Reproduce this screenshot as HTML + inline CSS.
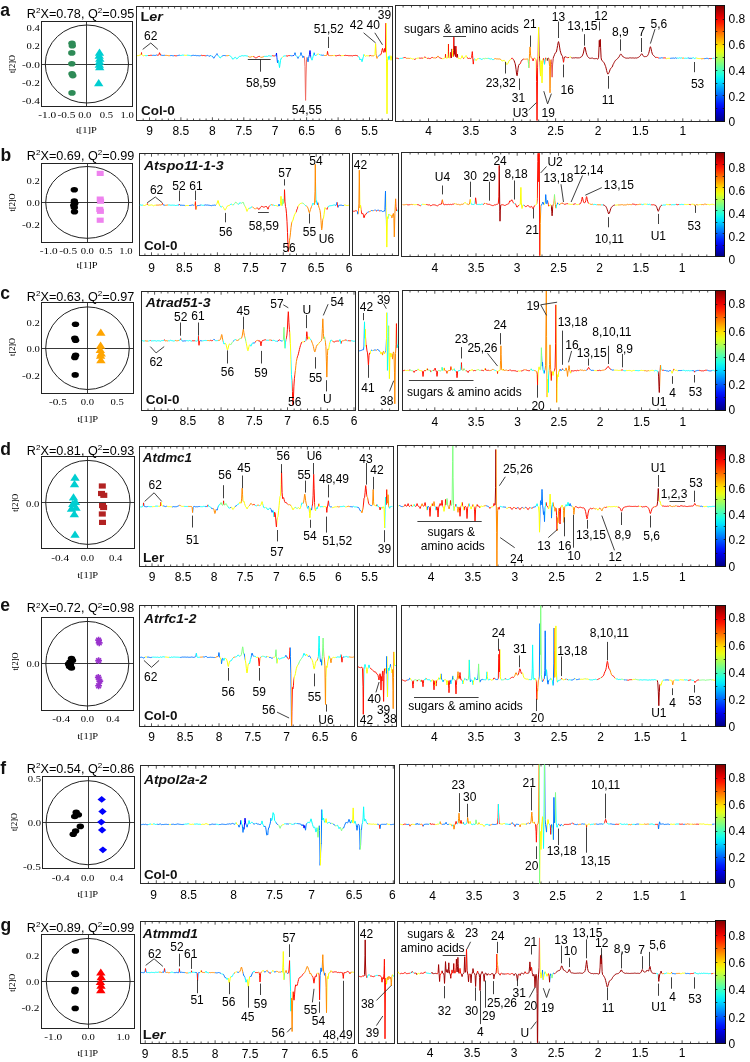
<!DOCTYPE html>
<html><head><meta charset="utf-8"><style>
html,body{margin:0;padding:0;background:#fff;width:750px;height:1062px;overflow:hidden}
svg{display:block;font-family:"Liberation Sans",sans-serif;font-size:12px;will-change:transform}
</style></head><body>
<svg width="750" height="1062" viewBox="0 0 750 1062">
<defs><linearGradient id="jetv" x1="0" y1="0" x2="0" y2="1"><stop offset="0.000" stop-color="#800000"/><stop offset="0.050" stop-color="#b30000"/><stop offset="0.100" stop-color="#e50000"/><stop offset="0.150" stop-color="#ff1a00"/><stop offset="0.200" stop-color="#ff4c00"/><stop offset="0.250" stop-color="#ff8000"/><stop offset="0.300" stop-color="#ffb300"/><stop offset="0.350" stop-color="#ffe500"/><stop offset="0.400" stop-color="#e5ff1a"/><stop offset="0.450" stop-color="#b3ff4c"/><stop offset="0.500" stop-color="#80ff80"/><stop offset="0.550" stop-color="#4cffb3"/><stop offset="0.600" stop-color="#1affe5"/><stop offset="0.650" stop-color="#00e5ff"/><stop offset="0.700" stop-color="#00b3ff"/><stop offset="0.750" stop-color="#0080ff"/><stop offset="0.800" stop-color="#004cff"/><stop offset="0.850" stop-color="#001aff"/><stop offset="0.900" stop-color="#0000e5"/><stop offset="0.950" stop-color="#0000b3"/><stop offset="1.000" stop-color="#000080"/></linearGradient><linearGradient id="g1" gradientUnits="userSpaceOnUse" x1="136.5" y1="0" x2="392.7" y2="0"><stop offset="0.10%" stop-color="#faff05"/><stop offset="1.66%" stop-color="#faff05"/><stop offset="1.66%" stop-color="#ff0f00"/><stop offset="2.24%" stop-color="#ff0f00"/><stop offset="2.24%" stop-color="#faff05"/><stop offset="3.42%" stop-color="#faff05"/><stop offset="3.42%" stop-color="#05fffa"/><stop offset="4.59%" stop-color="#05fffa"/><stop offset="4.59%" stop-color="#ff0f00"/><stop offset="5.95%" stop-color="#ff0f00"/><stop offset="5.95%" stop-color="#0075ff"/><stop offset="7.90%" stop-color="#0075ff"/><stop offset="7.90%" stop-color="#ff0f00"/><stop offset="9.66%" stop-color="#ff0f00"/><stop offset="9.66%" stop-color="#0075ff"/><stop offset="11.22%" stop-color="#0075ff"/><stop offset="11.22%" stop-color="#ff8a00"/><stop offset="13.17%" stop-color="#ff8a00"/><stop offset="13.17%" stop-color="#0075ff"/><stop offset="14.73%" stop-color="#0075ff"/><stop offset="14.73%" stop-color="#ff0f00"/><stop offset="15.71%" stop-color="#ff0f00"/><stop offset="15.71%" stop-color="#0075ff"/><stop offset="16.88%" stop-color="#0075ff"/><stop offset="16.88%" stop-color="#05fffa"/><stop offset="18.44%" stop-color="#05fffa"/><stop offset="18.44%" stop-color="#faff05"/><stop offset="19.61%" stop-color="#faff05"/><stop offset="19.61%" stop-color="#05fffa"/><stop offset="21.17%" stop-color="#05fffa"/><stop offset="21.17%" stop-color="#0075ff"/><stop offset="25.27%" stop-color="#0075ff"/><stop offset="25.27%" stop-color="#ff0f00"/><stop offset="27.22%" stop-color="#ff0f00"/><stop offset="27.22%" stop-color="#0075ff"/><stop offset="28.98%" stop-color="#0075ff"/><stop offset="28.98%" stop-color="#05fffa"/><stop offset="29.57%" stop-color="#05fffa"/><stop offset="29.57%" stop-color="#0075ff"/><stop offset="31.91%" stop-color="#0075ff"/><stop offset="31.91%" stop-color="#05fffa"/><stop offset="33.27%" stop-color="#05fffa"/><stop offset="33.27%" stop-color="#0075ff"/><stop offset="34.84%" stop-color="#0075ff"/><stop offset="34.84%" stop-color="#ff8a00"/><stop offset="36.20%" stop-color="#ff8a00"/><stop offset="36.20%" stop-color="#05fffa"/><stop offset="43.42%" stop-color="#05fffa"/><stop offset="43.42%" stop-color="#ff8a00"/><stop offset="45.18%" stop-color="#ff8a00"/><stop offset="45.18%" stop-color="#faff05"/><stop offset="45.37%" stop-color="#faff05"/><stop offset="45.37%" stop-color="#ff8a00"/><stop offset="45.57%" stop-color="#ff8a00"/><stop offset="45.57%" stop-color="#ff0f00"/><stop offset="47.72%" stop-color="#ff0f00"/><stop offset="47.72%" stop-color="#ff8a00"/><stop offset="47.91%" stop-color="#ff8a00"/><stop offset="47.91%" stop-color="#ff0f00"/><stop offset="48.11%" stop-color="#ff0f00"/><stop offset="48.11%" stop-color="#ff8a00"/><stop offset="49.86%" stop-color="#ff8a00"/><stop offset="49.86%" stop-color="#05fffa"/><stop offset="52.99%" stop-color="#05fffa"/><stop offset="52.99%" stop-color="#ff0f00"/><stop offset="54.16%" stop-color="#ff0f00"/><stop offset="54.16%" stop-color="#0075ff"/><stop offset="54.35%" stop-color="#0075ff"/><stop offset="54.35%" stop-color="#0000fa"/><stop offset="54.74%" stop-color="#0000fa"/><stop offset="54.74%" stop-color="#0075ff"/><stop offset="55.13%" stop-color="#0075ff"/><stop offset="55.13%" stop-color="#05fffa"/><stop offset="56.89%" stop-color="#05fffa"/><stop offset="56.89%" stop-color="#faff05"/><stop offset="57.08%" stop-color="#faff05"/><stop offset="57.08%" stop-color="#05fffa"/><stop offset="58.26%" stop-color="#05fffa"/><stop offset="58.26%" stop-color="#ff0f00"/><stop offset="59.82%" stop-color="#ff0f00"/><stop offset="59.82%" stop-color="#0075ff"/><stop offset="61.18%" stop-color="#0075ff"/><stop offset="61.18%" stop-color="#0000fa"/><stop offset="61.57%" stop-color="#0000fa"/><stop offset="61.57%" stop-color="#0075ff"/><stop offset="62.16%" stop-color="#0075ff"/><stop offset="62.16%" stop-color="#05fffa"/><stop offset="62.55%" stop-color="#05fffa"/><stop offset="62.55%" stop-color="#0075ff"/><stop offset="63.52%" stop-color="#0075ff"/><stop offset="63.52%" stop-color="#05fffa"/><stop offset="63.91%" stop-color="#05fffa"/><stop offset="63.91%" stop-color="#0075ff"/><stop offset="65.48%" stop-color="#0075ff"/><stop offset="65.48%" stop-color="#f06a60"/><stop offset="66.65%" stop-color="#f06a60"/><stop offset="66.65%" stop-color="#0075ff"/><stop offset="67.43%" stop-color="#0075ff"/><stop offset="67.43%" stop-color="#0000fa"/><stop offset="68.01%" stop-color="#0000fa"/><stop offset="68.01%" stop-color="#05fffa"/><stop offset="69.18%" stop-color="#05fffa"/><stop offset="69.18%" stop-color="#0075ff"/><stop offset="69.57%" stop-color="#0075ff"/><stop offset="69.57%" stop-color="#05fffa"/><stop offset="70.36%" stop-color="#05fffa"/><stop offset="70.36%" stop-color="#faff05"/><stop offset="71.33%" stop-color="#faff05"/><stop offset="71.33%" stop-color="#05fffa"/><stop offset="72.11%" stop-color="#05fffa"/><stop offset="72.11%" stop-color="#0075ff"/><stop offset="73.09%" stop-color="#0075ff"/><stop offset="73.09%" stop-color="#ff8a00"/><stop offset="74.26%" stop-color="#ff8a00"/><stop offset="74.26%" stop-color="#ff0f00"/><stop offset="75.23%" stop-color="#ff0f00"/><stop offset="75.23%" stop-color="#ff8a00"/><stop offset="76.60%" stop-color="#ff8a00"/><stop offset="76.60%" stop-color="#faff05"/><stop offset="77.58%" stop-color="#faff05"/><stop offset="77.58%" stop-color="#ff0f00"/><stop offset="79.92%" stop-color="#ff0f00"/><stop offset="79.92%" stop-color="#faff05"/><stop offset="81.09%" stop-color="#faff05"/><stop offset="81.09%" stop-color="#ff0f00"/><stop offset="86.55%" stop-color="#ff0f00"/><stop offset="86.55%" stop-color="#05fffa"/><stop offset="88.70%" stop-color="#05fffa"/><stop offset="88.70%" stop-color="#0075ff"/><stop offset="88.90%" stop-color="#0075ff"/><stop offset="88.90%" stop-color="#faff05"/><stop offset="90.65%" stop-color="#faff05"/><stop offset="90.65%" stop-color="#ff0f00"/><stop offset="91.63%" stop-color="#ff0f00"/><stop offset="91.63%" stop-color="#ff8a00"/><stop offset="92.60%" stop-color="#ff8a00"/><stop offset="92.60%" stop-color="#faff05"/><stop offset="93.58%" stop-color="#faff05"/><stop offset="93.58%" stop-color="#ff8a00"/><stop offset="94.36%" stop-color="#ff8a00"/><stop offset="94.36%" stop-color="#0075ff"/><stop offset="95.14%" stop-color="#0075ff"/><stop offset="95.14%" stop-color="#ff0f00"/><stop offset="97.48%" stop-color="#ff0f00"/><stop offset="97.48%" stop-color="#faff05"/><stop offset="98.26%" stop-color="#faff05"/><stop offset="98.26%" stop-color="#05fffa"/><stop offset="99.04%" stop-color="#05fffa"/><stop offset="99.04%" stop-color="#faff05"/></linearGradient>
<clipPath id="k1"><rect x="137" y="7" width="255.2" height="113.3"/></clipPath>
<linearGradient id="g2" gradientUnits="userSpaceOnUse" x1="395.6" y1="0" x2="715.3" y2="0"><stop offset="0.08%" stop-color="#ff0f00"/><stop offset="1.02%" stop-color="#ff0f00"/><stop offset="1.02%" stop-color="#05fffa"/><stop offset="2.27%" stop-color="#05fffa"/><stop offset="2.27%" stop-color="#ff0f00"/><stop offset="3.36%" stop-color="#ff0f00"/><stop offset="3.36%" stop-color="#ff8a00"/><stop offset="4.46%" stop-color="#ff8a00"/><stop offset="4.46%" stop-color="#faff05"/><stop offset="5.86%" stop-color="#faff05"/><stop offset="5.86%" stop-color="#ff0f00"/><stop offset="6.33%" stop-color="#ff0f00"/><stop offset="6.33%" stop-color="#faff05"/><stop offset="7.43%" stop-color="#faff05"/><stop offset="7.43%" stop-color="#ff0f00"/><stop offset="8.68%" stop-color="#ff0f00"/><stop offset="8.68%" stop-color="#faff05"/><stop offset="8.84%" stop-color="#faff05"/><stop offset="8.84%" stop-color="#ff0f00"/><stop offset="9.46%" stop-color="#ff0f00"/><stop offset="9.46%" stop-color="#faff05"/><stop offset="9.93%" stop-color="#faff05"/><stop offset="9.93%" stop-color="#ff0f00"/><stop offset="11.03%" stop-color="#ff0f00"/><stop offset="11.03%" stop-color="#ff8a00"/><stop offset="11.18%" stop-color="#ff8a00"/><stop offset="11.18%" stop-color="#ff0f00"/><stop offset="11.65%" stop-color="#ff0f00"/><stop offset="11.65%" stop-color="#ff8a00"/><stop offset="12.59%" stop-color="#ff8a00"/><stop offset="12.59%" stop-color="#ff0f00"/><stop offset="12.90%" stop-color="#ff0f00"/><stop offset="12.90%" stop-color="#ff8a00"/><stop offset="13.53%" stop-color="#ff8a00"/><stop offset="13.53%" stop-color="#ff0f00"/><stop offset="14.62%" stop-color="#ff0f00"/><stop offset="14.62%" stop-color="#faff05"/><stop offset="15.41%" stop-color="#faff05"/><stop offset="15.41%" stop-color="#ff0f00"/><stop offset="15.72%" stop-color="#ff0f00"/><stop offset="15.72%" stop-color="#faff05"/><stop offset="16.34%" stop-color="#faff05"/><stop offset="16.34%" stop-color="#ff0f00"/><stop offset="16.66%" stop-color="#ff0f00"/><stop offset="16.66%" stop-color="#faff05"/><stop offset="16.97%" stop-color="#faff05"/><stop offset="16.97%" stop-color="#ff0f00"/><stop offset="17.44%" stop-color="#ff0f00"/><stop offset="17.44%" stop-color="#9e0000"/><stop offset="17.75%" stop-color="#9e0000"/><stop offset="17.75%" stop-color="#faff05"/><stop offset="18.06%" stop-color="#faff05"/><stop offset="18.06%" stop-color="#ff0f00"/><stop offset="18.38%" stop-color="#ff0f00"/><stop offset="18.38%" stop-color="#9e0000"/><stop offset="19.00%" stop-color="#9e0000"/><stop offset="19.00%" stop-color="#ff0f00"/><stop offset="19.16%" stop-color="#ff0f00"/><stop offset="19.16%" stop-color="#9e0000"/><stop offset="19.47%" stop-color="#9e0000"/><stop offset="19.47%" stop-color="#faff05"/><stop offset="20.41%" stop-color="#faff05"/><stop offset="20.41%" stop-color="#ff0f00"/><stop offset="20.57%" stop-color="#ff0f00"/><stop offset="20.57%" stop-color="#faff05"/><stop offset="21.04%" stop-color="#faff05"/><stop offset="21.04%" stop-color="#ff0f00"/><stop offset="21.50%" stop-color="#ff0f00"/><stop offset="21.50%" stop-color="#faff05"/><stop offset="22.44%" stop-color="#faff05"/><stop offset="22.44%" stop-color="#ff0f00"/><stop offset="23.54%" stop-color="#ff0f00"/><stop offset="23.54%" stop-color="#05fffa"/><stop offset="23.69%" stop-color="#05fffa"/><stop offset="23.69%" stop-color="#ff0f00"/><stop offset="24.48%" stop-color="#ff0f00"/><stop offset="24.48%" stop-color="#05fffa"/><stop offset="24.79%" stop-color="#05fffa"/><stop offset="24.79%" stop-color="#faff05"/><stop offset="26.04%" stop-color="#faff05"/><stop offset="26.04%" stop-color="#05fffa"/><stop offset="27.29%" stop-color="#05fffa"/><stop offset="27.29%" stop-color="#80ff80"/><stop offset="28.86%" stop-color="#80ff80"/><stop offset="28.86%" stop-color="#05fffa"/><stop offset="30.89%" stop-color="#05fffa"/><stop offset="30.89%" stop-color="#ff8a00"/><stop offset="32.92%" stop-color="#ff8a00"/><stop offset="32.92%" stop-color="#faff05"/><stop offset="36.05%" stop-color="#faff05"/><stop offset="36.05%" stop-color="#ff0f00"/><stop offset="36.68%" stop-color="#ff0f00"/><stop offset="36.68%" stop-color="#9e0000"/><stop offset="38.86%" stop-color="#9e0000"/><stop offset="38.86%" stop-color="#ff0f00"/><stop offset="39.33%" stop-color="#ff0f00"/><stop offset="39.33%" stop-color="#9e0000"/><stop offset="39.80%" stop-color="#9e0000"/><stop offset="39.80%" stop-color="#ff0f00"/><stop offset="40.12%" stop-color="#ff0f00"/><stop offset="40.12%" stop-color="#ff8a00"/><stop offset="41.52%" stop-color="#ff8a00"/><stop offset="41.52%" stop-color="#80ff80"/><stop offset="41.84%" stop-color="#80ff80"/><stop offset="41.84%" stop-color="#ff8a00"/><stop offset="42.31%" stop-color="#ff8a00"/><stop offset="42.31%" stop-color="#05fffa"/><stop offset="42.46%" stop-color="#05fffa"/><stop offset="42.46%" stop-color="#ff8a00"/><stop offset="42.77%" stop-color="#ff8a00"/><stop offset="42.77%" stop-color="#ff0f00"/><stop offset="43.24%" stop-color="#ff0f00"/><stop offset="43.24%" stop-color="#ff8a00"/><stop offset="43.56%" stop-color="#ff8a00"/><stop offset="43.56%" stop-color="#faff05"/><stop offset="43.87%" stop-color="#faff05"/><stop offset="43.87%" stop-color="#ff0f00"/><stop offset="44.49%" stop-color="#ff0f00"/><stop offset="44.49%" stop-color="#faff05"/><stop offset="44.96%" stop-color="#faff05"/><stop offset="44.96%" stop-color="#9e0000"/><stop offset="45.12%" stop-color="#9e0000"/><stop offset="45.12%" stop-color="#faff05"/><stop offset="46.06%" stop-color="#faff05"/><stop offset="46.06%" stop-color="#ff0f00"/><stop offset="46.37%" stop-color="#ff0f00"/><stop offset="46.37%" stop-color="#05fffa"/><stop offset="46.84%" stop-color="#05fffa"/><stop offset="46.84%" stop-color="#ff0f00"/><stop offset="47.15%" stop-color="#ff0f00"/><stop offset="47.15%" stop-color="#80ff80"/><stop offset="47.47%" stop-color="#80ff80"/><stop offset="47.47%" stop-color="#9e0000"/><stop offset="47.94%" stop-color="#9e0000"/><stop offset="47.94%" stop-color="#ff8a00"/><stop offset="48.56%" stop-color="#ff8a00"/><stop offset="48.56%" stop-color="#e05050"/><stop offset="49.34%" stop-color="#e05050"/><stop offset="49.34%" stop-color="#9e0000"/><stop offset="52.31%" stop-color="#9e0000"/><stop offset="52.31%" stop-color="#ff0f00"/><stop offset="52.78%" stop-color="#ff0f00"/><stop offset="52.78%" stop-color="#9e0000"/><stop offset="53.41%" stop-color="#9e0000"/><stop offset="53.41%" stop-color="#ff0f00"/><stop offset="54.04%" stop-color="#ff0f00"/><stop offset="54.04%" stop-color="#9e0000"/><stop offset="54.35%" stop-color="#9e0000"/><stop offset="54.35%" stop-color="#faff05"/><stop offset="54.82%" stop-color="#faff05"/><stop offset="54.82%" stop-color="#9e0000"/><stop offset="81.40%" stop-color="#9e0000"/><stop offset="81.40%" stop-color="#ff0f00"/><stop offset="82.50%" stop-color="#ff0f00"/><stop offset="82.50%" stop-color="#0075ff"/><stop offset="83.59%" stop-color="#0075ff"/><stop offset="83.59%" stop-color="#ff0f00"/><stop offset="84.53%" stop-color="#ff0f00"/><stop offset="84.53%" stop-color="#faff05"/><stop offset="85.78%" stop-color="#faff05"/><stop offset="85.78%" stop-color="#0075ff"/><stop offset="87.97%" stop-color="#0075ff"/><stop offset="87.97%" stop-color="#05fffa"/><stop offset="89.54%" stop-color="#05fffa"/><stop offset="89.54%" stop-color="#ff8a00"/><stop offset="90.32%" stop-color="#ff8a00"/><stop offset="90.32%" stop-color="#05fffa"/><stop offset="91.41%" stop-color="#05fffa"/><stop offset="91.41%" stop-color="#0075ff"/><stop offset="92.66%" stop-color="#0075ff"/><stop offset="92.66%" stop-color="#05fffa"/><stop offset="94.07%" stop-color="#05fffa"/><stop offset="94.07%" stop-color="#faff05"/><stop offset="95.48%" stop-color="#faff05"/><stop offset="95.48%" stop-color="#ff8a00"/><stop offset="96.57%" stop-color="#ff8a00"/><stop offset="96.57%" stop-color="#0075ff"/><stop offset="98.14%" stop-color="#0075ff"/><stop offset="98.14%" stop-color="#ff0f00"/><stop offset="99.08%" stop-color="#ff0f00"/><stop offset="99.08%" stop-color="#05fffa"/></linearGradient>
<clipPath id="k2"><rect x="396.1" y="6.3" width="318.7" height="114.2"/></clipPath>
<linearGradient id="g3" gradientUnits="userSpaceOnUse" x1="139" y1="0" x2="349.5" y2="0"><stop offset="0.12%" stop-color="#05fffa"/><stop offset="1.78%" stop-color="#05fffa"/><stop offset="1.78%" stop-color="#faff05"/><stop offset="3.68%" stop-color="#faff05"/><stop offset="3.68%" stop-color="#ff0f00"/><stop offset="4.16%" stop-color="#ff0f00"/><stop offset="4.16%" stop-color="#faff05"/><stop offset="8.19%" stop-color="#faff05"/><stop offset="8.19%" stop-color="#ff8a00"/><stop offset="10.81%" stop-color="#ff8a00"/><stop offset="10.81%" stop-color="#ff0f00"/><stop offset="11.28%" stop-color="#ff0f00"/><stop offset="11.28%" stop-color="#0075ff"/><stop offset="12.23%" stop-color="#0075ff"/><stop offset="12.23%" stop-color="#ff8a00"/><stop offset="13.90%" stop-color="#ff8a00"/><stop offset="13.90%" stop-color="#05fffa"/><stop offset="18.41%" stop-color="#05fffa"/><stop offset="18.41%" stop-color="#0075ff"/><stop offset="18.88%" stop-color="#0075ff"/><stop offset="18.88%" stop-color="#ff0f00"/><stop offset="19.36%" stop-color="#ff0f00"/><stop offset="19.36%" stop-color="#0075ff"/><stop offset="21.73%" stop-color="#0075ff"/><stop offset="21.73%" stop-color="#faff05"/><stop offset="23.63%" stop-color="#faff05"/><stop offset="23.63%" stop-color="#0075ff"/><stop offset="26.01%" stop-color="#0075ff"/><stop offset="26.01%" stop-color="#ff8a00"/><stop offset="26.48%" stop-color="#ff8a00"/><stop offset="26.48%" stop-color="#ff0f00"/><stop offset="27.20%" stop-color="#ff0f00"/><stop offset="27.20%" stop-color="#ff8a00"/><stop offset="27.67%" stop-color="#ff8a00"/><stop offset="27.67%" stop-color="#0075ff"/><stop offset="29.57%" stop-color="#0075ff"/><stop offset="29.57%" stop-color="#05fffa"/><stop offset="30.76%" stop-color="#05fffa"/><stop offset="30.76%" stop-color="#0075ff"/><stop offset="36.70%" stop-color="#0075ff"/><stop offset="36.70%" stop-color="#faff05"/><stop offset="38.36%" stop-color="#faff05"/><stop offset="38.36%" stop-color="#05fffa"/><stop offset="39.55%" stop-color="#05fffa"/><stop offset="39.55%" stop-color="#faff05"/><stop offset="43.35%" stop-color="#faff05"/><stop offset="43.35%" stop-color="#05fffa"/><stop offset="44.06%" stop-color="#05fffa"/><stop offset="44.06%" stop-color="#faff05"/><stop offset="44.77%" stop-color="#faff05"/><stop offset="44.77%" stop-color="#05fffa"/><stop offset="45.01%" stop-color="#05fffa"/><stop offset="45.01%" stop-color="#80ff80"/><stop offset="47.15%" stop-color="#80ff80"/><stop offset="47.15%" stop-color="#05fffa"/><stop offset="48.57%" stop-color="#05fffa"/><stop offset="48.57%" stop-color="#80ff80"/><stop offset="50.24%" stop-color="#80ff80"/><stop offset="50.24%" stop-color="#faff05"/><stop offset="52.14%" stop-color="#faff05"/><stop offset="52.14%" stop-color="#05fffa"/><stop offset="53.80%" stop-color="#05fffa"/><stop offset="53.80%" stop-color="#ff8a00"/><stop offset="56.18%" stop-color="#ff8a00"/><stop offset="56.18%" stop-color="#ff0f00"/><stop offset="62.11%" stop-color="#ff0f00"/><stop offset="62.11%" stop-color="#05fffa"/><stop offset="62.83%" stop-color="#05fffa"/><stop offset="62.83%" stop-color="#ff8a00"/><stop offset="63.54%" stop-color="#ff8a00"/><stop offset="63.54%" stop-color="#05fffa"/><stop offset="64.49%" stop-color="#05fffa"/><stop offset="64.49%" stop-color="#faff05"/><stop offset="65.91%" stop-color="#faff05"/><stop offset="65.91%" stop-color="#0075ff"/><stop offset="66.39%" stop-color="#0075ff"/><stop offset="66.39%" stop-color="#ff0f00"/><stop offset="66.63%" stop-color="#ff0f00"/><stop offset="66.63%" stop-color="#0075ff"/><stop offset="67.10%" stop-color="#0075ff"/><stop offset="67.10%" stop-color="#faff05"/><stop offset="67.81%" stop-color="#faff05"/><stop offset="67.81%" stop-color="#ff0f00"/><stop offset="68.05%" stop-color="#ff0f00"/><stop offset="68.05%" stop-color="#80ff80"/><stop offset="68.76%" stop-color="#80ff80"/><stop offset="68.76%" stop-color="#ff0f00"/><stop offset="71.38%" stop-color="#ff0f00"/><stop offset="71.38%" stop-color="#ff8a00"/><stop offset="72.80%" stop-color="#ff8a00"/><stop offset="72.80%" stop-color="#faff05"/><stop offset="74.47%" stop-color="#faff05"/><stop offset="74.47%" stop-color="#ff0f00"/><stop offset="75.42%" stop-color="#ff0f00"/><stop offset="75.42%" stop-color="#faff05"/><stop offset="77.55%" stop-color="#faff05"/><stop offset="77.55%" stop-color="#80ff80"/><stop offset="78.98%" stop-color="#80ff80"/><stop offset="78.98%" stop-color="#05fffa"/><stop offset="79.22%" stop-color="#05fffa"/><stop offset="79.22%" stop-color="#ff8a00"/><stop offset="82.30%" stop-color="#ff8a00"/><stop offset="82.30%" stop-color="#05fffa"/><stop offset="83.25%" stop-color="#05fffa"/><stop offset="83.25%" stop-color="#ff8a00"/><stop offset="83.97%" stop-color="#ff8a00"/><stop offset="83.97%" stop-color="#05fffa"/><stop offset="84.68%" stop-color="#05fffa"/><stop offset="84.68%" stop-color="#0075ff"/><stop offset="85.15%" stop-color="#0075ff"/><stop offset="85.15%" stop-color="#ff8a00"/><stop offset="87.53%" stop-color="#ff8a00"/><stop offset="87.53%" stop-color="#faff05"/><stop offset="88.72%" stop-color="#faff05"/><stop offset="88.72%" stop-color="#ff0f00"/><stop offset="89.90%" stop-color="#ff0f00"/><stop offset="89.90%" stop-color="#05fffa"/><stop offset="92.99%" stop-color="#05fffa"/><stop offset="92.99%" stop-color="#0075ff"/><stop offset="93.94%" stop-color="#0075ff"/><stop offset="93.94%" stop-color="#ff0f00"/><stop offset="94.66%" stop-color="#ff0f00"/><stop offset="94.66%" stop-color="#0075ff"/><stop offset="97.51%" stop-color="#0075ff"/><stop offset="97.51%" stop-color="#faff05"/></linearGradient>
<clipPath id="k3"><rect x="139.5" y="154.3" width="209.5" height="101"/></clipPath>
<linearGradient id="g4" gradientUnits="userSpaceOnUse" x1="352.4" y1="0" x2="398.5" y2="0"><stop offset="0.54%" stop-color="#ff0f00"/><stop offset="9.22%" stop-color="#ff0f00"/><stop offset="9.22%" stop-color="#0075ff"/><stop offset="11.39%" stop-color="#0075ff"/><stop offset="11.39%" stop-color="#ff8a00"/><stop offset="16.81%" stop-color="#ff8a00"/><stop offset="16.81%" stop-color="#faff05"/><stop offset="18.98%" stop-color="#faff05"/><stop offset="18.98%" stop-color="#ff0f00"/><stop offset="20.07%" stop-color="#ff0f00"/><stop offset="20.07%" stop-color="#05fffa"/><stop offset="21.15%" stop-color="#05fffa"/><stop offset="21.15%" stop-color="#ff0f00"/><stop offset="32.00%" stop-color="#ff0f00"/><stop offset="32.00%" stop-color="#0075ff"/><stop offset="36.33%" stop-color="#0075ff"/><stop offset="36.33%" stop-color="#ff8a00"/><stop offset="40.67%" stop-color="#ff8a00"/><stop offset="40.67%" stop-color="#0075ff"/><stop offset="43.93%" stop-color="#0075ff"/><stop offset="43.93%" stop-color="#ff8a00"/><stop offset="46.10%" stop-color="#ff8a00"/><stop offset="46.10%" stop-color="#ff0f00"/><stop offset="47.18%" stop-color="#ff0f00"/><stop offset="47.18%" stop-color="#0075ff"/><stop offset="50.43%" stop-color="#0075ff"/><stop offset="50.43%" stop-color="#ff0f00"/><stop offset="53.69%" stop-color="#ff0f00"/><stop offset="53.69%" stop-color="#0075ff"/><stop offset="56.94%" stop-color="#0075ff"/><stop offset="56.94%" stop-color="#ff0f00"/><stop offset="59.11%" stop-color="#ff0f00"/><stop offset="59.11%" stop-color="#0075ff"/><stop offset="73.21%" stop-color="#0075ff"/><stop offset="73.21%" stop-color="#faff05"/><stop offset="76.46%" stop-color="#faff05"/><stop offset="76.46%" stop-color="#80ff80"/><stop offset="78.63%" stop-color="#80ff80"/><stop offset="78.63%" stop-color="#faff05"/><stop offset="82.97%" stop-color="#faff05"/><stop offset="82.97%" stop-color="#ff8a00"/><stop offset="94.90%" stop-color="#ff8a00"/><stop offset="94.90%" stop-color="#ff0f00"/><stop offset="95.99%" stop-color="#ff0f00"/><stop offset="95.99%" stop-color="#05fffa"/><stop offset="98.16%" stop-color="#05fffa"/><stop offset="98.16%" stop-color="#ff0f00"/></linearGradient>
<clipPath id="k4"><rect x="352.9" y="153.8" width="45.1" height="100.8"/></clipPath>
<linearGradient id="g5" gradientUnits="userSpaceOnUse" x1="401.8" y1="0" x2="715.3" y2="0"><stop offset="0.08%" stop-color="#ff8a00"/><stop offset="1.67%" stop-color="#ff8a00"/><stop offset="1.67%" stop-color="#ff0f00"/><stop offset="2.47%" stop-color="#ff0f00"/><stop offset="2.47%" stop-color="#ff8a00"/><stop offset="3.59%" stop-color="#ff8a00"/><stop offset="3.59%" stop-color="#faff05"/><stop offset="4.70%" stop-color="#faff05"/><stop offset="4.70%" stop-color="#ff0f00"/><stop offset="6.14%" stop-color="#ff0f00"/><stop offset="6.14%" stop-color="#05fffa"/><stop offset="6.46%" stop-color="#05fffa"/><stop offset="6.46%" stop-color="#faff05"/><stop offset="7.58%" stop-color="#faff05"/><stop offset="7.58%" stop-color="#ff0f00"/><stop offset="12.68%" stop-color="#ff0f00"/><stop offset="12.68%" stop-color="#ff8a00"/><stop offset="13.16%" stop-color="#ff8a00"/><stop offset="13.16%" stop-color="#ff0f00"/><stop offset="16.67%" stop-color="#ff0f00"/><stop offset="16.67%" stop-color="#ff8a00"/><stop offset="16.83%" stop-color="#ff8a00"/><stop offset="16.83%" stop-color="#faff05"/><stop offset="17.15%" stop-color="#faff05"/><stop offset="17.15%" stop-color="#ff8a00"/><stop offset="19.70%" stop-color="#ff8a00"/><stop offset="19.70%" stop-color="#faff05"/><stop offset="20.65%" stop-color="#faff05"/><stop offset="20.65%" stop-color="#ff8a00"/><stop offset="21.61%" stop-color="#ff8a00"/><stop offset="21.61%" stop-color="#faff05"/><stop offset="22.09%" stop-color="#faff05"/><stop offset="22.09%" stop-color="#05fffa"/><stop offset="23.21%" stop-color="#05fffa"/><stop offset="23.21%" stop-color="#ff0f00"/><stop offset="23.84%" stop-color="#ff0f00"/><stop offset="23.84%" stop-color="#05fffa"/><stop offset="25.76%" stop-color="#05fffa"/><stop offset="25.76%" stop-color="#ff0f00"/><stop offset="26.40%" stop-color="#ff0f00"/><stop offset="26.40%" stop-color="#faff05"/><stop offset="26.71%" stop-color="#faff05"/><stop offset="26.71%" stop-color="#ff0f00"/><stop offset="30.86%" stop-color="#ff0f00"/><stop offset="30.86%" stop-color="#9e0000"/><stop offset="31.50%" stop-color="#9e0000"/><stop offset="31.50%" stop-color="#ff0f00"/><stop offset="35.81%" stop-color="#ff0f00"/><stop offset="35.81%" stop-color="#05fffa"/><stop offset="35.96%" stop-color="#05fffa"/><stop offset="35.96%" stop-color="#ff0f00"/><stop offset="37.24%" stop-color="#ff0f00"/><stop offset="37.24%" stop-color="#faff05"/><stop offset="38.52%" stop-color="#faff05"/><stop offset="38.52%" stop-color="#05fffa"/><stop offset="39.00%" stop-color="#05fffa"/><stop offset="39.00%" stop-color="#ff0f00"/><stop offset="42.50%" stop-color="#ff0f00"/><stop offset="42.50%" stop-color="#faff05"/><stop offset="42.98%" stop-color="#faff05"/><stop offset="42.98%" stop-color="#ff0f00"/><stop offset="43.94%" stop-color="#ff0f00"/><stop offset="43.94%" stop-color="#ff8a00"/><stop offset="44.42%" stop-color="#ff8a00"/><stop offset="44.42%" stop-color="#0075ff"/><stop offset="45.22%" stop-color="#0075ff"/><stop offset="45.22%" stop-color="#faff05"/><stop offset="45.69%" stop-color="#faff05"/><stop offset="45.69%" stop-color="#0075ff"/><stop offset="46.65%" stop-color="#0075ff"/><stop offset="46.65%" stop-color="#ff0f00"/><stop offset="46.81%" stop-color="#ff0f00"/><stop offset="46.81%" stop-color="#faff05"/><stop offset="47.61%" stop-color="#faff05"/><stop offset="47.61%" stop-color="#9e0000"/><stop offset="48.25%" stop-color="#9e0000"/><stop offset="48.25%" stop-color="#ff8a00"/><stop offset="48.56%" stop-color="#ff8a00"/><stop offset="48.56%" stop-color="#80ff80"/><stop offset="48.88%" stop-color="#80ff80"/><stop offset="48.88%" stop-color="#ff8a00"/><stop offset="49.04%" stop-color="#ff8a00"/><stop offset="49.04%" stop-color="#05fffa"/><stop offset="49.36%" stop-color="#05fffa"/><stop offset="49.36%" stop-color="#ff8a00"/><stop offset="49.52%" stop-color="#ff8a00"/><stop offset="49.52%" stop-color="#0075ff"/><stop offset="49.68%" stop-color="#0075ff"/><stop offset="49.68%" stop-color="#faff05"/><stop offset="50.00%" stop-color="#faff05"/><stop offset="50.00%" stop-color="#0075ff"/><stop offset="50.32%" stop-color="#0075ff"/><stop offset="50.32%" stop-color="#ff8a00"/><stop offset="50.96%" stop-color="#ff8a00"/><stop offset="50.96%" stop-color="#ff0f00"/><stop offset="51.28%" stop-color="#ff0f00"/><stop offset="51.28%" stop-color="#ff8a00"/><stop offset="51.75%" stop-color="#ff8a00"/><stop offset="51.75%" stop-color="#ff0f00"/><stop offset="53.03%" stop-color="#ff0f00"/><stop offset="53.03%" stop-color="#faff05"/><stop offset="54.47%" stop-color="#faff05"/><stop offset="54.47%" stop-color="#ff0f00"/><stop offset="55.42%" stop-color="#ff0f00"/><stop offset="55.42%" stop-color="#faff05"/><stop offset="56.38%" stop-color="#faff05"/><stop offset="56.38%" stop-color="#ff0f00"/><stop offset="59.73%" stop-color="#ff0f00"/><stop offset="59.73%" stop-color="#faff05"/><stop offset="60.05%" stop-color="#faff05"/><stop offset="60.05%" stop-color="#ff8a00"/><stop offset="60.85%" stop-color="#ff8a00"/><stop offset="60.85%" stop-color="#05fffa"/><stop offset="62.12%" stop-color="#05fffa"/><stop offset="62.12%" stop-color="#ff8a00"/><stop offset="63.56%" stop-color="#ff8a00"/><stop offset="63.56%" stop-color="#05fffa"/><stop offset="64.04%" stop-color="#05fffa"/><stop offset="64.04%" stop-color="#9e0000"/><stop offset="68.02%" stop-color="#9e0000"/><stop offset="68.02%" stop-color="#faff05"/><stop offset="68.82%" stop-color="#faff05"/><stop offset="68.82%" stop-color="#ff8a00"/><stop offset="73.44%" stop-color="#ff8a00"/><stop offset="73.44%" stop-color="#ff0f00"/><stop offset="74.88%" stop-color="#ff0f00"/><stop offset="74.88%" stop-color="#ff8a00"/><stop offset="76.32%" stop-color="#ff8a00"/><stop offset="76.32%" stop-color="#05fffa"/><stop offset="77.27%" stop-color="#05fffa"/><stop offset="77.27%" stop-color="#faff05"/><stop offset="78.23%" stop-color="#faff05"/><stop offset="78.23%" stop-color="#05fffa"/><stop offset="79.51%" stop-color="#05fffa"/><stop offset="79.51%" stop-color="#ff0f00"/><stop offset="80.62%" stop-color="#ff0f00"/><stop offset="80.62%" stop-color="#9e0000"/><stop offset="83.01%" stop-color="#9e0000"/><stop offset="83.01%" stop-color="#05fffa"/><stop offset="84.13%" stop-color="#05fffa"/><stop offset="84.13%" stop-color="#faff05"/><stop offset="85.09%" stop-color="#faff05"/><stop offset="85.09%" stop-color="#ff8a00"/><stop offset="85.89%" stop-color="#ff8a00"/><stop offset="85.89%" stop-color="#05fffa"/><stop offset="87.32%" stop-color="#05fffa"/><stop offset="87.32%" stop-color="#ff0f00"/><stop offset="88.28%" stop-color="#ff0f00"/><stop offset="88.28%" stop-color="#05fffa"/><stop offset="89.87%" stop-color="#05fffa"/><stop offset="89.87%" stop-color="#faff05"/><stop offset="91.47%" stop-color="#faff05"/><stop offset="91.47%" stop-color="#ff0f00"/><stop offset="92.26%" stop-color="#ff0f00"/><stop offset="92.26%" stop-color="#faff05"/><stop offset="93.06%" stop-color="#faff05"/><stop offset="93.06%" stop-color="#ff8a00"/><stop offset="93.38%" stop-color="#ff8a00"/><stop offset="93.38%" stop-color="#faff05"/><stop offset="93.70%" stop-color="#faff05"/><stop offset="93.70%" stop-color="#ff8a00"/><stop offset="94.50%" stop-color="#ff8a00"/><stop offset="94.50%" stop-color="#faff05"/><stop offset="95.45%" stop-color="#faff05"/><stop offset="95.45%" stop-color="#ff8a00"/><stop offset="97.37%" stop-color="#ff8a00"/><stop offset="97.37%" stop-color="#faff05"/></linearGradient>
<clipPath id="k5"><rect x="402.3" y="153.3" width="312.5" height="102.4"/></clipPath>
<linearGradient id="g6" gradientUnits="userSpaceOnUse" x1="141.4" y1="0" x2="355.6" y2="0"><stop offset="0.12%" stop-color="#05fffa"/><stop offset="1.75%" stop-color="#05fffa"/><stop offset="1.75%" stop-color="#ff8a00"/><stop offset="2.92%" stop-color="#ff8a00"/><stop offset="2.92%" stop-color="#05fffa"/><stop offset="4.08%" stop-color="#05fffa"/><stop offset="4.08%" stop-color="#ff0f00"/><stop offset="4.32%" stop-color="#ff0f00"/><stop offset="4.32%" stop-color="#05fffa"/><stop offset="10.39%" stop-color="#05fffa"/><stop offset="10.39%" stop-color="#ff0f00"/><stop offset="10.85%" stop-color="#ff0f00"/><stop offset="10.85%" stop-color="#ff8a00"/><stop offset="12.25%" stop-color="#ff8a00"/><stop offset="12.25%" stop-color="#05fffa"/><stop offset="15.76%" stop-color="#05fffa"/><stop offset="15.76%" stop-color="#ff8a00"/><stop offset="17.39%" stop-color="#ff8a00"/><stop offset="17.39%" stop-color="#05fffa"/><stop offset="18.09%" stop-color="#05fffa"/><stop offset="18.09%" stop-color="#ff0f00"/><stop offset="18.56%" stop-color="#ff0f00"/><stop offset="18.56%" stop-color="#05fffa"/><stop offset="18.79%" stop-color="#05fffa"/><stop offset="18.79%" stop-color="#0075ff"/><stop offset="20.66%" stop-color="#0075ff"/><stop offset="20.66%" stop-color="#05fffa"/><stop offset="23.69%" stop-color="#05fffa"/><stop offset="23.69%" stop-color="#ff0f00"/><stop offset="24.86%" stop-color="#ff0f00"/><stop offset="24.86%" stop-color="#05fffa"/><stop offset="26.26%" stop-color="#05fffa"/><stop offset="26.26%" stop-color="#ff0f00"/><stop offset="27.19%" stop-color="#ff0f00"/><stop offset="27.19%" stop-color="#0075ff"/><stop offset="28.36%" stop-color="#0075ff"/><stop offset="28.36%" stop-color="#05fffa"/><stop offset="30.70%" stop-color="#05fffa"/><stop offset="30.70%" stop-color="#ff8a00"/><stop offset="31.86%" stop-color="#ff8a00"/><stop offset="31.86%" stop-color="#ff0f00"/><stop offset="33.50%" stop-color="#ff0f00"/><stop offset="33.50%" stop-color="#0075ff"/><stop offset="34.20%" stop-color="#0075ff"/><stop offset="34.20%" stop-color="#05fffa"/><stop offset="35.60%" stop-color="#05fffa"/><stop offset="35.60%" stop-color="#ff8a00"/><stop offset="38.17%" stop-color="#ff8a00"/><stop offset="38.17%" stop-color="#05fffa"/><stop offset="38.87%" stop-color="#05fffa"/><stop offset="38.87%" stop-color="#faff05"/><stop offset="41.43%" stop-color="#faff05"/><stop offset="41.43%" stop-color="#80ff80"/><stop offset="42.60%" stop-color="#80ff80"/><stop offset="42.60%" stop-color="#0075ff"/><stop offset="43.30%" stop-color="#0075ff"/><stop offset="43.30%" stop-color="#05fffa"/><stop offset="44.23%" stop-color="#05fffa"/><stop offset="44.23%" stop-color="#ff8a00"/><stop offset="45.40%" stop-color="#ff8a00"/><stop offset="45.40%" stop-color="#80ff80"/><stop offset="46.34%" stop-color="#80ff80"/><stop offset="46.34%" stop-color="#ff8a00"/><stop offset="48.20%" stop-color="#ff8a00"/><stop offset="48.20%" stop-color="#80ff80"/><stop offset="48.67%" stop-color="#80ff80"/><stop offset="48.67%" stop-color="#faff05"/><stop offset="50.77%" stop-color="#faff05"/><stop offset="50.77%" stop-color="#05fffa"/><stop offset="51.94%" stop-color="#05fffa"/><stop offset="51.94%" stop-color="#0075ff"/><stop offset="53.10%" stop-color="#0075ff"/><stop offset="53.10%" stop-color="#ff0f00"/><stop offset="53.57%" stop-color="#ff0f00"/><stop offset="53.57%" stop-color="#ff8a00"/><stop offset="54.27%" stop-color="#ff8a00"/><stop offset="54.27%" stop-color="#ff0f00"/><stop offset="57.07%" stop-color="#ff0f00"/><stop offset="57.07%" stop-color="#0075ff"/><stop offset="57.31%" stop-color="#0075ff"/><stop offset="57.31%" stop-color="#ff0f00"/><stop offset="58.01%" stop-color="#ff0f00"/><stop offset="58.01%" stop-color="#0075ff"/><stop offset="58.24%" stop-color="#0075ff"/><stop offset="58.24%" stop-color="#05fffa"/><stop offset="59.41%" stop-color="#05fffa"/><stop offset="59.41%" stop-color="#ff0f00"/><stop offset="59.64%" stop-color="#ff0f00"/><stop offset="59.64%" stop-color="#ff8a00"/><stop offset="60.34%" stop-color="#ff8a00"/><stop offset="60.34%" stop-color="#ff0f00"/><stop offset="61.04%" stop-color="#ff0f00"/><stop offset="61.04%" stop-color="#05fffa"/><stop offset="63.14%" stop-color="#05fffa"/><stop offset="63.14%" stop-color="#0075ff"/><stop offset="63.84%" stop-color="#0075ff"/><stop offset="63.84%" stop-color="#ff0f00"/><stop offset="64.54%" stop-color="#ff0f00"/><stop offset="64.54%" stop-color="#0075ff"/><stop offset="65.48%" stop-color="#0075ff"/><stop offset="65.48%" stop-color="#05fffa"/><stop offset="66.18%" stop-color="#05fffa"/><stop offset="66.18%" stop-color="#80ff80"/><stop offset="66.88%" stop-color="#80ff80"/><stop offset="66.88%" stop-color="#05fffa"/><stop offset="67.34%" stop-color="#05fffa"/><stop offset="67.34%" stop-color="#ff0f00"/><stop offset="69.21%" stop-color="#ff0f00"/><stop offset="69.21%" stop-color="#faff05"/><stop offset="69.68%" stop-color="#faff05"/><stop offset="69.68%" stop-color="#05fffa"/><stop offset="70.14%" stop-color="#05fffa"/><stop offset="70.14%" stop-color="#ff0f00"/><stop offset="71.55%" stop-color="#ff0f00"/><stop offset="71.55%" stop-color="#ff8a00"/><stop offset="72.71%" stop-color="#ff8a00"/><stop offset="72.71%" stop-color="#ff0f00"/><stop offset="74.81%" stop-color="#ff0f00"/><stop offset="74.81%" stop-color="#faff05"/><stop offset="75.75%" stop-color="#faff05"/><stop offset="75.75%" stop-color="#ff0f00"/><stop offset="76.21%" stop-color="#ff0f00"/><stop offset="76.21%" stop-color="#05fffa"/><stop offset="76.68%" stop-color="#05fffa"/><stop offset="76.68%" stop-color="#ff0f00"/><stop offset="77.61%" stop-color="#ff0f00"/><stop offset="77.61%" stop-color="#faff05"/><stop offset="78.78%" stop-color="#faff05"/><stop offset="78.78%" stop-color="#05fffa"/><stop offset="79.25%" stop-color="#05fffa"/><stop offset="79.25%" stop-color="#ff8a00"/><stop offset="82.52%" stop-color="#ff8a00"/><stop offset="82.52%" stop-color="#faff05"/><stop offset="82.75%" stop-color="#faff05"/><stop offset="82.75%" stop-color="#ff8a00"/><stop offset="83.68%" stop-color="#ff8a00"/><stop offset="83.68%" stop-color="#0075ff"/><stop offset="83.92%" stop-color="#0075ff"/><stop offset="83.92%" stop-color="#ff8a00"/><stop offset="85.32%" stop-color="#ff8a00"/><stop offset="85.32%" stop-color="#80ff80"/><stop offset="85.78%" stop-color="#80ff80"/><stop offset="85.78%" stop-color="#ff8a00"/><stop offset="86.95%" stop-color="#ff8a00"/><stop offset="86.95%" stop-color="#faff05"/><stop offset="88.12%" stop-color="#faff05"/><stop offset="88.12%" stop-color="#05fffa"/><stop offset="89.05%" stop-color="#05fffa"/><stop offset="89.05%" stop-color="#ff8a00"/><stop offset="89.52%" stop-color="#ff8a00"/><stop offset="89.52%" stop-color="#ff0f00"/><stop offset="92.32%" stop-color="#ff0f00"/><stop offset="92.32%" stop-color="#05fffa"/><stop offset="92.55%" stop-color="#05fffa"/><stop offset="92.55%" stop-color="#ff0f00"/><stop offset="92.79%" stop-color="#ff0f00"/><stop offset="92.79%" stop-color="#05fffa"/><stop offset="93.02%" stop-color="#05fffa"/><stop offset="93.02%" stop-color="#ff0f00"/><stop offset="93.49%" stop-color="#ff0f00"/><stop offset="93.49%" stop-color="#05fffa"/><stop offset="93.72%" stop-color="#05fffa"/><stop offset="93.72%" stop-color="#ff8a00"/><stop offset="95.12%" stop-color="#ff8a00"/><stop offset="95.12%" stop-color="#ff0f00"/><stop offset="95.82%" stop-color="#ff0f00"/><stop offset="95.82%" stop-color="#05fffa"/><stop offset="96.52%" stop-color="#05fffa"/><stop offset="96.52%" stop-color="#ff0f00"/><stop offset="97.92%" stop-color="#ff0f00"/><stop offset="97.92%" stop-color="#05fffa"/></linearGradient>
<clipPath id="k6"><rect x="141.9" y="292.1" width="213.2" height="117.4"/></clipPath>
<linearGradient id="g7" gradientUnits="userSpaceOnUse" x1="358.5" y1="0" x2="398.8" y2="0"><stop offset="0.62%" stop-color="#0075ff"/><stop offset="13.03%" stop-color="#0075ff"/><stop offset="13.03%" stop-color="#05fffa"/><stop offset="15.51%" stop-color="#05fffa"/><stop offset="15.51%" stop-color="#faff05"/><stop offset="17.99%" stop-color="#faff05"/><stop offset="17.99%" stop-color="#ff0f00"/><stop offset="20.47%" stop-color="#ff0f00"/><stop offset="20.47%" stop-color="#0075ff"/><stop offset="21.71%" stop-color="#0075ff"/><stop offset="21.71%" stop-color="#ff0f00"/><stop offset="27.92%" stop-color="#ff0f00"/><stop offset="27.92%" stop-color="#faff05"/><stop offset="30.40%" stop-color="#faff05"/><stop offset="30.40%" stop-color="#0075ff"/><stop offset="34.12%" stop-color="#0075ff"/><stop offset="34.12%" stop-color="#05fffa"/><stop offset="35.36%" stop-color="#05fffa"/><stop offset="35.36%" stop-color="#ff8a00"/><stop offset="39.08%" stop-color="#ff8a00"/><stop offset="39.08%" stop-color="#0075ff"/><stop offset="42.80%" stop-color="#0075ff"/><stop offset="42.80%" stop-color="#ff8a00"/><stop offset="45.29%" stop-color="#ff8a00"/><stop offset="45.29%" stop-color="#0075ff"/><stop offset="53.97%" stop-color="#0075ff"/><stop offset="53.97%" stop-color="#faff05"/><stop offset="57.69%" stop-color="#faff05"/><stop offset="57.69%" stop-color="#ff8a00"/><stop offset="62.66%" stop-color="#ff8a00"/><stop offset="62.66%" stop-color="#faff05"/><stop offset="66.38%" stop-color="#faff05"/><stop offset="66.38%" stop-color="#0075ff"/><stop offset="67.62%" stop-color="#0075ff"/><stop offset="67.62%" stop-color="#faff05"/><stop offset="71.09%" stop-color="#faff05"/><stop offset="71.09%" stop-color="#05fffa"/><stop offset="73.82%" stop-color="#05fffa"/><stop offset="73.82%" stop-color="#80ff80"/><stop offset="76.05%" stop-color="#80ff80"/><stop offset="76.05%" stop-color="#faff05"/><stop offset="82.51%" stop-color="#faff05"/><stop offset="82.51%" stop-color="#ff8a00"/><stop offset="92.43%" stop-color="#ff8a00"/><stop offset="92.43%" stop-color="#ff0f00"/><stop offset="96.15%" stop-color="#ff0f00"/><stop offset="96.15%" stop-color="#05fffa"/></linearGradient>
<clipPath id="k7"><rect x="359" y="291.9" width="39.3" height="117.7"/></clipPath>
<linearGradient id="g8" gradientUnits="userSpaceOnUse" x1="402.1" y1="0" x2="715.8" y2="0"><stop offset="0.08%" stop-color="#ff0f00"/><stop offset="1.04%" stop-color="#ff0f00"/><stop offset="1.04%" stop-color="#faff05"/><stop offset="2.31%" stop-color="#faff05"/><stop offset="2.31%" stop-color="#ff0f00"/><stop offset="2.63%" stop-color="#ff0f00"/><stop offset="2.63%" stop-color="#80ff80"/><stop offset="3.59%" stop-color="#80ff80"/><stop offset="3.59%" stop-color="#ff0f00"/><stop offset="4.86%" stop-color="#ff0f00"/><stop offset="4.86%" stop-color="#80ff80"/><stop offset="5.18%" stop-color="#80ff80"/><stop offset="5.18%" stop-color="#faff05"/><stop offset="6.46%" stop-color="#faff05"/><stop offset="6.46%" stop-color="#ff0f00"/><stop offset="7.73%" stop-color="#ff0f00"/><stop offset="7.73%" stop-color="#faff05"/><stop offset="8.05%" stop-color="#faff05"/><stop offset="8.05%" stop-color="#ff0f00"/><stop offset="8.37%" stop-color="#ff0f00"/><stop offset="8.37%" stop-color="#80ff80"/><stop offset="9.01%" stop-color="#80ff80"/><stop offset="9.01%" stop-color="#ff0f00"/><stop offset="9.32%" stop-color="#ff0f00"/><stop offset="9.32%" stop-color="#80ff80"/><stop offset="9.96%" stop-color="#80ff80"/><stop offset="9.96%" stop-color="#ff0f00"/><stop offset="11.40%" stop-color="#ff0f00"/><stop offset="11.40%" stop-color="#80ff80"/><stop offset="12.83%" stop-color="#80ff80"/><stop offset="12.83%" stop-color="#05fffa"/><stop offset="13.15%" stop-color="#05fffa"/><stop offset="13.15%" stop-color="#faff05"/><stop offset="13.47%" stop-color="#faff05"/><stop offset="13.47%" stop-color="#ff8a00"/><stop offset="14.11%" stop-color="#ff8a00"/><stop offset="14.11%" stop-color="#ff0f00"/><stop offset="14.42%" stop-color="#ff0f00"/><stop offset="14.42%" stop-color="#ff8a00"/><stop offset="15.38%" stop-color="#ff8a00"/><stop offset="15.38%" stop-color="#ff0f00"/><stop offset="15.70%" stop-color="#ff0f00"/><stop offset="15.70%" stop-color="#ff8a00"/><stop offset="16.02%" stop-color="#ff8a00"/><stop offset="16.02%" stop-color="#05fffa"/><stop offset="16.34%" stop-color="#05fffa"/><stop offset="16.34%" stop-color="#faff05"/><stop offset="16.66%" stop-color="#faff05"/><stop offset="16.66%" stop-color="#05fffa"/><stop offset="17.29%" stop-color="#05fffa"/><stop offset="17.29%" stop-color="#ff0f00"/><stop offset="17.77%" stop-color="#ff0f00"/><stop offset="17.77%" stop-color="#05fffa"/><stop offset="18.73%" stop-color="#05fffa"/><stop offset="18.73%" stop-color="#ff0f00"/><stop offset="19.21%" stop-color="#ff0f00"/><stop offset="19.21%" stop-color="#80ff80"/><stop offset="19.53%" stop-color="#80ff80"/><stop offset="19.53%" stop-color="#ff8a00"/><stop offset="19.84%" stop-color="#ff8a00"/><stop offset="19.84%" stop-color="#80ff80"/><stop offset="20.32%" stop-color="#80ff80"/><stop offset="20.32%" stop-color="#ff0f00"/><stop offset="21.76%" stop-color="#ff0f00"/><stop offset="21.76%" stop-color="#faff05"/><stop offset="22.55%" stop-color="#faff05"/><stop offset="22.55%" stop-color="#ff0f00"/><stop offset="23.51%" stop-color="#ff0f00"/><stop offset="23.51%" stop-color="#80ff80"/><stop offset="23.99%" stop-color="#80ff80"/><stop offset="23.99%" stop-color="#faff05"/><stop offset="24.31%" stop-color="#faff05"/><stop offset="24.31%" stop-color="#80ff80"/><stop offset="25.10%" stop-color="#80ff80"/><stop offset="25.10%" stop-color="#ff0f00"/><stop offset="26.22%" stop-color="#ff0f00"/><stop offset="26.22%" stop-color="#faff05"/><stop offset="26.54%" stop-color="#faff05"/><stop offset="26.54%" stop-color="#ff0f00"/><stop offset="27.81%" stop-color="#ff0f00"/><stop offset="27.81%" stop-color="#ff8a00"/><stop offset="29.25%" stop-color="#ff8a00"/><stop offset="29.25%" stop-color="#05fffa"/><stop offset="29.89%" stop-color="#05fffa"/><stop offset="29.89%" stop-color="#faff05"/><stop offset="30.20%" stop-color="#faff05"/><stop offset="30.20%" stop-color="#ff0f00"/><stop offset="30.68%" stop-color="#ff0f00"/><stop offset="30.68%" stop-color="#faff05"/><stop offset="31.16%" stop-color="#faff05"/><stop offset="31.16%" stop-color="#ff8a00"/><stop offset="31.80%" stop-color="#ff8a00"/><stop offset="31.80%" stop-color="#faff05"/><stop offset="32.28%" stop-color="#faff05"/><stop offset="32.28%" stop-color="#ff8a00"/><stop offset="33.71%" stop-color="#ff8a00"/><stop offset="33.71%" stop-color="#ff0f00"/><stop offset="36.26%" stop-color="#ff0f00"/><stop offset="36.26%" stop-color="#faff05"/><stop offset="36.42%" stop-color="#faff05"/><stop offset="36.42%" stop-color="#ff0f00"/><stop offset="36.90%" stop-color="#ff0f00"/><stop offset="36.90%" stop-color="#faff05"/><stop offset="37.85%" stop-color="#faff05"/><stop offset="37.85%" stop-color="#ff0f00"/><stop offset="38.97%" stop-color="#ff0f00"/><stop offset="38.97%" stop-color="#ff8a00"/><stop offset="39.45%" stop-color="#ff8a00"/><stop offset="39.45%" stop-color="#ff0f00"/><stop offset="40.88%" stop-color="#ff0f00"/><stop offset="40.88%" stop-color="#80ff80"/><stop offset="41.20%" stop-color="#80ff80"/><stop offset="41.20%" stop-color="#05fffa"/><stop offset="42.00%" stop-color="#05fffa"/><stop offset="42.00%" stop-color="#ff8a00"/><stop offset="42.96%" stop-color="#ff8a00"/><stop offset="42.96%" stop-color="#ff0f00"/><stop offset="43.43%" stop-color="#ff0f00"/><stop offset="43.43%" stop-color="#faff05"/><stop offset="43.91%" stop-color="#faff05"/><stop offset="43.91%" stop-color="#0075ff"/><stop offset="44.07%" stop-color="#0075ff"/><stop offset="44.07%" stop-color="#80ff80"/><stop offset="44.55%" stop-color="#80ff80"/><stop offset="44.55%" stop-color="#0075ff"/><stop offset="45.03%" stop-color="#0075ff"/><stop offset="45.03%" stop-color="#05fffa"/><stop offset="45.35%" stop-color="#05fffa"/><stop offset="45.35%" stop-color="#0075ff"/><stop offset="45.51%" stop-color="#0075ff"/><stop offset="45.51%" stop-color="#ff8a00"/><stop offset="46.14%" stop-color="#ff8a00"/><stop offset="46.14%" stop-color="#faff05"/><stop offset="46.46%" stop-color="#faff05"/><stop offset="46.46%" stop-color="#05fffa"/><stop offset="46.78%" stop-color="#05fffa"/><stop offset="46.78%" stop-color="#ff8a00"/><stop offset="47.42%" stop-color="#ff8a00"/><stop offset="47.42%" stop-color="#ff0f00"/><stop offset="47.74%" stop-color="#ff0f00"/><stop offset="47.74%" stop-color="#05fffa"/><stop offset="47.90%" stop-color="#05fffa"/><stop offset="47.90%" stop-color="#faff05"/><stop offset="48.37%" stop-color="#faff05"/><stop offset="48.37%" stop-color="#ff0f00"/><stop offset="49.17%" stop-color="#ff0f00"/><stop offset="49.17%" stop-color="#ff8a00"/><stop offset="49.49%" stop-color="#ff8a00"/><stop offset="49.49%" stop-color="#faff05"/><stop offset="49.97%" stop-color="#faff05"/><stop offset="49.97%" stop-color="#0075ff"/><stop offset="50.13%" stop-color="#0075ff"/><stop offset="50.13%" stop-color="#ff8a00"/><stop offset="50.45%" stop-color="#ff8a00"/><stop offset="50.45%" stop-color="#0075ff"/><stop offset="50.92%" stop-color="#0075ff"/><stop offset="50.92%" stop-color="#05fffa"/><stop offset="51.08%" stop-color="#05fffa"/><stop offset="51.08%" stop-color="#ff0f00"/><stop offset="51.40%" stop-color="#ff0f00"/><stop offset="51.40%" stop-color="#05fffa"/><stop offset="51.72%" stop-color="#05fffa"/><stop offset="51.72%" stop-color="#ff8a00"/><stop offset="52.84%" stop-color="#ff8a00"/><stop offset="52.84%" stop-color="#faff05"/><stop offset="53.00%" stop-color="#faff05"/><stop offset="53.00%" stop-color="#ff8a00"/><stop offset="53.47%" stop-color="#ff8a00"/><stop offset="53.47%" stop-color="#faff05"/><stop offset="53.79%" stop-color="#faff05"/><stop offset="53.79%" stop-color="#ff0f00"/><stop offset="56.34%" stop-color="#ff0f00"/><stop offset="56.34%" stop-color="#ff8a00"/><stop offset="58.58%" stop-color="#ff8a00"/><stop offset="58.58%" stop-color="#0075ff"/><stop offset="59.05%" stop-color="#0075ff"/><stop offset="59.05%" stop-color="#ff0f00"/><stop offset="59.85%" stop-color="#ff0f00"/><stop offset="59.85%" stop-color="#0075ff"/><stop offset="61.13%" stop-color="#0075ff"/><stop offset="61.13%" stop-color="#faff05"/><stop offset="62.24%" stop-color="#faff05"/><stop offset="62.24%" stop-color="#ff0f00"/><stop offset="63.36%" stop-color="#ff0f00"/><stop offset="63.36%" stop-color="#ff8a00"/><stop offset="64.63%" stop-color="#ff8a00"/><stop offset="64.63%" stop-color="#ff0f00"/><stop offset="66.70%" stop-color="#ff0f00"/><stop offset="66.70%" stop-color="#0075ff"/><stop offset="67.50%" stop-color="#0075ff"/><stop offset="67.50%" stop-color="#faff05"/><stop offset="69.89%" stop-color="#faff05"/><stop offset="69.89%" stop-color="#ff0f00"/><stop offset="70.37%" stop-color="#ff0f00"/><stop offset="70.37%" stop-color="#05fffa"/><stop offset="71.49%" stop-color="#05fffa"/><stop offset="71.49%" stop-color="#faff05"/><stop offset="74.35%" stop-color="#faff05"/><stop offset="74.35%" stop-color="#05fffa"/><stop offset="75.79%" stop-color="#05fffa"/><stop offset="75.79%" stop-color="#faff05"/><stop offset="77.22%" stop-color="#faff05"/><stop offset="77.22%" stop-color="#ff8a00"/><stop offset="78.82%" stop-color="#ff8a00"/><stop offset="78.82%" stop-color="#faff05"/><stop offset="80.41%" stop-color="#faff05"/><stop offset="80.41%" stop-color="#05fffa"/><stop offset="81.53%" stop-color="#05fffa"/><stop offset="81.53%" stop-color="#9e0000"/><stop offset="82.29%" stop-color="#9e0000"/><stop offset="82.29%" stop-color="#ff8a00"/><stop offset="82.64%" stop-color="#ff8a00"/><stop offset="82.64%" stop-color="#05fffa"/><stop offset="82.80%" stop-color="#05fffa"/><stop offset="82.80%" stop-color="#ff0f00"/><stop offset="83.60%" stop-color="#ff0f00"/><stop offset="83.60%" stop-color="#0075ff"/><stop offset="85.67%" stop-color="#0075ff"/><stop offset="85.67%" stop-color="#ff8a00"/><stop offset="85.83%" stop-color="#ff8a00"/><stop offset="85.83%" stop-color="#faff05"/><stop offset="86.31%" stop-color="#faff05"/><stop offset="86.31%" stop-color="#ff8a00"/><stop offset="86.47%" stop-color="#ff8a00"/><stop offset="86.47%" stop-color="#ff0f00"/><stop offset="86.79%" stop-color="#ff0f00"/><stop offset="86.79%" stop-color="#faff05"/><stop offset="88.06%" stop-color="#faff05"/><stop offset="88.06%" stop-color="#0075ff"/><stop offset="89.34%" stop-color="#0075ff"/><stop offset="89.34%" stop-color="#05fffa"/><stop offset="92.52%" stop-color="#05fffa"/><stop offset="92.52%" stop-color="#0075ff"/><stop offset="93.16%" stop-color="#0075ff"/><stop offset="93.16%" stop-color="#ff0f00"/><stop offset="93.48%" stop-color="#ff0f00"/><stop offset="93.48%" stop-color="#0075ff"/><stop offset="94.76%" stop-color="#0075ff"/><stop offset="94.76%" stop-color="#ff0f00"/><stop offset="97.31%" stop-color="#ff0f00"/><stop offset="97.31%" stop-color="#0075ff"/><stop offset="98.90%" stop-color="#0075ff"/><stop offset="98.90%" stop-color="#05fffa"/></linearGradient>
<clipPath id="k8"><rect x="402.6" y="291.1" width="312.7" height="118.6"/></clipPath>
<linearGradient id="g9" gradientUnits="userSpaceOnUse" x1="139.6" y1="0" x2="393.2" y2="0"><stop offset="0.10%" stop-color="#05fffa"/><stop offset="1.28%" stop-color="#05fffa"/><stop offset="1.28%" stop-color="#ff0f00"/><stop offset="1.68%" stop-color="#ff0f00"/><stop offset="1.68%" stop-color="#0075ff"/><stop offset="3.25%" stop-color="#0075ff"/><stop offset="3.25%" stop-color="#05fffa"/><stop offset="4.83%" stop-color="#05fffa"/><stop offset="4.83%" stop-color="#faff05"/><stop offset="6.01%" stop-color="#faff05"/><stop offset="6.01%" stop-color="#05fffa"/><stop offset="7.39%" stop-color="#05fffa"/><stop offset="7.39%" stop-color="#faff05"/><stop offset="8.18%" stop-color="#faff05"/><stop offset="8.18%" stop-color="#ff0f00"/><stop offset="8.58%" stop-color="#ff0f00"/><stop offset="8.58%" stop-color="#faff05"/><stop offset="9.17%" stop-color="#faff05"/><stop offset="9.17%" stop-color="#0075ff"/><stop offset="10.94%" stop-color="#0075ff"/><stop offset="10.94%" stop-color="#faff05"/><stop offset="12.91%" stop-color="#faff05"/><stop offset="12.91%" stop-color="#0075ff"/><stop offset="15.67%" stop-color="#0075ff"/><stop offset="15.67%" stop-color="#ff8a00"/><stop offset="16.27%" stop-color="#ff8a00"/><stop offset="16.27%" stop-color="#faff05"/><stop offset="17.45%" stop-color="#faff05"/><stop offset="17.45%" stop-color="#05fffa"/><stop offset="19.03%" stop-color="#05fffa"/><stop offset="19.03%" stop-color="#ff8a00"/><stop offset="21.19%" stop-color="#ff8a00"/><stop offset="21.19%" stop-color="#0075ff"/><stop offset="23.76%" stop-color="#0075ff"/><stop offset="23.76%" stop-color="#05fffa"/><stop offset="25.73%" stop-color="#05fffa"/><stop offset="25.73%" stop-color="#0075ff"/><stop offset="26.72%" stop-color="#0075ff"/><stop offset="26.72%" stop-color="#ff0f00"/><stop offset="27.11%" stop-color="#ff0f00"/><stop offset="27.11%" stop-color="#05fffa"/><stop offset="28.10%" stop-color="#05fffa"/><stop offset="28.10%" stop-color="#0075ff"/><stop offset="28.88%" stop-color="#0075ff"/><stop offset="28.88%" stop-color="#ff8a00"/><stop offset="30.26%" stop-color="#ff8a00"/><stop offset="30.26%" stop-color="#0075ff"/><stop offset="31.05%" stop-color="#0075ff"/><stop offset="31.05%" stop-color="#05fffa"/><stop offset="31.64%" stop-color="#05fffa"/><stop offset="31.64%" stop-color="#80ff80"/><stop offset="32.83%" stop-color="#80ff80"/><stop offset="32.83%" stop-color="#ff0f00"/><stop offset="33.42%" stop-color="#ff0f00"/><stop offset="33.42%" stop-color="#80ff80"/><stop offset="34.80%" stop-color="#80ff80"/><stop offset="34.80%" stop-color="#05fffa"/><stop offset="35.78%" stop-color="#05fffa"/><stop offset="35.78%" stop-color="#0075ff"/><stop offset="36.18%" stop-color="#0075ff"/><stop offset="36.18%" stop-color="#faff05"/><stop offset="37.56%" stop-color="#faff05"/><stop offset="37.56%" stop-color="#0075ff"/><stop offset="38.35%" stop-color="#0075ff"/><stop offset="38.35%" stop-color="#05fffa"/><stop offset="39.14%" stop-color="#05fffa"/><stop offset="39.14%" stop-color="#faff05"/><stop offset="39.93%" stop-color="#faff05"/><stop offset="39.93%" stop-color="#ff8a00"/><stop offset="40.91%" stop-color="#ff8a00"/><stop offset="40.91%" stop-color="#faff05"/><stop offset="43.08%" stop-color="#faff05"/><stop offset="43.08%" stop-color="#05fffa"/><stop offset="43.28%" stop-color="#05fffa"/><stop offset="43.28%" stop-color="#ff8a00"/><stop offset="44.66%" stop-color="#ff8a00"/><stop offset="44.66%" stop-color="#ff0f00"/><stop offset="45.64%" stop-color="#ff0f00"/><stop offset="45.64%" stop-color="#05fffa"/><stop offset="46.43%" stop-color="#05fffa"/><stop offset="46.43%" stop-color="#ff8a00"/><stop offset="47.02%" stop-color="#ff8a00"/><stop offset="47.02%" stop-color="#05fffa"/><stop offset="47.42%" stop-color="#05fffa"/><stop offset="47.42%" stop-color="#faff05"/><stop offset="48.80%" stop-color="#faff05"/><stop offset="48.80%" stop-color="#05fffa"/><stop offset="49.39%" stop-color="#05fffa"/><stop offset="49.39%" stop-color="#faff05"/><stop offset="49.78%" stop-color="#faff05"/><stop offset="49.78%" stop-color="#0075ff"/><stop offset="49.98%" stop-color="#0075ff"/><stop offset="49.98%" stop-color="#05fffa"/><stop offset="51.36%" stop-color="#05fffa"/><stop offset="51.36%" stop-color="#0075ff"/><stop offset="52.74%" stop-color="#0075ff"/><stop offset="52.74%" stop-color="#05fffa"/><stop offset="53.13%" stop-color="#05fffa"/><stop offset="53.13%" stop-color="#ff0f00"/><stop offset="54.32%" stop-color="#ff0f00"/><stop offset="54.32%" stop-color="#faff05"/><stop offset="55.70%" stop-color="#faff05"/><stop offset="55.70%" stop-color="#ff0f00"/><stop offset="58.46%" stop-color="#ff0f00"/><stop offset="58.46%" stop-color="#ff8a00"/><stop offset="59.84%" stop-color="#ff8a00"/><stop offset="59.84%" stop-color="#faff05"/><stop offset="61.42%" stop-color="#faff05"/><stop offset="61.42%" stop-color="#05fffa"/><stop offset="61.61%" stop-color="#05fffa"/><stop offset="61.61%" stop-color="#80ff80"/><stop offset="62.60%" stop-color="#80ff80"/><stop offset="62.60%" stop-color="#faff05"/><stop offset="63.58%" stop-color="#faff05"/><stop offset="63.58%" stop-color="#05fffa"/><stop offset="64.37%" stop-color="#05fffa"/><stop offset="64.37%" stop-color="#ff8a00"/><stop offset="65.95%" stop-color="#ff8a00"/><stop offset="65.95%" stop-color="#05fffa"/><stop offset="66.54%" stop-color="#05fffa"/><stop offset="66.54%" stop-color="#0075ff"/><stop offset="66.74%" stop-color="#0075ff"/><stop offset="66.74%" stop-color="#faff05"/><stop offset="67.53%" stop-color="#faff05"/><stop offset="67.53%" stop-color="#0075ff"/><stop offset="68.12%" stop-color="#0075ff"/><stop offset="68.12%" stop-color="#ff0f00"/><stop offset="69.10%" stop-color="#ff0f00"/><stop offset="69.10%" stop-color="#faff05"/><stop offset="69.70%" stop-color="#faff05"/><stop offset="69.70%" stop-color="#05fffa"/><stop offset="70.29%" stop-color="#05fffa"/><stop offset="70.29%" stop-color="#faff05"/><stop offset="70.49%" stop-color="#faff05"/><stop offset="70.49%" stop-color="#ff0f00"/><stop offset="70.88%" stop-color="#ff0f00"/><stop offset="70.88%" stop-color="#faff05"/><stop offset="71.27%" stop-color="#faff05"/><stop offset="71.27%" stop-color="#05fffa"/><stop offset="72.26%" stop-color="#05fffa"/><stop offset="72.26%" stop-color="#faff05"/><stop offset="73.44%" stop-color="#faff05"/><stop offset="73.44%" stop-color="#0075ff"/><stop offset="73.64%" stop-color="#0075ff"/><stop offset="73.64%" stop-color="#ff0f00"/><stop offset="74.82%" stop-color="#ff0f00"/><stop offset="74.82%" stop-color="#0075ff"/><stop offset="76.01%" stop-color="#0075ff"/><stop offset="76.01%" stop-color="#faff05"/><stop offset="77.78%" stop-color="#faff05"/><stop offset="77.78%" stop-color="#ff8a00"/><stop offset="79.16%" stop-color="#ff8a00"/><stop offset="79.16%" stop-color="#05fffa"/><stop offset="80.93%" stop-color="#05fffa"/><stop offset="80.93%" stop-color="#faff05"/><stop offset="81.92%" stop-color="#faff05"/><stop offset="81.92%" stop-color="#ff8a00"/><stop offset="82.91%" stop-color="#ff8a00"/><stop offset="82.91%" stop-color="#0075ff"/><stop offset="84.09%" stop-color="#0075ff"/><stop offset="84.09%" stop-color="#05fffa"/><stop offset="85.67%" stop-color="#05fffa"/><stop offset="85.67%" stop-color="#0075ff"/><stop offset="87.24%" stop-color="#0075ff"/><stop offset="87.24%" stop-color="#ff8a00"/><stop offset="88.23%" stop-color="#ff8a00"/><stop offset="88.23%" stop-color="#ff0f00"/><stop offset="88.39%" stop-color="#ff0f00"/><stop offset="88.39%" stop-color="#0075ff"/><stop offset="88.43%" stop-color="#0075ff"/><stop offset="88.43%" stop-color="#ff0f00"/><stop offset="89.77%" stop-color="#ff0f00"/><stop offset="89.77%" stop-color="#ff8a00"/><stop offset="90.20%" stop-color="#ff8a00"/><stop offset="90.20%" stop-color="#ff0f00"/><stop offset="90.99%" stop-color="#ff0f00"/><stop offset="90.99%" stop-color="#0075ff"/><stop offset="91.78%" stop-color="#0075ff"/><stop offset="91.78%" stop-color="#ff8a00"/><stop offset="92.37%" stop-color="#ff8a00"/><stop offset="92.37%" stop-color="#faff05"/><stop offset="93.36%" stop-color="#faff05"/><stop offset="93.36%" stop-color="#ff0f00"/><stop offset="93.75%" stop-color="#ff0f00"/><stop offset="93.75%" stop-color="#05fffa"/><stop offset="94.54%" stop-color="#05fffa"/><stop offset="94.54%" stop-color="#ff0f00"/><stop offset="95.13%" stop-color="#ff0f00"/><stop offset="95.13%" stop-color="#faff05"/><stop offset="95.33%" stop-color="#faff05"/><stop offset="95.33%" stop-color="#05fffa"/><stop offset="95.72%" stop-color="#05fffa"/><stop offset="95.72%" stop-color="#faff05"/><stop offset="96.87%" stop-color="#faff05"/><stop offset="96.87%" stop-color="#05fffa"/><stop offset="97.10%" stop-color="#05fffa"/><stop offset="97.10%" stop-color="#ff0f00"/><stop offset="97.69%" stop-color="#ff0f00"/><stop offset="97.69%" stop-color="#ff8a00"/><stop offset="98.28%" stop-color="#ff8a00"/><stop offset="98.28%" stop-color="#05fffa"/></linearGradient>
<clipPath id="k9"><rect x="140.1" y="446.9" width="252.6" height="119.2"/></clipPath>
<linearGradient id="g10" gradientUnits="userSpaceOnUse" x1="397.1" y1="0" x2="715.8" y2="0"><stop offset="0.08%" stop-color="#0075ff"/><stop offset="0.39%" stop-color="#0075ff"/><stop offset="0.39%" stop-color="#faff05"/><stop offset="0.71%" stop-color="#faff05"/><stop offset="0.71%" stop-color="#0075ff"/><stop offset="1.80%" stop-color="#0075ff"/><stop offset="1.80%" stop-color="#ff8a00"/><stop offset="2.27%" stop-color="#ff8a00"/><stop offset="2.27%" stop-color="#ff0f00"/><stop offset="4.16%" stop-color="#ff0f00"/><stop offset="4.16%" stop-color="#ff8a00"/><stop offset="4.47%" stop-color="#ff8a00"/><stop offset="4.47%" stop-color="#ff0f00"/><stop offset="4.79%" stop-color="#ff0f00"/><stop offset="4.79%" stop-color="#05fffa"/><stop offset="5.10%" stop-color="#05fffa"/><stop offset="5.10%" stop-color="#faff05"/><stop offset="5.41%" stop-color="#faff05"/><stop offset="5.41%" stop-color="#05fffa"/><stop offset="5.57%" stop-color="#05fffa"/><stop offset="5.57%" stop-color="#ff0f00"/><stop offset="7.61%" stop-color="#ff0f00"/><stop offset="7.61%" stop-color="#ff8a00"/><stop offset="8.08%" stop-color="#ff8a00"/><stop offset="8.08%" stop-color="#ff0f00"/><stop offset="9.02%" stop-color="#ff0f00"/><stop offset="9.02%" stop-color="#0075ff"/><stop offset="9.18%" stop-color="#0075ff"/><stop offset="9.18%" stop-color="#faff05"/><stop offset="9.49%" stop-color="#faff05"/><stop offset="9.49%" stop-color="#0075ff"/><stop offset="10.12%" stop-color="#0075ff"/><stop offset="10.12%" stop-color="#ff0f00"/><stop offset="10.59%" stop-color="#ff0f00"/><stop offset="10.59%" stop-color="#05fffa"/><stop offset="10.75%" stop-color="#05fffa"/><stop offset="10.75%" stop-color="#faff05"/><stop offset="11.06%" stop-color="#faff05"/><stop offset="11.06%" stop-color="#ff0f00"/><stop offset="11.37%" stop-color="#ff0f00"/><stop offset="11.37%" stop-color="#ff8a00"/><stop offset="11.84%" stop-color="#ff8a00"/><stop offset="11.84%" stop-color="#ff0f00"/><stop offset="12.00%" stop-color="#ff0f00"/><stop offset="12.00%" stop-color="#05fffa"/><stop offset="12.32%" stop-color="#05fffa"/><stop offset="12.32%" stop-color="#ff0f00"/><stop offset="13.73%" stop-color="#ff0f00"/><stop offset="13.73%" stop-color="#ff8a00"/><stop offset="13.88%" stop-color="#ff8a00"/><stop offset="13.88%" stop-color="#ff0f00"/><stop offset="14.36%" stop-color="#ff0f00"/><stop offset="14.36%" stop-color="#ff8a00"/><stop offset="14.51%" stop-color="#ff8a00"/><stop offset="14.51%" stop-color="#faff05"/><stop offset="14.98%" stop-color="#faff05"/><stop offset="14.98%" stop-color="#ff0f00"/><stop offset="15.45%" stop-color="#ff0f00"/><stop offset="15.45%" stop-color="#80ff80"/><stop offset="15.92%" stop-color="#80ff80"/><stop offset="15.92%" stop-color="#ff8a00"/><stop offset="16.55%" stop-color="#ff8a00"/><stop offset="16.55%" stop-color="#ff0f00"/><stop offset="17.02%" stop-color="#ff0f00"/><stop offset="17.02%" stop-color="#80ff80"/><stop offset="17.78%" stop-color="#80ff80"/><stop offset="17.78%" stop-color="#faff05"/><stop offset="18.12%" stop-color="#faff05"/><stop offset="18.12%" stop-color="#05fffa"/><stop offset="18.28%" stop-color="#05fffa"/><stop offset="18.28%" stop-color="#ff0f00"/><stop offset="18.59%" stop-color="#ff0f00"/><stop offset="18.59%" stop-color="#05fffa"/><stop offset="18.90%" stop-color="#05fffa"/><stop offset="18.90%" stop-color="#ff8a00"/><stop offset="19.38%" stop-color="#ff8a00"/><stop offset="19.38%" stop-color="#faff05"/><stop offset="19.53%" stop-color="#faff05"/><stop offset="19.53%" stop-color="#ff0f00"/><stop offset="20.00%" stop-color="#ff0f00"/><stop offset="20.00%" stop-color="#faff05"/><stop offset="20.47%" stop-color="#faff05"/><stop offset="20.47%" stop-color="#ff0f00"/><stop offset="20.79%" stop-color="#ff0f00"/><stop offset="20.79%" stop-color="#faff05"/><stop offset="21.10%" stop-color="#faff05"/><stop offset="21.10%" stop-color="#ff0f00"/><stop offset="22.36%" stop-color="#ff0f00"/><stop offset="22.36%" stop-color="#ff8a00"/><stop offset="22.67%" stop-color="#ff8a00"/><stop offset="22.67%" stop-color="#05fffa"/><stop offset="22.98%" stop-color="#05fffa"/><stop offset="22.98%" stop-color="#faff05"/><stop offset="23.61%" stop-color="#faff05"/><stop offset="23.61%" stop-color="#ff0f00"/><stop offset="23.93%" stop-color="#ff0f00"/><stop offset="23.93%" stop-color="#faff05"/><stop offset="24.08%" stop-color="#faff05"/><stop offset="24.08%" stop-color="#ff0f00"/><stop offset="24.87%" stop-color="#ff0f00"/><stop offset="24.87%" stop-color="#ff8a00"/><stop offset="25.18%" stop-color="#ff8a00"/><stop offset="25.18%" stop-color="#ff0f00"/><stop offset="26.12%" stop-color="#ff0f00"/><stop offset="26.12%" stop-color="#faff05"/><stop offset="27.38%" stop-color="#faff05"/><stop offset="27.38%" stop-color="#ff8a00"/><stop offset="27.85%" stop-color="#ff8a00"/><stop offset="27.85%" stop-color="#0075ff"/><stop offset="28.79%" stop-color="#0075ff"/><stop offset="28.79%" stop-color="#ff0f00"/><stop offset="29.42%" stop-color="#ff0f00"/><stop offset="29.42%" stop-color="#faff05"/><stop offset="30.20%" stop-color="#faff05"/><stop offset="30.20%" stop-color="#ff0f00"/><stop offset="30.67%" stop-color="#ff0f00"/><stop offset="30.67%" stop-color="#9e0000"/><stop offset="31.14%" stop-color="#9e0000"/><stop offset="31.14%" stop-color="#ff8a00"/><stop offset="31.77%" stop-color="#ff8a00"/><stop offset="31.77%" stop-color="#ff0f00"/><stop offset="32.24%" stop-color="#ff0f00"/><stop offset="32.24%" stop-color="#05fffa"/><stop offset="33.18%" stop-color="#05fffa"/><stop offset="33.18%" stop-color="#0075ff"/><stop offset="34.12%" stop-color="#0075ff"/><stop offset="34.12%" stop-color="#faff05"/><stop offset="34.91%" stop-color="#faff05"/><stop offset="34.91%" stop-color="#ff8a00"/><stop offset="35.53%" stop-color="#ff8a00"/><stop offset="35.53%" stop-color="#ff0f00"/><stop offset="36.63%" stop-color="#ff0f00"/><stop offset="36.63%" stop-color="#ff8a00"/><stop offset="36.95%" stop-color="#ff8a00"/><stop offset="36.95%" stop-color="#ff0f00"/><stop offset="37.73%" stop-color="#ff0f00"/><stop offset="37.73%" stop-color="#0075ff"/><stop offset="38.05%" stop-color="#0075ff"/><stop offset="38.05%" stop-color="#ff0f00"/><stop offset="39.14%" stop-color="#ff0f00"/><stop offset="39.14%" stop-color="#0075ff"/><stop offset="39.46%" stop-color="#0075ff"/><stop offset="39.46%" stop-color="#ff8a00"/><stop offset="40.24%" stop-color="#ff8a00"/><stop offset="40.24%" stop-color="#0075ff"/><stop offset="40.56%" stop-color="#0075ff"/><stop offset="40.56%" stop-color="#ff0f00"/><stop offset="41.65%" stop-color="#ff0f00"/><stop offset="41.65%" stop-color="#05fffa"/><stop offset="41.97%" stop-color="#05fffa"/><stop offset="41.97%" stop-color="#ff0f00"/><stop offset="42.59%" stop-color="#ff0f00"/><stop offset="42.59%" stop-color="#0075ff"/><stop offset="43.69%" stop-color="#0075ff"/><stop offset="43.69%" stop-color="#05fffa"/><stop offset="44.16%" stop-color="#05fffa"/><stop offset="44.16%" stop-color="#ff8a00"/><stop offset="44.32%" stop-color="#ff8a00"/><stop offset="44.32%" stop-color="#faff05"/><stop offset="44.92%" stop-color="#faff05"/><stop offset="44.92%" stop-color="#0075ff"/><stop offset="46.52%" stop-color="#0075ff"/><stop offset="46.52%" stop-color="#05fffa"/><stop offset="46.83%" stop-color="#05fffa"/><stop offset="46.83%" stop-color="#ff0f00"/><stop offset="47.30%" stop-color="#ff0f00"/><stop offset="47.30%" stop-color="#faff05"/><stop offset="47.62%" stop-color="#faff05"/><stop offset="47.62%" stop-color="#ff0f00"/><stop offset="47.77%" stop-color="#ff0f00"/><stop offset="47.77%" stop-color="#faff05"/><stop offset="48.24%" stop-color="#faff05"/><stop offset="48.24%" stop-color="#0075ff"/><stop offset="48.71%" stop-color="#0075ff"/><stop offset="48.71%" stop-color="#05fffa"/><stop offset="49.03%" stop-color="#05fffa"/><stop offset="49.03%" stop-color="#ff8a00"/><stop offset="49.81%" stop-color="#ff8a00"/><stop offset="49.81%" stop-color="#ff0f00"/><stop offset="50.28%" stop-color="#ff0f00"/><stop offset="50.28%" stop-color="#ff8a00"/><stop offset="50.91%" stop-color="#ff8a00"/><stop offset="50.91%" stop-color="#ff0f00"/><stop offset="51.54%" stop-color="#ff0f00"/><stop offset="51.54%" stop-color="#faff05"/><stop offset="52.17%" stop-color="#faff05"/><stop offset="52.17%" stop-color="#ff8a00"/><stop offset="52.64%" stop-color="#ff8a00"/><stop offset="52.64%" stop-color="#faff05"/><stop offset="52.79%" stop-color="#faff05"/><stop offset="52.79%" stop-color="#05fffa"/><stop offset="53.89%" stop-color="#05fffa"/><stop offset="53.89%" stop-color="#0075ff"/><stop offset="54.99%" stop-color="#0075ff"/><stop offset="54.99%" stop-color="#faff05"/><stop offset="55.30%" stop-color="#faff05"/><stop offset="55.30%" stop-color="#ff8a00"/><stop offset="55.77%" stop-color="#ff8a00"/><stop offset="55.77%" stop-color="#ff0f00"/><stop offset="61.42%" stop-color="#ff0f00"/><stop offset="61.42%" stop-color="#ff8a00"/><stop offset="62.52%" stop-color="#ff8a00"/><stop offset="62.52%" stop-color="#faff05"/><stop offset="63.46%" stop-color="#faff05"/><stop offset="63.46%" stop-color="#ff0f00"/><stop offset="63.62%" stop-color="#ff0f00"/><stop offset="63.62%" stop-color="#ff8a00"/><stop offset="65.34%" stop-color="#ff8a00"/><stop offset="65.34%" stop-color="#ff0f00"/><stop offset="65.81%" stop-color="#ff0f00"/><stop offset="65.81%" stop-color="#faff05"/><stop offset="69.27%" stop-color="#faff05"/><stop offset="69.27%" stop-color="#ff0f00"/><stop offset="75.86%" stop-color="#ff0f00"/><stop offset="75.86%" stop-color="#faff05"/><stop offset="76.64%" stop-color="#faff05"/><stop offset="76.64%" stop-color="#ff0f00"/><stop offset="80.56%" stop-color="#ff0f00"/><stop offset="80.56%" stop-color="#ff8a00"/><stop offset="81.03%" stop-color="#ff8a00"/><stop offset="81.03%" stop-color="#ff0f00"/><stop offset="81.50%" stop-color="#ff0f00"/><stop offset="81.50%" stop-color="#9e0000"/><stop offset="82.29%" stop-color="#9e0000"/><stop offset="82.29%" stop-color="#faff05"/><stop offset="83.07%" stop-color="#faff05"/><stop offset="83.07%" stop-color="#ff0f00"/><stop offset="85.43%" stop-color="#ff0f00"/><stop offset="85.43%" stop-color="#ff8a00"/><stop offset="85.58%" stop-color="#ff8a00"/><stop offset="85.58%" stop-color="#ff0f00"/><stop offset="85.74%" stop-color="#ff0f00"/><stop offset="85.74%" stop-color="#ff8a00"/><stop offset="87.46%" stop-color="#ff8a00"/><stop offset="87.46%" stop-color="#ff0f00"/><stop offset="87.62%" stop-color="#ff0f00"/><stop offset="87.62%" stop-color="#ff8a00"/><stop offset="87.78%" stop-color="#ff8a00"/><stop offset="87.78%" stop-color="#ff0f00"/><stop offset="89.03%" stop-color="#ff0f00"/><stop offset="89.03%" stop-color="#ff8a00"/><stop offset="89.19%" stop-color="#ff8a00"/><stop offset="89.19%" stop-color="#ff0f00"/><stop offset="93.90%" stop-color="#ff0f00"/><stop offset="93.90%" stop-color="#ff8a00"/><stop offset="95.15%" stop-color="#ff8a00"/><stop offset="95.15%" stop-color="#0075ff"/><stop offset="95.94%" stop-color="#0075ff"/><stop offset="95.94%" stop-color="#faff05"/><stop offset="97.35%" stop-color="#faff05"/><stop offset="97.35%" stop-color="#05fffa"/></linearGradient>
<clipPath id="k10"><rect x="397.6" y="446.1" width="317.7" height="119.8"/></clipPath>
<linearGradient id="g11" gradientUnits="userSpaceOnUse" x1="139.4" y1="0" x2="354.8" y2="0"><stop offset="0.12%" stop-color="#0075ff"/><stop offset="1.97%" stop-color="#0075ff"/><stop offset="1.97%" stop-color="#ff0f00"/><stop offset="2.21%" stop-color="#ff0f00"/><stop offset="2.21%" stop-color="#0075ff"/><stop offset="2.44%" stop-color="#0075ff"/><stop offset="2.44%" stop-color="#faff05"/><stop offset="3.60%" stop-color="#faff05"/><stop offset="3.60%" stop-color="#0075ff"/><stop offset="5.69%" stop-color="#0075ff"/><stop offset="5.69%" stop-color="#05fffa"/><stop offset="8.94%" stop-color="#05fffa"/><stop offset="8.94%" stop-color="#ff0f00"/><stop offset="9.17%" stop-color="#ff0f00"/><stop offset="9.17%" stop-color="#05fffa"/><stop offset="11.95%" stop-color="#05fffa"/><stop offset="11.95%" stop-color="#faff05"/><stop offset="13.81%" stop-color="#faff05"/><stop offset="13.81%" stop-color="#05fffa"/><stop offset="18.92%" stop-color="#05fffa"/><stop offset="18.92%" stop-color="#0075ff"/><stop offset="26.35%" stop-color="#0075ff"/><stop offset="26.35%" stop-color="#05fffa"/><stop offset="27.97%" stop-color="#05fffa"/><stop offset="27.97%" stop-color="#ff8a00"/><stop offset="29.36%" stop-color="#ff8a00"/><stop offset="29.36%" stop-color="#0075ff"/><stop offset="30.76%" stop-color="#0075ff"/><stop offset="30.76%" stop-color="#faff05"/><stop offset="30.99%" stop-color="#faff05"/><stop offset="30.99%" stop-color="#0075ff"/><stop offset="34.94%" stop-color="#0075ff"/><stop offset="34.94%" stop-color="#ff8a00"/><stop offset="35.86%" stop-color="#ff8a00"/><stop offset="35.86%" stop-color="#0075ff"/><stop offset="36.10%" stop-color="#0075ff"/><stop offset="36.10%" stop-color="#ff8a00"/><stop offset="36.56%" stop-color="#ff8a00"/><stop offset="36.56%" stop-color="#0075ff"/><stop offset="37.26%" stop-color="#0075ff"/><stop offset="37.26%" stop-color="#faff05"/><stop offset="37.72%" stop-color="#faff05"/><stop offset="37.72%" stop-color="#0075ff"/><stop offset="38.65%" stop-color="#0075ff"/><stop offset="38.65%" stop-color="#faff05"/><stop offset="38.88%" stop-color="#faff05"/><stop offset="38.88%" stop-color="#05fffa"/><stop offset="39.58%" stop-color="#05fffa"/><stop offset="39.58%" stop-color="#faff05"/><stop offset="42.13%" stop-color="#faff05"/><stop offset="42.13%" stop-color="#05fffa"/><stop offset="43.29%" stop-color="#05fffa"/><stop offset="43.29%" stop-color="#ff8a00"/><stop offset="44.45%" stop-color="#ff8a00"/><stop offset="44.45%" stop-color="#05fffa"/><stop offset="46.54%" stop-color="#05fffa"/><stop offset="46.54%" stop-color="#80ff80"/><stop offset="48.63%" stop-color="#80ff80"/><stop offset="48.63%" stop-color="#0075ff"/><stop offset="48.86%" stop-color="#0075ff"/><stop offset="48.86%" stop-color="#faff05"/><stop offset="50.95%" stop-color="#faff05"/><stop offset="50.95%" stop-color="#05fffa"/><stop offset="51.65%" stop-color="#05fffa"/><stop offset="51.65%" stop-color="#0075ff"/><stop offset="53.27%" stop-color="#0075ff"/><stop offset="53.27%" stop-color="#05fffa"/><stop offset="53.97%" stop-color="#05fffa"/><stop offset="53.97%" stop-color="#faff05"/><stop offset="55.13%" stop-color="#faff05"/><stop offset="55.13%" stop-color="#ff0f00"/><stop offset="56.06%" stop-color="#ff0f00"/><stop offset="56.06%" stop-color="#ff8a00"/><stop offset="56.52%" stop-color="#ff8a00"/><stop offset="56.52%" stop-color="#05fffa"/><stop offset="56.99%" stop-color="#05fffa"/><stop offset="56.99%" stop-color="#80ff80"/><stop offset="57.68%" stop-color="#80ff80"/><stop offset="57.68%" stop-color="#05fffa"/><stop offset="58.61%" stop-color="#05fffa"/><stop offset="58.61%" stop-color="#0075ff"/><stop offset="59.31%" stop-color="#0075ff"/><stop offset="59.31%" stop-color="#faff05"/><stop offset="60.00%" stop-color="#faff05"/><stop offset="60.00%" stop-color="#0075ff"/><stop offset="60.93%" stop-color="#0075ff"/><stop offset="60.93%" stop-color="#faff05"/><stop offset="61.17%" stop-color="#faff05"/><stop offset="61.17%" stop-color="#0075ff"/><stop offset="61.86%" stop-color="#0075ff"/><stop offset="61.86%" stop-color="#faff05"/><stop offset="63.02%" stop-color="#faff05"/><stop offset="63.02%" stop-color="#80ff80"/><stop offset="63.72%" stop-color="#80ff80"/><stop offset="63.72%" stop-color="#faff05"/><stop offset="64.18%" stop-color="#faff05"/><stop offset="64.18%" stop-color="#05fffa"/><stop offset="67.43%" stop-color="#05fffa"/><stop offset="67.43%" stop-color="#0075ff"/><stop offset="68.59%" stop-color="#0075ff"/><stop offset="68.59%" stop-color="#ff0f00"/><stop offset="69.75%" stop-color="#ff0f00"/><stop offset="69.75%" stop-color="#0075ff"/><stop offset="70.22%" stop-color="#0075ff"/><stop offset="70.22%" stop-color="#ff8a00"/><stop offset="70.91%" stop-color="#ff8a00"/><stop offset="70.91%" stop-color="#ff0f00"/><stop offset="71.84%" stop-color="#ff0f00"/><stop offset="71.84%" stop-color="#faff05"/><stop offset="73.47%" stop-color="#faff05"/><stop offset="73.47%" stop-color="#80ff80"/><stop offset="75.56%" stop-color="#80ff80"/><stop offset="75.56%" stop-color="#05fffa"/><stop offset="77.18%" stop-color="#05fffa"/><stop offset="77.18%" stop-color="#faff05"/><stop offset="78.34%" stop-color="#faff05"/><stop offset="78.34%" stop-color="#0075ff"/><stop offset="79.50%" stop-color="#0075ff"/><stop offset="79.50%" stop-color="#faff05"/><stop offset="82.52%" stop-color="#faff05"/><stop offset="82.52%" stop-color="#ff8a00"/><stop offset="82.75%" stop-color="#ff8a00"/><stop offset="82.75%" stop-color="#faff05"/><stop offset="82.99%" stop-color="#faff05"/><stop offset="82.99%" stop-color="#05fffa"/><stop offset="83.91%" stop-color="#05fffa"/><stop offset="83.91%" stop-color="#0075ff"/><stop offset="84.84%" stop-color="#0075ff"/><stop offset="84.84%" stop-color="#80ff80"/><stop offset="85.77%" stop-color="#80ff80"/><stop offset="85.77%" stop-color="#ff8a00"/><stop offset="86.70%" stop-color="#ff8a00"/><stop offset="86.70%" stop-color="#faff05"/><stop offset="87.86%" stop-color="#faff05"/><stop offset="87.86%" stop-color="#05fffa"/><stop offset="88.32%" stop-color="#05fffa"/><stop offset="88.32%" stop-color="#faff05"/><stop offset="88.56%" stop-color="#faff05"/><stop offset="88.56%" stop-color="#ff8a00"/><stop offset="89.48%" stop-color="#ff8a00"/><stop offset="89.48%" stop-color="#faff05"/><stop offset="91.34%" stop-color="#faff05"/><stop offset="91.34%" stop-color="#05fffa"/><stop offset="93.43%" stop-color="#05fffa"/><stop offset="93.43%" stop-color="#ff0f00"/><stop offset="94.36%" stop-color="#ff0f00"/><stop offset="94.36%" stop-color="#0075ff"/><stop offset="94.82%" stop-color="#0075ff"/><stop offset="94.82%" stop-color="#05fffa"/><stop offset="97.14%" stop-color="#05fffa"/><stop offset="97.14%" stop-color="#ff8a00"/><stop offset="99.47%" stop-color="#ff8a00"/><stop offset="99.47%" stop-color="#05fffa"/></linearGradient>
<clipPath id="k11"><rect x="139.9" y="606.2" width="214.4" height="119.6"/></clipPath>
<linearGradient id="g12" gradientUnits="userSpaceOnUse" x1="357.5" y1="0" x2="396.7" y2="0"><stop offset="0.64%" stop-color="#ff0f00"/><stop offset="17.22%" stop-color="#ff0f00"/><stop offset="17.22%" stop-color="#05fffa"/><stop offset="21.05%" stop-color="#05fffa"/><stop offset="21.05%" stop-color="#ff0f00"/><stop offset="22.32%" stop-color="#ff0f00"/><stop offset="22.32%" stop-color="#faff05"/><stop offset="26.15%" stop-color="#faff05"/><stop offset="26.15%" stop-color="#ff0f00"/><stop offset="27.42%" stop-color="#ff0f00"/><stop offset="27.42%" stop-color="#05fffa"/><stop offset="31.25%" stop-color="#05fffa"/><stop offset="31.25%" stop-color="#ff0f00"/><stop offset="69.52%" stop-color="#ff0f00"/><stop offset="69.52%" stop-color="#faff05"/><stop offset="72.07%" stop-color="#faff05"/><stop offset="72.07%" stop-color="#0075ff"/><stop offset="75.89%" stop-color="#0075ff"/><stop offset="75.89%" stop-color="#faff05"/><stop offset="78.44%" stop-color="#faff05"/><stop offset="78.44%" stop-color="#05fffa"/><stop offset="82.27%" stop-color="#05fffa"/><stop offset="82.27%" stop-color="#0075ff"/><stop offset="86.10%" stop-color="#0075ff"/><stop offset="86.10%" stop-color="#faff05"/><stop offset="88.65%" stop-color="#faff05"/><stop offset="88.65%" stop-color="#ff8a00"/><stop offset="92.22%" stop-color="#ff8a00"/><stop offset="92.22%" stop-color="#faff05"/><stop offset="95.03%" stop-color="#faff05"/><stop offset="95.03%" stop-color="#ff0f00"/><stop offset="96.30%" stop-color="#ff0f00"/><stop offset="96.30%" stop-color="#05fffa"/><stop offset="97.58%" stop-color="#05fffa"/><stop offset="97.58%" stop-color="#ff0f00"/></linearGradient>
<clipPath id="k12"><rect x="358" y="605.7" width="38.2" height="120.6"/></clipPath>
<linearGradient id="g13" gradientUnits="userSpaceOnUse" x1="401.3" y1="0" x2="715.8" y2="0"><stop offset="0.08%" stop-color="#ff0f00"/><stop offset="1.67%" stop-color="#ff0f00"/><stop offset="1.67%" stop-color="#0075ff"/><stop offset="2.62%" stop-color="#0075ff"/><stop offset="2.62%" stop-color="#faff05"/><stop offset="2.94%" stop-color="#faff05"/><stop offset="2.94%" stop-color="#80ff80"/><stop offset="3.42%" stop-color="#80ff80"/><stop offset="3.42%" stop-color="#ff0f00"/><stop offset="3.90%" stop-color="#ff0f00"/><stop offset="3.90%" stop-color="#80ff80"/><stop offset="4.85%" stop-color="#80ff80"/><stop offset="4.85%" stop-color="#ff0f00"/><stop offset="5.17%" stop-color="#ff0f00"/><stop offset="5.17%" stop-color="#80ff80"/><stop offset="6.12%" stop-color="#80ff80"/><stop offset="6.12%" stop-color="#ff0f00"/><stop offset="6.44%" stop-color="#ff0f00"/><stop offset="6.44%" stop-color="#05fffa"/><stop offset="6.60%" stop-color="#05fffa"/><stop offset="6.60%" stop-color="#ff0f00"/><stop offset="7.07%" stop-color="#ff0f00"/><stop offset="7.07%" stop-color="#05fffa"/><stop offset="7.71%" stop-color="#05fffa"/><stop offset="7.71%" stop-color="#ff8a00"/><stop offset="8.03%" stop-color="#ff8a00"/><stop offset="8.03%" stop-color="#05fffa"/><stop offset="9.30%" stop-color="#05fffa"/><stop offset="9.30%" stop-color="#faff05"/><stop offset="10.10%" stop-color="#faff05"/><stop offset="10.10%" stop-color="#ff0f00"/><stop offset="10.73%" stop-color="#ff0f00"/><stop offset="10.73%" stop-color="#faff05"/><stop offset="10.89%" stop-color="#faff05"/><stop offset="10.89%" stop-color="#ff0f00"/><stop offset="11.21%" stop-color="#ff0f00"/><stop offset="11.21%" stop-color="#faff05"/><stop offset="11.84%" stop-color="#faff05"/><stop offset="11.84%" stop-color="#05fffa"/><stop offset="12.16%" stop-color="#05fffa"/><stop offset="12.16%" stop-color="#faff05"/><stop offset="12.48%" stop-color="#faff05"/><stop offset="12.48%" stop-color="#0075ff"/><stop offset="12.80%" stop-color="#0075ff"/><stop offset="12.80%" stop-color="#05fffa"/><stop offset="13.12%" stop-color="#05fffa"/><stop offset="13.12%" stop-color="#0075ff"/><stop offset="13.43%" stop-color="#0075ff"/><stop offset="13.43%" stop-color="#faff05"/><stop offset="14.71%" stop-color="#faff05"/><stop offset="14.71%" stop-color="#0075ff"/><stop offset="14.86%" stop-color="#0075ff"/><stop offset="14.86%" stop-color="#ff0f00"/><stop offset="15.34%" stop-color="#ff0f00"/><stop offset="15.34%" stop-color="#0075ff"/><stop offset="15.66%" stop-color="#0075ff"/><stop offset="15.66%" stop-color="#05fffa"/><stop offset="15.98%" stop-color="#05fffa"/><stop offset="15.98%" stop-color="#0075ff"/><stop offset="16.30%" stop-color="#0075ff"/><stop offset="16.30%" stop-color="#80ff80"/><stop offset="17.09%" stop-color="#80ff80"/><stop offset="17.09%" stop-color="#ff0f00"/><stop offset="17.57%" stop-color="#ff0f00"/><stop offset="17.57%" stop-color="#80ff80"/><stop offset="17.73%" stop-color="#80ff80"/><stop offset="17.73%" stop-color="#ff8a00"/><stop offset="18.20%" stop-color="#ff8a00"/><stop offset="18.20%" stop-color="#ff0f00"/><stop offset="19.16%" stop-color="#ff0f00"/><stop offset="19.16%" stop-color="#05fffa"/><stop offset="19.48%" stop-color="#05fffa"/><stop offset="19.48%" stop-color="#faff05"/><stop offset="19.79%" stop-color="#faff05"/><stop offset="19.79%" stop-color="#05fffa"/><stop offset="20.11%" stop-color="#05fffa"/><stop offset="20.11%" stop-color="#80ff80"/><stop offset="20.43%" stop-color="#80ff80"/><stop offset="20.43%" stop-color="#0075ff"/><stop offset="20.91%" stop-color="#0075ff"/><stop offset="20.91%" stop-color="#80ff80"/><stop offset="21.38%" stop-color="#80ff80"/><stop offset="21.38%" stop-color="#05fffa"/><stop offset="21.86%" stop-color="#05fffa"/><stop offset="21.86%" stop-color="#0075ff"/><stop offset="22.18%" stop-color="#0075ff"/><stop offset="22.18%" stop-color="#05fffa"/><stop offset="22.66%" stop-color="#05fffa"/><stop offset="22.66%" stop-color="#faff05"/><stop offset="22.97%" stop-color="#faff05"/><stop offset="22.97%" stop-color="#05fffa"/><stop offset="23.29%" stop-color="#05fffa"/><stop offset="23.29%" stop-color="#80ff80"/><stop offset="23.61%" stop-color="#80ff80"/><stop offset="23.61%" stop-color="#0075ff"/><stop offset="24.40%" stop-color="#0075ff"/><stop offset="24.40%" stop-color="#80ff80"/><stop offset="24.88%" stop-color="#80ff80"/><stop offset="24.88%" stop-color="#0075ff"/><stop offset="25.83%" stop-color="#0075ff"/><stop offset="25.83%" stop-color="#ff8a00"/><stop offset="25.99%" stop-color="#ff8a00"/><stop offset="25.99%" stop-color="#05fffa"/><stop offset="27.11%" stop-color="#05fffa"/><stop offset="27.11%" stop-color="#faff05"/><stop offset="27.42%" stop-color="#faff05"/><stop offset="27.42%" stop-color="#05fffa"/><stop offset="28.06%" stop-color="#05fffa"/><stop offset="28.06%" stop-color="#ff8a00"/><stop offset="28.22%" stop-color="#ff8a00"/><stop offset="28.22%" stop-color="#faff05"/><stop offset="29.17%" stop-color="#faff05"/><stop offset="29.17%" stop-color="#ff0f00"/><stop offset="29.81%" stop-color="#ff0f00"/><stop offset="29.81%" stop-color="#0075ff"/><stop offset="30.76%" stop-color="#0075ff"/><stop offset="30.76%" stop-color="#ff0f00"/><stop offset="31.24%" stop-color="#ff0f00"/><stop offset="31.24%" stop-color="#faff05"/><stop offset="31.56%" stop-color="#faff05"/><stop offset="31.56%" stop-color="#05fffa"/><stop offset="31.88%" stop-color="#05fffa"/><stop offset="31.88%" stop-color="#80ff80"/><stop offset="32.67%" stop-color="#80ff80"/><stop offset="32.67%" stop-color="#05fffa"/><stop offset="32.83%" stop-color="#05fffa"/><stop offset="32.83%" stop-color="#ff0f00"/><stop offset="33.15%" stop-color="#ff0f00"/><stop offset="33.15%" stop-color="#05fffa"/><stop offset="34.58%" stop-color="#05fffa"/><stop offset="34.58%" stop-color="#ff0f00"/><stop offset="35.69%" stop-color="#ff0f00"/><stop offset="35.69%" stop-color="#ff8a00"/><stop offset="36.96%" stop-color="#ff8a00"/><stop offset="36.96%" stop-color="#ff0f00"/><stop offset="38.24%" stop-color="#ff0f00"/><stop offset="38.24%" stop-color="#faff05"/><stop offset="40.62%" stop-color="#faff05"/><stop offset="40.62%" stop-color="#05fffa"/><stop offset="42.37%" stop-color="#05fffa"/><stop offset="42.37%" stop-color="#faff05"/><stop offset="42.69%" stop-color="#faff05"/><stop offset="42.69%" stop-color="#05fffa"/><stop offset="42.85%" stop-color="#05fffa"/><stop offset="42.85%" stop-color="#ff0f00"/><stop offset="43.16%" stop-color="#ff0f00"/><stop offset="43.16%" stop-color="#ff8a00"/><stop offset="43.64%" stop-color="#ff8a00"/><stop offset="43.64%" stop-color="#0075ff"/><stop offset="44.12%" stop-color="#0075ff"/><stop offset="44.12%" stop-color="#80ff80"/><stop offset="44.59%" stop-color="#80ff80"/><stop offset="44.59%" stop-color="#ff0f00"/><stop offset="44.75%" stop-color="#ff0f00"/><stop offset="44.75%" stop-color="#0075ff"/><stop offset="45.07%" stop-color="#0075ff"/><stop offset="45.07%" stop-color="#ff0f00"/><stop offset="45.23%" stop-color="#ff0f00"/><stop offset="45.23%" stop-color="#80ff80"/><stop offset="45.39%" stop-color="#80ff80"/><stop offset="45.39%" stop-color="#0075ff"/><stop offset="46.03%" stop-color="#0075ff"/><stop offset="46.03%" stop-color="#05fffa"/><stop offset="46.34%" stop-color="#05fffa"/><stop offset="46.34%" stop-color="#0075ff"/><stop offset="46.82%" stop-color="#0075ff"/><stop offset="46.82%" stop-color="#05fffa"/><stop offset="47.46%" stop-color="#05fffa"/><stop offset="47.46%" stop-color="#faff05"/><stop offset="47.77%" stop-color="#faff05"/><stop offset="47.77%" stop-color="#05fffa"/><stop offset="48.09%" stop-color="#05fffa"/><stop offset="48.09%" stop-color="#0075ff"/><stop offset="48.41%" stop-color="#0075ff"/><stop offset="48.41%" stop-color="#ff8a00"/><stop offset="48.89%" stop-color="#ff8a00"/><stop offset="48.89%" stop-color="#faff05"/><stop offset="49.52%" stop-color="#faff05"/><stop offset="49.52%" stop-color="#05fffa"/><stop offset="50.79%" stop-color="#05fffa"/><stop offset="50.79%" stop-color="#ff0f00"/><stop offset="51.11%" stop-color="#ff0f00"/><stop offset="51.11%" stop-color="#faff05"/><stop offset="51.91%" stop-color="#faff05"/><stop offset="51.91%" stop-color="#ff0f00"/><stop offset="52.23%" stop-color="#ff0f00"/><stop offset="52.23%" stop-color="#05fffa"/><stop offset="52.54%" stop-color="#05fffa"/><stop offset="52.54%" stop-color="#ff0f00"/><stop offset="53.02%" stop-color="#ff0f00"/><stop offset="53.02%" stop-color="#05fffa"/><stop offset="53.97%" stop-color="#05fffa"/><stop offset="53.97%" stop-color="#0075ff"/><stop offset="55.09%" stop-color="#0075ff"/><stop offset="55.09%" stop-color="#faff05"/><stop offset="55.41%" stop-color="#faff05"/><stop offset="55.41%" stop-color="#0075ff"/><stop offset="56.68%" stop-color="#0075ff"/><stop offset="56.68%" stop-color="#faff05"/><stop offset="58.27%" stop-color="#faff05"/><stop offset="58.27%" stop-color="#80ff80"/><stop offset="58.59%" stop-color="#80ff80"/><stop offset="58.59%" stop-color="#faff05"/><stop offset="59.70%" stop-color="#faff05"/><stop offset="59.70%" stop-color="#05fffa"/><stop offset="62.24%" stop-color="#05fffa"/><stop offset="62.24%" stop-color="#ff0f00"/><stop offset="63.04%" stop-color="#ff0f00"/><stop offset="63.04%" stop-color="#80ff80"/><stop offset="63.51%" stop-color="#80ff80"/><stop offset="63.51%" stop-color="#ff0f00"/><stop offset="66.22%" stop-color="#ff0f00"/><stop offset="66.22%" stop-color="#ff8a00"/><stop offset="67.01%" stop-color="#ff8a00"/><stop offset="67.01%" stop-color="#ff0f00"/><stop offset="67.97%" stop-color="#ff0f00"/><stop offset="67.97%" stop-color="#faff05"/><stop offset="68.12%" stop-color="#faff05"/><stop offset="68.12%" stop-color="#05fffa"/><stop offset="69.71%" stop-color="#05fffa"/><stop offset="69.71%" stop-color="#80ff80"/><stop offset="70.83%" stop-color="#80ff80"/><stop offset="70.83%" stop-color="#0075ff"/><stop offset="71.78%" stop-color="#0075ff"/><stop offset="71.78%" stop-color="#ff0f00"/><stop offset="73.37%" stop-color="#ff0f00"/><stop offset="73.37%" stop-color="#faff05"/><stop offset="74.17%" stop-color="#faff05"/><stop offset="74.17%" stop-color="#80ff80"/><stop offset="75.44%" stop-color="#80ff80"/><stop offset="75.44%" stop-color="#05fffa"/><stop offset="81.00%" stop-color="#05fffa"/><stop offset="81.00%" stop-color="#80ff80"/><stop offset="81.32%" stop-color="#80ff80"/><stop offset="81.32%" stop-color="#9e0000"/><stop offset="82.27%" stop-color="#9e0000"/><stop offset="82.27%" stop-color="#faff05"/><stop offset="83.23%" stop-color="#faff05"/><stop offset="83.23%" stop-color="#05fffa"/><stop offset="83.70%" stop-color="#05fffa"/><stop offset="83.70%" stop-color="#0075ff"/><stop offset="84.98%" stop-color="#0075ff"/><stop offset="84.98%" stop-color="#faff05"/><stop offset="85.93%" stop-color="#faff05"/><stop offset="85.93%" stop-color="#ff8a00"/><stop offset="86.57%" stop-color="#ff8a00"/><stop offset="86.57%" stop-color="#faff05"/><stop offset="86.88%" stop-color="#faff05"/><stop offset="86.88%" stop-color="#05fffa"/><stop offset="88.16%" stop-color="#05fffa"/><stop offset="88.16%" stop-color="#faff05"/><stop offset="89.75%" stop-color="#faff05"/><stop offset="89.75%" stop-color="#05fffa"/><stop offset="91.18%" stop-color="#05fffa"/><stop offset="91.18%" stop-color="#ff0f00"/><stop offset="91.97%" stop-color="#ff0f00"/><stop offset="91.97%" stop-color="#05fffa"/><stop offset="92.93%" stop-color="#05fffa"/><stop offset="92.93%" stop-color="#ff0f00"/><stop offset="94.67%" stop-color="#ff0f00"/><stop offset="94.67%" stop-color="#80ff80"/><stop offset="98.81%" stop-color="#80ff80"/><stop offset="98.81%" stop-color="#faff05"/></linearGradient>
<clipPath id="k13"><rect x="401.8" y="605.7" width="313.5" height="120.6"/></clipPath>
<linearGradient id="g14" gradientUnits="userSpaceOnUse" x1="140.1" y1="0" x2="394.8" y2="0"><stop offset="0.10%" stop-color="#0075ff"/><stop offset="3.04%" stop-color="#0075ff"/><stop offset="3.04%" stop-color="#05fffa"/><stop offset="4.22%" stop-color="#05fffa"/><stop offset="4.22%" stop-color="#faff05"/><stop offset="5.20%" stop-color="#faff05"/><stop offset="5.20%" stop-color="#05fffa"/><stop offset="6.58%" stop-color="#05fffa"/><stop offset="6.58%" stop-color="#0075ff"/><stop offset="11.29%" stop-color="#0075ff"/><stop offset="11.29%" stop-color="#faff05"/><stop offset="12.27%" stop-color="#faff05"/><stop offset="12.27%" stop-color="#0075ff"/><stop offset="17.18%" stop-color="#0075ff"/><stop offset="17.18%" stop-color="#05fffa"/><stop offset="19.14%" stop-color="#05fffa"/><stop offset="19.14%" stop-color="#faff05"/><stop offset="21.10%" stop-color="#faff05"/><stop offset="21.10%" stop-color="#05fffa"/><stop offset="24.05%" stop-color="#05fffa"/><stop offset="24.05%" stop-color="#faff05"/><stop offset="25.81%" stop-color="#faff05"/><stop offset="25.81%" stop-color="#05fffa"/><stop offset="26.01%" stop-color="#05fffa"/><stop offset="26.01%" stop-color="#faff05"/><stop offset="27.19%" stop-color="#faff05"/><stop offset="27.19%" stop-color="#0075ff"/><stop offset="29.74%" stop-color="#0075ff"/><stop offset="29.74%" stop-color="#05fffa"/><stop offset="31.12%" stop-color="#05fffa"/><stop offset="31.12%" stop-color="#0075ff"/><stop offset="37.40%" stop-color="#0075ff"/><stop offset="37.40%" stop-color="#05fffa"/><stop offset="37.79%" stop-color="#05fffa"/><stop offset="37.79%" stop-color="#faff05"/><stop offset="38.38%" stop-color="#faff05"/><stop offset="38.38%" stop-color="#0075ff"/><stop offset="39.36%" stop-color="#0075ff"/><stop offset="39.36%" stop-color="#0000fa"/><stop offset="39.75%" stop-color="#0000fa"/><stop offset="39.75%" stop-color="#05fffa"/><stop offset="39.95%" stop-color="#05fffa"/><stop offset="39.95%" stop-color="#0075ff"/><stop offset="40.69%" stop-color="#0075ff"/><stop offset="40.69%" stop-color="#faff05"/><stop offset="40.93%" stop-color="#faff05"/><stop offset="40.93%" stop-color="#0000fa"/><stop offset="41.52%" stop-color="#0000fa"/><stop offset="41.52%" stop-color="#0075ff"/><stop offset="42.50%" stop-color="#0075ff"/><stop offset="42.50%" stop-color="#05fffa"/><stop offset="44.27%" stop-color="#05fffa"/><stop offset="44.27%" stop-color="#0075ff"/><stop offset="45.25%" stop-color="#0075ff"/><stop offset="45.25%" stop-color="#05fffa"/><stop offset="45.64%" stop-color="#05fffa"/><stop offset="45.64%" stop-color="#0075ff"/><stop offset="47.61%" stop-color="#0075ff"/><stop offset="47.61%" stop-color="#05fffa"/><stop offset="48.19%" stop-color="#05fffa"/><stop offset="48.19%" stop-color="#0075ff"/><stop offset="48.39%" stop-color="#0075ff"/><stop offset="48.39%" stop-color="#05fffa"/><stop offset="48.78%" stop-color="#05fffa"/><stop offset="48.78%" stop-color="#0075ff"/><stop offset="50.04%" stop-color="#0075ff"/><stop offset="50.04%" stop-color="#faff05"/><stop offset="50.35%" stop-color="#faff05"/><stop offset="50.35%" stop-color="#0075ff"/><stop offset="50.55%" stop-color="#0075ff"/><stop offset="50.55%" stop-color="#05fffa"/><stop offset="50.75%" stop-color="#05fffa"/><stop offset="50.75%" stop-color="#0075ff"/><stop offset="50.94%" stop-color="#0075ff"/><stop offset="50.94%" stop-color="#05fffa"/><stop offset="51.14%" stop-color="#05fffa"/><stop offset="51.14%" stop-color="#0075ff"/><stop offset="51.53%" stop-color="#0075ff"/><stop offset="51.53%" stop-color="#05fffa"/><stop offset="52.51%" stop-color="#05fffa"/><stop offset="52.51%" stop-color="#faff05"/><stop offset="52.71%" stop-color="#faff05"/><stop offset="52.71%" stop-color="#05fffa"/><stop offset="53.49%" stop-color="#05fffa"/><stop offset="53.49%" stop-color="#0075ff"/><stop offset="54.08%" stop-color="#0075ff"/><stop offset="54.08%" stop-color="#05fffa"/><stop offset="54.28%" stop-color="#05fffa"/><stop offset="54.28%" stop-color="#80ff80"/><stop offset="55.65%" stop-color="#80ff80"/><stop offset="55.65%" stop-color="#05fffa"/><stop offset="55.85%" stop-color="#05fffa"/><stop offset="55.85%" stop-color="#faff05"/><stop offset="56.64%" stop-color="#faff05"/><stop offset="56.64%" stop-color="#05fffa"/><stop offset="57.22%" stop-color="#05fffa"/><stop offset="57.22%" stop-color="#0075ff"/><stop offset="58.60%" stop-color="#0075ff"/><stop offset="58.60%" stop-color="#80ff80"/><stop offset="59.19%" stop-color="#80ff80"/><stop offset="59.19%" stop-color="#05fffa"/><stop offset="60.56%" stop-color="#05fffa"/><stop offset="60.56%" stop-color="#0075ff"/><stop offset="60.95%" stop-color="#0075ff"/><stop offset="60.95%" stop-color="#05fffa"/><stop offset="61.54%" stop-color="#05fffa"/><stop offset="61.54%" stop-color="#0075ff"/><stop offset="64.10%" stop-color="#0075ff"/><stop offset="64.10%" stop-color="#0000fa"/><stop offset="64.68%" stop-color="#0000fa"/><stop offset="64.68%" stop-color="#0075ff"/><stop offset="65.47%" stop-color="#0075ff"/><stop offset="65.47%" stop-color="#05fffa"/><stop offset="69.59%" stop-color="#05fffa"/><stop offset="69.59%" stop-color="#80ff80"/><stop offset="70.18%" stop-color="#80ff80"/><stop offset="70.18%" stop-color="#05fffa"/><stop offset="70.38%" stop-color="#05fffa"/><stop offset="70.38%" stop-color="#0075ff"/><stop offset="70.73%" stop-color="#0075ff"/><stop offset="70.73%" stop-color="#faff05"/><stop offset="70.97%" stop-color="#faff05"/><stop offset="70.97%" stop-color="#0075ff"/><stop offset="71.55%" stop-color="#0075ff"/><stop offset="71.55%" stop-color="#05fffa"/><stop offset="72.73%" stop-color="#05fffa"/><stop offset="72.73%" stop-color="#faff05"/><stop offset="73.32%" stop-color="#faff05"/><stop offset="73.32%" stop-color="#05fffa"/><stop offset="74.70%" stop-color="#05fffa"/><stop offset="74.70%" stop-color="#0075ff"/><stop offset="75.09%" stop-color="#0075ff"/><stop offset="75.09%" stop-color="#80ff80"/><stop offset="75.68%" stop-color="#80ff80"/><stop offset="75.68%" stop-color="#0075ff"/><stop offset="76.46%" stop-color="#0075ff"/><stop offset="76.46%" stop-color="#80ff80"/><stop offset="77.44%" stop-color="#80ff80"/><stop offset="77.44%" stop-color="#05fffa"/><stop offset="78.43%" stop-color="#05fffa"/><stop offset="78.43%" stop-color="#80ff80"/><stop offset="79.60%" stop-color="#80ff80"/><stop offset="79.60%" stop-color="#0075ff"/><stop offset="82.74%" stop-color="#0075ff"/><stop offset="82.74%" stop-color="#05fffa"/><stop offset="83.33%" stop-color="#05fffa"/><stop offset="83.33%" stop-color="#faff05"/><stop offset="83.92%" stop-color="#faff05"/><stop offset="83.92%" stop-color="#05fffa"/><stop offset="84.71%" stop-color="#05fffa"/><stop offset="84.71%" stop-color="#0075ff"/><stop offset="86.47%" stop-color="#0075ff"/><stop offset="86.47%" stop-color="#80ff80"/><stop offset="86.83%" stop-color="#80ff80"/><stop offset="86.83%" stop-color="#0075ff"/><stop offset="87.26%" stop-color="#0075ff"/><stop offset="87.26%" stop-color="#05fffa"/><stop offset="89.22%" stop-color="#05fffa"/><stop offset="89.22%" stop-color="#0075ff"/><stop offset="89.62%" stop-color="#0075ff"/><stop offset="89.62%" stop-color="#faff05"/><stop offset="93.15%" stop-color="#faff05"/><stop offset="93.15%" stop-color="#0075ff"/><stop offset="93.93%" stop-color="#0075ff"/><stop offset="93.93%" stop-color="#ff0f00"/><stop offset="94.33%" stop-color="#ff0f00"/><stop offset="94.33%" stop-color="#0075ff"/><stop offset="96.88%" stop-color="#0075ff"/><stop offset="96.88%" stop-color="#faff05"/><stop offset="98.25%" stop-color="#faff05"/><stop offset="98.25%" stop-color="#0075ff"/></linearGradient>
<clipPath id="k14"><rect x="140.6" y="765.9" width="253.7" height="117.5"/></clipPath>
<linearGradient id="g15" gradientUnits="userSpaceOnUse" x1="399.6" y1="0" x2="715.3" y2="0"><stop offset="0.08%" stop-color="#faff05"/><stop offset="1.03%" stop-color="#faff05"/><stop offset="1.03%" stop-color="#ff0f00"/><stop offset="1.98%" stop-color="#ff0f00"/><stop offset="1.98%" stop-color="#0075ff"/><stop offset="2.93%" stop-color="#0075ff"/><stop offset="2.93%" stop-color="#ff8a00"/><stop offset="3.09%" stop-color="#ff8a00"/><stop offset="3.09%" stop-color="#ff0f00"/><stop offset="3.41%" stop-color="#ff0f00"/><stop offset="3.41%" stop-color="#ff8a00"/><stop offset="4.04%" stop-color="#ff8a00"/><stop offset="4.04%" stop-color="#faff05"/><stop offset="4.99%" stop-color="#faff05"/><stop offset="4.99%" stop-color="#0075ff"/><stop offset="6.57%" stop-color="#0075ff"/><stop offset="6.57%" stop-color="#ff8a00"/><stop offset="7.21%" stop-color="#ff8a00"/><stop offset="7.21%" stop-color="#ff0f00"/><stop offset="7.52%" stop-color="#ff0f00"/><stop offset="7.52%" stop-color="#0075ff"/><stop offset="9.42%" stop-color="#0075ff"/><stop offset="9.42%" stop-color="#80ff80"/><stop offset="9.74%" stop-color="#80ff80"/><stop offset="9.74%" stop-color="#ff0f00"/><stop offset="11.17%" stop-color="#ff0f00"/><stop offset="11.17%" stop-color="#faff05"/><stop offset="12.43%" stop-color="#faff05"/><stop offset="12.43%" stop-color="#ff8a00"/><stop offset="12.59%" stop-color="#ff8a00"/><stop offset="12.59%" stop-color="#80ff80"/><stop offset="12.91%" stop-color="#80ff80"/><stop offset="12.91%" stop-color="#ff8a00"/><stop offset="13.38%" stop-color="#ff8a00"/><stop offset="13.38%" stop-color="#0075ff"/><stop offset="15.60%" stop-color="#0075ff"/><stop offset="15.60%" stop-color="#faff05"/><stop offset="16.39%" stop-color="#faff05"/><stop offset="16.39%" stop-color="#ff8a00"/><stop offset="16.71%" stop-color="#ff8a00"/><stop offset="16.71%" stop-color="#05fffa"/><stop offset="17.03%" stop-color="#05fffa"/><stop offset="17.03%" stop-color="#ff8a00"/><stop offset="17.50%" stop-color="#ff8a00"/><stop offset="17.50%" stop-color="#05fffa"/><stop offset="17.66%" stop-color="#05fffa"/><stop offset="17.66%" stop-color="#ff0f00"/><stop offset="18.13%" stop-color="#ff0f00"/><stop offset="18.13%" stop-color="#05fffa"/><stop offset="18.45%" stop-color="#05fffa"/><stop offset="18.45%" stop-color="#ff8a00"/><stop offset="19.08%" stop-color="#ff8a00"/><stop offset="19.08%" stop-color="#05fffa"/><stop offset="19.24%" stop-color="#05fffa"/><stop offset="19.24%" stop-color="#ff0f00"/><stop offset="19.72%" stop-color="#ff0f00"/><stop offset="19.72%" stop-color="#0075ff"/><stop offset="19.88%" stop-color="#0075ff"/><stop offset="19.88%" stop-color="#faff05"/><stop offset="20.19%" stop-color="#faff05"/><stop offset="20.19%" stop-color="#0075ff"/><stop offset="20.35%" stop-color="#0075ff"/><stop offset="20.35%" stop-color="#05fffa"/><stop offset="21.30%" stop-color="#05fffa"/><stop offset="21.30%" stop-color="#ff8a00"/><stop offset="21.94%" stop-color="#ff8a00"/><stop offset="21.94%" stop-color="#05fffa"/><stop offset="22.09%" stop-color="#05fffa"/><stop offset="22.09%" stop-color="#faff05"/><stop offset="22.57%" stop-color="#faff05"/><stop offset="22.57%" stop-color="#05fffa"/><stop offset="23.99%" stop-color="#05fffa"/><stop offset="23.99%" stop-color="#80ff80"/><stop offset="24.47%" stop-color="#80ff80"/><stop offset="24.47%" stop-color="#faff05"/><stop offset="24.94%" stop-color="#faff05"/><stop offset="24.94%" stop-color="#ff8a00"/><stop offset="25.26%" stop-color="#ff8a00"/><stop offset="25.26%" stop-color="#faff05"/><stop offset="27.00%" stop-color="#faff05"/><stop offset="27.00%" stop-color="#05fffa"/><stop offset="28.27%" stop-color="#05fffa"/><stop offset="28.27%" stop-color="#ff8a00"/><stop offset="28.43%" stop-color="#ff8a00"/><stop offset="28.43%" stop-color="#0075ff"/><stop offset="28.75%" stop-color="#0075ff"/><stop offset="28.75%" stop-color="#ff8a00"/><stop offset="29.38%" stop-color="#ff8a00"/><stop offset="29.38%" stop-color="#0075ff"/><stop offset="30.96%" stop-color="#0075ff"/><stop offset="30.96%" stop-color="#ff0f00"/><stop offset="31.12%" stop-color="#ff0f00"/><stop offset="31.12%" stop-color="#05fffa"/><stop offset="31.60%" stop-color="#05fffa"/><stop offset="31.60%" stop-color="#ff0f00"/><stop offset="31.91%" stop-color="#ff0f00"/><stop offset="31.91%" stop-color="#faff05"/><stop offset="33.50%" stop-color="#faff05"/><stop offset="33.50%" stop-color="#05fffa"/><stop offset="34.61%" stop-color="#05fffa"/><stop offset="34.61%" stop-color="#0075ff"/><stop offset="35.40%" stop-color="#0075ff"/><stop offset="35.40%" stop-color="#ff8a00"/><stop offset="35.71%" stop-color="#ff8a00"/><stop offset="35.71%" stop-color="#0075ff"/><stop offset="36.35%" stop-color="#0075ff"/><stop offset="36.35%" stop-color="#ff0f00"/><stop offset="36.66%" stop-color="#ff0f00"/><stop offset="36.66%" stop-color="#0075ff"/><stop offset="37.77%" stop-color="#0075ff"/><stop offset="37.77%" stop-color="#faff05"/><stop offset="37.93%" stop-color="#faff05"/><stop offset="37.93%" stop-color="#ff8a00"/><stop offset="38.41%" stop-color="#ff8a00"/><stop offset="38.41%" stop-color="#faff05"/><stop offset="39.99%" stop-color="#faff05"/><stop offset="39.99%" stop-color="#0075ff"/><stop offset="40.31%" stop-color="#0075ff"/><stop offset="40.31%" stop-color="#ff8a00"/><stop offset="40.94%" stop-color="#ff8a00"/><stop offset="40.94%" stop-color="#0075ff"/><stop offset="41.42%" stop-color="#0075ff"/><stop offset="41.42%" stop-color="#ff8a00"/><stop offset="42.37%" stop-color="#ff8a00"/><stop offset="42.37%" stop-color="#faff05"/><stop offset="42.68%" stop-color="#faff05"/><stop offset="42.68%" stop-color="#ff8a00"/><stop offset="43.00%" stop-color="#ff8a00"/><stop offset="43.00%" stop-color="#ff0f00"/><stop offset="43.63%" stop-color="#ff0f00"/><stop offset="43.63%" stop-color="#ff8a00"/><stop offset="44.27%" stop-color="#ff8a00"/><stop offset="44.27%" stop-color="#80ff80"/><stop offset="44.58%" stop-color="#80ff80"/><stop offset="44.58%" stop-color="#faff05"/><stop offset="45.38%" stop-color="#faff05"/><stop offset="45.38%" stop-color="#05fffa"/><stop offset="45.69%" stop-color="#05fffa"/><stop offset="45.69%" stop-color="#80ff80"/><stop offset="46.17%" stop-color="#80ff80"/><stop offset="46.17%" stop-color="#0075ff"/><stop offset="46.80%" stop-color="#0075ff"/><stop offset="46.80%" stop-color="#faff05"/><stop offset="47.28%" stop-color="#faff05"/><stop offset="47.28%" stop-color="#05fffa"/><stop offset="47.75%" stop-color="#05fffa"/><stop offset="47.75%" stop-color="#ff0f00"/><stop offset="48.07%" stop-color="#ff0f00"/><stop offset="48.07%" stop-color="#0075ff"/><stop offset="48.38%" stop-color="#0075ff"/><stop offset="48.38%" stop-color="#80ff80"/><stop offset="48.70%" stop-color="#80ff80"/><stop offset="48.70%" stop-color="#0075ff"/><stop offset="49.18%" stop-color="#0075ff"/><stop offset="49.18%" stop-color="#80ff80"/><stop offset="49.65%" stop-color="#80ff80"/><stop offset="49.65%" stop-color="#05fffa"/><stop offset="50.13%" stop-color="#05fffa"/><stop offset="50.13%" stop-color="#0075ff"/><stop offset="50.60%" stop-color="#0075ff"/><stop offset="50.60%" stop-color="#ff8a00"/><stop offset="50.92%" stop-color="#ff8a00"/><stop offset="50.92%" stop-color="#0075ff"/><stop offset="51.55%" stop-color="#0075ff"/><stop offset="51.55%" stop-color="#05fffa"/><stop offset="51.87%" stop-color="#05fffa"/><stop offset="51.87%" stop-color="#ff0f00"/><stop offset="54.40%" stop-color="#ff0f00"/><stop offset="54.40%" stop-color="#0075ff"/><stop offset="54.72%" stop-color="#0075ff"/><stop offset="54.72%" stop-color="#ff0f00"/><stop offset="55.35%" stop-color="#ff0f00"/><stop offset="55.35%" stop-color="#0075ff"/><stop offset="56.46%" stop-color="#0075ff"/><stop offset="56.46%" stop-color="#ff8a00"/><stop offset="57.41%" stop-color="#ff8a00"/><stop offset="57.41%" stop-color="#0075ff"/><stop offset="58.84%" stop-color="#0075ff"/><stop offset="58.84%" stop-color="#faff05"/><stop offset="59.00%" stop-color="#faff05"/><stop offset="59.00%" stop-color="#ff0f00"/><stop offset="59.47%" stop-color="#ff0f00"/><stop offset="59.47%" stop-color="#faff05"/><stop offset="60.26%" stop-color="#faff05"/><stop offset="60.26%" stop-color="#05fffa"/><stop offset="61.53%" stop-color="#05fffa"/><stop offset="61.53%" stop-color="#ff8a00"/><stop offset="62.32%" stop-color="#ff8a00"/><stop offset="62.32%" stop-color="#0075ff"/><stop offset="64.54%" stop-color="#0075ff"/><stop offset="64.54%" stop-color="#05fffa"/><stop offset="64.70%" stop-color="#05fffa"/><stop offset="64.70%" stop-color="#ff0f00"/><stop offset="65.81%" stop-color="#ff0f00"/><stop offset="65.81%" stop-color="#05fffa"/><stop offset="66.76%" stop-color="#05fffa"/><stop offset="66.76%" stop-color="#0075ff"/><stop offset="68.18%" stop-color="#0075ff"/><stop offset="68.18%" stop-color="#ff0f00"/><stop offset="69.45%" stop-color="#ff0f00"/><stop offset="69.45%" stop-color="#05fffa"/><stop offset="69.61%" stop-color="#05fffa"/><stop offset="69.61%" stop-color="#faff05"/><stop offset="69.92%" stop-color="#faff05"/><stop offset="69.92%" stop-color="#05fffa"/><stop offset="72.30%" stop-color="#05fffa"/><stop offset="72.30%" stop-color="#ff8a00"/><stop offset="73.73%" stop-color="#ff8a00"/><stop offset="73.73%" stop-color="#05fffa"/><stop offset="74.52%" stop-color="#05fffa"/><stop offset="74.52%" stop-color="#0075ff"/><stop offset="75.94%" stop-color="#0075ff"/><stop offset="75.94%" stop-color="#faff05"/><stop offset="77.53%" stop-color="#faff05"/><stop offset="77.53%" stop-color="#ff8a00"/><stop offset="79.11%" stop-color="#ff8a00"/><stop offset="79.11%" stop-color="#05fffa"/><stop offset="80.85%" stop-color="#05fffa"/><stop offset="80.85%" stop-color="#ff0f00"/><stop offset="81.80%" stop-color="#ff0f00"/><stop offset="81.80%" stop-color="#0075ff"/><stop offset="85.60%" stop-color="#0075ff"/><stop offset="85.60%" stop-color="#faff05"/><stop offset="87.19%" stop-color="#faff05"/><stop offset="87.19%" stop-color="#05fffa"/><stop offset="88.61%" stop-color="#05fffa"/><stop offset="88.61%" stop-color="#ff0f00"/><stop offset="89.72%" stop-color="#ff0f00"/><stop offset="89.72%" stop-color="#0075ff"/><stop offset="90.51%" stop-color="#0075ff"/><stop offset="90.51%" stop-color="#ff8a00"/><stop offset="91.94%" stop-color="#ff8a00"/><stop offset="91.94%" stop-color="#faff05"/><stop offset="92.73%" stop-color="#faff05"/><stop offset="92.73%" stop-color="#ff8a00"/><stop offset="93.84%" stop-color="#ff8a00"/><stop offset="93.84%" stop-color="#ff0f00"/><stop offset="94.95%" stop-color="#ff0f00"/><stop offset="94.95%" stop-color="#faff05"/><stop offset="98.91%" stop-color="#faff05"/><stop offset="98.91%" stop-color="#0075ff"/></linearGradient>
<clipPath id="k15"><rect x="400.1" y="764.5" width="314.7" height="118.9"/></clipPath>
<linearGradient id="g16" gradientUnits="userSpaceOnUse" x1="140.1" y1="0" x2="354.8" y2="0"><stop offset="0.12%" stop-color="#0075ff"/><stop offset="2.21%" stop-color="#0075ff"/><stop offset="2.21%" stop-color="#ff0f00"/><stop offset="2.68%" stop-color="#ff0f00"/><stop offset="2.68%" stop-color="#0075ff"/><stop offset="3.38%" stop-color="#0075ff"/><stop offset="3.38%" stop-color="#05fffa"/><stop offset="8.73%" stop-color="#05fffa"/><stop offset="8.73%" stop-color="#ff8a00"/><stop offset="10.13%" stop-color="#ff8a00"/><stop offset="10.13%" stop-color="#0075ff"/><stop offset="11.06%" stop-color="#0075ff"/><stop offset="11.06%" stop-color="#ff0f00"/><stop offset="11.53%" stop-color="#ff0f00"/><stop offset="11.53%" stop-color="#0075ff"/><stop offset="12.23%" stop-color="#0075ff"/><stop offset="12.23%" stop-color="#ff8a00"/><stop offset="13.86%" stop-color="#ff8a00"/><stop offset="13.86%" stop-color="#05fffa"/><stop offset="15.95%" stop-color="#05fffa"/><stop offset="15.95%" stop-color="#0075ff"/><stop offset="18.05%" stop-color="#0075ff"/><stop offset="18.05%" stop-color="#ff0f00"/><stop offset="18.51%" stop-color="#ff0f00"/><stop offset="18.51%" stop-color="#0075ff"/><stop offset="21.08%" stop-color="#0075ff"/><stop offset="21.08%" stop-color="#ff8a00"/><stop offset="22.47%" stop-color="#ff8a00"/><stop offset="22.47%" stop-color="#05fffa"/><stop offset="23.87%" stop-color="#05fffa"/><stop offset="23.87%" stop-color="#ff0f00"/><stop offset="24.10%" stop-color="#ff0f00"/><stop offset="24.10%" stop-color="#05fffa"/><stop offset="25.50%" stop-color="#05fffa"/><stop offset="25.50%" stop-color="#0075ff"/><stop offset="26.43%" stop-color="#0075ff"/><stop offset="26.43%" stop-color="#ff0f00"/><stop offset="27.13%" stop-color="#ff0f00"/><stop offset="27.13%" stop-color="#0075ff"/><stop offset="27.83%" stop-color="#0075ff"/><stop offset="27.83%" stop-color="#ff0f00"/><stop offset="28.06%" stop-color="#ff0f00"/><stop offset="28.06%" stop-color="#faff05"/><stop offset="28.53%" stop-color="#faff05"/><stop offset="28.53%" stop-color="#ff0f00"/><stop offset="28.99%" stop-color="#ff0f00"/><stop offset="28.99%" stop-color="#ff8a00"/><stop offset="30.16%" stop-color="#ff8a00"/><stop offset="30.16%" stop-color="#05fffa"/><stop offset="30.62%" stop-color="#05fffa"/><stop offset="30.62%" stop-color="#ff0f00"/><stop offset="30.86%" stop-color="#ff0f00"/><stop offset="30.86%" stop-color="#05fffa"/><stop offset="32.25%" stop-color="#05fffa"/><stop offset="32.25%" stop-color="#ff8a00"/><stop offset="35.05%" stop-color="#ff8a00"/><stop offset="35.05%" stop-color="#0075ff"/><stop offset="37.61%" stop-color="#0075ff"/><stop offset="37.61%" stop-color="#05fffa"/><stop offset="38.54%" stop-color="#05fffa"/><stop offset="38.54%" stop-color="#0075ff"/><stop offset="39.94%" stop-color="#0075ff"/><stop offset="39.94%" stop-color="#05fffa"/><stop offset="40.87%" stop-color="#05fffa"/><stop offset="40.87%" stop-color="#faff05"/><stop offset="42.27%" stop-color="#faff05"/><stop offset="42.27%" stop-color="#05fffa"/><stop offset="43.67%" stop-color="#05fffa"/><stop offset="43.67%" stop-color="#ff8a00"/><stop offset="44.36%" stop-color="#ff8a00"/><stop offset="44.36%" stop-color="#faff05"/><stop offset="45.06%" stop-color="#faff05"/><stop offset="45.06%" stop-color="#0075ff"/><stop offset="45.99%" stop-color="#0075ff"/><stop offset="45.99%" stop-color="#ff8a00"/><stop offset="48.09%" stop-color="#ff8a00"/><stop offset="48.09%" stop-color="#0075ff"/><stop offset="48.79%" stop-color="#0075ff"/><stop offset="48.79%" stop-color="#05fffa"/><stop offset="49.72%" stop-color="#05fffa"/><stop offset="49.72%" stop-color="#faff05"/><stop offset="51.35%" stop-color="#faff05"/><stop offset="51.35%" stop-color="#0075ff"/><stop offset="52.52%" stop-color="#0075ff"/><stop offset="52.52%" stop-color="#05fffa"/><stop offset="53.45%" stop-color="#05fffa"/><stop offset="53.45%" stop-color="#ff0f00"/><stop offset="54.84%" stop-color="#ff0f00"/><stop offset="54.84%" stop-color="#ff8a00"/><stop offset="55.54%" stop-color="#ff8a00"/><stop offset="55.54%" stop-color="#ff0f00"/><stop offset="56.24%" stop-color="#ff0f00"/><stop offset="56.24%" stop-color="#ff8a00"/><stop offset="56.71%" stop-color="#ff8a00"/><stop offset="56.71%" stop-color="#faff05"/><stop offset="57.64%" stop-color="#faff05"/><stop offset="57.64%" stop-color="#0075ff"/><stop offset="58.57%" stop-color="#0075ff"/><stop offset="58.57%" stop-color="#ff8a00"/><stop offset="59.50%" stop-color="#ff8a00"/><stop offset="59.50%" stop-color="#0075ff"/><stop offset="60.20%" stop-color="#0075ff"/><stop offset="60.20%" stop-color="#ff0f00"/><stop offset="60.90%" stop-color="#ff0f00"/><stop offset="60.90%" stop-color="#05fffa"/><stop offset="61.36%" stop-color="#05fffa"/><stop offset="61.36%" stop-color="#faff05"/><stop offset="62.30%" stop-color="#faff05"/><stop offset="62.30%" stop-color="#0075ff"/><stop offset="63.46%" stop-color="#0075ff"/><stop offset="63.46%" stop-color="#ff8a00"/><stop offset="65.79%" stop-color="#ff8a00"/><stop offset="65.79%" stop-color="#0075ff"/><stop offset="66.26%" stop-color="#0075ff"/><stop offset="66.26%" stop-color="#faff05"/><stop offset="66.91%" stop-color="#faff05"/><stop offset="66.91%" stop-color="#80ff80"/><stop offset="67.42%" stop-color="#80ff80"/><stop offset="67.42%" stop-color="#0075ff"/><stop offset="67.65%" stop-color="#0075ff"/><stop offset="67.65%" stop-color="#ff8a00"/><stop offset="68.35%" stop-color="#ff8a00"/><stop offset="68.35%" stop-color="#0075ff"/><stop offset="69.05%" stop-color="#0075ff"/><stop offset="69.05%" stop-color="#ff0f00"/><stop offset="69.98%" stop-color="#ff0f00"/><stop offset="69.98%" stop-color="#05fffa"/><stop offset="70.45%" stop-color="#05fffa"/><stop offset="70.45%" stop-color="#ff8a00"/><stop offset="71.15%" stop-color="#ff8a00"/><stop offset="71.15%" stop-color="#ff0f00"/><stop offset="76.27%" stop-color="#ff0f00"/><stop offset="76.27%" stop-color="#ff8a00"/><stop offset="79.06%" stop-color="#ff8a00"/><stop offset="79.06%" stop-color="#0075ff"/><stop offset="79.30%" stop-color="#0075ff"/><stop offset="79.30%" stop-color="#ff8a00"/><stop offset="80.23%" stop-color="#ff8a00"/><stop offset="80.23%" stop-color="#ff0f00"/><stop offset="81.86%" stop-color="#ff0f00"/><stop offset="81.86%" stop-color="#faff05"/><stop offset="82.09%" stop-color="#faff05"/><stop offset="82.09%" stop-color="#ff0f00"/><stop offset="82.32%" stop-color="#ff0f00"/><stop offset="82.32%" stop-color="#faff05"/><stop offset="82.79%" stop-color="#faff05"/><stop offset="82.79%" stop-color="#ff8a00"/><stop offset="83.26%" stop-color="#ff8a00"/><stop offset="83.26%" stop-color="#ff0f00"/><stop offset="83.95%" stop-color="#ff0f00"/><stop offset="83.95%" stop-color="#0075ff"/><stop offset="84.65%" stop-color="#0075ff"/><stop offset="84.65%" stop-color="#ff8a00"/><stop offset="85.58%" stop-color="#ff8a00"/><stop offset="85.58%" stop-color="#0075ff"/><stop offset="86.05%" stop-color="#0075ff"/><stop offset="86.05%" stop-color="#ff0f00"/><stop offset="86.28%" stop-color="#ff0f00"/><stop offset="86.28%" stop-color="#ff8a00"/><stop offset="87.21%" stop-color="#ff8a00"/><stop offset="87.21%" stop-color="#faff05"/><stop offset="88.61%" stop-color="#faff05"/><stop offset="88.61%" stop-color="#ff8a00"/><stop offset="89.08%" stop-color="#ff8a00"/><stop offset="89.08%" stop-color="#faff05"/><stop offset="89.54%" stop-color="#faff05"/><stop offset="89.54%" stop-color="#ff0f00"/><stop offset="97.23%" stop-color="#ff0f00"/><stop offset="97.23%" stop-color="#ff8a00"/><stop offset="97.46%" stop-color="#ff8a00"/><stop offset="97.46%" stop-color="#ff0f00"/><stop offset="97.93%" stop-color="#ff0f00"/><stop offset="97.93%" stop-color="#ff8a00"/><stop offset="98.86%" stop-color="#ff8a00"/><stop offset="98.86%" stop-color="#faff05"/></linearGradient>
<clipPath id="k16"><rect x="140.6" y="921.9" width="213.7" height="121"/></clipPath>
<linearGradient id="g17" gradientUnits="userSpaceOnUse" x1="358.5" y1="0" x2="394.5" y2="0"><stop offset="0.69%" stop-color="#ff0f00"/><stop offset="15.97%" stop-color="#ff0f00"/><stop offset="15.97%" stop-color="#9e0000"/><stop offset="21.53%" stop-color="#9e0000"/><stop offset="21.53%" stop-color="#ff0f00"/><stop offset="24.31%" stop-color="#ff0f00"/><stop offset="24.31%" stop-color="#05fffa"/><stop offset="31.25%" stop-color="#05fffa"/><stop offset="31.25%" stop-color="#ff0f00"/><stop offset="45.14%" stop-color="#ff0f00"/><stop offset="45.14%" stop-color="#05fffa"/><stop offset="53.47%" stop-color="#05fffa"/><stop offset="53.47%" stop-color="#ff0f00"/><stop offset="75.69%" stop-color="#ff0f00"/><stop offset="75.69%" stop-color="#faff05"/><stop offset="79.86%" stop-color="#faff05"/><stop offset="79.86%" stop-color="#ff8a00"/><stop offset="84.03%" stop-color="#ff8a00"/><stop offset="84.03%" stop-color="#05fffa"/><stop offset="85.42%" stop-color="#05fffa"/><stop offset="85.42%" stop-color="#ff8a00"/><stop offset="92.36%" stop-color="#ff8a00"/><stop offset="92.36%" stop-color="#05fffa"/><stop offset="93.75%" stop-color="#05fffa"/><stop offset="93.75%" stop-color="#faff05"/><stop offset="95.14%" stop-color="#faff05"/><stop offset="95.14%" stop-color="#05fffa"/></linearGradient>
<clipPath id="k17"><rect x="359" y="922.4" width="35" height="120.1"/></clipPath>
<linearGradient id="g18" gradientUnits="userSpaceOnUse" x1="397.1" y1="0" x2="715.3" y2="0"><stop offset="0.08%" stop-color="#ff8a00"/><stop offset="0.39%" stop-color="#ff8a00"/><stop offset="0.39%" stop-color="#faff05"/><stop offset="0.86%" stop-color="#faff05"/><stop offset="0.86%" stop-color="#ff0f00"/><stop offset="4.16%" stop-color="#ff0f00"/><stop offset="4.16%" stop-color="#05fffa"/><stop offset="4.32%" stop-color="#05fffa"/><stop offset="4.32%" stop-color="#9e0000"/><stop offset="4.95%" stop-color="#9e0000"/><stop offset="4.95%" stop-color="#05fffa"/><stop offset="5.42%" stop-color="#05fffa"/><stop offset="5.42%" stop-color="#ff0f00"/><stop offset="6.05%" stop-color="#ff0f00"/><stop offset="6.05%" stop-color="#9e0000"/><stop offset="6.36%" stop-color="#9e0000"/><stop offset="6.36%" stop-color="#faff05"/><stop offset="7.31%" stop-color="#faff05"/><stop offset="7.31%" stop-color="#ff0f00"/><stop offset="8.41%" stop-color="#ff0f00"/><stop offset="8.41%" stop-color="#05fffa"/><stop offset="8.56%" stop-color="#05fffa"/><stop offset="8.56%" stop-color="#ff0f00"/><stop offset="9.04%" stop-color="#ff0f00"/><stop offset="9.04%" stop-color="#05fffa"/><stop offset="10.76%" stop-color="#05fffa"/><stop offset="10.76%" stop-color="#9e0000"/><stop offset="12.65%" stop-color="#9e0000"/><stop offset="12.65%" stop-color="#ff0f00"/><stop offset="12.81%" stop-color="#ff0f00"/><stop offset="12.81%" stop-color="#9e0000"/><stop offset="13.59%" stop-color="#9e0000"/><stop offset="13.59%" stop-color="#ff0f00"/><stop offset="14.22%" stop-color="#ff0f00"/><stop offset="14.22%" stop-color="#9e0000"/><stop offset="17.05%" stop-color="#9e0000"/><stop offset="17.05%" stop-color="#ff0f00"/><stop offset="17.68%" stop-color="#ff0f00"/><stop offset="17.68%" stop-color="#9e0000"/><stop offset="17.99%" stop-color="#9e0000"/><stop offset="17.99%" stop-color="#ff0f00"/><stop offset="18.46%" stop-color="#ff0f00"/><stop offset="18.46%" stop-color="#9e0000"/><stop offset="19.41%" stop-color="#9e0000"/><stop offset="19.41%" stop-color="#ff0f00"/><stop offset="20.03%" stop-color="#ff0f00"/><stop offset="20.03%" stop-color="#9e0000"/><stop offset="21.61%" stop-color="#9e0000"/><stop offset="21.61%" stop-color="#ff0f00"/><stop offset="22.08%" stop-color="#ff0f00"/><stop offset="22.08%" stop-color="#9e0000"/><stop offset="22.71%" stop-color="#9e0000"/><stop offset="22.71%" stop-color="#ff0f00"/><stop offset="23.02%" stop-color="#ff0f00"/><stop offset="23.02%" stop-color="#9e0000"/><stop offset="23.49%" stop-color="#9e0000"/><stop offset="23.49%" stop-color="#ff0f00"/><stop offset="23.65%" stop-color="#ff0f00"/><stop offset="23.65%" stop-color="#9e0000"/><stop offset="25.06%" stop-color="#9e0000"/><stop offset="25.06%" stop-color="#ff0f00"/><stop offset="25.38%" stop-color="#ff0f00"/><stop offset="25.38%" stop-color="#9e0000"/><stop offset="28.99%" stop-color="#9e0000"/><stop offset="28.99%" stop-color="#ff0f00"/><stop offset="29.31%" stop-color="#ff0f00"/><stop offset="29.31%" stop-color="#9e0000"/><stop offset="31.19%" stop-color="#9e0000"/><stop offset="31.19%" stop-color="#ff0f00"/><stop offset="31.47%" stop-color="#ff0f00"/><stop offset="31.47%" stop-color="#ff8a00"/><stop offset="31.82%" stop-color="#ff8a00"/><stop offset="31.82%" stop-color="#ff0f00"/><stop offset="32.13%" stop-color="#ff0f00"/><stop offset="32.13%" stop-color="#9e0000"/><stop offset="32.45%" stop-color="#9e0000"/><stop offset="32.45%" stop-color="#ff0f00"/><stop offset="32.92%" stop-color="#ff0f00"/><stop offset="32.92%" stop-color="#9e0000"/><stop offset="34.02%" stop-color="#9e0000"/><stop offset="34.02%" stop-color="#ff0f00"/><stop offset="36.53%" stop-color="#ff0f00"/><stop offset="36.53%" stop-color="#9e0000"/><stop offset="38.42%" stop-color="#9e0000"/><stop offset="38.42%" stop-color="#ff0f00"/><stop offset="38.73%" stop-color="#ff0f00"/><stop offset="38.73%" stop-color="#9e0000"/><stop offset="40.30%" stop-color="#9e0000"/><stop offset="40.30%" stop-color="#ff0f00"/><stop offset="40.93%" stop-color="#ff0f00"/><stop offset="40.93%" stop-color="#9e0000"/><stop offset="42.03%" stop-color="#9e0000"/><stop offset="42.03%" stop-color="#ff0f00"/><stop offset="42.50%" stop-color="#ff0f00"/><stop offset="42.50%" stop-color="#9e0000"/><stop offset="44.55%" stop-color="#9e0000"/><stop offset="44.55%" stop-color="#f06a60"/><stop offset="45.02%" stop-color="#f06a60"/><stop offset="45.02%" stop-color="#faff05"/><stop offset="45.49%" stop-color="#faff05"/><stop offset="45.49%" stop-color="#0075ff"/><stop offset="45.80%" stop-color="#0075ff"/><stop offset="45.80%" stop-color="#faff05"/><stop offset="46.12%" stop-color="#faff05"/><stop offset="46.12%" stop-color="#0075ff"/><stop offset="46.28%" stop-color="#0075ff"/><stop offset="46.28%" stop-color="#05fffa"/><stop offset="46.59%" stop-color="#05fffa"/><stop offset="46.59%" stop-color="#faff05"/><stop offset="47.38%" stop-color="#faff05"/><stop offset="47.38%" stop-color="#ff0f00"/><stop offset="47.69%" stop-color="#ff0f00"/><stop offset="47.69%" stop-color="#9e0000"/><stop offset="48.16%" stop-color="#9e0000"/><stop offset="48.16%" stop-color="#0075ff"/><stop offset="48.48%" stop-color="#0075ff"/><stop offset="48.48%" stop-color="#80ff80"/><stop offset="48.95%" stop-color="#80ff80"/><stop offset="48.95%" stop-color="#0075ff"/><stop offset="49.42%" stop-color="#0075ff"/><stop offset="49.42%" stop-color="#ff0f00"/><stop offset="49.73%" stop-color="#ff0f00"/><stop offset="49.73%" stop-color="#9e0000"/><stop offset="81.32%" stop-color="#9e0000"/><stop offset="81.32%" stop-color="#05fffa"/><stop offset="81.95%" stop-color="#05fffa"/><stop offset="81.95%" stop-color="#9e0000"/><stop offset="82.57%" stop-color="#9e0000"/><stop offset="82.57%" stop-color="#05fffa"/><stop offset="82.73%" stop-color="#05fffa"/><stop offset="82.73%" stop-color="#9e0000"/><stop offset="83.20%" stop-color="#9e0000"/><stop offset="83.20%" stop-color="#ff8a00"/><stop offset="83.99%" stop-color="#ff8a00"/><stop offset="83.99%" stop-color="#05fffa"/><stop offset="84.93%" stop-color="#05fffa"/><stop offset="84.93%" stop-color="#faff05"/><stop offset="86.19%" stop-color="#faff05"/><stop offset="86.19%" stop-color="#ff8a00"/><stop offset="86.35%" stop-color="#ff8a00"/><stop offset="86.35%" stop-color="#0075ff"/><stop offset="87.60%" stop-color="#0075ff"/><stop offset="87.60%" stop-color="#ff8a00"/><stop offset="88.86%" stop-color="#ff8a00"/><stop offset="88.86%" stop-color="#faff05"/><stop offset="90.43%" stop-color="#faff05"/><stop offset="90.43%" stop-color="#0075ff"/><stop offset="92.00%" stop-color="#0075ff"/><stop offset="92.00%" stop-color="#ff0f00"/><stop offset="93.42%" stop-color="#ff0f00"/><stop offset="93.42%" stop-color="#05fffa"/><stop offset="93.57%" stop-color="#05fffa"/><stop offset="93.57%" stop-color="#ff0f00"/><stop offset="93.73%" stop-color="#ff0f00"/><stop offset="93.73%" stop-color="#05fffa"/><stop offset="98.60%" stop-color="#05fffa"/><stop offset="98.60%" stop-color="#ff0f00"/><stop offset="99.39%" stop-color="#ff0f00"/><stop offset="99.39%" stop-color="#faff05"/></linearGradient>
<clipPath id="k18"><rect x="397.6" y="922" width="317.2" height="120.7"/></clipPath></defs>
<rect width="750" height="1062" fill="#fff"/>
<rect x="41.5" y="21.5" width="91" height="85" fill="none" stroke="#222" stroke-width="1"/>
<polyline points="86.5,21.5 86.5,106.5" fill="none" stroke="#222" stroke-width="0.9"/>
<polyline points="41.5,64.5 132.5,64.5" fill="none" stroke="#222" stroke-width="0.9"/>
<ellipse cx="86.9" cy="64" rx="41.6" ry="39" fill="none" stroke="#222" stroke-width="1"/>
<ellipse cx="72" cy="43.3" rx="3.7" ry="2.8" fill="#2e8b57"/>
<ellipse cx="72.3" cy="45.8" rx="3.7" ry="2.8" fill="#2e8b57"/>
<ellipse cx="71.8" cy="52.9" rx="3.7" ry="2.8" fill="#2e8b57"/>
<ellipse cx="71.8" cy="63.8" rx="3.7" ry="2.8" fill="#2e8b57"/>
<ellipse cx="72" cy="73.7" rx="3.7" ry="2.8" fill="#2e8b57"/>
<ellipse cx="72.8" cy="75.6" rx="3.7" ry="2.8" fill="#2e8b57"/>
<ellipse cx="72" cy="92.9" rx="3.7" ry="2.8" fill="#2e8b57"/>
<polygon points="99.5,48.5 104.2,55.7 94.8,55.7" fill="#00ced1"/>
<polygon points="99.2,51.5 103.9,58.7 94.5,58.7" fill="#00ced1"/>
<polygon points="99.8,54.5 104.5,61.7 95.1,61.7" fill="#00ced1"/>
<polygon points="99.5,57.5 104.2,64.7 94.8,64.7" fill="#00ced1"/>
<polygon points="99.3,60.5 104,67.7 94.6,67.7" fill="#00ced1"/>
<polygon points="99.7,63 104.4,70.2 95,70.2" fill="#00ced1"/>
<polygon points="98.7,79 103.4,86.2 94,86.2" fill="#00ced1"/>
<text x="39.9" y="31.2" text-anchor="end" font-family="Liberation Serif" font-size="8.3" textLength="13.3" lengthAdjust="spacingAndGlyphs" fill="#000">0.4</text>
<text x="39.9" y="49.1" text-anchor="end" font-family="Liberation Serif" font-size="8.3" textLength="13.3" lengthAdjust="spacingAndGlyphs" fill="#000">0.2</text>
<text x="39.9" y="67.5" text-anchor="end" font-family="Liberation Serif" font-size="8.3" textLength="17.9" lengthAdjust="spacingAndGlyphs" fill="#000">-0.0</text>
<text x="39.9" y="85.9" text-anchor="end" font-family="Liberation Serif" font-size="8.3" textLength="17.9" lengthAdjust="spacingAndGlyphs" fill="#000">-0.2</text>
<text x="39.9" y="104.3" text-anchor="end" font-family="Liberation Serif" font-size="8.3" textLength="17.9" lengthAdjust="spacingAndGlyphs" fill="#000">-0.4</text>
<text x="47.2" y="117.9" text-anchor="middle" font-family="Liberation Serif" font-size="8.3" textLength="17.9" lengthAdjust="spacingAndGlyphs" fill="#000">-1.0</text>
<text x="66.4" y="117.9" text-anchor="middle" font-family="Liberation Serif" font-size="8.3" textLength="17.9" lengthAdjust="spacingAndGlyphs" fill="#000">-0.5</text>
<text x="84.8" y="117.9" text-anchor="middle" font-family="Liberation Serif" font-size="8.3" textLength="13.3" lengthAdjust="spacingAndGlyphs" fill="#000">0.0</text>
<text x="106.4" y="117.9" text-anchor="middle" font-family="Liberation Serif" font-size="8.3" textLength="13.3" lengthAdjust="spacingAndGlyphs" fill="#000">0.5</text>
<text x="127.2" y="117.9" text-anchor="middle" font-family="Liberation Serif" font-size="8.3" textLength="13.3" lengthAdjust="spacingAndGlyphs" fill="#000">1.0</text>
<text x="86.4" y="132.9" text-anchor="middle" font-family="Liberation Serif" font-size="9" textLength="21" lengthAdjust="spacingAndGlyphs">t[1]P</text>
<text transform="translate(14.7,64) rotate(-90)" text-anchor="middle" font-family="Liberation Serif" font-size="9" textLength="18" lengthAdjust="spacingAndGlyphs">t[2]O</text>
<text x="0.3" y="15.6" font-weight="bold" font-size="17.5" fill="#111">a</text>
<text x="26.8" y="17.7" font-size="12.5" textLength="107.5" lengthAdjust="spacingAndGlyphs">R<tspan font-size="8" dy="-4.5">2</tspan><tspan dy="4.5">X=0.78, Q</tspan><tspan font-size="8" dy="-4.5">2</tspan><tspan dy="4.5">=0.95</tspan></text>
<rect x="136.5" y="6.5" width="256" height="114" fill="none" stroke="#2a2a2a" stroke-width="1"/>
<path d="M143.2,120.5v-2M143.2,6.5v2M155.8,120.5v-2M155.8,6.5v2M162.1,120.5v-2M162.1,6.5v2M168.4,120.5v-2M168.4,6.5v2M174.6,120.5v-2M174.6,6.5v2M187.2,120.5v-2M187.2,6.5v2M193.5,120.5v-2M193.5,6.5v2M199.8,120.5v-2M199.8,6.5v2M206.1,120.5v-2M206.1,6.5v2M218.6,120.5v-2M218.6,6.5v2M224.9,120.5v-2M224.9,6.5v2M231.2,120.5v-2M231.2,6.5v2M237.5,120.5v-2M237.5,6.5v2M250.1,120.5v-2M250.1,6.5v2M256.4,120.5v-2M256.4,6.5v2M262.6,120.5v-2M262.6,6.5v2M268.9,120.5v-2M268.9,6.5v2M281.5,120.5v-2M281.5,6.5v2M287.8,120.5v-2M287.8,6.5v2M294.1,120.5v-2M294.1,6.5v2M300.4,120.5v-2M300.4,6.5v2M312.9,120.5v-2M312.9,6.5v2M319.2,120.5v-2M319.2,6.5v2M325.5,120.5v-2M325.5,6.5v2M331.8,120.5v-2M331.8,6.5v2M344.4,120.5v-2M344.4,6.5v2M350.6,120.5v-2M350.6,6.5v2M356.9,120.5v-2M356.9,6.5v2M363.2,120.5v-2M363.2,6.5v2M375.8,120.5v-2M375.8,6.5v2M382.1,120.5v-2M382.1,6.5v2M388.4,120.5v-2M388.4,6.5v2M149.5,120.5v-3.2M149.5,6.5v3.2M180.9,120.5v-3.2M180.9,6.5v3.2M212.4,120.5v-3.2M212.4,6.5v3.2M243.8,120.5v-3.2M243.8,6.5v3.2M275.2,120.5v-3.2M275.2,6.5v3.2M306.6,120.5v-3.2M306.6,6.5v3.2M338.1,120.5v-3.2M338.1,6.5v3.2M369.5,120.5v-3.2M369.5,6.5v3.2" stroke="#2a2a2a" stroke-width="0.8" fill="none"/>
<text x="149.5" y="134.8" text-anchor="middle">9</text>
<text x="180.9" y="134.8" text-anchor="middle">8.5</text>
<text x="212.4" y="134.8" text-anchor="middle">8</text>
<text x="243.8" y="134.8" text-anchor="middle">7.5</text>
<text x="275.2" y="134.8" text-anchor="middle">7</text>
<text x="306.6" y="134.8" text-anchor="middle">6.5</text>
<text x="338.1" y="134.8" text-anchor="middle">6</text>
<text x="369.5" y="134.8" text-anchor="middle">5.5</text>
<polyline points="137,55.7 137.5,55.6 138,55.6 138.5,55.6 139,55.5 139.5,55.2 140,55.2 140.5,55.1 141,54.1 141.5,52.6 142,54.6 142.5,55.2 143,55.8 143.5,55.8 144,55.6 144.5,55.5 145,55.7 145.5,55.6 146,55.6 146.5,55.7 147,55.5 147.5,55.5 148,55.4 148.5,55.5 149,55.6 149.5,55.5 150,55.3 150.5,55.3 151,55.3 151.5,55.3 152,55.4 152.5,55.4 153,55.3 153.5,55.3 154,55.4 154.5,55.4 155,55.2 155.5,55.4 156,55.1 156.5,55 157,55.2 157.5,55.2 158,55.3 158.5,55.2 159,54.4 159.5,52.7 160,53.9 160.5,55.1 161,55.1 161.5,55.2 162,55.3 162.5,55.4 163,55.4 163.5,55.4 164,55.3 164.5,55.3 165,55.5 165.5,55.4 166,55.2 166.5,55.4 167,55.6 167.5,55.5 168,55.7 168.5,55.7 169,55.8 169.5,55.7 170,55.6 170.5,55.6 171,55.5 171.5,55.5 172,55.5 172.5,55.7 173,55.9 173.5,55.8 174,55.8 174.5,55.6 175,55.7 175.5,55.8 176,55.7 176.5,55.8 177,55.5 177.5,55.6 178,55.6 178.5,55.4 179,55.4 179.5,55.2 180,55.2 180.5,55.5 181,55.5 181.5,55.4 182,55.4 182.5,55.1 183,55.2 183.5,55.2 184,55.5 184.5,55.2 185,55.3 185.5,55.3 186,55.1 186.5,55.3 187,55.2 187.5,55.2 188,55 188.5,55.3 189,55.5 189.5,55.4 190,55.5 190.5,55.7 191,55.5 191.5,55.7 192,55.8 192.5,55.4 193,55.5 193.5,55.3 194,55.4 194.5,55.5 195,55.7 195.5,55.4 196,55.7 196.5,55.7 197,55.7 197.5,55.6 198,55.6 198.5,55.7 199,55.6 199.5,55.8 200,55.6 200.5,55.6 201,55.4 201.5,55.3 202,55.5 202.5,55.6 203,55.5 203.5,55.5 204,55.4 204.5,55.6 205,55.6 205.5,55.8 206,55.8 206.5,55.7 207,55.7 207.5,55.4 208,55.8 208.5,55.8 209,56.3 209.5,56.1 210,55.8 210.5,55.6 211,55.7 211.5,56 212,56.4 212.5,56.4 213,57.1 213.5,57.9 214,58.3 214.5,57.4 215,56.3 215.5,55.7 216,55.2 216.5,54.4 217,53.6 217.5,54.5 218,55.6 218.5,55.8 219,56.4 219.5,57.4 220,58 220.5,57.9 221,57 221.5,56.3 222,56.1 222.5,55.9 223,56 223.5,55.5 224,55.4 224.5,55.5 225,55.6 225.5,55.7 226,55.7 226.5,55.7 227,55.8 227.5,55.7 228,55.8 228.5,55.5 229,55.6 229.5,55.5 230,55.8 230.5,56.1 231,56.7 231.5,57.3 232,57.9 232.5,59.1 233,59.4 233.5,59 234,58.3 234.5,57.6 235,57.5 235.5,57.3 236,57.9 236.5,58.7 237,59.1 237.5,58.5 238,57.8 238.5,57.1 239,56.7 239.5,56.4 240,56.6 240.5,56.3 241,56.2 241.5,55.8 242,55.5 242.5,55.7 243,55.8 243.5,55.9 244,55.8 244.5,55.7 245,55.8 245.5,55.7 246,55.9 246.5,55.9 247,55.9 247.5,56.1 248,56.4 248.5,56.6 249,56.7 249.5,57.1 250,57.1 250.5,57.1 251,56.9 251.5,56.7 252,56.5 252.5,56.5 253,56.3 253.5,56.6 254,56.9 254.5,57.1 255,57.5 255.5,57.8 256,57.6 256.5,57.7 257,57.3 257.5,57.1 258,56.8 258.5,56.5 259,56.4 259.5,56.4 260,56.7 260.5,57.2 261,57.2 261.5,57.3 262,57.2 262.5,57.1 263,56.9 263.5,56.7 264,56.6 264.5,56.4 265,56.5 265.5,56.4 266,56.4 266.5,56.3 267,56.2 267.5,56.4 268,55.9 268.5,55.8 269,55.7 269.5,55.8 270,56.1 270.5,56.1 271,56.1 271.5,56 272,55.9 272.5,55.7 273,55.8 273.5,55.9 274,55.7 274.5,55.9 275,55.9 275.5,55.8 276,55.1 276.5,53.1 277,57.5 277.5,62.8 278,60.2 278.5,60.5 279,64.2 279.5,67.6 280,64.2 280.5,60.3 281,58.9 281.5,58 282,57.8 282.5,57.3 283,56.7 283.5,56.1 284,56 284.5,55.9 285,56 285.5,55.9 286,55.8 286.5,55.9 287,55.8 287.5,56 288,56.2 288.5,55.6 289,55.4 289.5,55.6 290,55.6 290.5,55.6 291,55.6 291.5,55.8 292,55.6 292.5,55.7 293,55.6 293.5,55.5 294,55.3 294.5,54.5 295,52.7 295.5,54.5 296,55.6 296.5,56.1 297,56.7 297.5,57.7 298,58.4 298.5,57.5 299,56.7 299.5,56.1 300,55.6 300.5,54.6 301,52.6 301.5,54.6 302,55.5 302.5,56.1 303,57.7 303.5,56.4 304,56.1 304.5,57.9 305,66.6 305.5,97.9 305.6,100.4 306,77 306.5,59.8 307,57.4 307.5,58.4 308,61.8 308.5,58.4 309,56.2 309.5,54.3 310,50.5 310.5,54.7 311,57.2 311.5,58.9 312,60.2 312.5,58.7 313,56.7 313.5,55 314,52.7 314.5,54.7 315,55.4 315.5,55.5 316,55.4 316.5,55.2 317,54.7 317.5,54 318,53.6 318.5,53.9 319,54.4 319.5,54.5 320,54.9 320.5,55 321,55.1 321.5,55.1 322,55.2 322.5,55.3 323,55.2 323.5,55.2 324,55.3 324.5,55.5 325,55.5 325.5,55.5 326,55.4 326.5,55.4 327,54.4 327.5,51.4 328,54.4 328.5,55.3 329,55.2 329.5,55.6 330,55.6 330.5,55.6 331,55.6 331.5,55.6 332,55.4 332.5,55.5 333,55.4 333.5,55.6 334,55.5 334.5,55.4 335,55.5 335.5,55.7 336,55.6 336.5,55.8 337,55.8 337.5,55.5 338,55.6 338.5,55.4 339,55.5 339.5,55.2 340,55.3 340.5,55.6 341,55.6 341.5,55.7 342,55.6 342.5,55.6 343,55.4 343.5,55.5 344,55.3 344.5,55.5 345,55.5 345.5,55.3 346,55.5 346.5,55.5 347,55.5 347.5,55.5 348,55.7 348.5,55.7 349,55.8 349.5,55.7 350,55.7 350.5,55.7 351,55.5 351.5,55.7 352,55.8 352.5,55.9 353,55.6 353.5,55.5 354,55.3 354.5,55.5 355,55.3 355.5,55.4 356,55.5 356.5,55.5 357,56 357.5,55.9 358,55.9 358.5,56.4 359,57 359.5,58.5 360,60 360.5,59.2 361,58.9 361.5,60.4 362,61.7 362.5,60 363,57.8 363.5,56.4 364,54.4 364.5,55.6 365,56.1 365.5,56.2 366,55.8 366.5,55.7 367,55.8 367.5,55.8 368,55.6 368.5,55.8 369,55.7 369.5,55.8 370,55.5 370.5,55.5 371,55.6 371.5,55.8 372,55.9 372.5,55.8 373,55.8 373.5,55.8 374,55.6 374.5,55.4 375,54.6 375.5,45 375.6,43.7 376,53.6 376.5,57.5 377,58.4 377.5,57.5 378,56.4 378.5,55.9 379,55.5 379.5,55.2 380,54.9 380.5,54.9 381,54.2 381.5,52.8 382,50.3 382.5,48.4 383,50.4 383.5,52.3 384,51.9 384.5,48.5 385,52.3 385.5,51.3 386,23.1 386.5,58.2 387,113.8 387.5,61.8 388,56.6 388.5,56.7 389,59.6 389.5,56.6 390,55.7 390.5,56.4 391,60.3 391.5,56.7 392,55.6" fill="none" stroke="url(#g1)" stroke-width="1.0" stroke-linejoin="round" clip-path="url(#k1)"/>
<text x="140.6" y="20.8" font-weight="bold" font-size="12.5" textLength="22.3" lengthAdjust="spacingAndGlyphs" fill="#111">L<tspan font-style="italic">er</tspan></text>
<text x="140.9" y="115.1" font-weight="bold" font-size="12.5" textLength="33.8" lengthAdjust="spacingAndGlyphs" fill="#111">Col-0</text>
<text x="150.8" y="39.8" text-anchor="middle">62</text>
<polyline points="142.7,49.4 150.8,43 157.9,49.4" fill="none" stroke="#2a2a2a" stroke-width="0.9"/>
<text x="261" y="86.6" text-anchor="middle">58,59</text>
<polyline points="247.8,59.5 270.6,59.5" fill="none" stroke="#2a2a2a" stroke-width="0.9"/>
<polyline points="260.5,59 260.5,71.7" fill="none" stroke="#2a2a2a" stroke-width="0.9"/>
<text x="306.8" y="113.9" text-anchor="middle">54,55</text>
<text x="328.7" y="33.1" text-anchor="middle">51,52</text>
<polyline points="328.5,36.8 328.5,48" fill="none" stroke="#2a2a2a" stroke-width="0.9"/>
<text x="356.4" y="29.1" text-anchor="middle">42</text>
<text x="373.2" y="29.1" text-anchor="middle">40</text>
<text x="384.4" y="19" text-anchor="middle">39</text>
<polyline points="363.6,32.8 375.6,42.9" fill="none" stroke="#2a2a2a" stroke-width="0.9"/>
<polyline points="374.8,32.8 382.5,44.8" fill="none" stroke="#2a2a2a" stroke-width="0.9"/>
<rect x="395.5" y="5.5" width="320" height="116" fill="none" stroke="#2a2a2a" stroke-width="1"/>
<path d="M403.1,121.5v-2M403.1,5.5v2M411.5,121.5v-2M411.5,5.5v2M420,121.5v-2M420,5.5v2M437,121.5v-2M437,5.5v2M445.5,121.5v-2M445.5,5.5v2M453.9,121.5v-2M453.9,5.5v2M462.4,121.5v-2M462.4,5.5v2M479.4,121.5v-2M479.4,5.5v2M487.8,121.5v-2M487.8,5.5v2M496.3,121.5v-2M496.3,5.5v2M504.8,121.5v-2M504.8,5.5v2M521.7,121.5v-2M521.7,5.5v2M530.2,121.5v-2M530.2,5.5v2M538.7,121.5v-2M538.7,5.5v2M547.2,121.5v-2M547.2,5.5v2M564.1,121.5v-2M564.1,5.5v2M572.6,121.5v-2M572.6,5.5v2M581.1,121.5v-2M581.1,5.5v2M589.6,121.5v-2M589.6,5.5v2M606.5,121.5v-2M606.5,5.5v2M615,121.5v-2M615,5.5v2M623.5,121.5v-2M623.5,5.5v2M631.9,121.5v-2M631.9,5.5v2M648.9,121.5v-2M648.9,5.5v2M657.4,121.5v-2M657.4,5.5v2M665.8,121.5v-2M665.8,5.5v2M674.3,121.5v-2M674.3,5.5v2M691.3,121.5v-2M691.3,5.5v2M699.8,121.5v-2M699.8,5.5v2M708.2,121.5v-2M708.2,5.5v2M428.5,121.5v-3.2M428.5,5.5v3.2M470.9,121.5v-3.2M470.9,5.5v3.2M513.3,121.5v-3.2M513.3,5.5v3.2M555.6,121.5v-3.2M555.6,5.5v3.2M598,121.5v-3.2M598,5.5v3.2M640.4,121.5v-3.2M640.4,5.5v3.2M682.8,121.5v-3.2M682.8,5.5v3.2" stroke="#2a2a2a" stroke-width="0.8" fill="none"/>
<text x="428.5" y="134.8" text-anchor="middle">4</text>
<text x="470.9" y="134.8" text-anchor="middle">3.5</text>
<text x="513.3" y="134.8" text-anchor="middle">3</text>
<text x="555.6" y="134.8" text-anchor="middle">2.5</text>
<text x="598" y="134.8" text-anchor="middle">2</text>
<text x="640.4" y="134.8" text-anchor="middle">1.5</text>
<text x="682.8" y="134.8" text-anchor="middle">1</text>
<polyline points="396.1,58.5 396.6,58.2 397.1,58.3 397.6,58.3 398.1,58.4 398.6,58.6 399.1,58.4 399.6,58.7 400.1,58.4 400.6,58.4 401.1,58.3 401.6,58.4 402.1,58.2 402.6,58.1 403.1,58.2 403.6,57.7 404.1,57.6 404.6,57.5 405.1,57.4 405.6,57.7 406.1,58.2 406.6,58.3 407.1,58.4 407.6,58.3 408.1,58.4 408.6,58.3 409.1,58.4 409.6,58.4 410.1,58.3 410.6,58.2 411.1,58.4 411.6,58.6 412.1,58.8 412.6,59 413.1,58.9 413.6,58.9 414.1,59.2 414.6,59.4 415.1,59.3 415.6,58.9 416.1,58.7 416.6,58.4 417.1,58.5 417.6,58.1 418.1,58 418.6,58.1 419.1,58.2 419.6,58.1 420.1,58.2 420.6,58.2 421.1,58 421.6,58.1 422.1,58.1 422.6,58.2 423.1,58.2 423.6,57.9 424.1,57.5 424.6,57.1 425.1,57.2 425.6,57.4 426.1,57.7 426.6,58 427.1,58.3 427.6,58.4 428.1,58.5 428.6,58.2 429.1,58.4 429.6,58.6 430.1,58.6 430.6,58.4 431.1,58.2 431.6,57.5 432.1,57.4 432.6,57.5 433.1,57.8 433.6,57.9 434.1,57.9 434.6,57.9 435.1,58 435.6,58 436.1,57.7 436.6,57.5 437.1,57.3 437.6,56.3 438.1,56.1 438.6,57 439.1,57.3 439.6,57.9 440.1,58.1 440.6,58.1 441.1,58.3 441.6,58.5 442.1,58.7 442.6,58.7 443.1,58.8 443.6,58.5 444.1,58.4 444.6,58.1 445.1,57.4 445.5,54.2 445.6,54.9 446.1,57.9 446.6,58.2 447.1,58.1 447.6,58 448.1,54.3 448.4,44 448.6,51.4 449.1,57.7 449.6,58.2 450.1,57.1 450.5,52.4 450.6,53.2 451.1,58 451.6,57 452,48.9 452.1,50.6 452.6,55.4 452.8,53 453.1,56.7 453.6,50.3 453.8,37.1 454.1,54.4 454.6,52.2 454.8,46.1 455.1,55.2 455.6,56.6 456,46.2 456.1,48.6 456.6,57.4 457.1,57.1 457.5,54.2 457.6,54.8 458.1,58.1 458.6,58.5 459.1,58.4 459.6,58.5 460.1,58.6 460.6,58.7 461.1,58.3 461.6,57.2 462.1,55.6 462.6,57.7 463.1,58 463.6,58.3 464.1,58.1 464.6,57.8 465.1,56.8 465.6,56.1 466.1,55.5 466.6,56.6 467.1,57.8 467.6,58.1 468.1,58.4 468.6,58.5 469.1,58.4 469.6,58.3 470.1,58.6 470.6,58.5 471.1,58.3 471.6,57.6 472.1,53.3 472.3,51.6 472.6,55.3 473.1,62.3 473.3,64.1 473.6,61.6 474.1,59.2 474.6,58.7 475.1,59.1 475.6,59.9 476.1,60.6 476.6,59.8 477.1,59.1 477.6,58.7 478.1,58.7 478.6,58.5 479.1,58.3 479.6,58.6 480.1,58.6 480.6,58.8 481.1,59.1 481.6,59.4 482.1,59.5 482.6,58.8 483.1,58.7 483.6,58.5 484.1,58.8 484.6,58.7 485.1,58.5 485.6,58.3 486.1,58.4 486.6,58.5 487.1,58.5 487.6,58.4 488.1,58.3 488.6,58.4 489.1,58.7 489.6,58.7 490.1,58.8 490.6,59 491.1,58.8 491.6,58.8 492.1,59.2 492.6,59.6 493.1,59.6 493.6,59.5 494.1,59.1 494.6,58.8 495.1,58.6 495.6,58.6 496.1,58.6 496.6,59 497.1,59 497.6,58.9 498.1,59 498.6,59 499.1,58.9 499.6,59 500.1,59.3 500.6,59.4 501.1,59.6 501.6,60.6 502.1,61.2 502.6,60.8 503.1,60.2 503.6,60.5 504.1,60.2 504.6,60.7 505.1,61.2 505.6,62.2 506.1,63.3 506.6,64.3 507,64.5 507.1,64.5 507.6,63.8 508.1,63 508.6,61.7 509.1,61 509.6,60.2 510.1,59.9 510.6,59.5 511.1,59.2 511.6,58.4 512.1,57.9 512.6,58.5 513.1,59.2 513.6,59.9 514.1,60.6 514.6,62.1 515.1,63.5 515.6,66 516.1,69.7 516.6,74.1 517,75.7 517.1,75.7 517.6,72.5 518.1,68.1 518.6,65.5 519.1,64.4 519.6,64.4 520.1,63.9 520.6,62.8 521.1,61.4 521.6,60.6 522.1,59.9 522.6,59.7 523.1,59.3 523.6,59.1 524.1,59.1 524.6,59.2 525.1,59.1 525.6,59.2 526.1,59 526.6,59.1 527.1,59.1 527.6,59 528.1,59.3 528.6,64.4 528.8,67.9 529.1,61.4 529.6,53.5 530,46.9 530.1,47.6 530.6,55.4 531.1,57.5 531.6,58.1 532.1,58.3 532.6,59.6 533.1,60.9 533.6,58.9 534.1,58.3 534.6,58.2 535.1,58.3 535.6,58.8 536.1,61.1 536.6,81.5 537,133.2 537.1,126.5 537.6,67.8 538.1,56.4 538.6,27.1 539.1,55.1 539.6,58.1 540.1,62.2 540.5,76.1 540.6,74.3 541.1,60.6 541.6,64.6 542,82.9 542.1,80.1 542.6,60.5 543.1,58.5 543.6,58.6 544.1,60.7 544.5,64.4 544.6,63.7 545.1,59 545.6,58.1 546.1,57.8 546.6,58.7 547.1,60.7 547.6,58.4 548.1,58 548.6,58.2 549.1,58.8 549.6,66.6 550,92.8 550.1,88.7 550.6,61.2 551.1,59.6 551.6,64.7 552.1,77.2 552.6,64 553.1,58.3 553.6,56.8 554.1,55.9 554.6,54.4 555.1,53.2 555.6,52.8 556.1,52.4 556.6,51 557.1,48.5 557.6,45.5 558.1,42.8 558.5,41.6 558.6,41.7 559.1,43.9 559.6,47.1 560.1,50.3 560.6,52.2 561.1,53.9 561.6,55 562.1,55.7 562.6,56.6 563.1,59.3 563.5,62.3 563.6,62 564.1,58.1 564.6,57 565.1,56.8 565.6,56.8 566.1,57.1 566.6,57.3 567.1,57.3 567.6,57.7 568.1,57.6 568.6,57.5 569.1,57.5 569.6,57 570.1,56.9 570.6,57 571.1,57.4 571.6,57.9 572.1,57.8 572.6,58.1 573.1,58.1 573.6,57.8 574.1,57.9 574.6,57.9 575.1,57.7 575.6,57.7 576.1,57.8 576.6,57.8 577.1,57.9 577.6,57.9 578.1,58.1 578.6,57.8 579.1,58 579.6,57.9 580.1,57.4 580.6,57.3 581.1,57.2 581.6,56.5 582.1,56.2 582.6,55.1 583.1,53.9 583.6,52 584.1,49.2 584.6,47.1 584.8,47 585.1,47.7 585.6,50 586.1,52.3 586.6,54.2 587.1,55.4 587.6,56.5 588.1,56.9 588.6,57.6 589.1,58.2 589.6,58.2 590.1,58.4 590.6,58.3 591.1,58.4 591.6,58.1 592.1,58.1 592.6,58.1 593.1,58.4 593.6,58.6 594.1,58.6 594.6,58.7 595.1,58.7 595.6,58.6 596.1,58.6 596.6,58.5 597.1,58.9 597.6,59.1 598.1,58.8 598.6,57.3 599.1,45.4 599.3,40.3 599.6,46.8 600.1,42.4 600.3,39.4 600.6,47.2 601.1,57.8 601.6,60.1 602.1,60.7 602.6,61.1 603.1,61.5 603.6,62.2 604.1,62.9 604.6,63.9 605.1,65.2 605.6,66.4 606.1,68.2 606.6,70.4 607.1,72.3 607.6,73.8 608,74.2 608.1,73.9 608.6,73.5 609.1,72.4 609.6,71.1 610.1,69.6 610.6,68.6 611.1,68 611.6,67.6 612,67.2 612.1,67.1 612.6,66 613.1,64.5 613.6,63.7 614.1,62.6 614.6,61.7 615.1,60.9 615.6,60.2 616.1,59.8 616.6,59.5 617.1,59.2 617.6,58.5 618.1,57.7 618.6,57.5 619.1,56.8 619.6,55.8 620.1,54.7 620.6,54.2 620.8,54.1 621.1,54.1 621.6,54.9 622.1,55.6 622.6,56.3 623.1,57 623.6,57 624.1,57.2 624.6,57.7 625.1,57.9 625.6,58 626.1,58 626.6,58.2 627.1,58.2 627.6,58.1 628.1,58.1 628.6,58.2 629.1,57.9 629.6,57.9 630.1,57.8 630.6,57.9 631.1,58 631.6,58 632.1,58 632.6,57.9 633.1,57.8 633.6,58 634.1,58.1 634.6,58.1 635.1,58 635.6,57.9 636.1,57.8 636.6,58.1 637.1,57.8 637.6,57.7 638.1,57.4 638.6,57.3 639.1,56.9 639.6,56.5 640.1,56 640.6,55.3 641.1,54.4 641.6,53.8 641.8,53.8 642.1,53.9 642.6,54.9 643.1,55.8 643.6,56.2 644.1,56.7 644.6,56.7 645.1,56.8 645.6,56.5 646.1,56.6 646.6,56.4 647.1,56.1 647.6,55.7 648.1,54.7 648.6,53.5 649.1,51.9 649.6,49.4 650.1,47.3 650.4,46.7 650.6,46.9 651.1,48.9 651.6,51.4 652.1,53.1 652.6,54.5 653.1,55 653.6,55.6 654.1,56 654.6,56.4 655.1,57 655.6,57.5 656.1,57.4 656.6,57.4 657.1,57.4 657.6,57.5 658.1,57.7 658.6,58 659.1,58 659.6,58.1 660.1,58.2 660.6,58 661.1,57.7 661.6,57.8 662.1,57.9 662.6,57.9 663.1,58.1 663.6,57.9 664.1,57.9 664.6,57.9 665.1,58 665.6,58 666.1,58.4 666.6,58.7 667.1,58.4 667.6,58.4 668.1,58.4 668.6,58.3 669.1,58.3 669.6,58.3 670.1,58.4 670.6,58.3 671.1,58.2 671.6,58.2 672.1,58 672.6,58.2 673.1,58 673.6,58.1 674.1,58.2 674.6,58.3 675.1,58 675.6,57.8 676.1,58 676.6,58.3 677.1,58.2 677.6,58 678.1,58.2 678.6,58.2 679.1,58.1 679.6,57.8 680.1,58 680.6,58.1 681.1,58 681.6,57.9 682.1,58.2 682.6,58.1 683.1,58.1 683.6,58.1 684.1,58.3 684.6,58.3 685.1,58.3 685.6,58.2 686.1,58.3 686.6,58.3 687.1,58.1 687.6,58.1 688.1,57.9 688.6,58 689.1,58 689.6,58.4 690.1,58.3 690.6,58.3 691.1,58.4 691.6,58.3 692.1,58 692.6,58 693.1,57.7 693.6,57.8 694.1,58.1 694.6,58.6 695.1,58.2 695.6,58.1 696.1,57.9 696.6,58.1 697.1,58.3 697.6,58.4 698.1,58.7 698.6,58.5 699.1,58.6 699.6,58.6 700.1,58.7 700.6,58.5 701.1,58.7 701.6,58.8 702.1,58.6 702.6,58.7 703.1,58.6 703.6,58.6 704.1,58.7 704.6,58.6 705.1,58.5 705.6,58.5 706.1,58.4 706.6,58.3 707.1,58.3 707.6,58.4 708.1,58.7 708.6,58.7 709.1,58.6 709.6,58.5 710.1,58.6 710.6,58.6 711.1,58.6 711.6,58.5 712.1,58.5 712.6,58.5 713.1,58.3 713.6,58.3 714.1,58.5 714.6,58.7" fill="none" stroke="url(#g2)" stroke-width="1.0" stroke-linejoin="round" clip-path="url(#k2)"/>
<text x="461.4" y="33.4" text-anchor="middle">sugars &amp; amino acids</text>
<polyline points="443.2,36.5 466,36.5" fill="none" stroke="#2a2a2a" stroke-width="0.9"/>
<text x="529.9" y="28.3" text-anchor="middle">21</text>
<polyline points="530.5,35.5 530.5,46.9" fill="none" stroke="#2a2a2a" stroke-width="0.9"/>
<text x="558.5" y="20.8" text-anchor="middle">13</text>
<polyline points="558.5,21.5 558.5,38" fill="none" stroke="#2a2a2a" stroke-width="0.9"/>
<text x="500.7" y="86.6" text-anchor="middle">23,32</text>
<polyline points="505.5,62 505.5,73.5" fill="none" stroke="#2a2a2a" stroke-width="0.9"/>
<text x="518.5" y="101.8" text-anchor="middle">31</text>
<polyline points="519.5,78.5 519.5,90" fill="none" stroke="#2a2a2a" stroke-width="0.9"/>
<text x="520.5" y="117" text-anchor="middle">U3</text>
<polyline points="528.8,110 536.4,102.6" fill="none" stroke="#2a2a2a" stroke-width="0.9"/>
<text x="548.3" y="117" text-anchor="middle">19</text>
<polyline points="543.8,91.2 547.6,103.9 551.4,93.7" fill="none" stroke="#2a2a2a" stroke-width="0.9"/>
<text x="567.3" y="94.3" text-anchor="middle">16</text>
<polyline points="563.5,64.6 563.5,77.3" fill="none" stroke="#2a2a2a" stroke-width="0.9"/>
<text x="582.3" y="30.4" text-anchor="middle">13,15</text>
<polyline points="584.5,34.2 584.5,45.6" fill="none" stroke="#2a2a2a" stroke-width="0.9"/>
<text x="601" y="19.5" text-anchor="middle">12</text>
<polyline points="599.5,21.5 599.5,30.4" fill="none" stroke="#2a2a2a" stroke-width="0.9"/>
<text x="620.3" y="36" text-anchor="middle">8,9</text>
<polyline points="620.5,39.3 620.5,50.7" fill="none" stroke="#2a2a2a" stroke-width="0.9"/>
<text x="641.8" y="36" text-anchor="middle">7</text>
<polyline points="641.5,38 641.5,52" fill="none" stroke="#2a2a2a" stroke-width="0.9"/>
<text x="658.8" y="28.3" text-anchor="middle">5,6</text>
<polyline points="655,29.1 650.4,43.6" fill="none" stroke="#2a2a2a" stroke-width="0.9"/>
<text x="608.1" y="104.3" text-anchor="middle">11</text>
<polyline points="608.5,76 608.5,88.7" fill="none" stroke="#2a2a2a" stroke-width="0.9"/>
<text x="697.6" y="87.9" text-anchor="middle">53</text>
<polyline points="694.5,62 694.5,72.2" fill="none" stroke="#2a2a2a" stroke-width="0.9"/>
<rect x="715.5" y="5.5" width="9" height="116" fill="url(#jetv)" stroke="#111" stroke-width="1"/>
<polyline points="715.5,108.5 717.3,108.5" fill="none" stroke="#111" stroke-width="0.8"/>
<polyline points="722.7,108.5 724.5,108.5" fill="none" stroke="#111" stroke-width="0.8"/>
<polyline points="715.5,95.5 717.3,95.5" fill="none" stroke="#111" stroke-width="0.8"/>
<polyline points="722.7,95.5 724.5,95.5" fill="none" stroke="#111" stroke-width="0.8"/>
<polyline points="715.5,83.5 717.3,83.5" fill="none" stroke="#111" stroke-width="0.8"/>
<polyline points="722.7,83.5 724.5,83.5" fill="none" stroke="#111" stroke-width="0.8"/>
<polyline points="715.5,70.5 717.3,70.5" fill="none" stroke="#111" stroke-width="0.8"/>
<polyline points="722.7,70.5 724.5,70.5" fill="none" stroke="#111" stroke-width="0.8"/>
<polyline points="715.5,57.5 717.3,57.5" fill="none" stroke="#111" stroke-width="0.8"/>
<polyline points="722.7,57.5 724.5,57.5" fill="none" stroke="#111" stroke-width="0.8"/>
<polyline points="715.5,44.5 717.3,44.5" fill="none" stroke="#111" stroke-width="0.8"/>
<polyline points="722.7,44.5 724.5,44.5" fill="none" stroke="#111" stroke-width="0.8"/>
<polyline points="715.5,31.5 717.3,31.5" fill="none" stroke="#111" stroke-width="0.8"/>
<polyline points="722.7,31.5 724.5,31.5" fill="none" stroke="#111" stroke-width="0.8"/>
<polyline points="715.5,19.5 717.3,19.5" fill="none" stroke="#111" stroke-width="0.8"/>
<polyline points="722.7,19.5 724.5,19.5" fill="none" stroke="#111" stroke-width="0.8"/>
<text x="728.6" y="23.3">0.8</text>
<text x="728.6" y="49.4">0.6</text>
<text x="728.6" y="74.7">0.4</text>
<text x="728.6" y="100.6">0.2</text>
<text x="728.6" y="125.9">0</text>
<rect x="41.5" y="163.5" width="91" height="79" fill="none" stroke="#222" stroke-width="1"/>
<polyline points="87.5,163.5 87.5,242.5" fill="none" stroke="#222" stroke-width="0.9"/>
<polyline points="41.5,202.5 132.5,202.5" fill="none" stroke="#222" stroke-width="0.9"/>
<ellipse cx="87.2" cy="202.4" rx="41.5" ry="35.9" fill="none" stroke="#222" stroke-width="1"/>
<ellipse cx="74.3" cy="189.8" rx="3.7" ry="2.8" fill="#000"/>
<ellipse cx="74.3" cy="201" rx="3.7" ry="2.8" fill="#000"/>
<ellipse cx="74.8" cy="203.2" rx="3.7" ry="2.8" fill="#000"/>
<ellipse cx="73.8" cy="205.3" rx="3.7" ry="2.8" fill="#000"/>
<ellipse cx="74.3" cy="207.5" rx="3.7" ry="2.8" fill="#000"/>
<ellipse cx="74.5" cy="211.8" rx="3.7" ry="2.8" fill="#000"/>
<rect x="96.7" y="170.8" width="7" height="5.2" fill="#ee82ee"/>
<rect x="96.7" y="196.5" width="7" height="5.2" fill="#ee82ee"/>
<rect x="97.1" y="198.6" width="7" height="5.2" fill="#ee82ee"/>
<rect x="96.3" y="206.8" width="7" height="5.2" fill="#ee82ee"/>
<rect x="96.9" y="208.7" width="7" height="5.2" fill="#ee82ee"/>
<rect x="96.7" y="217.6" width="7" height="5.2" fill="#ee82ee"/>
<text x="39.9" y="184.4" text-anchor="end" font-family="Liberation Serif" font-size="8.3" textLength="13.3" lengthAdjust="spacingAndGlyphs" fill="#000">0.2</text>
<text x="39.9" y="205.9" text-anchor="end" font-family="Liberation Serif" font-size="8.3" textLength="13.3" lengthAdjust="spacingAndGlyphs" fill="#000">0.0</text>
<text x="39.9" y="228.3" text-anchor="end" font-family="Liberation Serif" font-size="8.3" textLength="17.9" lengthAdjust="spacingAndGlyphs" fill="#000">-0.2</text>
<text x="48.8" y="253.5" text-anchor="middle" font-family="Liberation Serif" font-size="8.3" textLength="17.9" lengthAdjust="spacingAndGlyphs" fill="#000">-1.0</text>
<text x="68.1" y="253.5" text-anchor="middle" font-family="Liberation Serif" font-size="8.3" textLength="17.9" lengthAdjust="spacingAndGlyphs" fill="#000">-0.5</text>
<text x="87.3" y="253.5" text-anchor="middle" font-family="Liberation Serif" font-size="8.3" textLength="13.3" lengthAdjust="spacingAndGlyphs" fill="#000">0.0</text>
<text x="105.9" y="253.5" text-anchor="middle" font-family="Liberation Serif" font-size="8.3" textLength="13.3" lengthAdjust="spacingAndGlyphs" fill="#000">0.5</text>
<text x="126" y="253.5" text-anchor="middle" font-family="Liberation Serif" font-size="8.3" textLength="13.3" lengthAdjust="spacingAndGlyphs" fill="#000">1.0</text>
<text x="87" y="267.7" text-anchor="middle" font-family="Liberation Serif" font-size="9" textLength="21" lengthAdjust="spacingAndGlyphs">t[1]P</text>
<text transform="translate(14.8,202.4) rotate(-90)" text-anchor="middle" font-family="Liberation Serif" font-size="9" textLength="18" lengthAdjust="spacingAndGlyphs">t[2]O</text>
<text x="0.5" y="161.2" font-weight="bold" font-size="17.5" fill="#111">b</text>
<text x="26.8" y="159.8" font-size="12.5" textLength="107.5" lengthAdjust="spacingAndGlyphs">R<tspan font-size="8" dy="-4.5">2</tspan><tspan dy="4.5">X=0.69, Q</tspan><tspan font-size="8" dy="-4.5">2</tspan><tspan dy="4.5">=0.99</tspan></text>
<rect x="139.5" y="153.5" width="210" height="102" fill="none" stroke="#2a2a2a" stroke-width="1"/>
<path d="M144.9,255.5v-2M144.9,153.5v2M158.1,255.5v-2M158.1,153.5v2M164.7,255.5v-2M164.7,153.5v2M171.3,255.5v-2M171.3,153.5v2M177.9,255.5v-2M177.9,153.5v2M191,255.5v-2M191,153.5v2M197.6,255.5v-2M197.6,153.5v2M204.2,255.5v-2M204.2,153.5v2M210.8,255.5v-2M210.8,153.5v2M224,255.5v-2M224,153.5v2M230.6,255.5v-2M230.6,153.5v2M237.2,255.5v-2M237.2,153.5v2M243.8,255.5v-2M243.8,153.5v2M256.9,255.5v-2M256.9,153.5v2M263.5,255.5v-2M263.5,153.5v2M270.1,255.5v-2M270.1,153.5v2M276.7,255.5v-2M276.7,153.5v2M289.9,255.5v-2M289.9,153.5v2M296.5,255.5v-2M296.5,153.5v2M303.1,255.5v-2M303.1,153.5v2M309.7,255.5v-2M309.7,153.5v2M322.8,255.5v-2M322.8,153.5v2M329.4,255.5v-2M329.4,153.5v2M336,255.5v-2M336,153.5v2M342.6,255.5v-2M342.6,153.5v2M151.5,255.5v-3.2M151.5,153.5v3.2M184.4,255.5v-3.2M184.4,153.5v3.2M217.4,255.5v-3.2M217.4,153.5v3.2M250.3,255.5v-3.2M250.3,153.5v3.2M283.3,255.5v-3.2M283.3,153.5v3.2M316.2,255.5v-3.2M316.2,153.5v3.2" stroke="#2a2a2a" stroke-width="0.8" fill="none"/>
<text x="151.5" y="271.7" text-anchor="middle">9</text>
<text x="184.4" y="271.7" text-anchor="middle">8.5</text>
<text x="217.4" y="271.7" text-anchor="middle">8</text>
<text x="250.3" y="271.7" text-anchor="middle">7.5</text>
<text x="283.3" y="271.7" text-anchor="middle">7</text>
<text x="316.2" y="271.7" text-anchor="middle">6.5</text>
<text x="349.2" y="271.7" text-anchor="middle">6</text>
<polyline points="139.5,205.1 140,204.9 140.5,204.9 141,204.9 141.5,205.2 142,205.2 142.5,205.1 143,205.2 143.5,205.3 144,205.4 144.5,205.5 145,205.3 145.5,205.1 146,205 146.5,204.7 147,203.6 147.5,203.8 148,204.9 148.5,205.3 149,205.1 149.5,205.2 150,205.3 150.5,205.1 151,204.9 151.5,204.9 152,205 152.5,205.2 153,205.5 153.5,205.8 154,205.6 154.5,205.3 155,205.4 155.5,205.2 156,205.1 156.5,205.1 157,205.3 157.5,205.1 158,205.3 158.5,205.1 159,205 159.5,204.9 160,204.8 160.5,205 161,204.9 161.5,204.9 162,204.3 162.5,203.4 163,204.7 163.5,204.9 164,205.1 164.5,205.2 165,205.5 165.5,205.3 166,205.4 166.5,205.2 167,205.1 167.5,205 168,204.9 168.5,205 169,205.1 169.5,205 170,205 170.5,205.2 171,204.9 171.5,205.2 172,205 172.5,205.1 173,205.2 173.5,205.2 174,205.2 174.5,205.2 175,205.5 175.5,205.5 176,205.5 176.5,205.4 177,205.4 177.5,205.2 178,205.2 178.5,205 179,204.6 179.5,204.1 180,205.2 180.5,205.3 181,204.9 181.5,205.2 182,205.4 182.5,205.3 183,205.2 183.5,205.3 184,205.7 184.5,205.4 185,205.6 185.5,205.7 186,205.5 186.5,205.5 187,205.4 187.5,205.5 188,205.5 188.5,205.5 189,205.4 189.5,205.5 190,205.6 190.5,205.4 191,205.2 191.5,205.2 192,205.1 192.5,204.9 193,204.9 193.5,205.3 194,205.1 194.5,205.2 195,204.5 195.4,201.6 195.5,202.7 196,209.5 196.5,206.2 197,205.7 197.5,205.7 198,205.7 198.5,205.5 199,205.4 199.5,205.4 200,205.1 200.5,205.1 201,205 201.5,205 202,205.2 202.5,205.3 203,205.5 203.5,205.3 204,205.4 204.5,205.2 205,205.2 205.5,204.9 206,205 206.5,205.1 207,205.1 207.5,205 208,205.1 208.5,205.2 209,205.4 209.5,205.3 210,205.4 210.5,205.5 211,205.6 211.5,205.7 212,205.5 212.5,205.3 213,205.3 213.5,205.3 214,205.3 214.5,205.1 215,205.1 215.5,205.3 216,204.9 216.5,204.4 217,203.4 217.5,202 218,200.5 218.5,202 219,204 219.5,205.1 220,206.1 220.5,206.7 221,206.9 221.5,206.9 222,206.5 222.5,206.3 223,206.7 223.5,207.5 224,208.5 224.5,209.7 225,210.2 225.5,209.5 226,208.6 226.5,207.5 227,206.4 227.5,206.1 228,205.9 228.5,205.6 229,205.4 229.5,205.3 230,204.9 230.5,204.4 231,204.4 231.5,204.2 232,204.5 232.5,204.8 233,204.8 233.5,204.8 234,204.2 234.5,203.6 235,203.1 235.5,202.2 236,202.1 236.5,202.7 237,203.4 237.5,203.9 238,204.2 238.5,204.2 239,204.1 239.5,203.4 240,202.6 240.5,203.1 241,203.3 241.5,203.2 242,203.1 242.5,202.4 243,202 243.5,202.9 244,204.4 244.5,205.3 245,206.3 245.5,207 246,208.3 246.5,210.1 247,211.4 247.5,210.5 248,209.2 248.5,208.4 249,208.3 249.5,208.3 250,208.2 250.5,208.1 251,207.5 251.5,207 252,206.6 252.5,207.1 253,207.2 253.5,207.6 254,208.2 254.5,208.7 255,209.1 255.5,208.9 256,208.4 256.5,208.1 257,207.8 257.5,207.9 258,208.5 258.5,209.2 259,209.5 259.5,208.9 260,208 260.5,207.3 261,206.7 261.5,206.4 262,206.5 262.5,206.6 263,206.9 263.5,207.1 264,207.4 264.5,207 265,206.8 265.5,206.5 266,206.4 266.5,206.5 267,207.1 267.5,208.2 268,209.2 268.5,207.7 269,206.6 269.5,205.9 270,205.4 270.5,205 271,204.8 271.5,204.7 272,204.9 272.5,205 273,205 273.5,205.1 274,205.5 274.5,205.5 275,205.5 275.5,205.5 276,205.6 276.5,205.7 277,205.9 277.5,206.1 278,206.2 278.5,205.8 279,204.2 279.5,205.6 280,205.7 280.5,203.6 281,196.3 281.5,204 282,205.8 282.5,204.1 283,198.9 283.5,203.5 284,201.1 284.5,189.7 285,201.8 285.5,206.5 286,208.6 286.5,213.8 287,221.6 287.5,232.6 288,246.6 288.3,251.4 288.5,251.4 289,245.4 289.5,240.2 290,237.2 290.5,232.8 291,227.7 291.5,224 292,222 292.5,221.1 293,220 293.5,218 294,216.4 294.5,214.8 295,214 295.5,212.9 296,212.1 296.5,210.8 297,209.3 297.5,208.4 298,206.8 298.5,205.8 299,204.9 299.5,204.2 300,203.9 300.5,203.5 301,203.3 301.5,203.2 302,203.1 302.5,203.1 303,203 303.5,203.5 304,204.1 304.5,204.6 305,205.2 305.5,205.6 306,205.6 306.5,206.1 307,206.4 307.5,207.2 308,208.3 308.5,209.9 309,212 309.4,212.8 309.5,212.8 310,211.2 310.5,209.4 311,208 311.5,206.6 312,205.7 312.5,204.3 313,203.1 313.5,204 314,204.7 314.5,204.5 315,191.7 315.3,164.4 315.5,181.9 316,202.3 316.5,200.7 317,204 317.5,204.8 318,202.7 318.5,205.7 319,207.5 319.5,208.7 320,210.5 320.5,214.1 321,220.7 321.5,228.6 321.7,229.8 322,228.3 322.5,222.1 323,219 323.5,218 324,214.7 324.5,210.9 325,207.6 325.5,208.3 326,208.3 326.5,208.8 327,209.4 327.5,208.5 328,207.1 328.5,206.3 329,206.1 329.5,205.9 330,205.5 330.5,205.7 331,205.7 331.5,205.6 332,205.5 332.5,205.4 333,205.4 333.5,205.1 334,204.9 334.5,204.9 335,205.2 335.5,205.3 336,205.1 336.5,204.7 337,202.3 337.5,206.1 338,207.4 338.5,205.6 339,205.4 339.5,205.3 340,205.2 340.5,205.2 341,205.4 341.5,205.2 342,205.4 342.5,205.5 343,205.5 343.5,205.5 344,205.4 344.5,205 345,204.9 345.5,205.1 346,205.1 346.5,205.5 347,205.4 347.5,205.5 348,205.4 348.5,205.3 349,205.3" fill="none" stroke="url(#g3)" stroke-width="1.0" stroke-linejoin="round" clip-path="url(#k3)"/>
<rect x="352.5" y="153.5" width="46" height="102" fill="none" stroke="#2a2a2a" stroke-width="1"/>
<path d="M361.2,255.5v-2M361.2,153.5v2M369.5,255.5v-2M369.5,153.5v2M377.2,255.5v-2M377.2,153.5v2M384.7,255.5v-2M384.7,153.5v2M392.4,255.5v-2M392.4,153.5v2" stroke="#2a2a2a" stroke-width="0.8" fill="none"/>
<polyline points="352.9,211.4 353.4,211.3 353.9,211.2 354.4,211.3 354.9,210.9 355.4,210.8 355.9,210.4 356.4,210.6 356.9,211.1 357.4,211.9 357.9,214.2 358.4,211.6 358.9,203.9 359.3,170.2 359.4,176 359.9,207.9 360.4,205.6 360.5,205.1 360.9,209.4 361.4,212.1 361.9,213.9 362.4,213.5 362.9,213.4 363.4,215.2 363.9,217.6 364,217.8 364.4,217 364.9,215 365.4,214.3 365.9,214.3 366.4,213.9 366.9,212.9 367.4,212.4 367.9,211.9 368.4,211.9 368.9,211.8 369.4,211.7 369.9,211.7 370.4,211.1 370.9,210.7 371.4,210.6 371.9,210.2 372.4,210.7 372.9,210.7 373.4,210.6 373.9,210.6 374.4,210.3 374.9,209.8 375.4,210 375.9,210.5 376.4,210.9 376.9,210.8 377.4,210.5 377.9,209.8 378.4,210 378.9,210.5 379.4,211 379.9,211 380.4,210.8 380.9,210.6 381.4,210.7 381.9,211.1 382.4,211.5 382.9,211.4 383.4,211.3 383.9,211.4 384.4,211.2 384.9,209.7 385.4,193.5 385.5,191.1 385.9,207.3 386.4,219.9 386.8,247.1 386.9,243.1 387.4,216.8 387.9,218.4 388,218.6 388.4,215.7 388.9,214 389.4,214.7 389.9,215.5 390.4,215.3 390.9,215.1 391.4,216.3 391.9,217.9 392,217.8 392.4,216.6 392.9,214.4 393.4,213.4 393.9,218.3 394.3,236.9 394.4,234 394.9,213.4 395.4,203.6 395.6,198.8 395.9,206.4 396.4,210.9 396.9,209.7 397.4,210.9 397.9,211.5" fill="none" stroke="url(#g4)" stroke-width="1.0" stroke-linejoin="round" clip-path="url(#k4)"/>
<rect x="401.5" y="152.5" width="314" height="104" fill="none" stroke="#2a2a2a" stroke-width="1"/>
<path d="M410.1,256.5v-2M410.1,152.5v2M418.3,256.5v-2M418.3,152.5v2M426.6,256.5v-2M426.6,152.5v2M443,256.5v-2M443,152.5v2M451.3,256.5v-2M451.3,152.5v2M459.5,256.5v-2M459.5,152.5v2M467.8,256.5v-2M467.8,152.5v2M484.3,256.5v-2M484.3,152.5v2M492.5,256.5v-2M492.5,152.5v2M500.7,256.5v-2M500.7,152.5v2M509,256.5v-2M509,152.5v2M525.5,256.5v-2M525.5,152.5v2M533.7,256.5v-2M533.7,152.5v2M542,256.5v-2M542,152.5v2M550.2,256.5v-2M550.2,152.5v2M566.7,256.5v-2M566.7,152.5v2M574.9,256.5v-2M574.9,152.5v2M583.2,256.5v-2M583.2,152.5v2M591.4,256.5v-2M591.4,152.5v2M607.9,256.5v-2M607.9,152.5v2M616.2,256.5v-2M616.2,152.5v2M624.4,256.5v-2M624.4,152.5v2M632.6,256.5v-2M632.6,152.5v2M649.1,256.5v-2M649.1,152.5v2M657.4,256.5v-2M657.4,152.5v2M665.6,256.5v-2M665.6,152.5v2M673.9,256.5v-2M673.9,152.5v2M690.3,256.5v-2M690.3,152.5v2M698.6,256.5v-2M698.6,152.5v2M706.8,256.5v-2M706.8,152.5v2M434.8,256.5v-3.2M434.8,152.5v3.2M476,256.5v-3.2M476,152.5v3.2M517.2,256.5v-3.2M517.2,152.5v3.2M558.5,256.5v-3.2M558.5,152.5v3.2M599.7,256.5v-3.2M599.7,152.5v3.2M640.9,256.5v-3.2M640.9,152.5v3.2M682.1,256.5v-3.2M682.1,152.5v3.2" stroke="#2a2a2a" stroke-width="0.8" fill="none"/>
<text x="434.8" y="271.7" text-anchor="middle">4</text>
<text x="476" y="271.7" text-anchor="middle">3.5</text>
<text x="517.2" y="271.7" text-anchor="middle">3</text>
<text x="558.5" y="271.7" text-anchor="middle">2.5</text>
<text x="599.7" y="271.7" text-anchor="middle">2</text>
<text x="640.9" y="271.7" text-anchor="middle">1.5</text>
<text x="682.1" y="271.7" text-anchor="middle">1</text>
<polyline points="402.3,204.7 402.8,204.6 403.3,204.8 403.8,204.7 404.3,204.8 404.8,204.7 405.3,204.6 405.8,204.6 406.3,204.4 406.8,204.6 407.3,204.8 407.8,204.7 408.3,204.8 408.8,204.9 409.3,204.8 409.8,204.6 410.3,204.6 410.8,204.5 411.3,204.4 411.8,204.5 412.3,204.6 412.8,204.5 413.3,204.4 413.8,204.6 414.3,204.7 414.8,204.7 415.3,204.7 415.8,204.6 416.3,204.6 416.8,204.5 417.3,204.5 417.8,204.8 418.3,204.8 418.8,204.9 419.3,205.2 419.8,205.6 420.3,205.9 420.8,205.4 421.3,205 421.8,204.6 422.3,204.5 422.8,204.1 423.3,204.3 423.8,204.4 424.3,204.4 424.8,204.6 425.3,204.6 425.8,204.6 426.3,204.5 426.8,204.6 427.3,204.7 427.8,204.8 428.3,204.9 428.8,205 429.3,204.8 429.8,204.9 430.3,205.4 430.8,206 431.3,205.6 431.8,205.3 432.3,205 432.8,204.8 433.3,204.8 433.8,204.8 434.3,204.8 434.8,205 435.3,205 435.8,205.3 436.3,205.4 436.8,205.9 437.3,205.9 437.8,205.6 438.3,205.2 438.8,204.9 439.3,204.5 439.8,204.4 440.3,204.4 440.8,204.2 441.3,204.2 441.8,203 442.3,199.9 442.4,199.7 442.8,202.4 443.3,204.1 443.8,204.6 444.3,204.8 444.8,204.6 445.3,204.6 445.8,204.3 446.3,204.6 446.8,204.5 447.3,204.5 447.8,204.7 448.3,204.4 448.8,204.4 449.3,204.5 449.8,204.7 450.3,204.4 450.8,204.4 451.3,204.6 451.8,204.5 452.3,204.3 452.8,204.1 453.3,204.1 453.8,204.2 454.3,203.8 454.8,203.6 455.3,203.7 455.8,204 456.3,204 456.8,204.3 457.3,204.5 457.8,204.3 458.3,204.1 458.8,204.6 459.3,204.7 459.8,204.8 460.3,204.7 460.8,204.8 461.3,204.5 461.8,204.1 462.3,204.3 462.8,204.3 463.3,204.2 463.8,203.6 464.3,203 464.8,202.5 465.3,202.5 465.8,203.2 466.3,203.7 466.8,204.3 467.3,204.1 467.8,204.2 468.3,204.5 468.8,204.5 469.3,204.2 469.8,202.1 470.2,199.3 470.3,199.4 470.8,202.9 471.3,204.2 471.8,204.4 472.3,204.4 472.8,204.4 473.3,204.5 473.8,204.4 474.3,204.3 474.8,203.7 475.3,200.3 475.6,197.8 475.8,199.2 476.3,203.6 476.8,204.4 477.3,204.4 477.8,204.4 478.3,204.4 478.8,204.5 479.3,204.3 479.8,204.6 480.3,204.6 480.8,204.7 481.3,204.2 481.8,204 482.3,204.1 482.8,204.4 483.3,204.4 483.8,204.1 484.3,203.7 484.8,203.2 485.3,203.4 485.8,203.5 486.3,203.7 486.8,203.9 487.3,204.1 487.8,204.2 488.3,204.4 488.8,204.2 489.3,204.2 489.8,204.4 490.3,204.9 490.8,205 491.3,205.2 491.8,205.4 492.3,205.5 492.8,205.7 493.3,205.7 493.8,205.2 494.3,205 494.8,204.8 495.3,205 495.8,204.6 496.3,204.4 496.8,204.4 497.3,204.3 497.8,204.1 498.3,203.6 498.8,196.9 499.2,165.4 499.3,171.2 499.8,211.8 500,221.2 500.3,210.1 500.8,205.1 501.3,204.8 501.8,204.8 502.3,204.8 502.8,204.7 503.3,204.9 503.8,205.1 504.3,205.4 504.8,205.4 505.3,205.4 505.8,205 506.3,204.7 506.8,204.6 507.3,204.1 507.8,204.2 508.3,204.1 508.8,203.4 509.3,202.2 509.8,200.9 510.3,200.9 510.8,201.3 511.3,200.8 511.8,199.8 512,199.9 512.3,200.5 512.8,201.7 513.3,202.6 513.8,203.3 514.3,203.6 514.8,203.6 515.3,203.7 515.8,204.6 516.3,205.6 516.8,207 517.3,207.1 517.8,206.2 518.3,205.5 518.8,205.5 519.3,205.1 519.8,204.9 520.3,204 520.8,190 520.9,187.4 521.3,202.1 521.8,207.4 522,208.5 522.3,207.1 522.8,205.2 523.3,205.2 523.8,205.1 524.3,205.5 524.8,205.8 525.3,206.4 525.8,206.7 526.3,206.5 526.8,206.2 527.3,205.6 527.8,205.6 528.3,205.6 528.8,206 529.3,206.6 529.8,207.3 530.3,207.2 530.8,206.8 531.3,206.3 531.8,206.5 532.3,207.5 532.8,208.3 533,208.8 533.3,208.4 533.8,207.1 534.3,206.1 534.8,205.7 535.3,205.2 535.8,204.9 536.3,204.6 536.8,203.6 537.3,198.6 537.8,161.4 538.1,124.3 538.3,143.8 538.8,181.8 539.2,147 539.3,157.2 539.8,269.1 539.9,280.7 540.3,223.5 540.8,206.2 541.3,204.7 541.8,204.6 542.3,203.7 542.8,202 543.3,202.8 543.8,204.5 544.3,204.5 544.8,204 545.3,200.9 545.7,194.6 545.8,195.1 546.3,202.7 546.8,203.7 547.3,201.5 547.5,200.5 547.8,202.1 548.3,204.4 548.8,206.2 549.3,206 549.8,204.9 550.3,204.7 550.8,204.9 551.3,206.1 551.8,211.8 552.1,215.8 552.3,213.6 552.8,206.6 553.3,204.6 553.8,203.8 554.3,198.2 554.5,194.5 554.8,200.6 555.3,204.4 555.8,207.2 556,208.2 556.3,206 556.8,204.6 557.3,204.1 557.8,202.8 558.3,203.2 558.8,204.3 559.3,204.5 559.8,204.4 560.3,204 560.8,203.7 561.3,203.6 561.8,202.9 562.3,203.2 562.8,203.4 563.3,203.6 563.8,203.8 564.3,204.2 564.8,204.3 565.3,204.1 565.8,204.2 566.3,204.1 566.8,203.5 567.3,203.5 567.8,203.9 568.3,203.9 568.8,204.1 569.3,204.1 569.8,204.2 570.3,204.2 570.8,204.5 571.3,204.4 571.8,204.4 572.3,204.3 572.8,204.3 573.3,204.3 573.8,204.3 574.3,204.1 574.8,203.9 575.3,203.7 575.8,204.2 576.3,204.5 576.8,204.4 577.3,204.6 577.8,204.5 578.3,204.4 578.8,204.5 579.3,204.2 579.8,203.9 580.3,203.7 580.8,202.8 581.3,201.7 581.8,199.3 582.3,197.1 582.8,198.9 583.3,201.2 583.8,202.3 584.3,203 584.8,202.7 585.3,202.2 585.8,200.5 586.3,197.4 586.6,196.6 586.8,197.2 587.3,199.8 587.8,201.8 588.3,203 588.8,203.5 589.3,203.6 589.8,203.9 590.3,204.1 590.8,204.4 591.3,204.5 591.8,204.3 592.3,204.3 592.8,204.2 593.3,204.6 593.8,204.5 594.3,204.4 594.8,204.4 595.3,204.5 595.8,204.5 596.3,205 596.8,204.7 597.3,204.6 597.8,204.8 598.3,204.7 598.8,204.9 599.3,204.8 599.8,204.7 600.3,204.8 600.8,204.8 601.3,204.8 601.8,204.9 602.3,204.9 602.8,204.8 603.3,204.9 603.8,205.1 604.3,205.4 604.8,205.5 605.3,205.9 605.8,206.5 606.3,207.3 606.8,208.4 607.3,209.8 607.8,211.3 608.3,213.1 608.8,214 608.9,213.7 609.3,213.2 609.8,211.9 610.3,210 610.8,208.6 611.3,207.6 611.8,206.9 612.3,206.4 612.8,206 613.3,205.7 613.8,205.2 614.3,205 614.8,205.2 615.3,205.1 615.8,205.3 616.3,205.2 616.8,205 617.3,205 617.8,204.9 618.3,204.9 618.8,205 619.3,204.9 619.8,204.9 620.3,204.8 620.8,204.9 621.3,204.7 621.8,204.7 622.3,204.7 622.8,204.7 623.3,205 623.8,205.1 624.3,205 624.8,204.8 625.3,205 625.8,204.8 626.3,204.9 626.8,204.6 627.3,204.4 627.8,204.3 628.3,204.6 628.8,204.8 629.3,204.3 629.8,204.5 630.3,204.6 630.8,204.5 631.3,204.6 631.8,204.6 632.3,204.2 632.8,204 633.3,204.1 633.8,204.3 634.3,204.3 634.8,204.5 635.3,204.8 635.8,204.7 636.3,204.6 636.8,204.6 637.3,204.6 637.8,204.6 638.3,204.6 638.8,204.4 639.3,204.3 639.8,204.3 640.3,204.3 640.8,204.4 641.3,204.4 641.8,204.3 642.3,204.7 642.8,204.4 643.3,204.3 643.8,204.3 644.3,204.2 644.8,204.1 645.3,204.1 645.8,204.2 646.3,204.3 646.8,204.3 647.3,204.3 647.8,204.2 648.3,204.5 648.8,204.4 649.3,204.2 649.8,204.4 650.3,204.8 650.8,204.7 651.3,204.7 651.8,204.8 652.3,204.8 652.8,204.8 653.3,204.7 653.8,204.8 654.3,204.9 654.8,205.2 655.3,205.3 655.8,205.5 656.3,206.3 656.8,207.4 657.3,208.8 657.8,210.5 658.3,211.3 658.8,210.3 659.3,208.8 659.8,207.5 660.3,206.5 660.8,205.8 661.3,205.4 661.8,205.4 662.3,205.5 662.8,205.1 663.3,205.1 663.8,204.9 664.3,205.2 664.8,204.8 665.3,204.8 665.8,204.9 666.3,204.5 666.8,204.4 667.3,204.4 667.8,204.8 668.3,204.6 668.8,204.7 669.3,204.7 669.8,204.6 670.3,204.6 670.8,204.6 671.3,204.8 671.8,204.8 672.3,204.7 672.8,204.7 673.3,204.7 673.8,204.7 674.3,204.7 674.8,204.7 675.3,204.5 675.8,204.5 676.3,204.3 676.8,204.7 677.3,204.8 677.8,204.6 678.3,204.5 678.8,204.5 679.3,204.4 679.8,204.7 680.3,204.6 680.8,204.5 681.3,204.3 681.8,204.5 682.3,204.4 682.8,204.7 683.3,204.6 683.8,204.5 684.3,204.3 684.8,204.6 685.3,204.4 685.8,204.6 686.3,204.6 686.8,204.5 687.3,204.5 687.8,204.4 688.3,204.4 688.8,204.5 689.3,204.5 689.8,204.5 690.3,204.6 690.8,204.6 691.3,204.4 691.8,204.3 692.3,204.3 692.8,204.1 693.3,204.2 693.8,204.6 694.3,204.5 694.8,205.8 695.3,205.5 695.8,204.8 696.3,204.6 696.8,204.6 697.3,204.8 697.8,204.8 698.3,204.8 698.8,204.8 699.3,204.6 699.8,204.6 700.3,204.5 700.8,204.5 701.3,204.6 701.8,204.6 702.3,204.5 702.8,204.6 703.3,204.8 703.8,204.4 704.3,204.2 704.8,204.1 705.3,204.2 705.8,204.2 706.3,204.5 706.8,204.4 707.3,204.4 707.8,204.4 708.3,204.4 708.8,204.6 709.3,204.7 709.8,204.8 710.3,204.5 710.8,204.5 711.3,204.4 711.8,204.3 712.3,204.3 712.8,204.3 713.3,204.5 713.8,204.5 714.3,204.8 714.8,204.8" fill="none" stroke="url(#g5)" stroke-width="1.0" stroke-linejoin="round" clip-path="url(#k5)"/>
<text x="143.9" y="169.6" font-weight="bold" font-style="italic" font-size="12.5" textLength="79.8" lengthAdjust="spacingAndGlyphs" fill="#111">Atspo11-1-3</text>
<text x="143.9" y="250.1" font-weight="bold" font-size="12.5" textLength="33.7" lengthAdjust="spacingAndGlyphs" fill="#111">Col-0</text>
<text x="156.6" y="194.4" text-anchor="middle">62</text>
<polyline points="147.2,202.8 155.3,197 162.4,202.8" fill="none" stroke="#2a2a2a" stroke-width="0.9"/>
<text x="178.9" y="189.8" text-anchor="middle">52</text>
<polyline points="179.5,190.6 179.5,201.2" fill="none" stroke="#2a2a2a" stroke-width="0.9"/>
<text x="195.9" y="189.8" text-anchor="middle">61</text>
<polyline points="195.5,190.6 195.5,200.2" fill="none" stroke="#2a2a2a" stroke-width="0.9"/>
<text x="225.8" y="236.2" text-anchor="middle">56</text>
<polyline points="225.5,212.9 225.5,222.3" fill="none" stroke="#2a2a2a" stroke-width="0.9"/>
<text x="263.8" y="230.4" text-anchor="middle">58,59</text>
<polyline points="258,212.5 268.8,212.5" fill="none" stroke="#2a2a2a" stroke-width="0.9"/>
<text x="285" y="177.2" text-anchor="middle">57</text>
<polyline points="284.5,179.2 284.5,185.5" fill="none" stroke="#2a2a2a" stroke-width="0.9"/>
<text x="289.1" y="251.9" text-anchor="middle">56</text>
<text x="309.5" y="235.7" text-anchor="middle">55</text>
<polyline points="309.5,213.4 309.5,223.5" fill="none" stroke="#2a2a2a" stroke-width="0.9"/>
<text x="316" y="165.3" text-anchor="middle">54</text>
<text x="326.5" y="242.9" text-anchor="middle">U6</text>
<text x="360.4" y="169.3" text-anchor="middle">42</text>
<text x="442.4" y="181" text-anchor="middle">U4</text>
<polyline points="442.5,185.5 442.5,194.4" fill="none" stroke="#2a2a2a" stroke-width="0.9"/>
<text x="470.2" y="180.1" text-anchor="middle">30</text>
<polyline points="470.5,181.7 470.5,197" fill="none" stroke="#2a2a2a" stroke-width="0.9"/>
<text x="489.2" y="181" text-anchor="middle">29</text>
<polyline points="489.5,181.7 489.5,200.7" fill="none" stroke="#2a2a2a" stroke-width="0.9"/>
<text x="500.1" y="164.5" text-anchor="middle">24</text>
<text x="516.1" y="178.4" text-anchor="middle">8,18</text>
<polyline points="514.5,180.5 514.5,199.5" fill="none" stroke="#2a2a2a" stroke-width="0.9"/>
<text x="555.1" y="165.8" text-anchor="middle">U2</text>
<polyline points="546.5,166.5 540.7,172.9" fill="none" stroke="#2a2a2a" stroke-width="0.9"/>
<text x="558.4" y="181.7" text-anchor="middle">13,18</text>
<polyline points="561,184.3 563.5,202" fill="none" stroke="#2a2a2a" stroke-width="0.9"/>
<text x="588.4" y="174.1" text-anchor="middle">12,14</text>
<polyline points="582.5,175.4 571.1,202" fill="none" stroke="#2a2a2a" stroke-width="0.9"/>
<text x="532.3" y="233.7" text-anchor="middle">21</text>
<polyline points="533.5,208.3 533.5,218.5" fill="none" stroke="#2a2a2a" stroke-width="0.9"/>
<text x="618.8" y="188.6" text-anchor="middle">13,15</text>
<polyline points="601.8,187.6 585.3,195.2" fill="none" stroke="#2a2a2a" stroke-width="0.9"/>
<text x="609.4" y="243" text-anchor="middle">10,11</text>
<polyline points="608.5,217.2 608.5,227.3" fill="none" stroke="#2a2a2a" stroke-width="0.9"/>
<text x="658.3" y="240" text-anchor="middle">U1</text>
<polyline points="658.5,213.9 658.5,224" fill="none" stroke="#2a2a2a" stroke-width="0.9"/>
<text x="694.3" y="229.9" text-anchor="middle">53</text>
<polyline points="695.5,205.5 695.5,212.9" fill="none" stroke="#2a2a2a" stroke-width="0.9"/>
<rect x="715.5" y="152.5" width="9" height="104" fill="url(#jetv)" stroke="#111" stroke-width="1"/>
<polyline points="715.5,245.5 717.3,245.5" fill="none" stroke="#111" stroke-width="0.8"/>
<polyline points="722.7,245.5 724.5,245.5" fill="none" stroke="#111" stroke-width="0.8"/>
<polyline points="715.5,233.5 717.3,233.5" fill="none" stroke="#111" stroke-width="0.8"/>
<polyline points="722.7,233.5 724.5,233.5" fill="none" stroke="#111" stroke-width="0.8"/>
<polyline points="715.5,222.5 717.3,222.5" fill="none" stroke="#111" stroke-width="0.8"/>
<polyline points="722.7,222.5 724.5,222.5" fill="none" stroke="#111" stroke-width="0.8"/>
<polyline points="715.5,210.5 717.3,210.5" fill="none" stroke="#111" stroke-width="0.8"/>
<polyline points="722.7,210.5 724.5,210.5" fill="none" stroke="#111" stroke-width="0.8"/>
<polyline points="715.5,199.5 717.3,199.5" fill="none" stroke="#111" stroke-width="0.8"/>
<polyline points="722.7,199.5 724.5,199.5" fill="none" stroke="#111" stroke-width="0.8"/>
<polyline points="715.5,187.5 717.3,187.5" fill="none" stroke="#111" stroke-width="0.8"/>
<polyline points="722.7,187.5 724.5,187.5" fill="none" stroke="#111" stroke-width="0.8"/>
<polyline points="715.5,176.5 717.3,176.5" fill="none" stroke="#111" stroke-width="0.8"/>
<polyline points="722.7,176.5 724.5,176.5" fill="none" stroke="#111" stroke-width="0.8"/>
<polyline points="715.5,164.5 717.3,164.5" fill="none" stroke="#111" stroke-width="0.8"/>
<polyline points="722.7,164.5 724.5,164.5" fill="none" stroke="#111" stroke-width="0.8"/>
<text x="728.6" y="172">0.8</text>
<text x="728.6" y="195.1">0.6</text>
<text x="728.6" y="218.1">0.4</text>
<text x="728.6" y="241.2">0.2</text>
<text x="728.6" y="263.6">0</text>
<rect x="41.5" y="302.5" width="92" height="91" fill="none" stroke="#222" stroke-width="1"/>
<polyline points="87.5,302.5 87.5,393.5" fill="none" stroke="#222" stroke-width="0.9"/>
<polyline points="41.5,348.5 133.5,348.5" fill="none" stroke="#222" stroke-width="0.9"/>
<ellipse cx="87.5" cy="348.2" rx="41.8" ry="41.3" fill="none" stroke="#222" stroke-width="1"/>
<ellipse cx="75.5" cy="324.2" rx="3.7" ry="2.8" fill="#000"/>
<ellipse cx="74.8" cy="338.2" rx="3.7" ry="2.8" fill="#000"/>
<ellipse cx="75.6" cy="340.2" rx="3.7" ry="2.8" fill="#000"/>
<ellipse cx="75.6" cy="355.3" rx="3.7" ry="2.8" fill="#000"/>
<ellipse cx="74.8" cy="357.4" rx="3.7" ry="2.8" fill="#000"/>
<ellipse cx="75.2" cy="374.9" rx="3.7" ry="2.8" fill="#000"/>
<polygon points="100.8,328.5 105.5,335.7 96.1,335.7" fill="#ffa500"/>
<polygon points="100.6,341.5 105.3,348.7 95.9,348.7" fill="#ffa500"/>
<polygon points="100.3,345.7 105,352.9 95.6,352.9" fill="#ffa500"/>
<polygon points="101.2,349.3 105.9,356.5 96.5,356.5" fill="#ffa500"/>
<polygon points="100.6,351.5 105.3,358.7 95.9,358.7" fill="#ffa500"/>
<polygon points="100.9,356 105.6,363.2 96.2,363.2" fill="#ffa500"/>
<text x="39.9" y="325.7" text-anchor="end" font-family="Liberation Serif" font-size="8.3" textLength="13.3" lengthAdjust="spacingAndGlyphs" fill="#000">0.2</text>
<text x="39.9" y="351.8" text-anchor="end" font-family="Liberation Serif" font-size="8.3" textLength="13.3" lengthAdjust="spacingAndGlyphs" fill="#000">0.0</text>
<text x="39.9" y="378.5" text-anchor="end" font-family="Liberation Serif" font-size="8.3" textLength="17.9" lengthAdjust="spacingAndGlyphs" fill="#000">-0.2</text>
<text x="57.9" y="405" text-anchor="middle" font-family="Liberation Serif" font-size="8.3" textLength="17.9" lengthAdjust="spacingAndGlyphs" fill="#000">-0.5</text>
<text x="87.4" y="405" text-anchor="middle" font-family="Liberation Serif" font-size="8.3" textLength="13.3" lengthAdjust="spacingAndGlyphs" fill="#000">0.0</text>
<text x="117.2" y="405" text-anchor="middle" font-family="Liberation Serif" font-size="8.3" textLength="13.3" lengthAdjust="spacingAndGlyphs" fill="#000">0.5</text>
<text x="87.7" y="422" text-anchor="middle" font-family="Liberation Serif" font-size="9" textLength="21" lengthAdjust="spacingAndGlyphs">t[1]P</text>
<text transform="translate(14.8,346.9) rotate(-90)" text-anchor="middle" font-family="Liberation Serif" font-size="9" textLength="18" lengthAdjust="spacingAndGlyphs">t[2]O</text>
<text x="0.3" y="299.4" font-weight="bold" font-size="17.5" fill="#111">c</text>
<text x="26.8" y="300.6" font-size="12.5" textLength="107.5" lengthAdjust="spacingAndGlyphs">R<tspan font-size="8" dy="-4.5">2</tspan><tspan dy="4.5">X=0.63, Q</tspan><tspan font-size="8" dy="-4.5">2</tspan><tspan dy="4.5">=0.97</tspan></text>
<rect x="141.5" y="291.5" width="214" height="119" fill="none" stroke="#2a2a2a" stroke-width="1"/>
<path d="M148,410.5v-2M148,291.5v2M161.2,410.5v-2M161.2,291.5v2M167.9,410.5v-2M167.9,291.5v2M174.5,410.5v-2M174.5,291.5v2M181.2,410.5v-2M181.2,291.5v2M194.5,410.5v-2M194.5,291.5v2M201.1,410.5v-2M201.1,291.5v2M207.8,410.5v-2M207.8,291.5v2M214.4,410.5v-2M214.4,291.5v2M227.7,410.5v-2M227.7,291.5v2M234.4,410.5v-2M234.4,291.5v2M241,410.5v-2M241,291.5v2M247.7,410.5v-2M247.7,291.5v2M260.9,410.5v-2M260.9,291.5v2M267.6,410.5v-2M267.6,291.5v2M274.2,410.5v-2M274.2,291.5v2M280.9,410.5v-2M280.9,291.5v2M294.2,410.5v-2M294.2,291.5v2M300.8,410.5v-2M300.8,291.5v2M307.5,410.5v-2M307.5,291.5v2M314.1,410.5v-2M314.1,291.5v2M327.4,410.5v-2M327.4,291.5v2M334.1,410.5v-2M334.1,291.5v2M340.7,410.5v-2M340.7,291.5v2M347.4,410.5v-2M347.4,291.5v2M154.6,410.5v-3.2M154.6,291.5v3.2M187.8,410.5v-3.2M187.8,291.5v3.2M221.1,410.5v-3.2M221.1,291.5v3.2M254.3,410.5v-3.2M254.3,291.5v3.2M287.5,410.5v-3.2M287.5,291.5v3.2M320.8,410.5v-3.2M320.8,291.5v3.2M354,410.5v-3.2M354,291.5v3.2" stroke="#2a2a2a" stroke-width="0.8" fill="none"/>
<text x="154.6" y="424.6" text-anchor="middle">9</text>
<text x="187.8" y="424.6" text-anchor="middle">8.5</text>
<text x="221.1" y="424.6" text-anchor="middle">8</text>
<text x="254.3" y="424.6" text-anchor="middle">7.5</text>
<text x="287.5" y="424.6" text-anchor="middle">7</text>
<text x="320.8" y="424.6" text-anchor="middle">6.5</text>
<text x="354" y="424.6" text-anchor="middle">6</text>
<polyline points="141.9,340.7 142.4,340.6 142.9,340.9 143.4,341.1 143.9,340.8 144.4,341 144.9,340.6 145.4,340.8 145.9,340.9 146.4,341 146.9,341.1 147.4,341.1 147.9,341 148.4,341.1 148.9,341 149.4,340.8 149.9,340.5 150.4,340 150.9,340.6 151.4,340.9 151.9,341 152.4,340.8 152.9,340.9 153.4,340.8 153.9,340.8 154.4,340.7 154.9,340.7 155.4,340.8 155.9,340.9 156.4,341.1 156.9,341 157.4,340.8 157.9,340.7 158.4,340.8 158.9,340.7 159.4,340.8 159.9,341.1 160.4,341.2 160.9,341.1 161.4,340.7 161.9,340.5 162.4,340.6 162.9,340.5 163.4,340.6 163.9,340 164.4,339.7 164.9,340.6 165.4,340.9 165.9,340.7 166.4,340.7 166.9,340.8 167.4,340.9 167.9,340.9 168.4,340.8 168.9,340.7 169.4,340.8 169.9,340.7 170.4,340.3 170.9,340.3 171.4,340.6 171.9,340.5 172.4,340.7 172.9,340.9 173.4,341 173.9,341 174.4,340.9 174.9,340.7 175.4,340.5 175.9,340.4 176.4,340.9 176.9,340.9 177.4,340.7 177.9,340.8 178.4,340.5 178.9,340.6 179.4,340.5 179.9,340.1 180.4,339.1 180.9,338.5 181.4,340.3 181.9,340.8 182.4,341 182.9,340.8 183.4,341 183.9,341 184.4,340.9 184.9,340.8 185.4,340.9 185.9,340.9 186.4,340.7 186.9,340.6 187.4,340.7 187.9,340.7 188.4,340.9 188.9,340.8 189.4,340.5 189.9,340.6 190.4,340.7 190.9,341.1 191.4,341.1 191.9,341 192.4,340.7 192.9,341 193.4,340.8 193.9,340.8 194.4,340.7 194.9,340.9 195.4,340.9 195.9,340.9 196.4,341.1 196.9,341.2 197.4,340.9 197.9,340.3 198.4,336.2 198.9,344.3 199,345.3 199.4,341.8 199.9,340.9 200.4,340.7 200.9,340.6 201.4,340.8 201.9,340.8 202.4,340.8 202.9,341 203.4,340.7 203.9,340.7 204.4,340.5 204.9,340.6 205.4,340.6 205.9,340.2 206.4,340.5 206.9,340.6 207.4,340.5 207.9,340.6 208.4,340.5 208.9,340.7 209.4,340.7 209.9,340.6 210.4,340.4 210.9,340.3 211.4,340.7 211.9,340.5 212.4,340.6 212.9,340.3 213.4,339.8 213.9,339.3 214.4,339.5 214.9,340.3 215.4,340.6 215.9,340.7 216.4,340.7 216.9,340.6 217.4,340.6 217.9,340.5 218.4,340.4 218.9,340.5 219.4,340.3 219.9,340.1 220.4,339.5 220.9,338 221.4,335.5 221.7,334.5 221.9,334.8 222.4,337.9 222.9,340.2 223.4,342.3 223.9,343.9 224.4,344 224.9,343.2 225.4,343.3 225.9,344 226.4,345.8 226.9,348.1 227.4,349.9 227.5,349.8 227.9,349.2 228.4,347 228.9,345 229.4,344.1 229.9,343.8 230.4,344.3 230.9,344.7 231.4,343.9 231.9,343 232.4,342.2 232.9,341.6 233.4,341.2 233.9,340.7 234.4,340.1 234.9,339.5 235.4,339.5 235.9,340.1 236.4,340.2 236.9,340.2 237.4,340.4 237.9,340.5 238.4,340.1 238.9,339.9 239.4,339.1 239.9,338.3 240.4,338.4 240.9,338.6 241.4,338.3 241.9,337.1 242.4,335.1 242.9,331.2 243.3,329.3 243.4,329.3 243.9,332.6 244.4,335.6 244.9,336.8 245.4,338.9 245.9,341.4 246.4,343.8 246.9,346.2 247.4,349.3 247.8,350.5 247.9,350.8 248.4,349.4 248.9,346.8 249.4,345.3 249.9,344.7 250.4,345.4 250.9,346.2 251,346.1 251.4,345.5 251.9,344 252.4,343.1 252.9,342.7 253.4,342.9 253.9,343.2 254.4,343.2 254.9,342.5 255.4,341.8 255.9,341.2 256.4,340.7 256.9,340.5 257.4,340.4 257.9,340.5 258.4,340.8 258.9,340.6 259.4,340.9 259.9,340.9 260.4,342.1 260.9,345.5 261,345.9 261.4,343.2 261.9,341.2 262.4,340.6 262.9,340.5 263.4,340.4 263.9,340.1 264.4,340 264.9,339.7 265.4,339.7 265.9,340.1 266.4,340.2 266.9,340.3 267.4,340.3 267.9,340.2 268.4,340.3 268.9,340.2 269.4,340.1 269.9,339.9 270.4,340 270.9,340 271.4,340.3 271.9,340.5 272.4,340.6 272.9,340.3 273.4,340.3 273.9,340.4 274.4,340.5 274.9,340.8 275.4,341.2 275.9,341 276.4,341.2 276.9,341.4 277.4,341.2 277.9,341.1 278.4,340.7 278.9,340 279.4,339.8 279.9,340.1 280.4,340.6 280.9,340.7 281.4,340.9 281.9,341.1 282.4,341 282.9,340.8 283.4,339.8 283.9,328.8 284,327.3 284.4,339 284.9,347.9 285,348.3 285.4,342.9 285.9,339.7 286.4,337.9 286.9,335.1 287.4,329.2 287.9,318 288.3,311.7 288.4,312 288.9,322.2 289.4,329.4 289.9,332.5 290,333.8 290.4,343.2 290.9,359.7 291.4,374.6 291.9,380.7 292.4,391.6 292.9,404.7 293,405.1 293.4,399.3 293.9,386.2 294.4,378.7 294.9,374.9 295,374.1 295.4,370.6 295.9,365.4 296.4,361.4 296.9,358.4 297.4,356.8 297.9,355.5 298,355.3 298.4,353.8 298.9,351.7 299.4,349.5 299.9,347.5 300.4,345.7 300.9,344.3 301.4,342.8 301.9,342 302.4,341.9 302.9,342 303.4,341.9 303.9,342 304.4,341.5 304.9,341.5 305.4,341.1 305.9,340.4 306.4,336.7 306.8,331.7 306.9,332.2 307.4,338.2 307.9,339.3 308.4,338.3 308.9,336.8 309,336.8 309.4,337.5 309.9,339 310.4,339.6 310.9,339.7 311.4,340.7 311.9,342.1 312.4,343.4 312.9,344.8 313.4,346.5 313.9,348.9 314.4,351.2 314.8,351.9 314.9,351.9 315.4,350.6 315.9,348.3 316.4,346.3 316.9,345.2 317.4,344.9 317.9,344.8 318.4,344 318.9,343.1 319.4,342.5 319.9,342 320.4,341.6 320.9,341.3 321.4,340.6 321.9,338.3 322.4,328.3 322.8,318.8 322.9,319.7 323.4,333.6 323.9,338.7 324.4,337.2 324.5,336.9 324.9,339.7 325.4,342.2 325.9,346.5 326.4,361.1 326.8,377.1 326.9,376 327.4,355.4 327.9,348.9 328.4,349.9 328.5,350 328.9,347.9 329.4,344.5 329.9,342.5 330.4,341.2 330.9,340.1 331.4,340 331.9,340.7 332.4,341.1 332.9,341.4 333.4,341.7 333.9,341.9 334.4,342 334.9,341.8 335.4,341.3 335.9,341 336.4,341.1 336.9,341.1 337.4,341 337.9,341.1 338.4,341.1 338.9,341 339.4,341.1 339.9,339.5 340.4,340.9 340.9,343.6 341.4,341.8 341.9,341.1 342.4,340.8 342.9,340.8 343.4,340.7 343.9,340.7 344.4,340.4 344.9,340.1 345.4,340 345.9,340 346.4,340 346.9,340.5 347.4,340.8 347.9,340.6 348.4,340.7 348.9,340.6 349.4,340.8 349.9,340.6 350.4,340.8 350.9,340.8 351.4,340.7 351.9,340.8 352.4,340.9 352.9,341.1 353.4,341.2 353.9,341.3 354.4,341.2 354.9,341.2" fill="none" stroke="url(#g6)" stroke-width="1.0" stroke-linejoin="round" clip-path="url(#k6)"/>
<rect x="358.5" y="291.5" width="40" height="119" fill="none" stroke="#2a2a2a" stroke-width="1"/>
<path d="M366,410.5v-2M366,291.5v2M374,410.5v-2M374,291.5v2M382,410.5v-2M382,291.5v2M389.6,410.5v-2M389.6,291.5v2" stroke="#2a2a2a" stroke-width="0.8" fill="none"/>
<polyline points="359,350.7 359.5,350.8 360,350.7 360.5,350.6 361,350.4 361.5,350.3 362,350 362.5,349.8 363,349.8 363.5,349.7 364,346.1 364.5,321.8 365,338.3 365.3,329.2 365.5,336.8 366,346.4 366.3,345.2 366.5,347 367,350.9 367.5,352.9 368,359 368.4,365 368.5,364.5 369,355.6 369.5,353.2 370,353.9 370.5,351.6 371,350.3 371.5,350.2 372,350.2 372.5,350.6 373,350.5 373.5,350.4 374,350.2 374.5,350 375,349.8 375.5,350 376,350.1 376.5,350.2 377,350.1 377.5,349.5 378,349.5 378.5,349.9 379,350.6 379.5,351.2 380,351.3 380.5,351.9 381,354.1 381.5,352.5 382,352.7 382.5,355.1 383,352.3 383.5,351.3 384,352.1 384.5,353.8 385,352 385.5,351.2 386,350.4 386.5,338.3 386.8,312.6 387,332.5 387.4,370.4 387.5,367.7 388,350.9 388.5,336.5 388.7,325.7 389,347.7 389.4,378.7 389.5,374.6 390,353 390.5,353.3 391,357.1 391.5,353.6 392,354.1 392.5,359.1 393,353.8 393.5,351.9 394,353.6 394.5,372.9 394.8,403.8 395,384.8 395.5,353.5 396,344.5 396.4,323.6 396.5,326.6 397,347.9 397.5,347.3 397.8,344.7 398,346" fill="none" stroke="url(#g7)" stroke-width="1.0" stroke-linejoin="round" clip-path="url(#k7)"/>
<rect x="402.5" y="290.5" width="313" height="120" fill="none" stroke="#2a2a2a" stroke-width="1"/>
<path d="M410,410.5v-2M410,290.5v2M418.3,410.5v-2M418.3,290.5v2M426.5,410.5v-2M426.5,290.5v2M443.1,410.5v-2M443.1,290.5v2M451.3,410.5v-2M451.3,290.5v2M459.6,410.5v-2M459.6,290.5v2M467.9,410.5v-2M467.9,290.5v2M484.4,410.5v-2M484.4,290.5v2M492.7,410.5v-2M492.7,290.5v2M501,410.5v-2M501,290.5v2M509.2,410.5v-2M509.2,290.5v2M525.8,410.5v-2M525.8,290.5v2M534,410.5v-2M534,290.5v2M542.3,410.5v-2M542.3,290.5v2M550.6,410.5v-2M550.6,290.5v2M567.1,410.5v-2M567.1,290.5v2M575.4,410.5v-2M575.4,290.5v2M583.7,410.5v-2M583.7,290.5v2M591.9,410.5v-2M591.9,290.5v2M608.5,410.5v-2M608.5,290.5v2M616.7,410.5v-2M616.7,290.5v2M625,410.5v-2M625,290.5v2M633.3,410.5v-2M633.3,290.5v2M649.8,410.5v-2M649.8,290.5v2M658.1,410.5v-2M658.1,290.5v2M666.4,410.5v-2M666.4,290.5v2M674.6,410.5v-2M674.6,290.5v2M691.2,410.5v-2M691.2,290.5v2M699.4,410.5v-2M699.4,290.5v2M707.7,410.5v-2M707.7,290.5v2M434.8,410.5v-3.2M434.8,290.5v3.2M476.1,410.5v-3.2M476.1,290.5v3.2M517.5,410.5v-3.2M517.5,290.5v3.2M558.9,410.5v-3.2M558.9,290.5v3.2M600.2,410.5v-3.2M600.2,290.5v3.2M641.5,410.5v-3.2M641.5,290.5v3.2M682.9,410.5v-3.2M682.9,290.5v3.2" stroke="#2a2a2a" stroke-width="0.8" fill="none"/>
<text x="434.8" y="426.1" text-anchor="middle">4</text>
<text x="476.1" y="426.1" text-anchor="middle">3.5</text>
<text x="517.5" y="426.1" text-anchor="middle">3</text>
<text x="558.9" y="426.1" text-anchor="middle">2.5</text>
<text x="600.2" y="426.1" text-anchor="middle">2</text>
<text x="641.5" y="426.1" text-anchor="middle">1.5</text>
<text x="682.9" y="426.1" text-anchor="middle">1</text>
<polyline points="402.6,370.4 403.1,370.6 403.6,370.6 404.1,370.5 404.6,370.3 405.1,370.4 405.6,370.4 406.1,370.6 406.6,370.5 407.1,370.4 407.6,370.4 408.1,370.7 408.6,370.4 409.1,370.6 409.6,370 410.1,369.5 410.6,370.5 411.1,370.7 411.6,370.6 412.1,370.7 412.6,370.8 413.1,370.8 413.6,371.6 414.1,372.4 414.6,371.2 415.1,370.8 415.6,370.7 416.1,370.6 416.6,370.5 417.1,370.4 417.6,369.7 418.1,368.9 418.6,369.9 419.1,370.1 419.6,370.4 420.1,370.5 420.6,370.6 421.1,370.7 421.6,370.7 422.1,370.9 422.6,372.9 423,376.5 423.1,376.1 423.6,371.4 424.1,370.7 424.6,370.6 425.1,370.7 425.6,370.6 426.1,370.5 426.6,369.5 427.1,368.6 427.6,370 428.1,370.2 428.6,370 429.1,370.2 429.6,370.3 430.1,370.3 430.6,371.1 431.1,372.1 431.6,370.8 432.1,370.5 432.6,370.6 433.1,370.5 433.6,370.3 434.1,370.5 434.6,369.6 435.1,368.1 435.6,370.2 436.1,370.7 436.6,372.6 437,376.4 437.1,375.9 437.6,371.3 438.1,370.7 438.6,370.5 439.1,370.6 439.6,370.7 440.1,371 440.6,370.9 441.1,370.7 441.6,369.5 442,367.2 442.1,367.3 442.6,370.3 443.1,370.7 443.6,369.7 444.1,367.9 444.6,370.3 445.1,370.6 445.6,370.7 446.1,370.7 446.6,371.6 447.1,373.4 447.6,371.1 448.1,370.9 448.6,370.6 449.1,370.5 449.6,370.5 450.1,370.6 450.6,369.3 451,366.6 451.1,367 451.6,369.7 452.1,370.2 452.6,370 453.1,370.1 453.6,369.7 454.1,368.7 454.6,370.5 455.1,370.8 455.6,370.7 456.1,371 456.6,373.3 457,377.7 457.1,377.3 457.6,372 458.1,371 458.6,370.6 459.1,370.5 459.6,370.5 460.1,370.5 460.6,369.8 461.1,366.1 461.4,362.6 461.6,364.5 462.1,369.9 462.6,370.3 463.1,370.5 463.6,369.7 464.1,368.6 464.6,370 465.1,370.5 465.6,370.8 466.1,371 466.6,370.8 467.1,370.9 467.6,371.6 468.1,372.5 468.6,371.2 469.1,370.6 469.6,370.6 470.1,370.3 470.6,370.5 471.1,370.6 471.6,369.9 472.1,369.3 472.6,370.4 473.1,370.7 473.6,370.7 474.1,370.6 474.6,370.5 475.1,370.8 475.6,370.5 476.1,370.4 476.6,370.2 477.1,370 477.6,369.8 478.1,369.3 478.6,369.9 479.1,370.1 479.6,370.4 480.1,370.4 480.6,370.4 481.1,370.4 481.6,370.3 482.1,370.4 482.6,370.4 483.1,370.7 483.6,370.7 484.1,370.1 484.6,369.4 485.1,368.4 485.6,370 486.1,370.3 486.6,370.2 487.1,370.3 487.6,370.4 488.1,370.3 488.6,370.3 489.1,370.5 489.6,370.6 490.1,370.4 490.6,370.5 491.1,370.2 491.6,370.2 492.1,369.8 492.6,369.4 493.1,369.3 493.6,369.8 494.1,370.2 494.6,370.1 495.1,370.5 495.6,370.6 496.1,370.8 496.6,370.8 497.1,371.4 497.6,373.5 498.1,371.4 498.6,370.7 499.1,370.6 499.6,370.6 500.1,369.9 500.6,360.4 500.9,345.8 501.1,354.6 501.6,368.9 502.1,370.2 502.6,370.1 503.1,369 503.6,370.2 504.1,370.7 504.6,370.4 505.1,370.4 505.6,370.2 506.1,370.1 506.6,370.1 507.1,370.3 507.6,370.6 508.1,370.5 508.6,370.5 509.1,370.4 509.6,369.9 510.1,369.8 510.6,370.2 511.1,370.4 511.6,370.8 512.1,370.6 512.6,370.7 513.1,370.5 513.6,370.7 514.1,370.9 514.6,370.7 515.1,371 515.6,370.8 516.1,370.8 516.6,371.4 517.1,371.4 517.6,371.3 518.1,371.1 518.6,370.9 519.1,371 519.6,371.1 520.1,371 520.6,370.8 521.1,370.7 521.6,371 522.1,370.8 522.6,370.6 523.1,370.3 523.6,370.1 524.1,369.9 524.6,369.7 525.1,369.6 525.6,369.9 526.1,370.1 526.6,370.1 527.1,370.3 527.6,370.5 528.1,370.6 528.6,370.7 529.1,370.8 529.6,370.6 530.1,370.3 530.6,369.6 531.1,368.8 531.6,370 532.1,370.4 532.6,370.4 533.1,370.2 533.6,370.4 534.1,370.7 534.6,370.5 535.1,370.6 535.6,370.9 536.1,371.1 536.6,371.5 537.1,374.3 537.6,385.1 538.1,373.9 538.6,369.2 539,367 539.1,366.8 539.6,369.5 540.1,370.1 540.6,369.6 541.1,361.2 541.4,347.7 541.6,355.5 542.1,366.1 542.5,362.2 542.6,363 543.1,369.4 543.6,371.8 544.1,373.4 544.6,370.9 545.1,369.8 545.6,365.3 546.1,313.6 546.3,281.4 546.6,336.4 547.1,392.3 547.2,397.1 547.6,379.2 548.1,390.3 548.2,392.5 548.6,376 549.1,370.5 549.6,364.6 550,344.8 550.1,348 550.6,369.4 551.1,379.2 551.2,380.5 551.6,373.2 552.1,371.4 552.6,373 553,375.5 553.1,375.2 553.6,371.8 554.1,370.8 554.6,370 555.1,367.8 555.6,343.4 555.9,304.8 556.1,330 556.6,388.1 556.8,402.4 557.1,384.1 557.6,374.7 558,377 558.1,376.5 558.6,372.3 559.1,370.9 559.6,370.1 560.1,369.1 560.6,370.4 561.1,370.5 561.6,370.3 562.1,369.9 562.6,368.7 563.1,369.4 563.6,370.3 564.1,370.6 564.6,370.5 565.1,370.7 565.6,369.5 566.1,367.9 566.6,370.3 567.1,371.8 567.5,376.4 567.6,375.5 568.1,370.8 568.6,368.8 569,365.6 569.1,366 569.6,369.6 570.1,371.5 570.6,373.2 571.1,371 571.6,370.6 572.1,370.9 572.6,370.8 573.1,370.8 573.6,371 574.1,370.9 574.6,370.6 575.1,370.6 575.6,370.6 576.1,371 576.6,370.7 577.1,370.5 577.6,370.3 578.1,370.4 578.6,370.6 579.1,370.3 579.6,370.4 580.1,370.1 580.6,369.9 581.1,370 581.6,370.3 582.1,370.1 582.6,370.2 583.1,370.5 583.6,370.6 584.1,370.4 584.6,370.3 585.1,370.3 585.6,370.5 586.1,370.3 586.6,370.1 587.1,370 587.6,369.4 588.1,368.1 588.6,367.4 589.1,368.1 589.6,369.2 590.1,369.5 590.6,369.7 591.1,370.3 591.6,370.4 592.1,370.1 592.6,370.4 593.1,370.4 593.6,370.4 594.1,370.4 594.6,370.6 595.1,370.6 595.6,370.7 596.1,370.9 596.6,370.6 597.1,370.7 597.6,370.5 598.1,370.7 598.6,370.5 599.1,370.3 599.6,370.3 600.1,370.5 600.6,370.6 601.1,370.4 601.6,370.5 602.1,370.2 602.6,370.3 603.1,370.4 603.6,370.1 604.1,370.2 604.6,369.9 605.1,369.4 605.6,369.2 606.1,369 606.6,368.4 607.1,367.6 607.6,366.8 608.1,366.5 608.6,366.6 609.1,367.8 609.6,368.3 610.1,369 610.6,369.3 611.1,369.3 611.6,369.7 612.1,369.9 612.6,370.1 613.1,370 613.6,370 614.1,370.2 614.6,370.2 615.1,370.2 615.6,370.2 616.1,370.3 616.6,370.2 617.1,370.2 617.6,370.3 618.1,370.3 618.6,370.5 619.1,370.2 619.6,370.5 620.1,370.4 620.6,370.3 621.1,370.1 621.6,370 622.1,369.8 622.6,370 623.1,370.2 623.6,370.6 624.1,370.6 624.6,370.8 625.1,370.7 625.6,370.7 626.1,370.3 626.6,370.6 627.1,370.7 627.6,370.5 628.1,370.4 628.6,370.5 629.1,370.6 629.6,370.4 630.1,370.5 630.6,370.6 631.1,370.7 631.6,371.1 632.1,371.1 632.6,370.7 633.1,370.6 633.6,370.4 634.1,370.4 634.6,370.6 635.1,370.6 635.6,370.5 636.1,370.6 636.6,370.5 637.1,370.6 637.6,370.6 638.1,370.7 638.6,370.7 639.1,370.7 639.6,370.5 640.1,370.4 640.6,370.5 641.1,370.5 641.6,370.3 642.1,370.4 642.6,370.5 643.1,370.4 643.6,370.5 644.1,370.6 644.6,370.7 645.1,370.6 645.6,370.7 646.1,370.9 646.6,371 647.1,370.9 647.6,370.9 648.1,370.9 648.6,370.6 649.1,370.8 649.6,370.8 650.1,370.7 650.6,370.6 651.1,370.4 651.6,370.4 652.1,370.4 652.6,370.2 653.1,370.7 653.6,370.6 654.1,370.8 654.6,370.9 655.1,370.6 655.6,370.4 656.1,370.5 656.6,370.6 657.1,370.6 657.6,371 658.1,372 658.6,376.1 659.1,389.5 659.3,392.5 659.6,386.2 660.1,372.3 660.5,365.2 660.6,365 661.1,369.5 661.6,370 662.1,370.3 662.6,370.2 663.1,370.1 663.6,370.3 664.1,370.4 664.6,370.5 665.1,370.5 665.6,370.5 666.1,370.7 666.6,370.9 667.1,370.8 667.6,371 668.1,371.2 668.6,371.3 669.1,371 669.6,370.6 670.1,370.6 670.6,370.7 671.1,371 671.6,371.4 672.1,373.3 672.6,371.7 673.1,370.4 673.6,369.9 674.1,368.9 674.6,370 675.1,370.1 675.6,370.4 676.1,370.1 676.6,370.4 677.1,370.6 677.6,370.8 678.1,370.8 678.6,370.5 679.1,370.6 679.6,370.5 680.1,370.6 680.6,370.5 681.1,370.4 681.6,370.5 682.1,370.5 682.6,370.4 683.1,370.2 683.6,370.3 684.1,370.3 684.6,370.5 685.1,370.6 685.6,370.9 686.1,370.6 686.6,370.6 687.1,370.7 687.6,370.7 688.1,370.4 688.6,370.6 689.1,370.8 689.6,370.8 690.1,370.7 690.6,370.7 691.1,370.6 691.6,370.7 692.1,370.7 692.6,370.6 693.1,370.7 693.6,370.7 694.1,370.8 694.6,372.2 695.1,371.5 695.6,370.8 696.1,370.7 696.6,370.7 697.1,370.7 697.6,370.4 698.1,370.3 698.6,370.5 699.1,370.7 699.6,370.4 700.1,370.7 700.6,370.6 701.1,371 701.6,370.8 702.1,370.8 702.6,370.8 703.1,370.8 703.6,370.9 704.1,370.7 704.6,370.5 705.1,370.6 705.6,370.2 706.1,370.3 706.6,370.2 707.1,370.2 707.6,370.3 708.1,370.5 708.6,370.7 709.1,370.8 709.6,370.9 710.1,370.9 710.6,370.9 711.1,370.6 711.6,370.7 712.1,370.4 712.6,370.4 713.1,370.4 713.6,370.3 714.1,370.6 714.6,370.9 715.1,370.7" fill="none" stroke="url(#g8)" stroke-width="1.0" stroke-linejoin="round" clip-path="url(#k8)"/>
<text x="145.7" y="306.5" font-weight="bold" font-style="italic" font-size="12.5" textLength="64.9" lengthAdjust="spacingAndGlyphs" fill="#111">Atrad51-3</text>
<text x="145.7" y="404.1" font-weight="bold" font-size="12.5" textLength="33.7" lengthAdjust="spacingAndGlyphs" fill="#111">Col-0</text>
<text x="156.1" y="365.8" text-anchor="middle">62</text>
<polyline points="150.3,346.6 156.1,352.9 164.2,346.6" fill="none" stroke="#2a2a2a" stroke-width="0.9"/>
<text x="180.7" y="321" text-anchor="middle">52</text>
<polyline points="180.5,322.5 180.5,335.7" fill="none" stroke="#2a2a2a" stroke-width="0.9"/>
<text x="197.9" y="320.2" text-anchor="middle">61</text>
<polyline points="198.5,322.5 198.5,335.7" fill="none" stroke="#2a2a2a" stroke-width="0.9"/>
<text x="243.3" y="314.6" text-anchor="middle">45</text>
<polyline points="243.5,316.7 243.5,329.3" fill="none" stroke="#2a2a2a" stroke-width="0.9"/>
<text x="227.5" y="376.2" text-anchor="middle">56</text>
<polyline points="227.5,350.4 227.5,363.5" fill="none" stroke="#2a2a2a" stroke-width="0.9"/>
<text x="261" y="376.7" text-anchor="middle">59</text>
<polyline points="261.5,350.9 261.5,363.5" fill="none" stroke="#2a2a2a" stroke-width="0.9"/>
<text x="277" y="308.3" text-anchor="middle">57</text>
<polyline points="283.3,304.8 288.3,307.8" fill="none" stroke="#2a2a2a" stroke-width="0.9"/>
<text x="294.7" y="406.3" text-anchor="middle">56</text>
<text x="306.8" y="313.5" text-anchor="middle">U</text>
<polyline points="306.5,314.9 306.5,328.1" fill="none" stroke="#2a2a2a" stroke-width="0.9"/>
<text x="315.6" y="381.8" text-anchor="middle">55</text>
<polyline points="315.5,357.2 315.5,368.6" fill="none" stroke="#2a2a2a" stroke-width="0.9"/>
<text x="337.2" y="306.1" text-anchor="middle">54</text>
<polyline points="328.1,304.2 323.3,315.4" fill="none" stroke="#2a2a2a" stroke-width="0.9"/>
<text x="327.3" y="403.2" text-anchor="middle">U</text>
<polyline points="326.5,380.2 326.5,391.4" fill="none" stroke="#2a2a2a" stroke-width="0.9"/>
<text x="366.5" y="310.9" text-anchor="middle">42</text>
<polyline points="363.5,313 363.5,320.2" fill="none" stroke="#2a2a2a" stroke-width="0.9"/>
<text x="383.6" y="304" text-anchor="middle">39</text>
<polyline points="383.6,303.9 386.3,308.7" fill="none" stroke="#2a2a2a" stroke-width="0.9"/>
<text x="367.9" y="392.2" text-anchor="middle">41</text>
<polyline points="368.5,365 368.5,377.8" fill="none" stroke="#2a2a2a" stroke-width="0.9"/>
<text x="386.8" y="404.8" text-anchor="middle">38</text>
<polyline points="389.5,391.4 393.7,380.7" fill="none" stroke="#2a2a2a" stroke-width="0.9"/>
<text x="464.4" y="396.2" text-anchor="middle">sugars &amp; amino acids</text>
<polyline points="408.9,380.5 473.5,380.5" fill="none" stroke="#2a2a2a" stroke-width="0.9"/>
<text x="461.4" y="343" text-anchor="middle">23</text>
<polyline points="461.5,347.1 461.5,358.5" fill="none" stroke="#2a2a2a" stroke-width="0.9"/>
<text x="482.4" y="352.1" text-anchor="middle">25,26</text>
<polyline points="487.5,353.4 497.6,366.1" fill="none" stroke="#2a2a2a" stroke-width="0.9"/>
<text x="500.1" y="329.3" text-anchor="middle">24</text>
<polyline points="500.5,333.1 500.5,344.5" fill="none" stroke="#2a2a2a" stroke-width="0.9"/>
<text x="538.1" y="409.6" text-anchor="middle">20</text>
<polyline points="537.5,385.1 537.5,397.7" fill="none" stroke="#2a2a2a" stroke-width="0.9"/>
<text x="533.1" y="310.1" text-anchor="middle">19</text>
<polyline points="540.7,304.8 546.5,315.4" fill="none" stroke="#2a2a2a" stroke-width="0.9"/>
<polyline points="540.7,304.8 557.1,302.2" fill="none" stroke="#2a2a2a" stroke-width="0.9"/>
<text x="572.7" y="326" text-anchor="middle">13,18</text>
<polyline points="562.5,330.6 562.5,364.8" fill="none" stroke="#2a2a2a" stroke-width="0.9"/>
<text x="572" y="348.8" text-anchor="middle">16</text>
<polyline points="571.6,350.9 568.5,362.3" fill="none" stroke="#2a2a2a" stroke-width="0.9"/>
<text x="611.9" y="335.7" text-anchor="middle">8,10,11</text>
<polyline points="608.5,345.8 608.5,364" fill="none" stroke="#2a2a2a" stroke-width="0.9"/>
<text x="591.7" y="357.2" text-anchor="middle">13,15</text>
<polyline points="588.5,358.5 588.5,365.6" fill="none" stroke="#2a2a2a" stroke-width="0.9"/>
<text x="624.6" y="352.6" text-anchor="middle">8,9</text>
<polyline points="622.5,353.9 622.5,367.3" fill="none" stroke="#2a2a2a" stroke-width="0.9"/>
<text x="658.8" y="405.8" text-anchor="middle">U1</text>
<text x="672.7" y="397" text-anchor="middle">4</text>
<polyline points="672.5,376.2 672.5,383.8" fill="none" stroke="#2a2a2a" stroke-width="0.9"/>
<text x="695.5" y="395.7" text-anchor="middle">53</text>
<polyline points="694.5,375 694.5,382.5" fill="none" stroke="#2a2a2a" stroke-width="0.9"/>
<rect x="715.5" y="290.5" width="10" height="120" fill="url(#jetv)" stroke="#111" stroke-width="1"/>
<polyline points="715.5,397.5 717.3,397.5" fill="none" stroke="#111" stroke-width="0.8"/>
<polyline points="723.7,397.5 725.5,397.5" fill="none" stroke="#111" stroke-width="0.8"/>
<polyline points="715.5,384.5 717.3,384.5" fill="none" stroke="#111" stroke-width="0.8"/>
<polyline points="723.7,384.5 725.5,384.5" fill="none" stroke="#111" stroke-width="0.8"/>
<polyline points="715.5,370.5 717.3,370.5" fill="none" stroke="#111" stroke-width="0.8"/>
<polyline points="723.7,370.5 725.5,370.5" fill="none" stroke="#111" stroke-width="0.8"/>
<polyline points="715.5,357.5 717.3,357.5" fill="none" stroke="#111" stroke-width="0.8"/>
<polyline points="723.7,357.5 725.5,357.5" fill="none" stroke="#111" stroke-width="0.8"/>
<polyline points="715.5,344.5 717.3,344.5" fill="none" stroke="#111" stroke-width="0.8"/>
<polyline points="723.7,344.5 725.5,344.5" fill="none" stroke="#111" stroke-width="0.8"/>
<polyline points="715.5,331.5 717.3,331.5" fill="none" stroke="#111" stroke-width="0.8"/>
<polyline points="723.7,331.5 725.5,331.5" fill="none" stroke="#111" stroke-width="0.8"/>
<polyline points="715.5,317.5 717.3,317.5" fill="none" stroke="#111" stroke-width="0.8"/>
<polyline points="723.7,317.5 725.5,317.5" fill="none" stroke="#111" stroke-width="0.8"/>
<polyline points="715.5,304.5 717.3,304.5" fill="none" stroke="#111" stroke-width="0.8"/>
<polyline points="723.7,304.5 725.5,304.5" fill="none" stroke="#111" stroke-width="0.8"/>
<text x="728.6" y="308.3">0.8</text>
<text x="728.6" y="335.7">0.6</text>
<text x="728.6" y="362">0.4</text>
<text x="728.6" y="388.6">0.2</text>
<text x="728.6" y="414">0</text>
<rect x="41.5" y="456.5" width="93" height="92" fill="none" stroke="#222" stroke-width="1"/>
<polyline points="87.5,456.5 87.5,548.5" fill="none" stroke="#222" stroke-width="0.9"/>
<polyline points="41.5,502.5 134.5,502.5" fill="none" stroke="#222" stroke-width="0.9"/>
<ellipse cx="87.9" cy="502.4" rx="42.2" ry="42" fill="none" stroke="#222" stroke-width="1"/>
<polygon points="75,473.6 79.7,480.8 70.3,480.8" fill="#00ced1"/>
<polygon points="74.5,480.1 79.2,487.3 69.8,487.3" fill="#00ced1"/>
<polygon points="73.5,493.2 78.2,500.4 68.8,500.4" fill="#00ced1"/>
<polygon points="75.5,497.9 80.2,505.1 70.8,505.1" fill="#00ced1"/>
<polygon points="72.8,499.7 77.5,506.9 68.1,506.9" fill="#00ced1"/>
<polygon points="76,503.5 80.7,510.7 71.3,510.7" fill="#00ced1"/>
<polygon points="71.5,504.5 76.2,511.7 66.8,511.7" fill="#00ced1"/>
<polygon points="74.3,510 79,517.2 69.6,517.2" fill="#00ced1"/>
<polygon points="75,530.5 79.7,537.7 70.3,537.7" fill="#00ced1"/>
<rect x="98.8" y="483.4" width="7" height="5.2" fill="#b22222"/>
<rect x="98" y="490.9" width="7" height="5.2" fill="#b22222"/>
<rect x="100.3" y="492.7" width="7" height="5.2" fill="#b22222"/>
<rect x="99" y="503" width="7" height="5.2" fill="#b22222"/>
<rect x="100.1" y="504.9" width="7" height="5.2" fill="#b22222"/>
<rect x="98.8" y="511.4" width="7" height="5.2" fill="#b22222"/>
<rect x="99" y="519.8" width="7" height="5.2" fill="#b22222"/>
<text x="39.4" y="506.8" text-anchor="end" font-family="Liberation Serif" font-size="8.3" textLength="13.3" lengthAdjust="spacingAndGlyphs" fill="#000">0.0</text>
<text x="60.1" y="560.9" text-anchor="middle" font-family="Liberation Serif" font-size="8.3" textLength="17.9" lengthAdjust="spacingAndGlyphs" fill="#000">-0.4</text>
<text x="87.4" y="560.9" text-anchor="middle" font-family="Liberation Serif" font-size="8.3" textLength="13.3" lengthAdjust="spacingAndGlyphs" fill="#000">0.0</text>
<text x="115.7" y="560.9" text-anchor="middle" font-family="Liberation Serif" font-size="8.3" textLength="13.3" lengthAdjust="spacingAndGlyphs" fill="#000">0.4</text>
<text x="87.7" y="577.9" text-anchor="middle" font-family="Liberation Serif" font-size="9" textLength="21" lengthAdjust="spacingAndGlyphs">t[1]P</text>
<text transform="translate(18.1,502.8) rotate(-90)" text-anchor="middle" font-family="Liberation Serif" font-size="9" textLength="18" lengthAdjust="spacingAndGlyphs">t[2]O</text>
<text x="0.3" y="455.2" font-weight="bold" font-size="17.5" fill="#111">d</text>
<text x="26.8" y="454.8" font-size="12.5" textLength="107.5" lengthAdjust="spacingAndGlyphs">R<tspan font-size="8" dy="-4.5">2</tspan><tspan dy="4.5">X=0.81, Q</tspan><tspan font-size="8" dy="-4.5">2</tspan><tspan dy="4.5">=0.93</tspan></text>
<rect x="139.5" y="446.5" width="254" height="120" fill="none" stroke="#2a2a2a" stroke-width="1"/>
<path d="M145.8,566.5v-2M145.8,446.5v2M158.2,566.5v-2M158.2,446.5v2M164.4,566.5v-2M164.4,446.5v2M170.6,566.5v-2M170.6,446.5v2M176.9,566.5v-2M176.9,446.5v2M189.3,566.5v-2M189.3,446.5v2M195.5,566.5v-2M195.5,446.5v2M201.7,566.5v-2M201.7,446.5v2M207.9,566.5v-2M207.9,446.5v2M220.4,566.5v-2M220.4,446.5v2M226.6,566.5v-2M226.6,446.5v2M232.8,566.5v-2M232.8,446.5v2M239,566.5v-2M239,446.5v2M251.4,566.5v-2M251.4,446.5v2M257.6,566.5v-2M257.6,446.5v2M263.9,566.5v-2M263.9,446.5v2M270.1,566.5v-2M270.1,446.5v2M282.5,566.5v-2M282.5,446.5v2M288.7,566.5v-2M288.7,446.5v2M294.9,566.5v-2M294.9,446.5v2M301.1,566.5v-2M301.1,446.5v2M313.6,566.5v-2M313.6,446.5v2M319.8,566.5v-2M319.8,446.5v2M326,566.5v-2M326,446.5v2M332.2,566.5v-2M332.2,446.5v2M344.6,566.5v-2M344.6,446.5v2M350.9,566.5v-2M350.9,446.5v2M357.1,566.5v-2M357.1,446.5v2M363.3,566.5v-2M363.3,446.5v2M375.7,566.5v-2M375.7,446.5v2M381.9,566.5v-2M381.9,446.5v2M388.1,566.5v-2M388.1,446.5v2M152,566.5v-3.2M152,446.5v3.2M183.1,566.5v-3.2M183.1,446.5v3.2M214.1,566.5v-3.2M214.1,446.5v3.2M245.2,566.5v-3.2M245.2,446.5v3.2M276.3,566.5v-3.2M276.3,446.5v3.2M307.4,566.5v-3.2M307.4,446.5v3.2M338.4,566.5v-3.2M338.4,446.5v3.2M369.5,566.5v-3.2M369.5,446.5v3.2" stroke="#2a2a2a" stroke-width="0.8" fill="none"/>
<text x="152" y="580.9" text-anchor="middle">9</text>
<text x="183.1" y="580.9" text-anchor="middle">8.5</text>
<text x="214.1" y="580.9" text-anchor="middle">8</text>
<text x="245.2" y="580.9" text-anchor="middle">7.5</text>
<text x="276.3" y="580.9" text-anchor="middle">7</text>
<text x="307.4" y="580.9" text-anchor="middle">6.5</text>
<text x="338.4" y="580.9" text-anchor="middle">6</text>
<text x="369.5" y="580.9" text-anchor="middle">5.5</text>
<polyline points="140.1,506.8 140.6,506.9 141.1,506.9 141.6,506.9 142.1,506.8 142.6,506.6 143.1,505.3 143.5,502.9 143.6,502.9 144.1,505.9 144.6,506.5 145.1,506.6 145.6,506.7 146.1,507 146.6,506.7 147.1,506.7 147.6,506.5 148.1,506.3 148.6,506.5 149.1,506.7 149.6,506.6 150.1,506.6 150.6,506.7 151.1,506.7 151.6,506.6 152.1,506.8 152.6,506.7 153.1,506.5 153.6,506.6 154.1,506.6 154.6,506.5 155.1,506.3 155.6,506.2 156.1,506.2 156.6,506.1 157.1,506.3 157.6,506.1 158.1,506.1 158.6,506.3 159.1,506.6 159.6,506.3 160.1,506.1 160.6,504.8 161,502.1 161.1,502.6 161.6,505.5 162.1,506 162.6,506 163.1,506.1 163.6,505.9 164.1,506.2 164.6,506.3 165.1,506.4 165.6,506.6 166.1,506.3 166.6,506.3 167.1,506.4 167.6,506.4 168.1,506.4 168.6,506.7 169.1,506.7 169.6,506.6 170.1,506.7 170.6,506.7 171.1,506.7 171.6,506.8 172.1,506.9 172.6,506.9 173.1,506.7 173.6,506.6 174.1,506.8 174.6,506.7 175.1,506.5 175.6,506.8 176.1,506.9 176.6,506.6 177.1,506.4 177.6,506.3 178.1,506 178.6,505.8 179.1,505.5 179.6,505.3 180.1,505.3 180.6,505.8 181.1,506 181.6,506.3 182.1,506.4 182.6,506.4 183.1,506.3 183.6,506.4 184.1,506.4 184.6,506.4 185.1,506.3 185.6,506.5 186.1,506.4 186.6,506.5 187.1,506.4 187.6,506.5 188.1,506.2 188.6,506.5 189.1,506.3 189.6,506.5 190.1,506.3 190.6,506.5 191.1,506.4 191.6,506.6 192.1,507.2 192.6,512.6 193.1,507.5 193.6,506.6 194.1,506.4 194.6,506.5 195.1,506.8 195.6,506.8 196.1,506.8 196.6,506.7 197.1,506.7 197.6,506.8 198.1,506.8 198.6,506.5 199.1,506.4 199.6,506.5 200.1,506.4 200.6,506.7 201.1,506.7 201.6,506.7 202.1,506.7 202.6,506.7 203.1,506.7 203.6,506.3 204.1,506.4 204.6,506.4 205.1,506.1 205.6,506.7 206.1,506.7 206.6,506.5 207.1,506.7 207.6,506.1 208.1,504.8 208.6,506.3 209.1,506.7 209.6,506.5 210.1,507 210.6,507.1 211.1,507.8 211.6,508.5 212.1,508.9 212.6,508.5 213.1,508.4 213.6,508.7 214.1,510.2 214.6,512.7 214.9,513.5 215.1,513.1 215.6,510.5 216.1,509.5 216.6,510 217.1,510.2 217.6,508.6 218.1,507.2 218.6,505.8 219.1,504.8 219.6,504.6 220.1,504.5 220.6,503.1 221,502.6 221.1,502.5 221.6,504.2 222.1,505 222.6,505.4 223.1,504.2 223.6,500.9 223.7,500.8 224.1,503.4 224.6,505.1 225.1,504.8 225.6,503.8 226.1,503.5 226.6,504.5 227.1,505.5 227.6,506 228.1,507 228.6,507.7 229.1,508.3 229.6,508.1 230.1,507.5 230.6,507.5 231.1,507.2 231.6,507.2 232.1,508.1 232.6,509.2 233.1,509.5 233.6,508.7 234.1,507.9 234.6,507 235.1,506.3 235.6,506.2 236.1,505.9 236.6,505.6 237.1,505.1 237.6,504.5 238.1,504 238.6,504 239.1,503.8 239.6,502.6 240,501.9 240.1,501.9 240.6,503.2 241.1,503.1 241.6,498.9 242.1,488.8 242.2,488.2 242.6,494.7 243.1,501.3 243.6,501.7 244,501.2 244.1,501.7 244.6,503.7 245.1,505.3 245.6,506.6 246.1,507.1 246.6,508 247.1,508.9 247.6,507.8 248.1,507 248.6,506.3 249.1,505.7 249.6,505.4 250.1,504.7 250.6,503.6 251.1,503.3 251.6,504 252.1,504.7 252.6,504.9 253.1,504.9 253.6,504.4 254.1,504.3 254.6,504.7 255.1,505.4 255.6,505.6 256.1,505.7 256.6,505.8 257.1,505.5 257.6,505.2 258.1,505.2 258.6,505.2 259.1,505.3 259.6,505.7 260.1,505.5 260.6,505.4 261.1,504.5 261.6,502.6 262,501.6 262.1,501.7 262.6,503.7 263.1,505.6 263.6,507.3 264.1,507.8 264.6,507.7 265.1,507.3 265.6,507.5 266.1,507.6 266.6,507.9 267.1,508.8 267.6,509.5 268.1,510 268.6,509.4 269.1,508.6 269.6,508.1 270.1,508.1 270.6,508.5 271.1,509.4 271.6,511.2 272,512.3 272.1,512.3 272.6,510.8 273.1,510.4 273.6,512.9 274,517 274.1,516.8 274.6,512.2 275.1,513 275.6,517 276.1,524.1 276.4,526.9 276.6,525.9 277.1,520.1 277.6,517.4 278,516.4 278.1,515.7 278.6,510.7 279.1,505.6 279.6,500.2 280,496.6 280.1,496.4 280.6,495.8 281.1,484.7 281.5,471.4 281.6,472.8 282.1,492.4 282.6,498.6 283.1,498.1 283.5,497.6 283.6,497.6 284.1,499.5 284.6,501.6 285.1,502.6 285.6,502.4 286.1,502.3 286.6,503.1 287.1,503.7 287.6,504.2 288.1,504.5 288.6,504.8 289.1,504.7 289.6,504.6 290.1,504.7 290.6,505.1 291.1,505.9 291.6,506.7 292.1,507.9 292.6,509.3 293,509.9 293.1,509.8 293.6,508.9 294.1,507.9 294.6,507.7 295.1,507.3 295.6,507.5 296.1,508 296.6,508.3 297.1,508.5 297.6,508.2 298.1,507.9 298.6,507.6 299.1,508 299.6,508.8 300.1,508.7 300.6,507.3 301.1,505.5 301.6,503.8 302.1,502.8 302.6,503.3 303.1,503.4 303.6,502.2 304.1,499.1 304.6,494.4 304.8,494.1 305.1,495.6 305.6,500.4 306.1,503.2 306.6,504.8 307.1,506.6 307.6,508.4 308.1,506.5 308.6,506.4 309.1,507.3 309.6,513.4 309.9,517.8 310.1,515.7 310.6,508.5 311.1,508.5 311.5,510.1 311.6,509.9 312.1,506.4 312.6,503.9 313.1,495.8 313.6,475.5 313.7,474.3 314.1,488.2 314.6,502.6 315.1,507.7 315.5,510.9 315.6,510.7 316.1,507.8 316.6,508 317.1,508.9 317.6,506.9 318.1,506.3 318.6,505.4 319.1,503.7 319.6,506.2 320.1,506.7 320.6,506.8 321.1,506.5 321.6,506.7 322.1,506.7 322.6,506.7 323.1,506.9 323.6,506.7 324.1,506.5 324.6,506.5 325.1,506.6 325.6,506.6 326.1,506.8 326.6,510.2 326.8,512.4 327.1,508.9 327.6,506 328.1,503 328.4,500.8 328.6,501.7 329.1,505.5 329.6,506.3 330.1,506.7 330.6,506.9 331.1,506.8 331.6,506.9 332.1,507.3 332.6,507.7 333.1,507.8 333.6,507.2 334.1,506.9 334.6,507.1 335.1,507 335.6,506.8 336.1,506.9 336.6,506.8 337.1,506.5 337.6,506.7 338.1,506.9 338.6,506.9 339.1,506.6 339.6,506.8 340.1,506.7 340.6,506.6 341.1,506.6 341.6,506.6 342.1,506.8 342.6,506.4 343.1,506.4 343.6,506.2 344.1,506.3 344.6,506.5 345.1,506.8 345.6,506.9 346.1,506.8 346.6,506.8 347.1,506.5 347.6,506.5 348.1,506.5 348.6,506.2 349.1,506.3 349.6,506.6 350.1,506.5 350.6,506.7 351.1,506.9 351.6,506.7 352.1,506.6 352.6,506.9 353.1,506.7 353.6,506.3 354.1,506.7 354.6,506.9 355.1,507 355.6,506.9 356.1,507 356.6,507 357.1,507.3 357.6,507.3 358.1,507.5 358.6,507.5 359.1,508.3 359.6,509.7 360.1,510.6 360.6,510.4 361.1,510.9 361.6,512.5 362,512.9 362.1,512.7 362.6,510 363.1,507.1 363.6,503 364,498.3 364.1,497.9 364.6,497.6 365.1,492.3 365.6,486.2 365.7,485.6 366.1,488.4 366.6,494.1 367.1,496.7 367.5,497.4 367.6,498 368.1,501 368.6,503.3 369.1,504.3 369.6,504.8 370.1,505.1 370.6,505.4 371.1,505.5 371.6,505.6 372.1,505.4 372.6,504.3 373.1,491.3 373.2,489.5 373.6,501.8 374.1,505.2 374.6,505.3 375.1,505.4 375.6,505.7 376.1,506.1 376.6,505.5 377.1,504.5 377.6,506.2 378.1,506.3 378.6,506.5 379.1,507 379.6,508.3 380.1,509.9 380.6,507.7 381.1,507.1 381.6,507.7 382.1,508.5 382.6,507 383.1,506.7 383.6,507 384.1,508.6 384.6,525.8 384.7,528 385.1,509.3 385.5,497.2 385.6,498 386.1,504.7 386.6,495.6 386.8,489.6 387.1,499.4 387.6,503.2 388,494.7 388.1,496 388.6,505.8 389.1,507.2 389.6,508.3 390.1,506.8 390.6,506.7 391.1,506.4 391.6,506.5 392.1,506.5 392.6,506.4" fill="none" stroke="url(#g9)" stroke-width="1.0" stroke-linejoin="round" clip-path="url(#k9)"/>
<rect x="397.5" y="445.5" width="318" height="121" fill="none" stroke="#2a2a2a" stroke-width="1"/>
<path d="M405.9,566.5v-2M405.9,445.5v2M414.2,566.5v-2M414.2,445.5v2M422.6,566.5v-2M422.6,445.5v2M439.4,566.5v-2M439.4,445.5v2M447.8,566.5v-2M447.8,445.5v2M456.1,566.5v-2M456.1,445.5v2M464.5,566.5v-2M464.5,445.5v2M481.3,566.5v-2M481.3,445.5v2M489.7,566.5v-2M489.7,445.5v2M498,566.5v-2M498,445.5v2M506.4,566.5v-2M506.4,445.5v2M523.2,566.5v-2M523.2,445.5v2M531.6,566.5v-2M531.6,445.5v2M539.9,566.5v-2M539.9,445.5v2M548.3,566.5v-2M548.3,445.5v2M565.1,566.5v-2M565.1,445.5v2M573.5,566.5v-2M573.5,445.5v2M581.8,566.5v-2M581.8,445.5v2M590.2,566.5v-2M590.2,445.5v2M607,566.5v-2M607,445.5v2M615.4,566.5v-2M615.4,445.5v2M623.7,566.5v-2M623.7,445.5v2M632.1,566.5v-2M632.1,445.5v2M648.9,566.5v-2M648.9,445.5v2M657.3,566.5v-2M657.3,445.5v2M665.6,566.5v-2M665.6,445.5v2M674,566.5v-2M674,445.5v2M690.8,566.5v-2M690.8,445.5v2M699.2,566.5v-2M699.2,445.5v2M707.5,566.5v-2M707.5,445.5v2M431,566.5v-3.2M431,445.5v3.2M472.9,566.5v-3.2M472.9,445.5v3.2M514.8,566.5v-3.2M514.8,445.5v3.2M556.7,566.5v-3.2M556.7,445.5v3.2M598.6,566.5v-3.2M598.6,445.5v3.2M640.5,566.5v-3.2M640.5,445.5v3.2M682.4,566.5v-3.2M682.4,445.5v3.2" stroke="#2a2a2a" stroke-width="0.8" fill="none"/>
<text x="431" y="581.2" text-anchor="middle">4</text>
<text x="472.9" y="581.2" text-anchor="middle">3.5</text>
<text x="514.8" y="581.2" text-anchor="middle">3</text>
<text x="556.7" y="581.2" text-anchor="middle">2.5</text>
<text x="598.6" y="581.2" text-anchor="middle">2</text>
<text x="640.5" y="581.2" text-anchor="middle">1.5</text>
<text x="682.4" y="581.2" text-anchor="middle">1</text>
<polyline points="397.6,506.1 398.1,505.9 398.6,505.8 399.1,505.6 399.6,505.5 400.1,506 400.6,506.1 401.1,506.5 401.6,506.5 402.1,506.6 402.6,506.6 403.1,506.7 403.6,506.4 404.1,506.3 404.6,505.5 405.1,504.5 405.6,505.7 406.1,506.1 406.6,506.2 407.1,506 407.6,504.9 408.1,503.6 408.6,505.6 409.1,506.2 409.6,506.4 410.1,506.1 410.6,505.6 411.1,504.8 411.6,506.1 412.1,506.4 412.6,506.3 413.1,506.3 413.6,505.5 414.1,504.4 414.6,505.9 415.1,506.2 415.6,506.3 416.1,506.2 416.6,505.3 417.1,503.6 417.6,505.5 418.1,506.1 418.6,506.3 419.1,506.5 419.6,507.4 420.1,508.5 420.6,506.9 421.1,506.2 421.6,505.1 422.1,503.7 422.6,505.6 423.1,506.1 423.6,506.1 424.1,505.9 424.6,504.3 425,502.6 425.1,502.6 425.6,505.3 426.1,506.3 426.6,507.8 427,510.1 427.1,509.8 427.6,506.8 428.1,506.2 428.6,506.6 429.1,507 429.6,510.1 430,516.4 430.1,515.5 430.6,507.9 431.1,506.2 431.6,505.3 432.1,503.6 432.6,505.6 433.1,505.9 433.6,504.7 434,501.6 434.1,502.1 434.6,505.8 435.1,506.5 435.6,507.6 436,510.2 436.1,509.8 436.6,507 437.1,506.8 437.6,510.2 438,517 438.1,516.4 438.6,507.9 439.1,506.2 439.6,504.8 440.1,503.5 440.6,505.2 441.1,505.6 441.6,504.2 442,500.2 442.1,500.9 442.6,505.6 443.1,506.5 443.6,508.2 444,511.4 444.1,511.1 444.6,507 445.1,503.9 445.5,499.5 445.6,500 446.1,504.9 446.6,503.2 447,498.5 447.1,499.2 447.6,504.9 448.1,506.3 448.6,507.2 449.1,508.9 449.6,506.5 450.1,504.2 450.5,500.5 450.6,501 451.1,505.2 451.6,505.4 452.1,502 452.6,461.5 452.8,436.4 453.1,477.8 453.6,505.4 454,510.7 454.1,510.2 454.6,506.9 455.1,506.4 455.6,505.4 456.1,504.1 456.6,506.4 457.1,506.7 457.6,508.5 458,512.3 458.1,511.6 458.6,507.3 459.1,507 459.6,510.1 460,516.3 460.1,515.7 460.6,507.9 461.1,506.3 461.6,505 462,502.4 462.1,502.4 462.6,505.4 463.1,506.1 463.6,507.6 464,510.2 464.1,510 464.6,507 465.1,506.4 465.6,506.5 466.1,507.2 466.6,510.9 467,518.5 467.1,517.6 467.6,508.2 468.1,506.6 468.6,505.3 469.1,503.6 469.6,506 470.1,506.4 470.6,507.5 471.1,509.1 471.6,507.1 472.1,506.3 472.6,505.6 473.1,504.5 473.6,506.3 474.1,507.1 474.6,511.9 475,521.5 475.1,520.6 475.6,509.2 476.1,506.7 476.6,505.8 477.1,504.5 477.6,506.1 478.1,506.2 478.6,506.1 479.1,506.3 479.6,507 480.1,507.9 480.6,506.3 481.1,506 481.6,506.2 482.1,506.3 482.6,506.5 483.1,506.4 483.6,506.1 484.1,505.9 484.6,505.8 485.1,505.4 485.6,505.7 486.1,505.9 486.6,505.8 487.1,506.2 487.6,506.2 488.1,506.3 488.6,506.7 489.1,507.2 489.6,508.1 490.1,508.4 490.6,507.7 491.1,507 491.6,506.9 492.1,506.9 492.6,506.7 493.1,506.3 493.6,505.2 494.1,503.4 494.6,505.3 495.1,504.8 495.6,487.4 495.9,449.5 496.1,476.1 496.6,532.8 496.9,575.8 497.1,550.9 497.6,510.8 498.1,507.4 498.6,508.1 499.1,509.3 499.6,507.2 500.1,506.5 500.6,506.4 501.1,506.7 501.6,506.7 502.1,506.8 502.6,507 503.1,506.9 503.6,507 504.1,507.3 504.6,507 505.1,506.9 505.6,507.3 506.1,507.7 506.6,508.4 507.1,508.5 507.6,508.1 508.1,507.7 508.6,507.5 509.1,507.4 509.6,507.5 510.1,507.5 510.6,507.5 511.1,508.4 511.6,509.1 512.1,509.5 512.6,508.6 513.1,508.1 513.6,507.5 514.1,507.5 514.6,507.5 515.1,507.8 515.6,508.6 516.1,508.9 516.6,508.2 517.1,507.8 517.6,507.7 518.1,507.5 518.6,508.1 519.1,508.4 519.6,509.3 520.1,509.6 520.6,508.6 521.1,508 521.6,507.7 522.1,507.4 522.6,507.6 523.1,508 523.6,508.3 524.1,508.6 524.6,508.1 525.1,507.5 525.6,507.3 526.1,507.4 526.6,507.9 527.1,508.3 527.6,509.3 528.1,509.7 528.6,509 529.1,508.2 529.6,507.6 530.1,507.5 530.6,507.8 531.1,507.7 531.6,508.3 532.1,508.3 532.6,507.9 533.1,507.3 533.6,507.2 534.1,507.2 534.6,506.9 535.1,506.7 535.6,506.6 536.1,506.2 536.6,504.9 537.1,503.7 537.6,505.9 538.1,506.6 538.6,507 539.1,513 539.5,532.2 539.6,529 540.1,506.7 540.5,500.7 540.6,501.1 541.1,504.9 541.6,501.7 542,489.4 542.1,491.3 542.6,505.1 543.1,509.2 543.5,514.6 543.6,514.3 544.1,511.6 544.5,521.6 544.6,519.8 545.1,507.7 545.6,505.4 546,502.4 546.1,502.6 546.6,505.6 547.1,506.3 547.6,506.4 548.1,507.4 548.6,508.9 549.1,506.6 549.6,504.5 550.1,494.1 550.6,504.5 551.1,509.1 551.5,518.1 551.6,516.8 552.1,507.2 552.6,504.9 553,502.5 553.1,503.1 553.6,506 554.1,506.8 554.6,508.3 555,511.3 555.1,511.1 555.6,507.8 556.1,508.2 556.6,515.4 557,530.8 557.1,529.5 557.6,517.7 558,522.7 558.1,521.5 558.6,510.7 559.1,508.1 559.6,511.3 560,524 560.1,521.6 560.6,508.2 561.1,507 561.6,506.1 562.1,505.1 562.6,506.6 563.1,507 563.6,510.4 564,522.4 564.1,520.6 564.6,507.9 565.1,506.4 565.6,505.8 566.1,504.5 566.6,505.9 567.1,506 567.6,504.3 568,502.3 568.1,502.5 568.6,505.4 569.1,506 569.6,505 570.1,503.5 570.6,505.7 571.1,505.9 571.6,506 572.1,506.1 572.6,506.4 573.1,507 573.6,510.5 573.9,514.4 574.1,512.4 574.6,507.5 575.1,506.8 575.6,506.6 576.1,506.7 576.6,506.9 577.1,507 577.6,507.6 578.1,508 578.6,507.7 579.1,507.6 579.6,507.3 580.1,507 580.6,507.3 581.1,507.4 581.6,507.6 582.1,507.7 582.6,507.9 583.1,507.7 583.6,507.9 584.1,508.1 584.6,508.7 585.1,509.9 585.6,511.6 586.1,514.3 586.6,517.5 587,518.9 587.1,518.6 587.6,516.5 588.1,513.1 588.6,510.9 589.1,509.6 589.6,508.9 590.1,508.5 590.6,508.3 591.1,508.6 591.6,508.8 592.1,509 592.6,508.5 593.1,508 593.6,508.1 594.1,508.3 594.6,508.8 595.1,509.2 595.6,508.8 596.1,508.5 596.6,508.6 597.1,508.8 597.6,509.9 598.1,510.2 598.6,509.3 599.1,508.5 599.6,508 600.1,508 600.6,508.5 601.1,509.7 601.6,510.6 601.8,510.9 602.1,510.6 602.6,509.3 603.1,508.2 603.6,507.7 604.1,507.3 604.6,507.3 605.1,507.3 605.6,507.6 606.1,507.5 606.6,507.1 607.1,507 607.6,506.9 608.1,506.8 608.6,506.7 609.1,506.5 609.6,506.6 610.1,506.6 610.6,506.8 611.1,506.7 611.6,506.7 612.1,506.6 612.6,506.7 613.1,506.5 613.6,506.5 614.1,506.3 614.6,506.5 615.1,506.4 615.6,506.8 616.1,506.4 616.6,506.6 617.1,506.8 617.6,507 618.1,507 618.6,507.2 619.1,507.2 619.6,507.8 620.1,508.3 620.6,509.1 621.1,510.5 621.6,511.2 622.1,510.4 622.6,509.3 623.1,508.2 623.6,507.6 624.1,507.5 624.6,506.9 625.1,506.8 625.6,506.8 626.1,506.6 626.6,506.7 627.1,506.4 627.6,506.4 628.1,506.4 628.6,506.3 629.1,506.3 629.6,506.2 630.1,506.3 630.6,506.4 631.1,506.5 631.6,506.4 632.1,506.4 632.6,506.5 633.1,506.5 633.6,506.4 634.1,506.4 634.6,506.4 635.1,506.4 635.6,506.3 636.1,506.3 636.6,506.6 637.1,506.7 637.6,506.4 638.1,506.2 638.6,506.2 639.1,506.3 639.6,506.4 640.1,506.2 640.6,506.5 641.1,506.4 641.6,506.6 642.1,506.8 642.6,507 643.1,506.7 643.6,506.7 644.1,506.5 644.6,506.8 645.1,506.7 645.6,506.4 646.1,506.5 646.6,506.6 647.1,506.7 647.6,507.2 648.1,507.8 648.6,508.4 649.1,509.5 649.6,511.2 650.1,513 650.4,513.6 650.6,513.2 651.1,511.6 651.6,509.9 652.1,508.7 652.6,507.9 653.1,507.4 653.6,507.2 654.1,506.9 654.6,506.7 655.1,506.5 655.6,506.6 656.1,506.4 656.6,506.1 657.1,505.2 657.6,501.8 658.1,491.2 658.3,488.5 658.6,493 659.1,501 659.6,501.5 660,501.2 660.1,501.2 660.6,503.4 661.1,505 661.6,505.6 662.1,506 662.6,506 663.1,506.1 663.6,506 664.1,506.3 664.6,506.3 665.1,506.1 665.6,506.3 666.1,506.3 666.6,506.4 667.1,506.3 667.6,506.1 668.1,506.1 668.6,506.3 669.1,506 669.6,505.7 670.1,505.2 670.6,506.2 671.1,506.3 671.6,506.5 672.1,506.6 672.6,506.6 673.1,506.6 673.6,506 674.1,506.4 674.6,506.3 675.1,506.1 675.6,505.8 676.1,505.5 676.6,506.1 677.1,506.2 677.6,506.3 678.1,506.4 678.6,506.3 679.1,506.4 679.6,506.5 680.1,506.4 680.6,506 681.1,505.4 681.6,506.1 682.1,506.1 682.6,506 683.1,506 683.6,506.3 684.1,506 684.6,506.1 685.1,506.3 685.6,506.3 686.1,506.5 686.6,506.5 687.1,506.6 687.6,506.5 688.1,506.4 688.6,506.3 689.1,506.2 689.6,506.2 690.1,506.1 690.6,506.2 691.1,506 691.6,506 692.1,505.9 692.6,506.1 693.1,505.9 693.6,505.5 694.1,504.8 694.6,503.6 695.1,503.7 695.6,504.9 696.1,505.4 696.6,505.9 697.1,505.8 697.6,505.7 698.1,506 698.6,505.9 699.1,506.2 699.6,506.1 700.1,506.4 700.6,506.3 701.1,506.3 701.6,506.2 702.1,506.5 702.6,506.6 703.1,506.5 703.6,506.4 704.1,506.4 704.6,506.7 705.1,506.7 705.6,506.4 706.1,506.4 706.6,506.4 707.1,506.4 707.6,506.7 708.1,506.8 708.6,506.8 709.1,506.6 709.6,506.6 710.1,506.7 710.6,506.6 711.1,506.5 711.6,506.6 712.1,506.3 712.6,506.4 713.1,506.3 713.6,506.4 714.1,506.6 714.6,506.3 715.1,506.5" fill="none" stroke="url(#g10)" stroke-width="1.0" stroke-linejoin="round" clip-path="url(#k10)"/>
<text x="142.7" y="462.4" font-weight="bold" font-style="italic" font-size="12.5" textLength="49.4" lengthAdjust="spacingAndGlyphs" fill="#111">Atdmc1</text>
<text x="143" y="561.5" font-weight="bold" font-size="12.5" textLength="21.2" lengthAdjust="spacingAndGlyphs" fill="#111">Ler</text>
<text x="155.3" y="488.7" text-anchor="middle">62</text>
<polyline points="144.7,501.4 154.1,492.8 161.7,501.4" fill="none" stroke="#2a2a2a" stroke-width="0.9"/>
<text x="225" y="479.3" text-anchor="middle">56</text>
<polyline points="223.5,485.2 223.5,498.3" fill="none" stroke="#2a2a2a" stroke-width="0.9"/>
<text x="244" y="471.7" text-anchor="middle">45</text>
<polyline points="242.5,475.5 242.5,488.2" fill="none" stroke="#2a2a2a" stroke-width="0.9"/>
<text x="192.6" y="543.9" text-anchor="middle">51</text>
<polyline points="192.5,515.6 192.5,527.5" fill="none" stroke="#2a2a2a" stroke-width="0.9"/>
<text x="277" y="555.8" text-anchor="middle">57</text>
<polyline points="277.5,530 277.5,541.4" fill="none" stroke="#2a2a2a" stroke-width="0.9"/>
<text x="283.3" y="460.1" text-anchor="middle">56</text>
<polyline points="281.5,464.1 281.5,473" fill="none" stroke="#2a2a2a" stroke-width="0.9"/>
<text x="304.1" y="478.5" text-anchor="middle">55</text>
<polyline points="305.5,480.6 305.5,492.6" fill="none" stroke="#2a2a2a" stroke-width="0.9"/>
<text x="310" y="540.4" text-anchor="middle">54</text>
<polyline points="310.5,519.8 310.5,527.8" fill="none" stroke="#2a2a2a" stroke-width="0.9"/>
<text x="314.3" y="459.8" text-anchor="middle">U6</text>
<polyline points="313.5,463 313.5,474.2" fill="none" stroke="#2a2a2a" stroke-width="0.9"/>
<text x="334" y="482.8" text-anchor="middle">48,49</text>
<polyline points="328.5,484.6 328.5,497.4" fill="none" stroke="#2a2a2a" stroke-width="0.9"/>
<text x="337.2" y="544.6" text-anchor="middle">51,52</text>
<polyline points="326.5,516.6 326.5,532.6" fill="none" stroke="#2a2a2a" stroke-width="0.9"/>
<text x="366" y="462.5" text-anchor="middle">43</text>
<polyline points="366.5,463 366.5,484.6" fill="none" stroke="#2a2a2a" stroke-width="0.9"/>
<text x="376.9" y="474.2" text-anchor="middle">42</text>
<polyline points="373.5,476.9 373.5,489.4" fill="none" stroke="#2a2a2a" stroke-width="0.9"/>
<text x="384.4" y="553.2" text-anchor="middle">39</text>
<polyline points="384.5,530.2 384.5,542.2" fill="none" stroke="#2a2a2a" stroke-width="0.9"/>
<text x="451.3" y="535.6" text-anchor="middle">sugars &amp;</text>
<text x="452.8" y="550" text-anchor="middle">amino acids</text>
<polyline points="417.4,521.5 481.7,521.5" fill="none" stroke="#2a2a2a" stroke-width="0.9"/>
<text x="518" y="473" text-anchor="middle">25,26</text>
<polyline points="505.3,476.8 499.4,485.7" fill="none" stroke="#2a2a2a" stroke-width="0.9"/>
<text x="516.7" y="562.7" text-anchor="middle">24</text>
<polyline points="500.2,537.6 514.7,547.7" fill="none" stroke="#2a2a2a" stroke-width="0.9"/>
<text x="544" y="549.5" text-anchor="middle">13</text>
<polyline points="548.3,537.6 557.7,529.2" fill="none" stroke="#2a2a2a" stroke-width="0.9"/>
<text x="564.8" y="549.5" text-anchor="middle">16</text>
<polyline points="564.5,517.3 564.5,536.3" fill="none" stroke="#2a2a2a" stroke-width="0.9"/>
<text x="573.9" y="560.4" text-anchor="middle">10</text>
<polyline points="573.5,514.8 573.5,547.7" fill="none" stroke="#2a2a2a" stroke-width="0.9"/>
<text x="590.9" y="539.4" text-anchor="middle">13,15</text>
<polyline points="587.5,519.9 587.5,528.7" fill="none" stroke="#2a2a2a" stroke-width="0.9"/>
<text x="615.2" y="561.4" text-anchor="middle">12</text>
<polyline points="601.8,515.6 614.5,550.3" fill="none" stroke="#2a2a2a" stroke-width="0.9"/>
<text x="622.8" y="538.6" text-anchor="middle">8,9</text>
<polyline points="621.5,512.3 621.5,525" fill="none" stroke="#2a2a2a" stroke-width="0.9"/>
<text x="651.7" y="540.1" text-anchor="middle">5,6</text>
<polyline points="650.5,515.6 650.5,527.5" fill="none" stroke="#2a2a2a" stroke-width="0.9"/>
<text x="658.3" y="472.2" text-anchor="middle">U1</text>
<polyline points="658.5,475 658.5,486.9" fill="none" stroke="#2a2a2a" stroke-width="0.9"/>
<text x="674" y="498.1" text-anchor="middle">1,2,3</text>
<polyline points="669.5,501.5 684.9,501.5" fill="none" stroke="#2a2a2a" stroke-width="0.9"/>
<text x="696" y="486.9" text-anchor="middle">53</text>
<polyline points="694.5,490.7 694.5,502.1" fill="none" stroke="#2a2a2a" stroke-width="0.9"/>
<rect x="715.5" y="445.5" width="10" height="121" fill="url(#jetv)" stroke="#111" stroke-width="1"/>
<polyline points="715.5,553.5 717.3,553.5" fill="none" stroke="#111" stroke-width="0.8"/>
<polyline points="723.7,553.5 725.5,553.5" fill="none" stroke="#111" stroke-width="0.8"/>
<polyline points="715.5,539.5 717.3,539.5" fill="none" stroke="#111" stroke-width="0.8"/>
<polyline points="723.7,539.5 725.5,539.5" fill="none" stroke="#111" stroke-width="0.8"/>
<polyline points="715.5,526.5 717.3,526.5" fill="none" stroke="#111" stroke-width="0.8"/>
<polyline points="723.7,526.5 725.5,526.5" fill="none" stroke="#111" stroke-width="0.8"/>
<polyline points="715.5,513.5 717.3,513.5" fill="none" stroke="#111" stroke-width="0.8"/>
<polyline points="723.7,513.5 725.5,513.5" fill="none" stroke="#111" stroke-width="0.8"/>
<polyline points="715.5,499.5 717.3,499.5" fill="none" stroke="#111" stroke-width="0.8"/>
<polyline points="723.7,499.5 725.5,499.5" fill="none" stroke="#111" stroke-width="0.8"/>
<polyline points="715.5,486.5 717.3,486.5" fill="none" stroke="#111" stroke-width="0.8"/>
<polyline points="723.7,486.5 725.5,486.5" fill="none" stroke="#111" stroke-width="0.8"/>
<polyline points="715.5,473.5 717.3,473.5" fill="none" stroke="#111" stroke-width="0.8"/>
<polyline points="723.7,473.5 725.5,473.5" fill="none" stroke="#111" stroke-width="0.8"/>
<polyline points="715.5,459.5 717.3,459.5" fill="none" stroke="#111" stroke-width="0.8"/>
<polyline points="723.7,459.5 725.5,459.5" fill="none" stroke="#111" stroke-width="0.8"/>
<text x="728.6" y="463.4">0.8</text>
<text x="728.6" y="492.5">0.6</text>
<text x="728.6" y="518.6">0.4</text>
<text x="728.6" y="544.4">0.2</text>
<text x="728.6" y="571">0</text>
<rect x="41.5" y="617.5" width="92" height="93" fill="none" stroke="#222" stroke-width="1"/>
<polyline points="87.5,617.5 87.5,710.5" fill="none" stroke="#222" stroke-width="0.9"/>
<polyline points="41.5,663.5 133.5,663.5" fill="none" stroke="#222" stroke-width="0.9"/>
<ellipse cx="87.3" cy="663.7" rx="41.5" ry="42.3" fill="none" stroke="#222" stroke-width="1"/>
<ellipse cx="71.5" cy="658.5" rx="3.7" ry="2.8" fill="#000"/>
<ellipse cx="72.5" cy="660.5" rx="3.7" ry="2.8" fill="#000"/>
<ellipse cx="70" cy="662" rx="3.7" ry="2.8" fill="#000"/>
<ellipse cx="68.5" cy="664" rx="3.7" ry="2.8" fill="#000"/>
<ellipse cx="69.5" cy="666.5" rx="3.7" ry="2.8" fill="#000"/>
<ellipse cx="71.5" cy="668" rx="3.7" ry="2.8" fill="#000"/>
<ellipse cx="70.5" cy="665" rx="3.7" ry="2.8" fill="#000"/>
<path d="M95.2,640.1L102,640.1M96.2,637.7L101,642.5M98.6,636.7L98.6,643.5M101,637.7L96.2,642.5" stroke="#9932cc" stroke-width="1.6" fill="none"/>
<path d="M95.8,642.9L102.6,642.9M96.8,640.5L101.6,645.3M99.2,639.5L99.2,646.3M101.6,640.5L96.8,645.3" stroke="#9932cc" stroke-width="1.6" fill="none"/>
<path d="M95.2,660.6L102,660.6M96.2,658.2L101,663M98.6,657.2L98.6,664M101,658.2L96.2,663" stroke="#9932cc" stroke-width="1.6" fill="none"/>
<path d="M94.9,677.4L101.7,677.4M95.9,675L100.7,679.8M98.3,674L98.3,680.8M100.7,675L95.9,679.8" stroke="#9932cc" stroke-width="1.6" fill="none"/>
<path d="M96.4,681.1L103.2,681.1M97.4,678.7L102.2,683.5M99.8,677.7L99.8,684.5M102.2,678.7L97.4,683.5" stroke="#9932cc" stroke-width="1.6" fill="none"/>
<path d="M95.2,685.8L102,685.8M96.2,683.4L101,688.2M98.6,682.4L98.6,689.2M101,683.4L96.2,688.2" stroke="#9932cc" stroke-width="1.6" fill="none"/>
<text x="39.7" y="667.4" text-anchor="end" font-family="Liberation Serif" font-size="8.3" textLength="13.3" lengthAdjust="spacingAndGlyphs" fill="#000">0.0</text>
<text x="61.2" y="722.4" text-anchor="middle" font-family="Liberation Serif" font-size="8.3" textLength="17.9" lengthAdjust="spacingAndGlyphs" fill="#000">-0.4</text>
<text x="87.4" y="722.4" text-anchor="middle" font-family="Liberation Serif" font-size="8.3" textLength="13.3" lengthAdjust="spacingAndGlyphs" fill="#000">0.0</text>
<text x="112.9" y="722.4" text-anchor="middle" font-family="Liberation Serif" font-size="8.3" textLength="13.3" lengthAdjust="spacingAndGlyphs" fill="#000">0.4</text>
<text x="87.7" y="738.5" text-anchor="middle" font-family="Liberation Serif" font-size="9" textLength="21" lengthAdjust="spacingAndGlyphs">t[1]P</text>
<text transform="translate(18.1,661.5) rotate(-90)" text-anchor="middle" font-family="Liberation Serif" font-size="9" textLength="18" lengthAdjust="spacingAndGlyphs">t[2]O</text>
<text x="0.3" y="611.1" font-weight="bold" font-size="17.5" fill="#111">e</text>
<text x="26.8" y="612.1" font-size="12.5" textLength="107.5" lengthAdjust="spacingAndGlyphs">R<tspan font-size="8" dy="-4.5">2</tspan><tspan dy="4.5">X=0.72, Q</tspan><tspan font-size="8" dy="-4.5">2</tspan><tspan dy="4.5">=0.98</tspan></text>
<rect x="139.5" y="605.5" width="215" height="121" fill="none" stroke="#2a2a2a" stroke-width="1"/>
<path d="M144.8,726.5v-2M144.8,605.5v2M158.2,726.5v-2M158.2,605.5v2M165,726.5v-2M165,605.5v2M171.8,726.5v-2M171.8,605.5v2M178.5,726.5v-2M178.5,605.5v2M192,726.5v-2M192,605.5v2M198.7,726.5v-2M198.7,605.5v2M205.5,726.5v-2M205.5,605.5v2M212.3,726.5v-2M212.3,605.5v2M225.7,726.5v-2M225.7,605.5v2M232.5,726.5v-2M232.5,605.5v2M239.2,726.5v-2M239.2,605.5v2M246,726.5v-2M246,605.5v2M259.5,726.5v-2M259.5,605.5v2M266.2,726.5v-2M266.2,605.5v2M273,726.5v-2M273,605.5v2M279.8,726.5v-2M279.8,605.5v2M293.2,726.5v-2M293.2,605.5v2M300,726.5v-2M300,605.5v2M306.8,726.5v-2M306.8,605.5v2M313.5,726.5v-2M313.5,605.5v2M327,726.5v-2M327,605.5v2M333.8,726.5v-2M333.8,605.5v2M340.5,726.5v-2M340.5,605.5v2M347.2,726.5v-2M347.2,605.5v2M151.5,726.5v-3.2M151.5,605.5v3.2M185.2,726.5v-3.2M185.2,605.5v3.2M219,726.5v-3.2M219,605.5v3.2M252.8,726.5v-3.2M252.8,605.5v3.2M286.5,726.5v-3.2M286.5,605.5v3.2M320.2,726.5v-3.2M320.2,605.5v3.2" stroke="#2a2a2a" stroke-width="0.8" fill="none"/>
<text x="151.5" y="740.5" text-anchor="middle">9</text>
<text x="185.2" y="740.5" text-anchor="middle">8.5</text>
<text x="219" y="740.5" text-anchor="middle">8</text>
<text x="252.8" y="740.5" text-anchor="middle">7.5</text>
<text x="286.5" y="740.5" text-anchor="middle">7</text>
<text x="320.2" y="740.5" text-anchor="middle">6.5</text>
<text x="354" y="740.5" text-anchor="middle">6</text>
<polyline points="139.9,657.4 140.4,657.4 140.9,657.2 141.4,657.2 141.9,657.3 142.4,657.5 142.9,657.5 143.4,657.9 143.9,658.2 144.4,657.5 144.9,657.3 145.4,657 145.9,656.8 146.4,656.9 146.9,657.2 147.4,657.1 147.9,657.2 148.4,657.1 148.9,657.3 149.4,657.4 149.9,657.4 150.4,657.5 150.9,657.6 151.4,657.4 151.9,657.4 152.4,657.2 152.9,657.1 153.4,657.1 153.9,657.1 154.4,657.2 154.9,657.2 155.4,657.2 155.9,657.2 156.4,657.3 156.9,657.2 157.4,657.2 157.9,657 158.4,657.3 158.9,657.6 159.4,657.5 159.9,657 160.4,656.9 160.9,657.2 161.4,657.3 161.9,657.1 162.4,656.9 162.9,657 163.4,656.8 163.9,656.8 164.4,657 164.9,656.8 165.4,656.9 165.9,657.2 166.4,657.1 166.9,657.1 167.4,657.2 167.9,657.4 168.4,657.4 168.9,657.2 169.4,657.3 169.9,657.4 170.4,657.5 170.9,657.3 171.4,657 171.9,657.3 172.4,657.3 172.9,657.2 173.4,657 173.9,657.2 174.4,657.1 174.9,656.9 175.4,657.1 175.9,657.2 176.4,657.2 176.9,657.1 177.4,657.1 177.9,657.4 178.4,657.3 178.9,657.1 179.4,657.3 179.9,657.4 180.4,657.5 180.9,657.1 181.4,657.2 181.9,657.4 182.4,657.1 182.9,657 183.4,657.1 183.9,657.1 184.4,657.1 184.9,657 185.4,657.1 185.9,657.1 186.4,657.2 186.9,657.2 187.4,657.1 187.9,657.1 188.4,657.2 188.9,657.5 189.4,657.3 189.9,657.3 190.4,657.3 190.9,657 191.4,657 191.9,657.1 192.4,657.1 192.9,657.4 193.4,657.4 193.9,657.3 194.4,657.2 194.9,657.1 195.4,656.9 195.9,656.4 196.4,653.2 196.9,656.5 197.4,657.3 197.9,657.5 198.4,657.4 198.9,657.2 199.4,657.2 199.9,657.4 200.4,657.2 200.9,657.1 201.4,657.1 201.9,657 202.4,657 202.9,656.9 203.4,656.9 203.9,657.1 204.4,657.1 204.9,657 205.4,656.5 205.9,656 206.4,656.5 206.9,657.2 207.4,657.4 207.9,657.6 208.4,657.5 208.9,657.3 209.4,657.4 209.9,657.2 210.4,657.2 210.9,657.3 211.4,657.3 211.9,657.5 212.4,657.4 212.9,657.3 213.4,657.5 213.9,657.4 214.4,657.5 214.9,657.5 215.4,657.5 215.9,657.4 216.4,657.2 216.9,656.4 217.4,656.6 217.9,656.8 218.4,656.1 218.9,652.6 219,652.6 219.4,655.3 219.9,657.4 220.4,657.9 220.9,659.4 221.4,663.2 221.5,663.8 221.9,661.1 222.4,658.5 222.9,658.3 223.4,658.6 223.9,660.5 224.4,659.1 224.9,658.1 225.4,658.4 225.9,658.5 226.4,659.2 226.9,660.3 227.4,662.1 227.9,665.2 228.3,666.4 228.4,666.5 228.9,664.2 229.4,661.9 229.9,660.9 230.4,660.9 230.9,661.1 231.4,660.5 231.9,659.7 232.4,658.7 232.9,658.1 233.4,657.6 233.9,657.5 234.4,657.2 234.9,656.9 235.4,656.9 235.9,657.1 236.4,656.8 236.9,656.3 237.4,655.7 237.9,655 238.4,655.2 238.9,655.6 239.4,656.2 239.9,656.3 240.4,655.8 240.9,655.7 241.4,654.6 241.9,652 242.4,648.1 242.7,646.8 242.9,647.5 243.4,651.9 243.9,654.6 244.4,654.2 244.9,657.2 245.4,660.5 245.9,663.8 246.4,668.8 246.9,672.8 247,673 247.4,671 247.9,666.4 248.4,663.9 248.9,663.3 249.4,663.8 249.5,663.6 249.9,662.1 250.4,659.6 250.9,657.8 251.4,655.6 251.9,653.5 252,653 252.4,653.8 252.9,655.4 253.4,656.1 253.9,656.4 254.4,656.4 254.9,656.2 255.4,656.4 255.9,657.2 256.4,657.4 256.9,657.4 257.4,657.3 257.9,657.2 258.4,658 258.9,663 259.2,665.9 259.4,664.2 259.9,658.6 260.4,657.4 260.9,657 261.4,656.7 261.9,656.7 262.4,656.3 262.9,656.2 263.4,656.3 263.9,656.4 264.4,656.6 264.9,656.8 265.4,657.1 265.9,657.1 266.4,656.9 266.9,656.8 267.4,656.6 267.9,656.4 268.4,656.7 268.9,657.2 269.4,657.4 269.9,657.4 270.4,657.4 270.9,657.9 271.4,658.1 271.9,658.1 272.4,658.1 272.9,657.8 273.4,657.4 273.9,657.4 274.4,657.2 274.9,657.1 275.4,656.5 275.9,650.4 276,649.7 276.4,656.3 276.9,662.8 277,663.3 277.4,660.1 277.9,658.3 278.4,658.2 278.9,658.6 279.4,658.9 279.9,659.3 280.4,658.9 280.9,658.3 281.4,658.2 281.9,657.9 282.4,657.8 282.9,657.8 283.4,657.6 283.9,657.9 284.4,657.5 284.9,657.1 285.4,656.1 285.9,655.3 286.4,656 286.9,656.9 287.4,658.1 287.9,658.4 288.4,658.8 288.9,659.1 289.4,658.6 289.9,650.6 290.1,647.6 290.4,656.4 290.9,673.9 291.4,717.2 291.6,731 291.9,711.6 292.4,687.5 292.9,688.7 293,688.8 293.4,685.8 293.9,680 294.4,676.7 294.9,675.4 295,675.4 295.4,673.6 295.9,670.8 296.4,668.3 296.9,666.8 297.4,665.8 297.9,664.9 298,664.9 298.4,664.2 298.9,663.1 299.4,661.7 299.9,661 300.4,660 300.9,659.3 301.4,658.7 301.9,657.9 302.4,657.2 302.9,656.5 303.4,655 303.9,653.4 304,653.2 304.4,653.8 304.9,655.1 305.4,655.6 305.9,655.2 306.4,654 306.9,654.8 307.4,655.9 307.9,656.2 308.4,656.4 308.9,656.1 309.4,655.9 309.9,656.3 310.4,657.2 310.9,658 311.4,658.8 311.9,659.6 312.4,660.7 312.9,662.7 313.4,665.5 313.9,668.5 314.2,669.1 314.4,668.7 314.9,666.1 315.4,663.4 315.9,661.7 316.4,660.9 316.9,660.8 317.4,659.8 317.9,658.6 318.4,656.7 318.9,642.8 319.1,636 319.4,647.8 319.9,657.6 320.4,661.6 320.5,661.7 320.9,659.5 321.4,660.8 321.8,665.3 321.9,664.7 322.4,656.7 322.9,643.3 323.1,638 323.4,647.2 323.9,656.8 324.4,659.1 324.9,665.9 325.4,700.7 325.5,704.5 325.9,677.5 326.4,665.9 326.9,667.5 327,667.6 327.4,665.2 327.9,661.3 328.4,659 328.9,655.8 329.4,656.9 329.9,658 330.4,659.2 330.9,662.6 331,662.8 331.4,660.6 331.9,658.4 332.4,657.9 332.9,657.5 333.4,657.3 333.9,657.6 334.4,657.6 334.9,657.6 335.4,657.4 335.9,657.4 336.4,657.4 336.9,657.3 337.4,656.9 337.9,657.1 338.4,657 338.9,657 339.4,657.1 339.9,657 340.4,657.1 340.9,654.6 341.4,657 341.9,661.7 342,662.2 342.4,658.3 342.9,657.2 343.4,657 343.9,656.9 344.4,656.9 344.9,657 345.4,656.8 345.9,656.3 346.4,656.3 346.9,656.8 347.4,657 347.9,656.9 348.4,657 348.9,657 349.4,656.9 349.9,657 350.4,657.1 350.9,657.3 351.4,657.3 351.9,657.2 352.4,657.3 352.9,657.1 353.4,657 353.9,657" fill="none" stroke="url(#g11)" stroke-width="1.0" stroke-linejoin="round" clip-path="url(#k11)"/>
<rect x="357.5" y="605.5" width="39" height="121" fill="none" stroke="#2a2a2a" stroke-width="1"/>
<path d="M364,726.5v-2M364,605.5v2M371,726.5v-2M371,605.5v2M378,726.5v-2M378,605.5v2M385,726.5v-2M385,605.5v2M392,726.5v-2M392,605.5v2" stroke="#2a2a2a" stroke-width="0.8" fill="none"/>
<polyline points="358,666.6 358.5,667 359,666.9 359.5,667.5 360,667.9 360.5,667.8 361,667.3 361.5,667.3 362,667.3 362.5,668.6 363,686.3 363.3,714.3 363.5,697.1 364,669.4 364.5,666.4 365,664.4 365.5,666.3 366,667.6 366.5,669.3 367,673.3 367.5,669.5 368,667.9 368.5,666.9 369,664.9 369.5,667.1 370,668.1 370.5,668.5 371,668.8 371.5,669.2 372,669.4 372.5,670 373,670.5 373.5,671.1 374,671.8 374.5,671.8 375,671.6 375.5,671.9 376,672.7 376.5,673.7 377,674 377.5,674.3 378,675.2 378.5,677.7 379,680 379.5,676.5 380,673.7 380.5,676 381,690.1 381.5,676.6 382,681 382.5,671.3 383,671 383.5,697.4 383.6,701.4 384,675.8 384.5,668.8 385,670.3 385.5,668.1 386,670 386.3,673.4 386.5,667.3 386.8,656.3 387,663.2 387.5,697 388,671.3 388.5,668.1 389,670.6 389.5,667.6 390,666.3 390.5,664.3 391,666.6 391.5,668.3 392,673 392.5,669.6 393,690.7 393.2,708.7 393.5,677.7 393.9,651.9 394,653.5 394.5,665.5 395,666 395.5,665.3 396,666.1" fill="none" stroke="url(#g12)" stroke-width="1.0" stroke-linejoin="round" clip-path="url(#k12)"/>
<rect x="401.5" y="605.5" width="314" height="121" fill="none" stroke="#2a2a2a" stroke-width="1"/>
<path d="M409.4,726.5v-2M409.4,605.5v2M417.7,726.5v-2M417.7,605.5v2M426,726.5v-2M426,605.5v2M442.6,726.5v-2M442.6,605.5v2M450.9,726.5v-2M450.9,605.5v2M459.2,726.5v-2M459.2,605.5v2M467.5,726.5v-2M467.5,605.5v2M484.2,726.5v-2M484.2,605.5v2M492.5,726.5v-2M492.5,605.5v2M500.8,726.5v-2M500.8,605.5v2M509.1,726.5v-2M509.1,605.5v2M525.7,726.5v-2M525.7,605.5v2M534,726.5v-2M534,605.5v2M542.3,726.5v-2M542.3,605.5v2M550.6,726.5v-2M550.6,605.5v2M567.3,726.5v-2M567.3,605.5v2M575.6,726.5v-2M575.6,605.5v2M583.9,726.5v-2M583.9,605.5v2M592.2,726.5v-2M592.2,605.5v2M608.8,726.5v-2M608.8,605.5v2M617.1,726.5v-2M617.1,605.5v2M625.4,726.5v-2M625.4,605.5v2M633.7,726.5v-2M633.7,605.5v2M650.4,726.5v-2M650.4,605.5v2M658.7,726.5v-2M658.7,605.5v2M667,726.5v-2M667,605.5v2M675.3,726.5v-2M675.3,605.5v2M691.9,726.5v-2M691.9,605.5v2M700.2,726.5v-2M700.2,605.5v2M708.5,726.5v-2M708.5,605.5v2M434.3,726.5v-3.2M434.3,605.5v3.2M475.9,726.5v-3.2M475.9,605.5v3.2M517.4,726.5v-3.2M517.4,605.5v3.2M559,726.5v-3.2M559,605.5v3.2M600.5,726.5v-3.2M600.5,605.5v3.2M642.1,726.5v-3.2M642.1,605.5v3.2M683.6,726.5v-3.2M683.6,605.5v3.2" stroke="#2a2a2a" stroke-width="0.8" fill="none"/>
<text x="434.3" y="740.7" text-anchor="middle">4</text>
<text x="475.9" y="740.7" text-anchor="middle">3.5</text>
<text x="517.4" y="740.7" text-anchor="middle">3</text>
<text x="559" y="740.7" text-anchor="middle">2.5</text>
<text x="600.5" y="740.7" text-anchor="middle">2</text>
<text x="642.1" y="740.7" text-anchor="middle">1.5</text>
<text x="683.6" y="740.7" text-anchor="middle">1</text>
<polyline points="401.8,680.1 402.3,680 402.8,680 403.3,680.4 403.8,680.5 404.3,680.7 404.8,681.1 405.3,681 405.8,680.9 406.3,680.5 406.8,680.2 407.3,680.1 407.8,679.9 408.3,679.7 408.8,679.8 409.3,679.4 409.8,678.1 410.3,678.4 410.8,679.6 411.3,680.1 411.8,680.5 412.3,681.1 412.8,686.1 413,688.1 413.3,684.4 413.8,680.6 414.3,680.2 414.8,679.9 415.3,679.9 415.8,679.6 416.3,679.9 416.8,681.2 417.3,681 417.8,680.1 418.3,679.8 418.8,679.7 419.3,679.7 419.8,679.8 420.3,680.1 420.8,681.9 421.3,681.3 421.8,680.1 422.3,680.5 422.8,684.9 423,686.7 423.3,683.6 423.8,680.1 424.3,679.6 424.8,679.6 425.3,679.7 425.8,678.2 426.3,678.5 426.8,679.3 427.3,679.6 427.8,679.7 428.3,679.7 428.8,679.8 429.3,679.7 429.8,680 430.3,680.4 430.8,681.6 431.3,681.3 431.8,680.2 432.3,679.8 432.8,679.8 433.3,680.9 433.8,686.9 434,689.8 434.3,685.3 434.8,680.9 435.3,680.6 435.8,684.3 436,686.1 436.3,683.3 436.8,680.5 437.3,680.1 437.8,679.9 438.3,679.4 438.8,677.7 439.3,678.2 439.8,679.3 440.3,679.1 440.8,675.2 441,673.8 441.3,677.1 441.8,679.6 442.3,679.8 442.8,681.9 443.3,681.4 443.8,680.1 444.3,679.8 444.8,679.9 445.3,679.7 445.8,679.9 446.3,680.3 446.8,683.9 447,685 447.3,682.6 447.8,680.5 448.3,681.1 448.8,688.3 449,692.7 449.3,685.4 449.8,680.5 450.3,680.3 450.8,682.7 451,683.8 451.3,681.8 451.8,680 452.3,679.3 452.8,676.8 453,675.9 453.3,677.8 453.8,679.6 454.3,679.8 454.8,679.8 455.3,680.4 455.8,689 456,693.9 456.3,685.5 456.8,680.3 457.3,678.9 457.8,673.8 458,671.7 458.3,675.5 458.8,678.8 459.3,678.4 459.8,674.3 460,672.5 460.3,675.8 460.8,679.3 461.3,679.9 461.8,680.1 462.3,680.3 462.8,682.8 463,684 463.3,682 463.8,680.2 464.3,679.8 464.8,678.3 465.3,678.7 465.8,679.5 466.3,679.7 466.8,679.9 467.3,680 467.8,680 468.3,679.2 468.8,675 469.2,659.9 469.3,662.1 469.8,677.9 470.3,681.9 470.8,681.4 471.3,680 471.8,679.9 472.3,680.4 472.8,683.3 473,684.7 473.3,682.3 473.8,680.3 474.3,679.6 474.8,677.4 475.3,678 475.8,679.5 476.3,679.5 476.8,679.4 477.3,679.9 477.8,679.2 478.3,673 478.6,663.9 478.8,669.7 479.3,679.4 479.8,682.2 480.3,681.5 480.8,679.9 481.3,679.8 481.8,679.6 482.3,679.6 482.8,679.1 483.3,679.3 483.8,680 484.3,679.8 484.8,679.6 485.3,679.8 485.8,679.8 486.3,679.2 486.8,674.7 487,671.8 487.3,676.6 487.8,679.4 488.3,679.6 488.8,680 489.3,679.8 489.8,679.1 490.3,679.2 490.8,679.8 491.3,680.1 491.8,680.2 492.3,679.9 492.8,679.8 493.3,679 493.8,678.1 494.3,678 494.8,678.6 495.3,679.2 495.8,679.3 496.3,679.5 496.8,679.6 497.3,679.6 497.8,679.4 498.3,678.1 498.8,658.4 498.9,654.3 499.3,672 499.8,649.4 500.3,676.8 500.8,679.4 501.3,679.8 501.8,679.8 502.3,680 502.8,679.7 503.3,679.8 503.8,679.5 504.3,679.2 504.8,678.9 505.3,678.8 505.8,678.8 506.3,679.2 506.8,679.4 507.3,679.6 507.8,679.5 508.3,679.5 508.8,679.2 509.3,678.9 509.8,678.7 510.3,678.4 510.8,678.1 511.3,677.7 511.8,677.3 512.3,677.2 512.8,677.3 513.3,677.5 513.8,677.3 514.3,676.7 514.8,675.8 515.3,674.3 515.8,672.8 516,672.7 516.3,672.8 516.8,674.1 517.3,675.1 517.8,675.2 518.3,674.5 518.8,672.8 519.3,670.7 519.8,668.8 519.9,668.8 520.3,669.5 520.8,671.7 521.3,673.3 521.8,673.4 522.3,672.8 522.5,672.8 522.8,673.6 523.3,675.8 523.8,677.3 524.3,678 524.8,678.6 525.3,678.7 525.8,678.9 526.3,679.1 526.8,679 527.3,679 527.8,679.3 528.3,679.7 528.8,679.3 529.3,679.5 529.8,679.6 530.3,679.6 530.8,679.8 531.3,679.8 531.8,678.9 532.3,668.3 532.6,644.9 532.8,660 533.3,678.4 533.8,679.4 534.3,679.4 534.8,678 535.3,678.5 535.8,680 536.3,681.8 536.8,697.5 536.9,699.8 537.3,689.9 537.6,691.1 537.8,687.6 538.3,680.8 538.8,679.4 539.3,676.1 539.8,632 539.9,623.6 540.3,654.7 540.7,598.3 540.8,610.6 541.3,674.6 541.8,679.5 542.3,681.8 542.8,681.3 543.3,679.9 543.8,679.5 544.3,678.9 544.8,670.4 545.2,630.8 545.3,637.8 545.8,675.8 546.3,672.1 546.5,669.7 546.8,674.4 547.3,679.9 547.8,683.5 548,684.2 548.3,682.7 548.8,680.3 549.3,679.8 549.8,679.8 550.3,679.5 550.8,678.3 551.3,678.7 551.8,679.8 552.3,680.5 552.8,684.3 553,685.4 553.3,681.8 553.8,663.1 554.1,628 554.3,650.4 554.8,677.4 555.3,676.3 555.8,634 555.9,625.9 556.3,669.9 556.8,679.5 557.3,682.1 557.8,681.7 558.3,680.5 558.8,680.4 559.3,680.3 559.8,680.1 560.3,679.9 560.8,679.6 561.3,678.8 561.8,678.2 562.3,679.2 562.8,679.6 563.3,679.9 563.8,679.6 564.3,679.6 564.8,679.4 565.3,679.4 565.8,678.9 566.3,679 566.8,679.2 567.3,679.4 567.8,679.9 568.3,680.1 568.8,679.8 569.3,679.7 569.8,679.8 570.3,679.9 570.8,679.9 571.3,680 571.8,680.1 572.3,680 572.8,679.8 573.3,679.5 573.8,679.3 574.3,678.9 574.8,678.5 575.3,678.6 575.8,679.2 576.3,679.5 576.8,679.7 577.3,679.6 577.8,679.5 578.3,679.3 578.8,679.3 579.3,679.1 579.8,679.2 580.3,679.3 580.8,679.3 581.3,679.3 581.8,679.2 582.3,679.3 582.8,679.3 583.3,679.1 583.8,679.1 584.3,678.9 584.8,678.8 585.3,678.8 585.8,678.9 586.3,679 586.8,679 587.3,679 587.8,679 588.3,679.3 588.8,679.4 589.3,679.5 589.8,679.8 590.3,679.8 590.8,680 591.3,680 591.8,679.8 592.3,680 592.8,679.8 593.3,679.6 593.8,679.5 594.3,679.6 594.8,679.4 595.3,679.2 595.8,679.4 596.3,679.6 596.8,679.6 597.3,679.6 597.8,679.4 598.3,679.2 598.8,678.8 599.3,678.7 599.8,678.4 600.3,678.1 600.8,678.1 601.3,677.4 601.8,677.2 602.3,676.8 602.8,676.4 603.3,675.8 603.8,674.9 604.3,673.4 604.8,671.9 605,671.6 605.3,671 605.8,669.9 606.3,667.5 606.8,664 607.3,661.4 607.4,661.3 607.8,662.6 608.3,665.8 608.8,668.3 609.3,669.2 609.8,669.4 610,669.8 610.3,670.9 610.8,672.7 611.3,674.2 611.8,675.2 612.3,675.5 612.8,675.7 613.3,676.1 613.8,676.5 614.3,677.1 614.8,677.8 615.3,678.5 615.8,678.7 616.3,678.8 616.8,679.2 617.3,679 617.8,679.2 618.3,679.5 618.8,679.5 619.3,679.4 619.8,679.4 620.3,679.4 620.8,679.5 621.3,679.2 621.8,679.3 622.3,679.3 622.8,679.3 623.3,679.5 623.8,679.7 624.3,679.9 624.8,679.8 625.3,679.7 625.8,680.2 626.3,680 626.8,680 627.3,680.1 627.8,680.2 628.3,680.3 628.8,680 629.3,679.9 629.8,679.6 630.3,679.7 630.8,679.6 631.3,679.6 631.8,679.7 632.3,679.6 632.8,679.8 633.3,679.5 633.8,679.4 634.3,679.5 634.8,679.3 635.3,679.1 635.8,679.4 636.3,679.5 636.8,679.6 637.3,679.7 637.8,679.8 638.3,679.9 638.8,679.8 639.3,679.9 639.8,680 640.3,679.8 640.8,679.8 641.3,679.9 641.8,679.9 642.3,680 642.8,680 643.3,679.8 643.8,679.9 644.3,679.8 644.8,679.8 645.3,679.9 645.8,679.8 646.3,679.9 646.8,679.9 647.3,680 647.8,680.2 648.3,680.1 648.8,680 649.3,679.8 649.8,680 650.3,680.1 650.8,680 651.3,679.9 651.8,679.7 652.3,679.7 652.8,679.9 653.3,679.8 653.8,679.9 654.3,679.6 654.8,679.7 655.3,679.9 655.8,679.8 656.3,680.2 656.8,680.1 657.3,680.6 657.8,682.8 658.3,691.2 658.8,705.7 659.3,692.2 659.8,684.6 660.3,684.3 660.8,685.4 661,685.3 661.3,684.4 661.8,682.4 662.3,681.1 662.8,680.5 663.3,680.2 663.8,680.1 664.3,680.1 664.8,679.9 665.3,680 665.8,679.9 666.3,679.9 666.8,679.9 667.3,679.9 667.8,679.9 668.3,680 668.8,680.1 669.3,680 669.8,680.1 670.3,680.2 670.8,680.2 671.3,680.3 671.8,680.4 672.3,682.6 672.7,684.8 672.8,684.6 673.3,681.6 673.8,680.5 674.3,680.1 674.8,680.2 675.3,680 675.8,680 676.3,680 676.8,680.1 677.3,680.1 677.8,680.2 678.3,680.1 678.8,680.2 679.3,680.2 679.8,679.9 680.3,679.7 680.8,679.7 681.3,679.7 681.8,680 682.3,679.8 682.8,680.1 683.3,680 683.8,680 684.3,679.9 684.8,679.7 685.3,679.9 685.8,680 686.3,679.8 686.8,680 687.3,680.2 687.8,680.3 688.3,680.5 688.8,680.2 689.3,680.2 689.8,680 690.3,680 690.8,679.7 691.3,680 691.8,680 692.3,680.2 692.8,680.5 693.3,680.4 693.8,680.7 694.3,681.2 694.8,682.5 695.3,682.3 695.8,681.3 696.3,680.8 696.8,680.6 697.3,680.3 697.8,680 698.3,679.9 698.8,680 699.3,680.1 699.8,680.3 700.3,680.2 700.8,680.1 701.3,680.2 701.8,679.8 702.3,679.9 702.8,679.9 703.3,679.9 703.8,680 704.3,680 704.8,680 705.3,680.4 705.8,680.2 706.3,680 706.8,680.1 707.3,680 707.8,679.9 708.3,679.9 708.8,679.9 709.3,679.8 709.8,679.7 710.3,679.6 710.8,679.7 711.3,679.9 711.8,679.8 712.3,679.7 712.8,680 713.3,680.1 713.8,680 714.3,680.2 714.8,680.4 715.3,680.2" fill="none" stroke="url(#g13)" stroke-width="1.0" stroke-linejoin="round" clip-path="url(#k13)"/>
<text x="143.9" y="622.9" font-weight="bold" font-style="italic" font-size="12.5" textLength="52.5" lengthAdjust="spacingAndGlyphs" fill="#111">Atrfc1-2</text>
<text x="143.9" y="719.7" font-weight="bold" font-size="12.5" textLength="33.7" lengthAdjust="spacingAndGlyphs" fill="#111">Col-0</text>
<text x="150.8" y="681.2" text-anchor="middle">62</text>
<polyline points="143.9,660.4 151.5,667.3 159.1,660.4" fill="none" stroke="#2a2a2a" stroke-width="0.9"/>
<text x="228.3" y="696.1" text-anchor="middle">56</text>
<polyline points="228.5,668 228.5,680.7" fill="none" stroke="#2a2a2a" stroke-width="0.9"/>
<text x="259.2" y="696.1" text-anchor="middle">59</text>
<polyline points="259.5,668 259.5,680.7" fill="none" stroke="#2a2a2a" stroke-width="0.9"/>
<text x="268.8" y="713.9" text-anchor="middle">56</text>
<polyline points="277,712.1 289.1,718" fill="none" stroke="#2a2a2a" stroke-width="0.9"/>
<text x="314.5" y="700.7" text-anchor="middle">55</text>
<polyline points="314.5,673.6 314.5,686.3" fill="none" stroke="#2a2a2a" stroke-width="0.9"/>
<text x="326" y="723.6" text-anchor="middle">U6</text>
<polyline points="326.5,704.4 326.5,711.6" fill="none" stroke="#2a2a2a" stroke-width="0.9"/>
<text x="366.5" y="723.9" text-anchor="middle">42</text>
<text x="374.3" y="702.8" text-anchor="middle">40</text>
<polyline points="375.9,692.4 379.1,682" fill="none" stroke="#2a2a2a" stroke-width="0.9"/>
<text x="383.6" y="713.5" text-anchor="middle">39</text>
<text x="390" y="723.1" text-anchor="middle">38</text>
<text x="465.5" y="710.3" text-anchor="middle">sugars &amp; amino acids</text>
<polyline points="414,697.5 478.6,697.5" fill="none" stroke="#2a2a2a" stroke-width="0.9"/>
<text x="498.4" y="637.4" text-anchor="middle">24</text>
<polyline points="498.5,638.6 498.5,650.8" fill="none" stroke="#2a2a2a" stroke-width="0.9"/>
<text x="519.9" y="653.1" text-anchor="middle">31</text>
<polyline points="519.5,655.4 519.5,667.3" fill="none" stroke="#2a2a2a" stroke-width="0.9"/>
<text x="537.4" y="722.3" text-anchor="middle">20</text>
<polyline points="536.5,698.9 536.5,711.1" fill="none" stroke="#2a2a2a" stroke-width="0.9"/>
<text x="572.3" y="655.1" text-anchor="middle">13,18</text>
<polyline points="561.5,656.4 561.5,676.1" fill="none" stroke="#2a2a2a" stroke-width="0.9"/>
<text x="609.4" y="637.4" text-anchor="middle">8,10,11</text>
<polyline points="607.5,641.9 607.5,660.4" fill="none" stroke="#2a2a2a" stroke-width="0.9"/>
<text x="658.8" y="716.7" text-anchor="middle">U1</text>
<text x="672.7" y="707" text-anchor="middle">4</text>
<polyline points="672.5,688.3 672.5,695.1" fill="none" stroke="#2a2a2a" stroke-width="0.9"/>
<text x="695" y="705" text-anchor="middle">53</text>
<polyline points="694.5,685 694.5,692.6" fill="none" stroke="#2a2a2a" stroke-width="0.9"/>
<rect x="715.5" y="605.5" width="10" height="121" fill="url(#jetv)" stroke="#111" stroke-width="1"/>
<polyline points="715.5,713.5 717.3,713.5" fill="none" stroke="#111" stroke-width="0.8"/>
<polyline points="723.7,713.5 725.5,713.5" fill="none" stroke="#111" stroke-width="0.8"/>
<polyline points="715.5,699.5 717.3,699.5" fill="none" stroke="#111" stroke-width="0.8"/>
<polyline points="723.7,699.5 725.5,699.5" fill="none" stroke="#111" stroke-width="0.8"/>
<polyline points="715.5,686.5 717.3,686.5" fill="none" stroke="#111" stroke-width="0.8"/>
<polyline points="723.7,686.5 725.5,686.5" fill="none" stroke="#111" stroke-width="0.8"/>
<polyline points="715.5,673.5 717.3,673.5" fill="none" stroke="#111" stroke-width="0.8"/>
<polyline points="723.7,673.5 725.5,673.5" fill="none" stroke="#111" stroke-width="0.8"/>
<polyline points="715.5,659.5 717.3,659.5" fill="none" stroke="#111" stroke-width="0.8"/>
<polyline points="723.7,659.5 725.5,659.5" fill="none" stroke="#111" stroke-width="0.8"/>
<polyline points="715.5,646.5 717.3,646.5" fill="none" stroke="#111" stroke-width="0.8"/>
<polyline points="723.7,646.5 725.5,646.5" fill="none" stroke="#111" stroke-width="0.8"/>
<polyline points="715.5,633.5 717.3,633.5" fill="none" stroke="#111" stroke-width="0.8"/>
<polyline points="723.7,633.5 725.5,633.5" fill="none" stroke="#111" stroke-width="0.8"/>
<polyline points="715.5,619.5 717.3,619.5" fill="none" stroke="#111" stroke-width="0.8"/>
<polyline points="723.7,619.5 725.5,619.5" fill="none" stroke="#111" stroke-width="0.8"/>
<text x="728.6" y="621.7">0.8</text>
<text x="728.6" y="649.5">0.6</text>
<text x="728.6" y="676.6">0.4</text>
<text x="728.6" y="704">0.2</text>
<text x="728.6" y="730.6">0</text>
<rect x="42.5" y="776.5" width="92" height="92" fill="none" stroke="#222" stroke-width="1"/>
<polyline points="88.5,776.5 88.5,868.5" fill="none" stroke="#222" stroke-width="0.9"/>
<polyline points="42.5,822.5 134.5,822.5" fill="none" stroke="#222" stroke-width="0.9"/>
<ellipse cx="87.9" cy="822.7" rx="41.8" ry="42" fill="none" stroke="#222" stroke-width="1"/>
<ellipse cx="76.2" cy="812.4" rx="3.7" ry="2.8" fill="#000"/>
<ellipse cx="78.4" cy="814.7" rx="3.7" ry="2.8" fill="#000"/>
<ellipse cx="74.7" cy="816.5" rx="3.7" ry="2.8" fill="#000"/>
<ellipse cx="80.3" cy="826.4" rx="3.7" ry="2.8" fill="#000"/>
<ellipse cx="75.6" cy="831.1" rx="3.7" ry="2.8" fill="#000"/>
<ellipse cx="73.2" cy="834.3" rx="3.7" ry="2.8" fill="#000"/>
<polygon points="101.7,796 105.9,799.4 101.7,802.8 97.5,799.4" fill="#0000ff"/>
<polygon points="102.5,808.1 106.7,811.5 102.5,814.9 98.3,811.5" fill="#0000ff"/>
<polygon points="101.3,818.7 105.5,822.1 101.3,825.5 97.1,822.1" fill="#0000ff"/>
<polygon points="102.1,826.6 106.3,830 102.1,833.4 97.9,830" fill="#0000ff"/>
<polygon points="102.9,846.4 107.1,849.8 102.9,853.2 98.7,849.8" fill="#0000ff"/>
<text x="41" y="782.2" text-anchor="end" font-family="Liberation Serif" font-size="8.3" textLength="13.3" lengthAdjust="spacingAndGlyphs" fill="#000">0.5</text>
<text x="41" y="826.1" text-anchor="end" font-family="Liberation Serif" font-size="8.3" textLength="13.3" lengthAdjust="spacingAndGlyphs" fill="#000">0.0</text>
<text x="41" y="870" text-anchor="end" font-family="Liberation Serif" font-size="8.3" textLength="17.9" lengthAdjust="spacingAndGlyphs" fill="#000">-0.5</text>
<text x="60.7" y="881.2" text-anchor="middle" font-family="Liberation Serif" font-size="8.3" textLength="17.9" lengthAdjust="spacingAndGlyphs" fill="#000">-0.4</text>
<text x="87.7" y="881.2" text-anchor="middle" font-family="Liberation Serif" font-size="8.3" textLength="13.3" lengthAdjust="spacingAndGlyphs" fill="#000">0.0</text>
<text x="116.7" y="881.2" text-anchor="middle" font-family="Liberation Serif" font-size="8.3" textLength="13.3" lengthAdjust="spacingAndGlyphs" fill="#000">0.4</text>
<text x="87.7" y="897.2" text-anchor="middle" font-family="Liberation Serif" font-size="9" textLength="21" lengthAdjust="spacingAndGlyphs">t[1]P</text>
<text transform="translate(17.2,822.1) rotate(-90)" text-anchor="middle" font-family="Liberation Serif" font-size="9" textLength="18" lengthAdjust="spacingAndGlyphs">t[2]O</text>
<text x="0.3" y="773.6" font-weight="bold" font-size="17.5" fill="#111">f</text>
<text x="26.8" y="772.7" font-size="12.5" textLength="107.5" lengthAdjust="spacingAndGlyphs">R<tspan font-size="8" dy="-4.5">2</tspan><tspan dy="4.5">X=0.54, Q</tspan><tspan font-size="8" dy="-4.5">2</tspan><tspan dy="4.5">=0.86</tspan></text>
<rect x="140.5" y="765.5" width="254" height="118" fill="none" stroke="#2a2a2a" stroke-width="1"/>
<path d="M148.4,883.5v-2M148.4,765.5v2M164.2,883.5v-2M164.2,765.5v2M172.1,883.5v-2M172.1,765.5v2M180,883.5v-2M180,765.5v2M187.9,883.5v-2M187.9,765.5v2M203.7,883.5v-2M203.7,765.5v2M211.6,883.5v-2M211.6,765.5v2M219.5,883.5v-2M219.5,765.5v2M227.4,883.5v-2M227.4,765.5v2M243.2,883.5v-2M243.2,765.5v2M251.1,883.5v-2M251.1,765.5v2M259,883.5v-2M259,765.5v2M266.9,883.5v-2M266.9,765.5v2M282.7,883.5v-2M282.7,765.5v2M290.6,883.5v-2M290.6,765.5v2M298.5,883.5v-2M298.5,765.5v2M306.4,883.5v-2M306.4,765.5v2M322.2,883.5v-2M322.2,765.5v2M330.1,883.5v-2M330.1,765.5v2M338,883.5v-2M338,765.5v2M345.9,883.5v-2M345.9,765.5v2M361.7,883.5v-2M361.7,765.5v2M369.6,883.5v-2M369.6,765.5v2M377.5,883.5v-2M377.5,765.5v2M385.4,883.5v-2M385.4,765.5v2M156.3,883.5v-3.2M156.3,765.5v3.2M195.8,883.5v-3.2M195.8,765.5v3.2M235.3,883.5v-3.2M235.3,765.5v3.2M274.8,883.5v-3.2M274.8,765.5v3.2M314.3,883.5v-3.2M314.3,765.5v3.2M353.8,883.5v-3.2M353.8,765.5v3.2M393.3,883.5v-3.2M393.3,765.5v3.2" stroke="#2a2a2a" stroke-width="0.8" fill="none"/>
<text x="153.6" y="899.3" text-anchor="middle">9</text>
<text x="188.7" y="899.3" text-anchor="middle">8.5</text>
<text x="233.6" y="899.3" text-anchor="middle">8</text>
<text x="274.5" y="899.3" text-anchor="middle">7.5</text>
<text x="311.6" y="899.3" text-anchor="middle">7</text>
<text x="354.2" y="899.3" text-anchor="middle">6.5</text>
<text x="392.3" y="899.3" text-anchor="middle">6</text>
<polyline points="140.6,824.3 141.1,824.3 141.6,824.7 142.1,824.6 142.6,824.4 143.1,824.4 143.6,824.3 144.1,824.5 144.6,824.5 145.1,824.1 145.6,824.3 146.1,824.6 146.6,824.6 147.1,824.6 147.6,824.7 148.1,824.6 148.6,824.5 149.1,824.3 149.6,824.2 150.1,824.1 150.6,824 151.1,824.1 151.6,824.4 152.1,824.5 152.6,824.3 153.1,824 153.6,823.9 154.1,823.9 154.6,824 155.1,824.3 155.6,824.5 156.1,824.5 156.6,824.3 157.1,824.2 157.6,824.3 158.1,824.3 158.6,824.5 159.1,824.3 159.6,824.1 160.1,824 160.6,824 161.1,824.3 161.6,824.7 162.1,824.5 162.6,824.5 163.1,824.6 163.6,824.5 164.1,824.4 164.6,824.4 165.1,824.4 165.6,824.3 166.1,824.3 166.6,824.3 167.1,824.3 167.6,824.5 168.1,824.6 168.6,824.4 169.1,824.4 169.6,824.5 170.1,824.4 170.6,824.6 171.1,824.3 171.6,824.4 172.1,824.2 172.6,824.3 173.1,824.1 173.6,824.3 174.1,824.5 174.6,824.5 175.1,824.5 175.6,824.4 176.1,824.2 176.6,824.3 177.1,824.2 177.6,823.9 178.1,823.8 178.6,824.2 179.1,824.3 179.6,824.3 180.1,824.4 180.6,824.4 181.1,824.5 181.6,824.5 182.1,824.6 182.6,824.5 183.1,824.4 183.6,824.4 184.1,824.3 184.6,824.3 185.1,824 185.6,824.1 186.1,824.1 186.6,824.1 187.1,824.1 187.6,823.8 188.1,823.8 188.6,823.8 189.1,824.1 189.6,824 190.1,824.1 190.6,824.4 191.1,824.4 191.6,824.4 192.1,824.4 192.6,824.2 193.1,824.5 193.6,824.3 194.1,824.1 194.6,824.1 195.1,824.2 195.6,824.1 196.1,823.9 196.6,824 197.1,824.2 197.6,824 198.1,824.2 198.6,824.3 199.1,824.3 199.6,824.2 200.1,824.2 200.6,824.4 201.1,824.5 201.6,824.5 202.1,824.4 202.6,824.2 203.1,824.2 203.6,824.4 204.1,824.5 204.6,824.3 205.1,824.2 205.6,823.8 206.1,823.3 206.6,824 207.1,824.1 207.6,824.2 208.1,824.4 208.6,824.5 209.1,824.4 209.6,824.7 210.1,824.6 210.6,824.6 211.1,824.6 211.6,824.2 212.1,824.1 212.6,824.1 213.1,824.3 213.6,824.3 214.1,824.4 214.6,824.3 215.1,824.4 215.6,824.2 216.1,824.1 216.6,824.3 217.1,824.2 217.6,824.4 218.1,824.4 218.6,824.7 219.1,824.6 219.6,824.5 220.1,824.5 220.6,824.5 221.1,824.3 221.6,824.2 222.1,824.1 222.6,824.2 223.1,824.3 223.6,824.3 224.1,824.4 224.6,824.4 225.1,824.5 225.6,824.5 226.1,824.3 226.6,824.4 227.1,824.1 227.6,824.1 228.1,824.3 228.6,824 229.1,823.9 229.6,823.8 230.1,824 230.6,824.1 231.1,824 231.6,823.7 232.1,823.5 232.6,823.4 233.1,823.6 233.6,823.8 234.1,824.1 234.6,824.2 235.1,824.2 235.6,823.6 236.1,822.5 236.6,824 237.1,824.3 237.6,824.6 238.1,824.9 238.6,826 239.1,827.2 239.6,825.5 240.1,824.6 240.6,823 241,820.3 241.1,820.8 241.6,824 242.1,824.9 242.6,828.1 243,832.4 243.1,831.5 243.6,827.5 244,829.3 244.1,828.5 244.6,822.5 245,818.1 245.1,818.4 245.6,823.1 246.1,824.3 246.6,825.7 247.1,827.2 247.6,825 248.1,824.2 248.6,822.7 249,820.5 249.1,820.6 249.6,823.5 250.1,823.6 250.6,823.4 251.1,822.8 251.6,822.2 252.1,822.1 252.6,822.9 253.1,823.5 253.6,823.9 254.1,823.9 254.6,824 255.1,823.8 255.6,823.3 256.1,823 256.6,823.6 257.1,824 257.6,824 258.1,824 258.6,824.1 259.1,824.4 259.6,824.5 260.1,824.5 260.6,824.5 261.1,824.1 261.6,822.9 262,820.9 262.1,821.2 262.6,823.8 263.1,824.7 263.6,825.7 264.1,827 264.6,826.2 265.1,826.2 265.6,827.3 266.1,829.9 266.6,834.5 266.8,835.2 267.1,834.3 267.6,834.1 267.8,834.6 268.1,830.8 268.6,827.9 269.1,827.9 269.6,825.2 270.1,823.9 270.6,821.2 271,818.1 271.1,818.3 271.6,820.7 272.1,819.8 272.6,815.9 273.1,812.6 273.6,814.1 274,813.8 274.1,815 274.6,820.3 275.1,821.3 275.6,821.7 276.1,823 276.6,823.7 277.1,824.2 277.6,824.4 278.1,824.5 278.6,825.1 279.1,825.8 279.6,827.4 280,828.3 280.1,828.3 280.6,827.1 281.1,825.9 281.6,825.3 282.1,825.1 282.6,824.9 283.1,824.8 283.6,824.5 284.1,824.2 284.6,823.8 285.1,823.6 285.6,823.8 286.1,823.8 286.6,824 287.1,824.1 287.6,823.9 288.1,824 288.6,824 289.1,823.7 289.6,823.4 290.1,823.4 290.6,823.7 291.1,823.9 291.6,824.2 292.1,824.4 292.6,824.4 293.1,824.4 293.6,824.1 294.1,823.7 294.6,823.8 295.1,823.5 295.6,823.3 296.1,823.4 296.6,823.6 297.1,823.5 297.6,823.6 298.1,823.9 298.6,823.7 299.1,823.9 299.6,823.8 300.1,824.1 300.6,824.1 301.1,824.2 301.6,825.2 302.1,826 302.6,824.8 303.1,824.6 303.6,825.9 304,828.1 304.1,828.1 304.6,825.6 305.1,826.6 305.5,830.2 305.6,829.7 306.1,824.8 306.6,824 307.1,823.2 307.6,822.7 308.1,821.9 308.6,822.5 309.1,823 309.6,822.7 310.1,821.7 310.6,819.9 311,818.8 311.1,818.9 311.6,820.9 312.1,823 312.6,824.7 313.1,826.3 313.6,827.6 314.1,827.2 314.6,827.1 315.1,828.1 315.6,830.8 316,832.1 316.1,831.8 316.6,829.6 317.1,827.7 317.6,831.6 318,837.3 318.1,836.4 318.6,827.9 319.1,825.7 319.6,830.6 320.1,865.4 320.5,858.7 320.6,853 321.1,843.5 321.2,843.9 321.6,820.8 321.9,809.6 322.1,812.5 322.6,820.1 323.1,819.2 323.5,818.1 323.6,818.3 324.1,820.4 324.6,822.1 325.1,822.6 325.6,821.1 326,818.7 326.1,818.7 326.6,822.1 327.1,823.1 327.6,823.2 328.1,822.8 328.6,822.4 329.1,822.1 329.6,822.5 330.1,823.2 330.6,823.4 331.1,823.4 331.6,823.3 332.1,823.2 332.6,823.6 333.1,824.3 333.6,824.3 334.1,824.7 334.6,824.9 335.1,825.2 335.6,826 336.1,826.2 336.6,825.6 337.1,825.1 337.6,825.3 338.1,826.3 338.6,827.5 339,828.6 339.1,828.7 339.6,827.7 340.1,827.1 340.6,828.1 341.1,829.7 341.5,830.7 341.6,830.8 342.1,829.1 342.6,828.1 343.1,828.1 343.6,828 344.1,826.8 344.6,825.4 345.1,824.1 345.6,823.1 346.1,822.2 346.6,822.7 347.1,823 347.6,822.9 348.1,822.1 348.6,820.2 349,819.3 349.1,819.5 349.6,821.3 350.1,822.7 350.6,823 351.1,821.8 351.5,820.1 351.6,820.2 352.1,822.9 352.6,822.4 353.1,809.8 353.2,807.9 353.6,819.8 354.1,823.3 354.6,822.3 355.1,821.2 355.6,823.4 356.1,824.6 356.6,827.2 357,830.3 357.1,829.8 357.6,825.4 358.1,824.3 358.6,824.4 359.1,825.1 359.6,830.1 360.1,849.5 360.6,845.2 361.1,829.1 361.5,829.5 361.6,829 362.1,824.4 362.6,822.8 363.1,818 363.6,806.8 364.1,817.4 364.6,821.1 365.1,820.3 365.5,819.3 365.6,819.5 366.1,821.4 366.6,822.7 367.1,823.3 367.6,823.8 368.1,824.1 368.6,823.9 369.1,823.9 369.6,823.9 370.1,823.9 370.6,824.1 371.1,824.1 371.6,824.2 372.1,824.2 372.6,824.2 373.1,824.1 373.6,824 374.1,824 374.6,824.4 375.1,824.3 375.6,824.3 376.1,824.5 376.6,824.4 377.1,824.4 377.6,824.2 378.1,824.4 378.6,824.3 379.1,824.8 379.6,826 380,828.7 380.1,828 380.6,824.7 381.1,824.4 381.6,824.4 382.1,824.4 382.6,824.3 383.1,824.5 383.6,824.3 384.1,824.3 384.6,824.3 385.1,824.2 385.6,824.4 386.1,824.1 386.6,824 387.1,823.9 387.6,824 388.1,824.2 388.6,824.4 389.1,824.4 389.6,824.4 390.1,824.4 390.6,824.6 391.1,824.5 391.6,824.6 392.1,824.5 392.6,824.4 393.1,824.4 393.6,824.3 394.1,824.5" fill="none" stroke="url(#g14)" stroke-width="1.0" stroke-linejoin="round" clip-path="url(#k14)"/>
<rect x="399.5" y="764.5" width="316" height="119" fill="none" stroke="#2a2a2a" stroke-width="1"/>
<path d="M407.5,883.5v-2M407.5,764.5v2M415.8,883.5v-2M415.8,764.5v2M424.2,883.5v-2M424.2,764.5v2M440.8,883.5v-2M440.8,764.5v2M449.2,883.5v-2M449.2,764.5v2M457.5,883.5v-2M457.5,764.5v2M465.9,883.5v-2M465.9,764.5v2M482.6,883.5v-2M482.6,764.5v2M490.9,883.5v-2M490.9,764.5v2M499.3,883.5v-2M499.3,764.5v2M507.6,883.5v-2M507.6,764.5v2M524.3,883.5v-2M524.3,764.5v2M532.7,883.5v-2M532.7,764.5v2M541,883.5v-2M541,764.5v2M549.4,883.5v-2M549.4,764.5v2M566,883.5v-2M566,764.5v2M574.4,883.5v-2M574.4,764.5v2M582.7,883.5v-2M582.7,764.5v2M591.1,883.5v-2M591.1,764.5v2M607.8,883.5v-2M607.8,764.5v2M616.1,883.5v-2M616.1,764.5v2M624.5,883.5v-2M624.5,764.5v2M632.8,883.5v-2M632.8,764.5v2M649.5,883.5v-2M649.5,764.5v2M657.9,883.5v-2M657.9,764.5v2M666.2,883.5v-2M666.2,764.5v2M674.6,883.5v-2M674.6,764.5v2M691.2,883.5v-2M691.2,764.5v2M699.6,883.5v-2M699.6,764.5v2M707.9,883.5v-2M707.9,764.5v2M432.5,883.5v-3.2M432.5,764.5v3.2M474.2,883.5v-3.2M474.2,764.5v3.2M516,883.5v-3.2M516,764.5v3.2M557.7,883.5v-3.2M557.7,764.5v3.2M599.4,883.5v-3.2M599.4,764.5v3.2M641.2,883.5v-3.2M641.2,764.5v3.2M682.9,883.5v-3.2M682.9,764.5v3.2" stroke="#2a2a2a" stroke-width="0.8" fill="none"/>
<text x="432.5" y="900" text-anchor="middle">4</text>
<text x="474.2" y="900" text-anchor="middle">3.5</text>
<text x="516" y="900" text-anchor="middle">3</text>
<text x="557.7" y="900" text-anchor="middle">2.5</text>
<text x="599.4" y="900" text-anchor="middle">2</text>
<text x="641.2" y="900" text-anchor="middle">1.5</text>
<text x="682.9" y="900" text-anchor="middle">1</text>
<polyline points="400.1,824.1 400.6,824.3 401.1,824.3 401.6,824.6 402.1,824.5 402.6,824.7 403.1,824.5 403.6,824.5 404.1,824.4 404.6,824.1 405.1,824.3 405.6,824.2 406.1,824.3 406.6,824.4 407.1,824.4 407.6,824.5 408.1,824.3 408.6,824.4 409.1,824.4 409.6,825.2 410.1,826.2 410.6,824.9 411.1,824.6 411.6,824.5 412.1,824.2 412.6,824.4 413.1,824.5 413.6,824.4 414.1,824.5 414.6,824.5 415.1,824.2 415.6,824.1 416.1,824.6 416.6,824 417.1,823.2 417.6,824.2 418.1,824.2 418.6,824.3 419.1,824.2 419.6,824.2 420.1,824.5 420.6,824.4 421.1,824.4 421.6,824.2 422.1,824.5 422.6,825.1 423.1,826.3 423.6,824.9 424.1,824.4 424.6,824.4 425.1,824.4 425.6,824.2 426.1,824.1 426.6,824.2 427.1,824.2 427.6,824.2 428.1,824.3 428.6,824.3 429.1,824.1 429.6,823.9 430.1,823.2 430.6,824.2 431.1,824.4 431.6,824.3 432.1,824.2 432.6,824 433.1,824 433.6,824.4 434.1,824.5 434.6,824.3 435.1,824.4 435.6,824.6 436.1,824.5 436.6,824.5 437.1,824.2 437.6,824.2 438.1,824.3 438.6,824.1 439.1,824 439.6,823.4 440.1,821.6 440.6,823.8 441.1,824 441.6,824.1 442.1,824.3 442.6,824.4 443.1,824.3 443.6,824.2 444.1,824.1 444.6,824.2 445.1,824.1 445.6,823.2 446.1,822.3 446.6,823.8 447.1,824.3 447.6,824.5 448.1,824.4 448.6,824.4 449.1,824.5 449.6,824.1 450.1,824.2 450.6,824.3 451.1,824.4 451.6,825.1 452.1,826.2 452.6,825 453.1,824.6 453.6,826.1 454,829.2 454.1,829 454.6,825.3 455.1,824.3 455.6,822.9 456.1,821.4 456.6,823.4 457.1,824.1 457.6,823.7 458.1,823 458.6,818.7 459,813.1 459.1,813.6 459.6,821.4 460.1,823.4 460.6,822.1 461,820.3 461.1,820.5 461.6,823.3 462.1,823.9 462.6,823.3 463.1,822.2 463.6,823.5 464.1,824.2 464.6,824.4 465.1,824.4 465.6,824.2 466.1,823.9 466.6,823.5 467.1,822 467.6,817.6 467.7,817.6 468.1,820.5 468.6,823.3 469.1,823.6 469.6,822.7 470.1,821.3 470.6,823.1 471.1,824.1 471.6,824.4 472.1,824.5 472.6,824.6 473.1,824.2 473.6,824.1 474.1,824.3 474.6,824.5 475.1,824.5 475.6,822.8 476,819.8 476.1,820 476.6,823.6 477.1,824.2 477.6,824.2 478.1,824.3 478.6,823.6 479.1,822.6 479.6,824 480.1,824.4 480.6,824.5 481.1,824.5 481.6,824.4 482.1,824.5 482.6,824.6 483.1,825.1 483.6,826 484.1,826.5 484.6,825.8 485.1,825.2 485.6,824.6 486.1,824.5 486.6,824.4 487.1,824.1 487.6,824.5 488.1,824.8 488.6,825 489.1,824.9 489.6,825.2 490.1,825.2 490.6,825 491.1,824.6 491.6,824.6 492.1,824.5 492.6,824.3 493.1,824.2 493.6,824.5 494.1,824.4 494.6,824.5 495.1,824.5 495.6,824.4 496.1,824.1 496.6,824.1 497.1,824.1 497.6,823.8 498.1,817.4 498.4,804.1 498.6,812.7 499.1,823.3 499.6,823.6 500.1,823.8 500.6,823.9 501.1,824 501.6,824.1 502.1,824 502.6,824.1 503.1,824.1 503.6,823.6 504.1,823.1 504.6,823.7 505.1,824 505.6,824 506.1,824 506.6,824.1 507.1,824.1 507.6,824.2 508.1,824.4 508.6,824.4 509.1,824.4 509.6,824.3 510.1,824.2 510.6,824.2 511.1,824 511.6,823.3 512.1,822.5 512.6,823.5 513.1,823.9 513.6,824.2 514.1,824.4 514.6,825.3 515.1,826.5 515.6,824.9 516.1,824.3 516.6,824.2 517.1,824 517.6,824.4 518.1,824.3 518.6,824.5 519.1,824.7 519.6,825.5 520.1,826.9 520.6,824.9 521.1,824.4 521.6,823.9 522.1,824.2 522.6,824 523.1,824 523.6,824 524.1,824.1 524.6,824.1 525.1,824 525.6,824.3 526.1,824.2 526.6,824 527.1,823.7 527.6,823.1 528.1,822.7 528.6,823.1 529.1,823.3 529.6,823.6 530.1,823.6 530.6,823.2 531.1,821 531.6,813.9 531.8,812.1 532.1,815.4 532.6,821.5 533.1,823.1 533.6,822.8 534.1,821.9 534.6,823.5 535.1,823.9 535.6,824.6 536.1,831.5 536.4,842.2 536.6,835.4 537.1,825.1 537.6,824.1 538.1,823.8 538.6,820.1 539.1,764.7 539.2,759.4 539.6,889.5 540.1,832.7 540.6,831.5 541,849.5 541.1,846.4 541.6,826.1 542.1,821.6 542.5,816.7 542.6,817.4 543.1,829.1 543.5,848.5 543.6,845.2 544.1,811.8 544.5,744.7 544.6,756.3 545.1,819.6 545.6,824.6 546.1,828 546.5,832.1 546.6,831.4 547.1,825.7 547.6,822.4 548,819.5 548.1,819.8 548.6,823.1 549.1,824.2 549.6,824.5 550.1,825.1 550.6,830.7 550.8,834.4 551.1,828.8 551.6,824.5 552.1,824.6 552.6,825.3 553.1,834.4 553.3,839.7 553.6,822 553.9,797.4 554.1,808.9 554.6,822.9 555.1,818.4 555.5,792.5 555.6,797 556.1,822.5 556.6,825.5 557.1,827.3 557.6,825.3 558.1,824.6 558.6,824.2 559.1,824.4 559.6,825.1 560.1,826.1 560.6,824.9 561.1,824.6 561.6,824.6 562.1,825.1 562.6,825.7 563.1,825.7 563.6,825.2 564.1,824.6 564.6,824.4 565.1,824.4 565.6,824.4 566.1,824.6 566.6,824.4 567.1,824.6 567.6,824.4 568.1,824.5 568.6,824.4 569.1,824.4 569.6,824.1 570.1,824 570.6,824.1 571.1,823.7 571.6,823.2 572.1,823 572.6,823.1 573.1,823.6 573.6,823.9 574.1,824 574.6,824.3 575.1,824.3 575.6,824.5 576.1,824.5 576.6,824.6 577.1,824.3 577.6,824.3 578.1,824.5 578.6,824.6 579.1,824.3 579.6,824.4 580.1,824.4 580.6,824.3 581.1,824.1 581.6,824.1 582.1,823.8 582.6,823.9 583.1,824 583.6,824.1 584.1,824.1 584.6,824.1 585.1,824.1 585.6,824.2 586.1,825.2 586.6,827.2 587.1,825.3 587.6,824.7 588.1,824.3 588.6,824.1 589.1,824.3 589.6,824.2 590.1,824.6 590.6,824.6 591.1,824.4 591.6,824.3 592.1,824.4 592.6,824.3 593.1,824.4 593.6,824 594.1,824.1 594.6,824.2 595.1,824.2 595.6,824 596.1,824.1 596.6,824 597.1,824.2 597.6,824.3 598.1,824.3 598.6,824.3 599.1,824 599.6,824 600.1,824 600.6,824 601.1,824.2 601.6,823.8 602.1,824 602.6,824.2 603.1,824.1 603.6,823.8 604.1,823.4 604.6,822.6 605.1,820.8 605.6,819.3 606.1,820.8 606.6,822.3 607.1,823.2 607.6,823.6 608.1,823.9 608.6,824 609.1,824 609.6,824 610.1,823.8 610.6,823.9 611.1,823.9 611.6,824 612.1,824.1 612.6,824.3 613.1,824.2 613.6,824.4 614.1,824.5 614.6,824.4 615.1,824.3 615.6,824.4 616.1,824.3 616.6,824.2 617.1,824.3 617.6,824.3 618.1,824.2 618.6,824.3 619.1,824.1 619.6,823.8 620.1,823.6 620.6,823.7 621.1,824.2 621.6,824.2 622.1,824.4 622.6,824.4 623.1,824.5 623.6,824.3 624.1,824.2 624.6,824 625.1,824 625.6,824.5 626.1,824.4 626.6,824.1 627.1,824.1 627.6,824.3 628.1,824.4 628.6,824.7 629.1,824.3 629.6,824.5 630.1,824.6 630.6,824.8 631.1,824.5 631.6,824.4 632.1,824.5 632.6,824.4 633.1,824.2 633.6,824.4 634.1,824.4 634.6,824.4 635.1,824.5 635.6,824.5 636.1,824.2 636.6,824.2 637.1,823.9 637.6,824.1 638.1,824 638.6,824.2 639.1,824.4 639.6,824.1 640.1,824.3 640.6,824.3 641.1,824.6 641.6,824.4 642.1,824.5 642.6,824.4 643.1,824.4 643.6,824.4 644.1,824.1 644.6,824 645.1,824.3 645.6,824.3 646.1,824.2 646.6,824.3 647.1,824.2 647.6,824 648.1,823.9 648.6,824.2 649.1,824.3 649.6,824.3 650.1,824.3 650.6,824.1 651.1,823.9 651.6,824 652.1,824.2 652.6,824 653.1,824.2 653.6,824.6 654.1,824.5 654.6,824.6 655.1,824.4 655.6,824.4 656.1,824.3 656.6,824.4 657.1,824.3 657.6,824.3 658.1,825.2 658.5,829 658.6,828.7 659.1,824.1 659.6,821.8 660.1,824 660.6,824.2 661.1,824.1 661.6,824.1 662.1,824.1 662.6,823.9 663.1,823.9 663.6,824.1 664.1,824.4 664.6,824.5 665.1,824.4 665.6,824.3 666.1,824.1 666.6,824.4 667.1,824.3 667.6,824.1 668.1,824.4 668.6,824.1 669.1,824.3 669.6,824.5 670.1,824.3 670.6,824.2 671.1,824 671.6,824.2 672.1,824.2 672.6,824.4 673.1,824.2 673.6,824.3 674.1,824.4 674.6,824.2 675.1,824.4 675.6,824.3 676.1,824.2 676.6,824 677.1,824.1 677.6,824 678.1,824.1 678.6,824 679.1,823.9 679.6,824.1 680.1,824 680.6,824.3 681.1,824.2 681.6,824.2 682.1,824.2 682.6,824.1 683.1,824.3 683.6,824.4 684.1,824.4 684.6,824.3 685.1,824.4 685.6,824.2 686.1,824.2 686.6,824.3 687.1,824 687.6,823.8 688.1,824 688.6,824.1 689.1,824.2 689.6,824.2 690.1,824 690.6,824.2 691.1,824.1 691.6,824.3 692.1,824.2 692.6,824.2 693.1,824.3 693.6,824.4 694.1,824.3 694.6,824.2 695.1,824.3 695.6,824.3 696.1,824.2 696.6,824.2 697.1,824.1 697.6,824.2 698.1,824.1 698.6,824.3 699.1,824 699.6,824 700.1,824.2 700.6,823.9 701.1,824 701.6,824.1 702.1,824.2 702.6,824 703.1,823.8 703.6,823.9 704.1,824.1 704.6,824.3 705.1,824.2 705.6,824.6 706.1,824.6 706.6,824.4 707.1,824.2 707.6,824.4 708.1,824.4 708.6,824.7 709.1,824.8 709.6,824.6 710.1,824.6 710.6,824.7 711.1,824.6 711.6,824.7 712.1,824.3 712.6,824.3 713.1,824.2 713.6,824.2 714.1,824 714.6,824.1" fill="none" stroke="url(#g15)" stroke-width="1.0" stroke-linejoin="round" clip-path="url(#k15)"/>
<text x="143.9" y="783.5" font-weight="bold" font-style="italic" font-size="12.5" textLength="63.4" lengthAdjust="spacingAndGlyphs" fill="#111">Atpol2a-2</text>
<text x="143.9" y="879.3" font-weight="bold" font-size="12.5" textLength="33.7" lengthAdjust="spacingAndGlyphs" fill="#111">Col-0</text>
<text x="458.3" y="789.3" text-anchor="middle">23</text>
<polyline points="459.5,793.1 459.5,812.1" fill="none" stroke="#2a2a2a" stroke-width="0.9"/>
<text x="469.7" y="801.3" text-anchor="middle">30</text>
<polyline points="467.5,803.8 467.5,817.2" fill="none" stroke="#2a2a2a" stroke-width="0.9"/>
<text x="529.3" y="786.8" text-anchor="middle">21</text>
<polyline points="531.5,787.6 531.5,810.4" fill="none" stroke="#2a2a2a" stroke-width="0.9"/>
<text x="531.8" y="870.4" text-anchor="middle">20</text>
<polyline points="536.5,846.3 536.5,859" fill="none" stroke="#2a2a2a" stroke-width="0.9"/>
<text x="561.7" y="855.2" text-anchor="middle">13,18</text>
<polyline points="558.5,828.6 558.5,845.1" fill="none" stroke="#2a2a2a" stroke-width="0.9"/>
<text x="605.6" y="788.6" text-anchor="middle">10,11</text>
<polyline points="605.5,793.6 605.5,818.5" fill="none" stroke="#2a2a2a" stroke-width="0.9"/>
<text x="595.5" y="864.6" text-anchor="middle">13,15</text>
<polyline points="586.5,827.3 586.5,852.7" fill="none" stroke="#2a2a2a" stroke-width="0.9"/>
<rect x="715.5" y="764.5" width="10" height="119" fill="url(#jetv)" stroke="#111" stroke-width="1"/>
<polyline points="715.5,870.5 717.3,870.5" fill="none" stroke="#111" stroke-width="0.8"/>
<polyline points="723.7,870.5 725.5,870.5" fill="none" stroke="#111" stroke-width="0.8"/>
<polyline points="715.5,857.5 717.3,857.5" fill="none" stroke="#111" stroke-width="0.8"/>
<polyline points="723.7,857.5 725.5,857.5" fill="none" stroke="#111" stroke-width="0.8"/>
<polyline points="715.5,844.5 717.3,844.5" fill="none" stroke="#111" stroke-width="0.8"/>
<polyline points="723.7,844.5 725.5,844.5" fill="none" stroke="#111" stroke-width="0.8"/>
<polyline points="715.5,831.5 717.3,831.5" fill="none" stroke="#111" stroke-width="0.8"/>
<polyline points="723.7,831.5 725.5,831.5" fill="none" stroke="#111" stroke-width="0.8"/>
<polyline points="715.5,817.5 717.3,817.5" fill="none" stroke="#111" stroke-width="0.8"/>
<polyline points="723.7,817.5 725.5,817.5" fill="none" stroke="#111" stroke-width="0.8"/>
<polyline points="715.5,804.5 717.3,804.5" fill="none" stroke="#111" stroke-width="0.8"/>
<polyline points="723.7,804.5 725.5,804.5" fill="none" stroke="#111" stroke-width="0.8"/>
<polyline points="715.5,791.5 717.3,791.5" fill="none" stroke="#111" stroke-width="0.8"/>
<polyline points="723.7,791.5 725.5,791.5" fill="none" stroke="#111" stroke-width="0.8"/>
<polyline points="715.5,778.5 717.3,778.5" fill="none" stroke="#111" stroke-width="0.8"/>
<polyline points="723.7,778.5 725.5,778.5" fill="none" stroke="#111" stroke-width="0.8"/>
<text x="728.6" y="781.7">0.8</text>
<text x="728.6" y="808.8">0.6</text>
<text x="728.6" y="834.9">0.4</text>
<text x="728.6" y="861.5">0.2</text>
<text x="728.6" y="888.1">0</text>
<rect x="41.5" y="934.5" width="93" height="94" fill="none" stroke="#222" stroke-width="1"/>
<polyline points="88.5,934.5 88.5,1028.5" fill="none" stroke="#222" stroke-width="0.9"/>
<polyline points="41.5,981.5 134.5,981.5" fill="none" stroke="#222" stroke-width="0.9"/>
<ellipse cx="88.2" cy="981.3" rx="41.9" ry="42.9" fill="none" stroke="#222" stroke-width="1"/>
<ellipse cx="75.4" cy="950.9" rx="3.7" ry="2.8" fill="#000"/>
<ellipse cx="74.8" cy="973.3" rx="3.7" ry="2.8" fill="#000"/>
<ellipse cx="75.6" cy="974.5" rx="3.7" ry="2.8" fill="#000"/>
<ellipse cx="75.2" cy="989.2" rx="3.7" ry="2.8" fill="#000"/>
<ellipse cx="74.8" cy="991.6" rx="3.7" ry="2.8" fill="#000"/>
<ellipse cx="75.2" cy="1008.4" rx="3.7" ry="2.8" fill="#000"/>
<polygon points="100.8,968.4 105.5,975.6 96.1,975.6" fill="#ff0000"/>
<polygon points="101.2,973.1 105.9,980.3 96.5,980.3" fill="#ff0000"/>
<polygon points="100.4,977.7 105.1,984.9 95.7,984.9" fill="#ff0000"/>
<polygon points="101,981.5 105.7,988.7 96.3,988.7" fill="#ff0000"/>
<polygon points="100.8,986.1 105.5,993.3 96.1,993.3" fill="#ff0000"/>
<text x="39.4" y="958.6" text-anchor="end" font-family="Liberation Serif" font-size="8.3" textLength="13.3" lengthAdjust="spacingAndGlyphs" fill="#000">0.2</text>
<text x="39.4" y="984.8" text-anchor="end" font-family="Liberation Serif" font-size="8.3" textLength="13.3" lengthAdjust="spacingAndGlyphs" fill="#000">0.0</text>
<text x="39.4" y="1010.9" text-anchor="end" font-family="Liberation Serif" font-size="8.3" textLength="17.9" lengthAdjust="spacingAndGlyphs" fill="#000">-0.2</text>
<text x="53.2" y="1040.4" text-anchor="middle" font-family="Liberation Serif" font-size="8.3" textLength="17.9" lengthAdjust="spacingAndGlyphs" fill="#000">-1.0</text>
<text x="88.3" y="1040.4" text-anchor="middle" font-family="Liberation Serif" font-size="8.3" textLength="13.3" lengthAdjust="spacingAndGlyphs" fill="#000">0.0</text>
<text x="123.2" y="1040.4" text-anchor="middle" font-family="Liberation Serif" font-size="8.3" textLength="13.3" lengthAdjust="spacingAndGlyphs" fill="#000">1.0</text>
<text x="87.7" y="1056.4" text-anchor="middle" font-family="Liberation Serif" font-size="9" textLength="21" lengthAdjust="spacingAndGlyphs">t[1]P</text>
<text transform="translate(15.3,982.7) rotate(-90)" text-anchor="middle" font-family="Liberation Serif" font-size="9" textLength="18" lengthAdjust="spacingAndGlyphs">t[2]O</text>
<text x="0.5" y="931.3" font-weight="bold" font-size="17.5" fill="#111">g</text>
<text x="26.8" y="931.9" font-size="12.5" textLength="107.5" lengthAdjust="spacingAndGlyphs">R<tspan font-size="8" dy="-4.5">2</tspan><tspan dy="4.5">X=0.89, Q</tspan><tspan font-size="8" dy="-4.5">2</tspan><tspan dy="4.5">=0.99</tspan></text>
<rect x="140.5" y="921.5" width="214" height="122" fill="none" stroke="#2a2a2a" stroke-width="1"/>
<path d="M152.2,1043.5v-2M152.2,921.5v2M159.2,1043.5v-2M159.2,921.5v2M166.2,1043.5v-2M166.2,921.5v2M173.1,1043.5v-2M173.1,921.5v2M187.1,1043.5v-2M187.1,921.5v2M194.1,1043.5v-2M194.1,921.5v2M201.1,1043.5v-2M201.1,921.5v2M208.1,1043.5v-2M208.1,921.5v2M222.1,1043.5v-2M222.1,921.5v2M229,1043.5v-2M229,921.5v2M236,1043.5v-2M236,921.5v2M243,1043.5v-2M243,921.5v2M257,1043.5v-2M257,921.5v2M264,1043.5v-2M264,921.5v2M271,1043.5v-2M271,921.5v2M277.9,1043.5v-2M277.9,921.5v2M291.9,1043.5v-2M291.9,921.5v2M298.9,1043.5v-2M298.9,921.5v2M305.9,1043.5v-2M305.9,921.5v2M312.9,1043.5v-2M312.9,921.5v2M326.9,1043.5v-2M326.9,921.5v2M333.8,1043.5v-2M333.8,921.5v2M340.8,1043.5v-2M340.8,921.5v2M347.8,1043.5v-2M347.8,921.5v2M145.2,1043.5v-3.2M145.2,921.5v3.2M180.1,1043.5v-3.2M180.1,921.5v3.2M215.1,1043.5v-3.2M215.1,921.5v3.2M250,1043.5v-3.2M250,921.5v3.2M284.9,1043.5v-3.2M284.9,921.5v3.2M319.9,1043.5v-3.2M319.9,921.5v3.2" stroke="#2a2a2a" stroke-width="0.8" fill="none"/>
<text x="145.2" y="1057.7" text-anchor="middle">9</text>
<text x="180.1" y="1057.7" text-anchor="middle">8.5</text>
<text x="215.1" y="1057.7" text-anchor="middle">8</text>
<text x="250" y="1057.7" text-anchor="middle">7.5</text>
<text x="284.9" y="1057.7" text-anchor="middle">7</text>
<text x="319.9" y="1057.7" text-anchor="middle">6.5</text>
<text x="354.8" y="1057.7" text-anchor="middle">6</text>
<polyline points="140.6,972.6 141.1,972.4 141.6,972.5 142.1,972.4 142.6,972.6 143.1,972.6 143.6,972.7 144.1,972.4 144.6,972.3 145.1,971.1 145.5,968.5 145.6,968.8 146.1,971.9 146.6,972.3 147.1,972.5 147.6,972.6 148.1,972.5 148.6,972.5 149.1,972.7 149.6,972.6 150.1,972.5 150.6,972.6 151.1,972.5 151.6,972.3 152.1,972.3 152.6,972.5 153.1,972.4 153.6,972.5 154.1,972.7 154.6,972.6 155.1,972.4 155.6,972.2 156.1,972.2 156.6,972.3 157.1,972.2 157.6,972.4 158.1,972.2 158.6,972.1 159.1,972.1 159.6,972.1 160.1,972.1 160.6,972.2 161.1,972.5 161.6,972.5 162.1,972.3 162.6,972.2 163.1,972.4 163.6,972.4 164.1,970.9 164.5,968.5 164.6,968.7 165.1,971.8 165.6,972.3 166.1,972.5 166.6,972.5 167.1,972.3 167.6,972.4 168.1,972.7 168.6,972.7 169.1,972.7 169.6,972.6 170.1,972.6 170.6,972.6 171.1,972.1 171.6,972.1 172.1,972 172.6,972.3 173.1,972.5 173.6,972.6 174.1,972.7 174.6,972.6 175.1,972.6 175.6,972.6 176.1,972.3 176.6,972.4 177.1,972.6 177.6,972.6 178.1,972.7 178.6,972.7 179.1,971.2 179.4,968.7 179.6,970.2 180.1,972.4 180.6,972.5 181.1,972.4 181.6,972.2 182.1,972.4 182.6,972.4 183.1,972.3 183.6,972.5 184.1,972.4 184.6,972.6 185.1,972.7 185.6,972.6 186.1,972.9 186.6,972.9 187.1,972.6 187.6,973 188.1,973 188.6,972.9 189.1,972.9 189.6,972.6 190.1,972.8 190.6,972.8 191.1,972.2 191.6,970.8 192.1,972.4 192.6,972.4 193.1,972.3 193.6,972.3 194.1,972.4 194.6,972.4 195.1,972.3 195.6,972.5 196.1,972.5 196.6,972.5 197.1,973.6 197.6,980.5 198.1,973.5 198.6,972.6 199.1,972.6 199.6,972.6 200.1,972.5 200.6,971.9 201.1,970.5 201.6,971.9 202.1,972.4 202.6,972.3 203.1,972.5 203.6,972.5 204.1,972.7 204.6,972.5 205.1,972.4 205.6,972.1 206.1,971.3 206.6,972.4 207.1,972.4 207.6,972.6 208.1,972.7 208.6,972.8 209.1,972.6 209.6,972.5 210.1,972.5 210.6,972.7 211.1,972.6 211.6,972.5 212.1,972.3 212.6,972.6 213.1,972.5 213.6,972.6 214.1,972.7 214.6,972.7 215.1,972.8 215.6,972.7 216.1,972.8 216.6,972.9 217.1,972.8 217.6,972.8 218.1,972.7 218.6,972.5 219.1,972.5 219.6,972.8 220.1,973.1 220.6,973.2 221.1,973.5 221.6,974 222.1,974 222.6,974.1 223.1,974.1 223.6,974.6 224.1,975.6 224.6,976.8 225,977.4 225.1,977.8 225.6,977.7 226.1,977.7 226.6,978.7 227,979.3 227.1,979.5 227.6,978.7 228.1,978 228.6,979.7 229.1,982.6 229.3,983 229.6,982 230.1,978.6 230.6,976.9 231.1,976.3 231.6,976.7 232.1,976.6 232.6,975.6 233.1,974.4 233.6,974 234.1,973.3 234.6,972.9 235.1,972.5 235.6,972 236.1,971.7 236.6,971.9 237.1,972.1 237.6,972.2 238.1,972.3 238.6,972.3 239.1,972.3 239.6,971.8 240.1,971 240.6,969.7 241.1,967.9 241.5,967 241.6,967.3 242.1,969.1 242.6,971.3 243.1,973.4 243.6,975.1 244.1,976.2 244.6,976.5 245.1,977.3 245.6,980.4 246,982.2 246.1,982.2 246.6,980.2 247.1,979.5 247.6,981.8 248.1,986 248.3,986.6 248.6,984.8 249.1,980 249.6,977 250.1,976.2 250.6,976.5 251.1,976.5 251.6,975 252.1,973.8 252.6,973 253.1,972.1 253.6,971.4 254.1,971 254.6,971.6 255.1,972.4 255.6,972.6 256.1,972.5 256.6,972.6 257.1,972.8 257.6,972.5 258.1,972.3 258.6,972.3 259.1,972.5 259.6,975.7 260,982 260.1,981.2 260.6,973.7 261.1,972.5 261.6,971.9 262.1,971.5 262.6,970.8 263.1,970.3 263.6,971 264.1,971.8 264.6,971.9 265.1,971.7 265.6,971.7 266.1,971.4 266.6,970.7 267.1,970.3 267.6,971 268.1,971.9 268.6,972.4 269.1,972.6 269.6,973 270.1,973.4 270.6,973 271.1,972.7 271.6,972.1 272.1,971.6 272.6,970.6 273.1,970.5 273.6,971.1 274.1,971.9 274.6,972 275.1,972.1 275.6,971.7 276.1,971.8 276.6,971.2 277.1,971.1 277.6,971.6 278.1,972.1 278.6,972.2 279.1,972.1 279.6,972.1 280.1,972.1 280.6,972.1 281.1,971.9 281.6,971.7 282.1,972.2 282.6,972.1 283.1,960.9 283.3,951.5 283.6,967.5 284,979.8 284.1,979.1 284.6,973.1 285.1,972.5 285.6,971.4 286.1,970.4 286.6,972.4 287.1,973.2 287.6,973.4 288.1,973.4 288.6,972.9 289.1,969.1 289.6,960.6 290.1,972.1 290.6,991.6 290.9,1011.2 291.1,1002.9 291.6,998.1 292.1,1031.5 292.6,1000.3 293.1,991.7 293.6,997 294,1000.2 294.1,999.9 294.6,994.1 295.1,987.9 295.6,985 296.1,984.8 296.6,985.6 297,985.6 297.1,985.5 297.6,983.6 298.1,981.4 298.6,979.5 299.1,978.1 299.6,977.5 300.1,977.4 300.6,977 301.1,976.7 301.6,976 302.1,975.5 302.6,974.6 303.1,974 303.6,973.5 304.1,973.1 304.6,972.7 305.1,971.8 305.6,970.6 306.1,969.4 306.6,967.7 307.1,966.4 307.3,966.4 307.6,966.7 308.1,968 308.6,969.5 309.1,970.8 309.6,972.3 310.1,974 310.6,973.2 311.1,974 311.6,975.3 312.1,976.3 312.6,976.4 313.1,977.6 313.6,981 314,983.2 314.1,982.5 314.6,979 315.1,976.4 315.6,976.1 316.1,976.8 316.6,974.4 317.1,973.6 317.6,973 318.1,973.2 318.6,973.2 319.1,975.9 319.6,999.9 320.1,975.6 320.6,971.2 321,967.9 321.1,968 321.6,971.5 322.1,970.7 322.6,959.3 322.8,954.7 323.1,963 323.6,971.1 324.1,973.2 324.6,975.3 325.1,973.1 325.6,974.6 326.1,987.5 326.5,1012.7 326.6,1009.7 327.1,979.8 327.6,976.5 328,978.9 328.1,978.7 328.6,974 329.1,972.8 329.6,972.6 330.1,972.5 330.6,971.6 331.1,970.6 331.6,971.9 332.1,972.1 332.6,972 333.1,972 333.6,972.2 334.1,972.2 334.6,971.8 335.1,972 335.6,971.8 336.1,971.8 336.6,972 337.1,972.3 337.6,972.6 338.1,972.4 338.6,972.4 339.1,972.6 339.6,972.6 340.1,972.5 340.6,972.4 341.1,972.5 341.6,972.6 342.1,972.7 342.6,972.8 343.1,976.3 343.3,978.4 343.6,974.9 344.1,972.5 344.6,972.6 345.1,972.5 345.6,972.5 346.1,972.2 346.6,972.2 347.1,971.5 347.6,971.4 348.1,971.5 348.6,971.9 349.1,972.2 349.6,972.8 350.1,973.9 350.6,972.3 351.1,972.3 351.6,972.2 352.1,972.1 352.6,972.1 353.1,972 353.6,972.3 354.1,972.2" fill="none" stroke="url(#g16)" stroke-width="1.0" stroke-linejoin="round" clip-path="url(#k16)"/>
<rect x="358.5" y="921.5" width="36" height="122" fill="none" stroke="#2a2a2a" stroke-width="1"/>
<path d="M365,1043.5v-2M365,921.5v2M372,1043.5v-2M372,921.5v2M379,1043.5v-2M379,921.5v2M386,1043.5v-2M386,921.5v2" stroke="#2a2a2a" stroke-width="0.8" fill="none"/>
<polyline points="359,976 359.5,976.4 360,976.6 360.5,976.7 361,977 361.5,976.7 362,976.4 362.5,976 363,976 363.5,976.1 364,976.1 364.5,974.6 365,955.7 365.2,939.9 365.5,964 366,975.1 366.5,976.4 367,977.8 367.5,976.1 368,975.3 368.5,975.1 369,974.6 369.5,975.2 370,975.6 370.5,976 371,976.1 371.5,976.1 372,976.4 372.5,976.5 373,976.6 373.5,976.7 374,976.4 374.5,976.2 375,975.9 375.5,975.8 376,975.6 376.5,975.4 377,975.3 377.5,975.4 378,975.4 378.5,975.6 379,975.9 379.5,975.6 380,976 380.5,976 381,976.4 381.5,977.6 382,982.2 382.5,978.2 383,977.4 383.5,979.1 384,973.7 384.4,959.2 384.5,965.3 385,1038.8 385.5,982.8 386,978 386.5,984.2 387,977.5 387.5,977.3 388,979.9 388.5,977 389,976.2 389.5,977.1 390,978.8 390.5,977.1 391,980.1 391.3,986 391.5,982.5 392,976.6 392.5,974.7 393,976.1 393.5,976 394,976" fill="none" stroke="url(#g17)" stroke-width="1.0" stroke-linejoin="round" clip-path="url(#k17)"/>
<rect x="397.5" y="921.5" width="318" height="122" fill="none" stroke="#2a2a2a" stroke-width="1"/>
<path d="M404.8,1043.5v-2M404.8,921.5v2M413.2,1043.5v-2M413.2,921.5v2M421.6,1043.5v-2M421.6,921.5v2M438.4,1043.5v-2M438.4,921.5v2M446.8,1043.5v-2M446.8,921.5v2M455.2,1043.5v-2M455.2,921.5v2M463.6,1043.5v-2M463.6,921.5v2M480.4,1043.5v-2M480.4,921.5v2M488.8,1043.5v-2M488.8,921.5v2M497.2,1043.5v-2M497.2,921.5v2M505.6,1043.5v-2M505.6,921.5v2M522.4,1043.5v-2M522.4,921.5v2M530.8,1043.5v-2M530.8,921.5v2M539.2,1043.5v-2M539.2,921.5v2M547.6,1043.5v-2M547.6,921.5v2M564.5,1043.5v-2M564.5,921.5v2M572.9,1043.5v-2M572.9,921.5v2M581.3,1043.5v-2M581.3,921.5v2M589.7,1043.5v-2M589.7,921.5v2M606.5,1043.5v-2M606.5,921.5v2M614.9,1043.5v-2M614.9,921.5v2M623.3,1043.5v-2M623.3,921.5v2M631.7,1043.5v-2M631.7,921.5v2M648.5,1043.5v-2M648.5,921.5v2M656.9,1043.5v-2M656.9,921.5v2M665.3,1043.5v-2M665.3,921.5v2M673.7,1043.5v-2M673.7,921.5v2M690.5,1043.5v-2M690.5,921.5v2M698.9,1043.5v-2M698.9,921.5v2M707.3,1043.5v-2M707.3,921.5v2M430,1043.5v-3.2M430,921.5v3.2M472,1043.5v-3.2M472,921.5v3.2M514,1043.5v-3.2M514,921.5v3.2M556,1043.5v-3.2M556,921.5v3.2M598.1,1043.5v-3.2M598.1,921.5v3.2M640.1,1043.5v-3.2M640.1,921.5v3.2M682.1,1043.5v-3.2M682.1,921.5v3.2" stroke="#2a2a2a" stroke-width="0.8" fill="none"/>
<text x="430" y="1056.8" text-anchor="middle">4</text>
<text x="472" y="1056.8" text-anchor="middle">3.5</text>
<text x="514" y="1056.8" text-anchor="middle">3</text>
<text x="556" y="1056.8" text-anchor="middle">2.5</text>
<text x="598.1" y="1056.8" text-anchor="middle">2</text>
<text x="640.1" y="1056.8" text-anchor="middle">1.5</text>
<text x="682.1" y="1056.8" text-anchor="middle">1</text>
<polyline points="397.6,972.7 398.1,971.8 398.6,973.1 399.1,973.4 399.6,973.7 400.1,973.6 400.6,973.7 401.1,973.5 401.6,973.3 402.1,973.6 402.6,973.5 403.1,973.5 403.6,973.4 404.1,973.1 404.6,972.7 405.1,972.4 405.6,973.1 406.1,973.4 406.6,973.6 407.1,973.4 407.6,973.6 408.1,973.4 408.6,973.4 409.1,973.2 409.6,973.3 410.1,973.2 410.6,973 411.1,972.8 411.6,972 412.1,971.5 412.6,971.9 413.1,972.4 413.6,972.8 414.1,973 414.6,973.2 415.1,973.1 415.6,973.1 416.1,973.1 416.6,974 417.1,974.8 417.6,973.6 418.1,973.4 418.6,973.4 419.1,973.5 419.6,973.8 420.1,973.5 420.6,973.3 421.1,973 421.6,973.1 422.1,973.2 422.6,973.4 423.1,973.1 423.6,973.2 424.1,973 424.6,972.2 425.1,971.9 425.6,972.2 426.1,972.7 426.6,973 427.1,973.2 427.6,973.2 428.1,973.2 428.6,973.3 429.1,973.5 429.6,973.5 430.1,973.5 430.6,973.5 431.1,973.2 431.6,972.9 432.1,972.4 432.6,973.5 433.1,973.8 433.6,973.6 434.1,973.6 434.6,973.5 435.1,973.4 435.6,973.4 436.1,973.6 436.6,973.6 437.1,973.8 437.6,973.7 438.1,972.3 438.6,964.6 439.1,973.3 439.6,981.5 440.1,975.1 440.6,974 441.1,973.5 441.6,972.5 442.1,970.8 442.6,973.1 443.1,973.3 443.6,973.5 444.1,975.8 444.5,983.4 444.6,982 445.1,971.4 445.5,961.6 445.6,962.9 446.1,971.9 446.6,972 447,969.5 447.1,969.8 447.6,972.5 448.1,972.9 448.6,966.8 448.8,962.8 449.1,969.4 449.6,973.4 450.1,973.7 450.6,976.6 450.8,978.3 451.1,975.5 451.6,972.6 452,969.9 452.1,970.1 452.6,973 453.1,973.2 453.6,967 453.8,963.5 454.1,969.3 454.6,972.9 455.1,973.2 455.6,972.4 456.1,967.3 456.4,959.1 456.6,964.3 457.1,972 457.6,966.7 457.9,957.4 458.1,963.5 458.6,972.7 459.1,973.4 459.6,971.7 460,968.4 460.1,969.2 460.6,973.1 461.1,973.8 461.6,974.9 462.1,976.6 462.6,974.3 463.1,973.6 463.6,973.4 464.1,972.3 464.6,958.7 464.7,956.8 465.1,969.6 465.6,972.3 466.1,967.2 466.5,949.3 466.6,952 467.1,970.9 467.6,973 468.1,975.4 468.5,981.8 468.6,981 469.1,974.7 469.6,974 470.1,973.9 470.6,975.8 471,982.8 471.1,981.6 471.6,974.4 472.1,973.6 472.6,971.8 473,968.6 473.1,969.1 473.6,972.8 474.1,973.4 474.6,973.6 475.1,975.4 475.6,986.5 476.1,975.6 476.6,973.9 477.1,972.9 477.6,971 478.1,973.3 478.6,973.5 479.1,973.8 479.6,977.5 480,990.5 480.1,988.3 480.6,975 481.1,973.8 481.6,972.8 482.1,971.5 482.6,973.2 483.1,973.6 483.6,974.5 484.1,980.6 484.2,981.3 484.6,975.2 485.1,973.4 485.6,973.2 486.1,973.3 486.6,974.1 487.1,975.3 487.6,974.1 488.1,973.8 488.6,974 489.1,974.4 489.6,974.7 490.1,975 490.6,974.4 491.1,973.9 491.6,973.7 492.1,973.6 492.6,973.6 493.1,973.8 493.6,976.3 493.9,978.8 494.1,977.4 494.6,974.4 495.1,973.9 495.6,973.6 496.1,973.3 496.6,967.2 496.9,954 497.1,961 497.5,964.6 497.6,965.6 498.1,972.8 498.6,973.5 499.1,973.6 499.6,974.3 500.1,975.2 500.6,973.7 501.1,973.3 501.6,973.3 502.1,973.6 502.6,973.9 503.1,973.8 503.6,974 504.1,974 504.6,974.1 505.1,974.3 505.6,973.9 506.1,974 506.6,973.9 507.1,973.8 507.6,973.6 508.1,973.7 508.6,973.8 509.1,974 509.6,974.3 510.1,974.5 510.6,974.1 511.1,973.8 511.6,973.5 512.1,973.5 512.6,973.7 513.1,973.8 513.6,974.5 514.1,975.5 514.6,974.2 515.1,973.8 515.6,973.7 516.1,973.9 516.6,974.5 517.1,978.4 517.4,981.1 517.6,979.7 518.1,975.2 518.6,974.4 519.1,973.8 519.6,974.5 520.1,975.5 520.6,973.8 521.1,973.3 521.6,973.2 522.1,973.4 522.6,973.4 523.1,973.6 523.6,974 524.1,973.6 524.6,972.7 525.1,971.7 525.6,973 526.1,973.2 526.6,973.4 527.1,973.4 527.6,973.3 528.1,973.5 528.6,973.1 529.1,972.1 529.6,966.1 529.9,961.9 530.1,964.1 530.6,970.8 531.1,969.9 531.5,967.3 531.6,967.8 532.1,972.3 532.6,974.5 533.1,976.1 533.6,974.5 534.1,974.4 534.6,978.9 535,987.6 535.1,986.5 535.6,975.9 536.1,974.3 536.6,975.7 537.1,993.6 537.5,1053.6 537.6,1044.5 538.1,981 538.6,974.1 539.1,967.3 539.5,937.9 539.6,942.9 540.1,971.3 540.6,974.7 541,978.1 541.1,978 541.6,974 542.1,972 542.5,970 542.6,970.6 543.1,977.8 543.3,979.8 543.6,977.2 544.1,974.2 544.6,972.8 545.1,971.7 545.6,973.2 546.1,973.7 546.6,974.9 547.1,976.3 547.6,974.2 548.1,973.6 548.6,973.9 549.1,976.4 549.6,982.2 550.1,976.4 550.6,973.9 551.1,974 551.6,975.6 552,978.1 552.1,977.8 552.6,974.5 553.1,973.2 553.6,973.2 554.1,973.5 554.6,973.6 555.1,973.5 555.6,972.9 556.1,972.4 556.6,972.1 557.1,971.5 557.6,970.9 558.1,970.6 558.6,970.7 559.1,970.6 559.6,970.4 560.1,969.8 560.6,968.8 561.1,967 561.6,965.9 561.8,965.9 562.1,966.2 562.6,967.7 563.1,969 563.6,970.1 564.1,970.5 564.6,970.5 565.1,970.6 565.6,971.4 566.1,971.9 566.6,972.4 567.1,972.2 567.6,972.4 568.1,971.9 568.6,971.1 569.1,969.6 569.4,969.2 569.6,969.6 570.1,971.2 570.6,972.3 571.1,972.6 571.6,972.9 572.1,973 572.6,972.9 573.1,973 573.6,973.2 574.1,973.1 574.6,973.4 575.1,973.4 575.6,973.3 576.1,973.2 576.6,973.3 577.1,973.3 577.6,973.1 578.1,973.1 578.6,973.2 579.1,973.1 579.6,973 580.1,973.3 580.6,973.1 581.1,973.1 581.6,973.3 582.1,973.2 582.6,973.3 583.1,972.9 583.6,972.5 584.1,972.3 584.6,971.8 585.1,970.5 585.6,968.5 586.1,964.3 586.6,960.5 587.1,964.3 587.6,968.6 588.1,970.5 588.6,971.8 589.1,972.4 589.6,972.5 590.1,972.9 590.6,973.2 591.1,973.5 591.6,973.5 592.1,973.4 592.6,973.5 593.1,973.6 593.6,973.8 594.1,973.5 594.6,973.6 595.1,973.7 595.6,973.6 596.1,973.7 596.6,973.5 597.1,973.5 597.6,973.7 598.1,973.9 598.6,974.1 599.1,973.9 599.6,973 600.1,967.1 600.5,955.5 600.6,956.5 601.1,964 601.5,954 601.6,956 602.1,971.7 602.6,974.6 603.1,975.1 603.6,975.7 604.1,976.7 604.6,977.5 605.1,978.6 605.6,980.4 606.1,982.4 606.6,984.5 607.1,986.7 607.4,987 607.6,986.7 608.1,985.5 608.6,983.5 609.1,981.8 609.6,980.8 610.1,980.4 610.6,980.3 611,979.9 611.1,979.9 611.6,979.2 612.1,978.5 612.6,977.4 613.1,976.6 613.6,976.2 614.1,975.8 614.6,975.2 615.1,974.9 615.6,974.1 616.1,974 616.6,973.8 617.1,973.6 617.6,973.7 618.1,973.6 618.6,973.3 619.1,972.9 619.6,972.4 620.1,972 620.6,970.9 621.1,970 621.3,970 621.6,970 622.1,971.3 622.6,972 623.1,972.4 623.6,972.6 624.1,973 624.6,973.1 625.1,973.3 625.6,973.4 626.1,973.2 626.6,973.2 627.1,973.2 627.6,973.4 628.1,973.6 628.6,973.3 629.1,973.3 629.6,973.5 630.1,973.6 630.6,973.4 631.1,973.5 631.6,973.3 632.1,973.4 632.6,973.3 633.1,973.3 633.6,973.3 634.1,973.3 634.6,973.1 635.1,973.3 635.6,973.2 636.1,973.3 636.6,973.4 637.1,973.3 637.6,973.3 638.1,973.5 638.6,973.3 639.1,973.4 639.6,973.4 640.1,973.1 640.6,972.7 641.1,972.2 641.6,971.1 642.1,969.7 642.3,969.5 642.6,969.9 643.1,970.9 643.6,971.6 644.1,972 644.6,972.1 645.1,971.9 645.6,972 646.1,971.5 646.6,970.5 647.1,970.2 647.6,970.6 648.1,971.1 648.6,971 649.1,969.6 649.6,967.1 649.9,966.3 650.1,966.6 650.6,969.4 651.1,971.2 651.6,972.3 652.1,972.7 652.6,973 653.1,973.3 653.6,973.4 654.1,973.4 654.6,973.4 655.1,973.6 655.6,973.5 656.1,973.5 656.6,973.4 657.1,973.6 657.6,973.6 658.1,974.7 658.6,979.7 658.8,981.4 659.1,978.6 659.6,974.9 660.1,973.7 660.6,972.5 661.1,971.1 661.6,973.1 662.1,973.6 662.6,973.7 663.1,973.7 663.6,973.5 664.1,973.6 664.6,973.7 665.1,973.7 665.6,973.4 666.1,973.3 666.6,973 667.1,973.3 667.6,973.2 668.1,973.2 668.6,973.3 669.1,973.4 669.6,973.6 670.1,973.6 670.6,973.5 671.1,973.1 671.6,972.2 672.1,973.5 672.6,973.6 673.1,973.5 673.6,973.6 674.1,973.9 674.6,973.7 675.1,973.7 675.6,973.8 676.1,973.9 676.6,973.4 677.1,973.6 677.6,973.4 678.1,973.4 678.6,973.4 679.1,973.4 679.6,973.4 680.1,973.6 680.6,973.7 681.1,973.7 681.6,973.6 682.1,973.3 682.6,973.1 683.1,973.2 683.6,973.2 684.1,973.1 684.6,973.1 685.1,973.4 685.6,973.3 686.1,973.5 686.6,973.6 687.1,973.5 687.6,973.4 688.1,973.4 688.6,973.5 689.1,973.6 689.6,973.7 690.1,973.6 690.6,973.7 691.1,973.6 691.6,973.5 692.1,973.6 692.6,973.5 693.1,973.4 693.6,973.3 694.1,973.3 694.6,973 695.1,972.4 695.6,973.2 696.1,973.4 696.6,973.5 697.1,973.7 697.6,973.7 698.1,973.7 698.6,973.8 699.1,973.5 699.6,973.3 700.1,973.7 700.6,973.6 701.1,973.1 701.6,973.2 702.1,973.3 702.6,973.5 703.1,973.3 703.6,973.2 704.1,973.3 704.6,973.3 705.1,973.3 705.6,973.4 706.1,973.5 706.6,973.4 707.1,973.4 707.6,973.4 708.1,973.6 708.6,973.7 709.1,973.5 709.6,973.6 710.1,973.6 710.6,973.5 711.1,973.6 711.6,973.7 712.1,973.7 712.6,973.5 713.1,973.3 713.6,973.4 714.1,973.4 714.6,973.3" fill="none" stroke="url(#g18)" stroke-width="1.0" stroke-linejoin="round" clip-path="url(#k18)"/>
<text x="142.7" y="938" font-weight="bold" font-style="italic" font-size="12.5" textLength="55.2" lengthAdjust="spacingAndGlyphs" fill="#111">Atmmd1</text>
<text x="142.7" y="1038.8" font-weight="bold" font-size="12.5" textLength="22.8" lengthAdjust="spacingAndGlyphs" fill="#111">L<tspan font-style="italic">er</tspan></text>
<text x="154.8" y="957.5" text-anchor="middle">62</text>
<polyline points="145.7,965.4 154.1,958.8 162.9,966.4" fill="none" stroke="#2a2a2a" stroke-width="0.9"/>
<text x="176.9" y="951.2" text-anchor="middle">52</text>
<polyline points="179.5,953.7 179.5,966.4" fill="none" stroke="#2a2a2a" stroke-width="0.9"/>
<text x="190.8" y="957.5" text-anchor="middle">61</text>
<polyline points="191.5,957.8 191.5,968.9" fill="none" stroke="#2a2a2a" stroke-width="0.9"/>
<text x="197.1" y="1004.4" text-anchor="middle">51</text>
<polyline points="197.5,979.8 197.5,993.2" fill="none" stroke="#2a2a2a" stroke-width="0.9"/>
<text x="228.8" y="1006.1" text-anchor="middle">56</text>
<polyline points="229.5,982.3 229.5,994.2" fill="none" stroke="#2a2a2a" stroke-width="0.9"/>
<text x="247.8" y="1021.3" text-anchor="middle">45</text>
<polyline points="248.5,986.1 248.5,1007.7" fill="none" stroke="#2a2a2a" stroke-width="0.9"/>
<text x="260.5" y="1008.2" text-anchor="middle">59</text>
<polyline points="260.5,983.6 260.5,995" fill="none" stroke="#2a2a2a" stroke-width="0.9"/>
<text x="289.1" y="942.3" text-anchor="middle">57</text>
<polyline points="289.5,944.3 289.5,957" fill="none" stroke="#2a2a2a" stroke-width="0.9"/>
<text x="278.2" y="1037.3" text-anchor="middle">56</text>
<polyline points="287.1,1032.3 291.4,1027.9" fill="none" stroke="#2a2a2a" stroke-width="0.9"/>
<text x="310.4" y="1013.8" text-anchor="middle">55</text>
<polyline points="312.4,1002.4 314,988.8" fill="none" stroke="#2a2a2a" stroke-width="0.9"/>
<text x="318.5" y="1025.1" text-anchor="middle">54</text>
<polyline points="319.5,1001.6 319.5,1012.8" fill="none" stroke="#2a2a2a" stroke-width="0.9"/>
<text x="337.7" y="1038.7" text-anchor="middle">48,49</text>
<polyline points="343.5,980.8 343.5,1030.4" fill="none" stroke="#2a2a2a" stroke-width="0.9"/>
<text x="366.5" y="937.9" text-anchor="middle">42</text>
<text x="367.6" y="1008.3" text-anchor="middle">38</text>
<polyline points="376.4,1000.5 391.1,985.6" fill="none" stroke="#2a2a2a" stroke-width="0.9"/>
<text x="372.4" y="1036.8" text-anchor="middle">39</text>
<polyline points="376.4,1025.6 382.8,1016" fill="none" stroke="#2a2a2a" stroke-width="0.9"/>
<text x="431" y="937.7" text-anchor="middle">sugars &amp;</text>
<text x="432.6" y="951.9" text-anchor="middle">amino acids</text>
<polyline points="442.7,955.5 465.5,955.5" fill="none" stroke="#2a2a2a" stroke-width="0.9"/>
<text x="471.6" y="936.7" text-anchor="middle">23</text>
<polyline points="470.6,941.8 466.8,949.4" fill="none" stroke="#2a2a2a" stroke-width="0.9"/>
<text x="497.7" y="939.8" text-anchor="middle">24</text>
<polyline points="497.5,941.8 497.5,953.2" fill="none" stroke="#2a2a2a" stroke-width="0.9"/>
<text x="530.6" y="946.1" text-anchor="middle">21</text>
<polyline points="531.5,945.6 531.5,954.5" fill="none" stroke="#2a2a2a" stroke-width="0.9"/>
<text x="561" y="943.6" text-anchor="middle">13</text>
<polyline points="561.5,945.6 561.5,963.3" fill="none" stroke="#2a2a2a" stroke-width="0.9"/>
<text x="570.4" y="955" text-anchor="middle">10</text>
<polyline points="569.5,957.8 569.5,967.1" fill="none" stroke="#2a2a2a" stroke-width="0.9"/>
<text x="444.5" y="1014.5" text-anchor="middle">32</text>
<polyline points="444.5,986.1 444.5,998.3" fill="none" stroke="#2a2a2a" stroke-width="0.9"/>
<text x="471.6" y="1014.5" text-anchor="middle">30</text>
<polyline points="475.5,987.4 475.5,1000.8" fill="none" stroke="#2a2a2a" stroke-width="0.9"/>
<text x="480.4" y="1036" text-anchor="middle">4</text>
<polyline points="480.5,990.7 480.5,1024.1" fill="none" stroke="#2a2a2a" stroke-width="0.9"/>
<text x="488.8" y="1020.3" text-anchor="middle">29</text>
<polyline points="485.5,980.6 485.5,1007.7" fill="none" stroke="#2a2a2a" stroke-width="0.9"/>
<text x="502" y="1006.9" text-anchor="middle">25,26</text>
<polyline points="493.5,981.1 493.5,994.2" fill="none" stroke="#2a2a2a" stroke-width="0.9"/>
<text x="519.2" y="996.8" text-anchor="middle">31</text>
<polyline points="517.5,978.5 517.5,986.1" fill="none" stroke="#2a2a2a" stroke-width="0.9"/>
<text x="530.6" y="1010.2" text-anchor="middle">20</text>
<polyline points="529.3,997.5 534.9,987.4" fill="none" stroke="#2a2a2a" stroke-width="0.9"/>
<text x="547.6" y="1012" text-anchor="middle">19</text>
<polyline points="543.3,988.2 546.6,997.5 549.6,988.7" fill="none" stroke="#2a2a2a" stroke-width="0.9"/>
<text x="524.8" y="1036.6" text-anchor="middle">U</text>
<polyline points="530.6,1029.2 536.4,1021.6" fill="none" stroke="#2a2a2a" stroke-width="0.9"/>
<text x="587.4" y="936.7" text-anchor="middle">13,15</text>
<polyline points="586.5,939.3 586.5,958.3" fill="none" stroke="#2a2a2a" stroke-width="0.9"/>
<text x="601.8" y="947.4" text-anchor="middle">12</text>
<polyline points="601.5,948.1 601.5,958.3" fill="none" stroke="#2a2a2a" stroke-width="0.9"/>
<text x="622.1" y="952.9" text-anchor="middle">8,9</text>
<polyline points="621.5,953.2 621.5,968.4" fill="none" stroke="#2a2a2a" stroke-width="0.9"/>
<text x="641.6" y="953.7" text-anchor="middle">7</text>
<polyline points="642.5,956.2 642.5,968.9" fill="none" stroke="#2a2a2a" stroke-width="0.9"/>
<text x="657.5" y="948.6" text-anchor="middle">5,6</text>
<polyline points="649.5,951.9 649.5,966.4" fill="none" stroke="#2a2a2a" stroke-width="0.9"/>
<text x="608.1" y="1012" text-anchor="middle">11</text>
<polyline points="607.5,987.4 607.5,1000.1" fill="none" stroke="#2a2a2a" stroke-width="0.9"/>
<text x="658.8" y="1011.2" text-anchor="middle">U1</text>
<polyline points="658.5,983.6 658.5,995.8" fill="none" stroke="#2a2a2a" stroke-width="0.9"/>
<text x="672.7" y="1001.1" text-anchor="middle">4</text>
<polyline points="671.5,977.3 671.5,988.7" fill="none" stroke="#2a2a2a" stroke-width="0.9"/>
<text x="695" y="1003.1" text-anchor="middle">53</text>
<polyline points="694.5,977.3 694.5,988.7" fill="none" stroke="#2a2a2a" stroke-width="0.9"/>
<rect x="715.5" y="920.5" width="10" height="123" fill="url(#jetv)" stroke="#111" stroke-width="1"/>
<polyline points="715.5,1029.5 717.3,1029.5" fill="none" stroke="#111" stroke-width="0.8"/>
<polyline points="723.7,1029.5 725.5,1029.5" fill="none" stroke="#111" stroke-width="0.8"/>
<polyline points="715.5,1016.5 717.3,1016.5" fill="none" stroke="#111" stroke-width="0.8"/>
<polyline points="723.7,1016.5 725.5,1016.5" fill="none" stroke="#111" stroke-width="0.8"/>
<polyline points="715.5,1002.5 717.3,1002.5" fill="none" stroke="#111" stroke-width="0.8"/>
<polyline points="723.7,1002.5 725.5,1002.5" fill="none" stroke="#111" stroke-width="0.8"/>
<polyline points="715.5,989.5 717.3,989.5" fill="none" stroke="#111" stroke-width="0.8"/>
<polyline points="723.7,989.5 725.5,989.5" fill="none" stroke="#111" stroke-width="0.8"/>
<polyline points="715.5,975.5 717.3,975.5" fill="none" stroke="#111" stroke-width="0.8"/>
<polyline points="723.7,975.5 725.5,975.5" fill="none" stroke="#111" stroke-width="0.8"/>
<polyline points="715.5,962.5 717.3,962.5" fill="none" stroke="#111" stroke-width="0.8"/>
<polyline points="723.7,962.5 725.5,962.5" fill="none" stroke="#111" stroke-width="0.8"/>
<polyline points="715.5,948.5 717.3,948.5" fill="none" stroke="#111" stroke-width="0.8"/>
<polyline points="723.7,948.5 725.5,948.5" fill="none" stroke="#111" stroke-width="0.8"/>
<polyline points="715.5,935.5 717.3,935.5" fill="none" stroke="#111" stroke-width="0.8"/>
<polyline points="723.7,935.5 725.5,935.5" fill="none" stroke="#111" stroke-width="0.8"/>
<text x="728.6" y="939.8">0.8</text>
<text x="728.6" y="967.1">0.6</text>
<text x="728.6" y="994.2">0.4</text>
<text x="728.6" y="1022.1">0.2</text>
<text x="728.6" y="1048.2">0</text>
</svg></body></html>
